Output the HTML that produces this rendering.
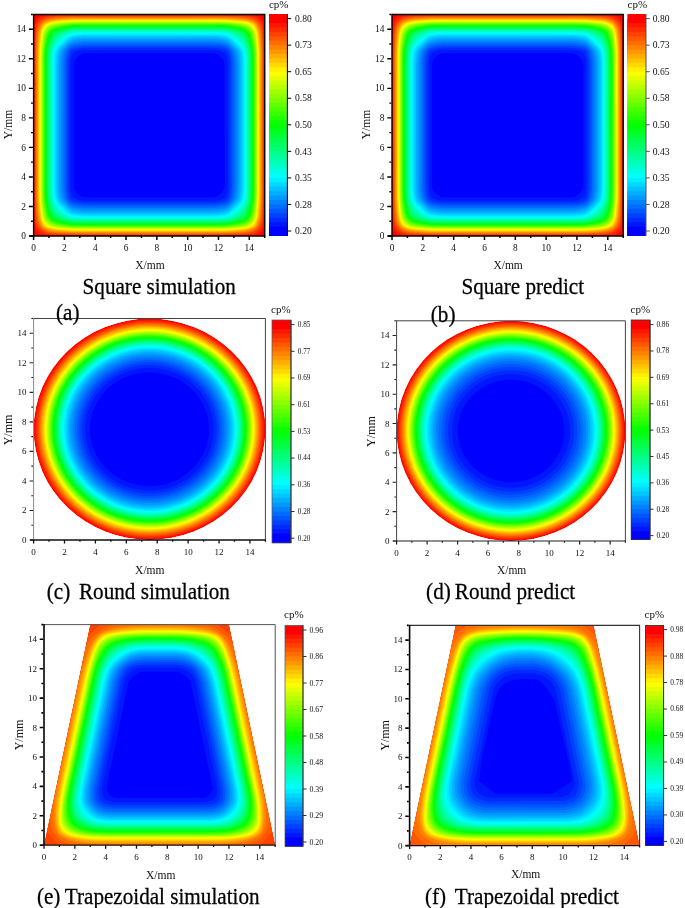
<!DOCTYPE html><html><head><meta charset="utf-8"><style>html,body{margin:0;padding:0;background:#fff;}body{width:685px;height:908px;overflow:hidden;}svg{display:block;filter:blur(0.45px);}</style></head><body><svg width="685" height="908" viewBox="0 0 685 908"><defs><clipPath id="clipa"><rect x="33.60" y="14.50" width="231.10" height="221.50"/></clipPath><clipPath id="clipb"><rect x="392.00" y="14.50" width="231.20" height="221.50"/></clipPath><clipPath id="clipc"><ellipse cx="149.50" cy="429.25" rx="115.90" ry="110.75"/></clipPath><clipPath id="clipd"><ellipse cx="511.00" cy="430.90" rx="114.40" ry="110.10"/></clipPath><clipPath id="clipe"><polygon points="44.00,845.20 275.20,845.20 228.96,624.60 90.24,624.60"/></clipPath><clipPath id="clipf"><polygon points="409.60,845.60 639.60,845.60 593.60,625.40 455.60,625.40"/></clipPath></defs><g clip-path="url(#clipa)"><rect x="33.60" y="14.50" width="231.10" height="221.50" fill="#ff0000"/><path fill="#ff1600" d="M247 236L252.6 235.6L255.6 235.2L258.9 234.2L260.9 232.9L262.4 231.2L263.5 228.5L264.2 225.8L264.6 221.5L264.6 29.5L264.2 25.2L263.7 22.5L262.6 19.8L261.4 18L259.4 16.6L256.1 15.4L252.8 14.9L247 14.5L51.3 14.5L45.4 14.9L42.4 15.4L39.1 16.5L37.1 17.9L35.6 19.9L34.5 23L34 26L33.6 31.4L33.6 219.1L34 224.5L34.5 227.5L35.6 230.5L37 232.5L39.1 234L42.4 235.1L45.4 235.6L51.3 236L247 236Z"/><path fill="#ff2b00" d="M232.1 235.5L248.1 235L253.1 234.3L255.8 233.5L257.6 232.6L259.1 231.5L260.1 230.5L261.2 229L262.6 226L263.4 222L263.9 215L264.3 197.8L264.2 48.5L263.9 34L263.3 27.8L262.8 25.2L262.3 23.5L261.4 21.7L260.1 20L258.5 18.5L256.1 17.1L253.8 16.4L250.6 15.8L242.1 15.2L221.1 14.9L82.1 14.9L58.6 15.2L50.9 15.5L45.1 16.2L41.9 17.3L38.9 19.2L37.4 21.1L36.1 23.2L35.5 25.2L34.9 28.5L34.3 36.8L34 56.5L34 189L34.3 211L34.6 219L35.3 224.8L36.4 227.8L38.2 230.5L39.4 231.6L41.1 232.8L42.9 233.6L44.6 234.2L50.1 235L57.9 235.3L83.8 235.6L232.1 235.5Z"/><path fill="#ff4100" d="M233.9 234.8L243.1 234.4L247.8 234.1L252.6 233.2L255.3 232.2L256.9 231.2L258.4 230L259.7 228.5L260.8 227L261.8 224.2L262.7 219.5L263.2 211.2L263.6 193.8L263.6 50.5L263.1 36.2L262.6 30L261.5 25L260.6 23.2L259.4 21.5L257.4 19.6L255.3 18.3L253.3 17.5L250.1 16.8L242.8 16L224.8 15.6L85.1 15.5L67.6 15.7L54.6 16.1L48.6 16.7L45.6 17.3L43.9 17.9L42.1 18.8L40.4 20.1L38.6 22L37.3 24L36.6 25.8L35.9 29L35.2 36L34.7 53L34.8 202.2L35.2 215.2L35.8 221L36.9 225.8L37.8 227.5L39 229L40.5 230.5L42.1 231.7L43.6 232.5L45.4 233.1L48.4 233.8L51.6 234.2L60.6 234.6L71.6 234.9L85.1 235L214.8 235L233.9 234.8Z"/><path fill="#ff5700" d="M227.9 234.2L245.6 233.5L250.1 232.8L253.8 231.7L255.3 230.8L256.6 229.9L258.5 228L259.6 226.6L260.9 223.8L261.9 219.2L262.5 210.8L263 193.8L262.9 51.5L262.4 37.8L261.9 31.5L261.3 28.5L260.5 25.8L259.8 24.2L258.7 22.8L256.4 20.5L254.6 19.2L252.6 18.4L249.3 17.6L246.1 17.1L242.1 16.8L225.1 16.2L70.1 16.3L56.9 16.7L50.6 17.3L47.6 17.9L45.1 18.6L43.4 19.4L41.9 20.5L39.8 22.5L38.5 24.2L37.6 26.2L36.7 29.5L36.3 32.5L36 36.2L35.4 52.5L35.4 200.5L35.9 213.2L36.4 219.2L37 222.2L37.8 224.8L38.5 226.2L39.6 227.8L41.6 229.8L43.4 231.1L45.1 231.9L47.6 232.6L53.6 233.6L66.1 234.1L85.1 234.4L227.9 234.2Z"/><path fill="#ff6d00" d="M213.6 233.8L227.1 233.6L240.1 233.1L246.1 232.6L250.6 231.7L252.8 231L254.3 230.2L256.1 228.9L257.6 227.5L258.7 226L259.4 224.8L260.8 220.2L261.3 217.2L261.7 212.8L262.3 195.8L262.3 52.2L261.7 38.8L261.2 32.2L260.6 29.5L259.9 26.9L259 25L258 23.5L256.1 21.6L253.9 20L251.3 19L248.3 18.2L245.3 17.8L241.1 17.4L224.8 16.8L71.1 16.9L57.6 17.4L51.4 18L48.4 18.6L45.9 19.4L44.1 20.2L42.6 21.2L40.7 23L39.3 25L38.3 27.2L37.5 30.2L37 33L36.7 37L36 52.8L36.1 199.8L36.6 212.5L37.2 218.5L37.7 221.2L38.5 223.8L39.3 225.5L40.3 227L42.1 228.8L44.1 230.3L45.9 231.1L48.6 232L51.6 232.5L54.6 232.9L67.3 233.5L84.3 233.7L213.6 233.8Z"/><path fill="#ff8200" d="M228.5 233L239.8 232.4L245.3 232L249.6 231.1L253.1 229.8L255.8 228L257 226.8L258.1 225.2L259.6 221.5L260.5 217.2L261 212.5L261.5 203L261.7 191.8L261.7 52L261 38.8L260.4 32.2L259.8 29.5L258.9 27L257.9 25L256.8 23.5L255.1 21.9L252.8 20.6L249.6 19.4L246.1 18.6L240.8 18.1L230.6 17.6L217.1 17.3L71.1 17.5L57.9 18.1L51.6 18.7L48.6 19.4L46.1 20.3L44.4 21.1L42.6 22.4L40.9 24.2L39.7 26.2L38.6 29.2L37.9 32.5L37.4 37.5L36.8 47.2L36.6 60.2L36.7 200L37.3 212.5L38 218.5L38.5 221L39.4 223.5L40.2 225.2L41.5 227L43.1 228.5L45.1 229.8L47.6 230.8L50.6 231.6L56.9 232.3L70.3 233L85.1 233.2L212.3 233.2L228.5 233Z"/><path fill="#ff9800" d="M225.6 232.5L238.1 231.9L244.6 231.3L248.6 230.6L252.6 229.1L255.1 227.6L256.2 226.5L257.1 225.2L258.8 221.2L259.8 217L260.3 212.2L260.9 202.8L261.1 191.5L261.1 52.2L260.4 39.2L259.7 32.8L259.1 30.2L258.3 27.8L257.2 25.5L256.2 24L254.5 22.5L252.6 21.4L249.1 20.1L245.6 19.3L240.3 18.8L229.8 18.1L216.1 17.9L85.3 17.9L71.3 18L58.4 18.7L52.1 19.4L49.4 20L46.9 20.9L44.9 21.8L43.1 23L41.6 24.8L40.5 26.8L39.3 30L38.5 33.2L38 38.2L37.4 48.2L37.2 61.2L37.3 199.5L38 212L38.7 218L39.3 220.5L40 222.8L41.1 225L42.1 226.5L43.6 227.9L45.4 229L48.4 230.2L51.4 231L57.6 231.7L71.1 232.5L85.8 232.6L225.6 232.5Z"/><path fill="#ffae00" d="M220.7 232L229.3 231.8L242.1 230.9L246.6 230.3L250.8 229L253.8 227.6L255.1 226.5L256 225.5L256.8 224L257.8 221.8L259 217.2L259.6 212.5L260.3 203L260.5 191.8L260.5 52.5L259.8 40L259 33.2L258.5 30.8L257.6 28.2L256.4 25.8L255.6 24.5L253.9 23L251.8 21.9L248.3 20.7L245.1 19.9L239.8 19.4L229.3 18.7L215.6 18.5L85.3 18.5L71.8 18.6L58.9 19.3L52.6 20L50.1 20.6L47.4 21.5L45.1 22.5L43.7 23.5L42.3 25L41.1 27.2L39.9 30.5L39.2 33.5L38.7 38.5L38 48.5L37.7 61.8L37.7 186.2L37.9 199.2L38.6 211.5L39.3 217.5L39.8 219.8L40.7 222.2L41.9 224.7L42.7 226L44.1 227.3L45.9 228.3L48.6 229.4L51.9 230.3L58.1 231.1L71.3 231.9L85.6 232L220.7 232Z"/><path fill="#ffc300" d="M215 231.5L227.1 231.3L238.3 230.6L244.8 229.9L249.1 228.9L253 227.2L254.1 226.5L255 225.5L256 224L256.9 222L258.3 217.5L258.9 212.5L259.7 203.2L260 192L259.9 52.8L259.1 40.5L258.3 33.5L257.8 31L257 28.8L256 26.5L255 25L253.4 23.5L251.1 22.3L248.1 21.3L244.6 20.5L239.3 20L229.1 19.3L215.6 19L72.3 19.1L59.6 19.9L53.1 20.6L48.1 22L45.9 23L44.4 23.9L42.9 25.5L41.7 27.8L40.6 30.8L39.9 34L39.3 39L38.6 48.8L38.3 61.8L38.3 186.2L38.4 198.8L39.2 211L40 217.2L41.3 221.8L42.3 224L43.3 225.5L44.6 226.8L46.4 227.8L49.1 228.9L52.1 229.7L58.4 230.5L71.6 231.4L85.3 231.5L215 231.5Z"/><path fill="#ffd900" d="M228 230.8L239.1 229.9L244.6 229.3L248.6 228.4L252 227L254.1 225.5L255.8 222.8L257.2 219L258 214.8L259.2 201.2L259.4 190.2L259.3 52.8L258.5 40.8L257.7 33.5L257.1 31L256.3 28.8L255.3 26.8L254.3 25.2L252.8 24L250.1 22.6L247.1 21.7L244.1 21.1L238.8 20.5L228.3 19.8L213.8 19.5L85.3 19.5L72.3 19.7L59.4 20.5L52.9 21.3L50.4 21.9L48.1 22.7L46.1 23.6L44.6 24.7L43.3 26.2L42 28.8L41.1 31.5L40.5 34.5L39.9 39.5L39.1 49.5L38.8 63.2L38.8 186.2L39 198.8L39.9 211L40.7 217.2L41.2 219.5L42 221.8L43 223.8L44 225.2L45.4 226.4L47.4 227.5L49.9 228.4L52.6 229.1L59.4 230L72.3 230.8L85.3 231L212.6 231L228 230.8Z"/><path fill="#ffef00" d="M227.2 230.2L238.6 229.4L244.1 228.8L247.8 228L251.1 226.7L253.5 225L255.2 222.5L256.7 218.8L257.4 214.5L258.7 201L258.9 190L258.8 52.8L257.9 40.5L257.1 33.5L255.8 29.2L254.8 27.3L253.8 25.8L252.3 24.5L249.8 23.2L247.1 22.3L243.8 21.7L228.1 20.3L213.8 20L85.3 20L72.6 20.2L59.6 21.1L53.1 21.9L50.9 22.4L48.6 23.2L46.6 24.1L45.1 25.2L43.6 27L42.5 29.2L41.6 31.8L41 34.8L39.6 49.8L39.4 63.5L39.4 186.2L39.5 198.5L40.5 211L41.3 217.2L42.6 221.5L43.5 223.2L44.6 224.8L45.9 225.9L47.9 227L50.1 227.9L52.9 228.6L59.4 229.4L72.6 230.3L85.3 230.5L212.6 230.5L227.2 230.2Z"/><path fill="#faff00" d="M226.8 229.8L238.1 228.9L243.6 228.3L247.3 227.5L250.3 226.3L252.8 224.6L253.8 223.5L254.8 222L256.1 218.5L256.9 214.2L258.1 200.8L258.4 189.8L258.3 53.8L257.8 45.2L257.1 37.8L256.5 33.8L256 31.5L255.2 29.5L254.3 27.8L253.3 26.4L251.8 25L249.5 23.8L246.8 22.8L243.6 22.2L227.8 20.8L213.8 20.6L85.3 20.6L72.6 20.7L59.6 21.6L53.4 22.4L51.1 22.9L48.9 23.7L47.1 24.6L45.6 25.7L44.1 27.5L42.9 29.8L42.1 32.2L41.5 35.2L40.2 50L39.9 63.5L39.9 186.2L40.1 198.5L41 210.8L41.8 217L42.4 219.1L43.1 221.1L44.1 223L45.1 224.2L46.5 225.5L48.3 226.5L50.4 227.3L52.9 228L59.4 228.8L72.8 229.8L85.3 229.9L212.3 229.9L226.8 229.8Z"/><path fill="#e4ff00" d="M227 229.2L237.8 228.4L243.3 227.8L246.8 227.1L249.8 225.9L251.2 225L252.6 223.8L254.3 221.4L255.7 218L256.4 213.8L257.6 200.8L257.9 189.8L257.8 54.8L257.4 47L256.1 34.8L255.7 32.5L255 30.5L254.1 28.7L253.1 27.2L251.3 25.6L249.6 24.5L247.1 23.5L244.1 22.8L239.1 22.2L228.6 21.3L215.3 21L85.6 21L72.8 21.2L60.1 22.1L53.6 22.9L49.6 24.1L47.8 25L46.5 26L44.9 27.7L43.7 29.5L42.8 32L42.2 34.8L41.6 39.5L40.7 49.5L40.4 62.2L40.4 186.2L40.6 198.2L41.5 210.2L42.3 216.5L42.8 218.5L43.5 220.5L44.4 222.1L45.4 223.4L46.9 224.8L48.4 225.8L50.4 226.8L52.9 227.4L59.4 228.3L72.6 229.3L85.3 229.5L212.6 229.5L227 229.2Z"/><path fill="#ceff00" d="M214.3 229L225.1 228.9L230.1 228.6L241.3 227.6L246.6 226.6L248.3 225.9L250 225L252.8 222.5L253.7 221.2L254.4 219.8L255.5 216.2L256.1 211.8L257 202.2L257.4 191.2L257.4 58L257.1 48.8L255.8 36L254.7 31.5L253.8 29.5L252.8 28.1L251 26.2L249.2 25L246.8 24L244.3 23.4L239.3 22.7L229.3 21.8L217.1 21.5L85.6 21.5L73.1 21.6L61.1 22.5L54.4 23.3L50.4 24.4L48.7 25.2L47.4 26.2L45.5 28L44.4 29.7L43.4 32L42.8 34.5L42.1 39L41.2 48.8L40.9 60L40.9 186.2L41 198L41.9 209L42.7 215.8L43.8 219.5L45.4 222.3L47 224L48.7 225.2L50.6 226.2L52.9 226.9L59.1 227.8L72.1 228.8L85.3 229L214.3 229Z"/><path fill="#b8ff00" d="M220.8 228.5L228.3 228.3L239.1 227.3L244.3 226.6L247.3 225.7L248.8 224.9L250.3 223.9L251.8 222.5L253 221L254.4 218.2L255.3 214.2L256.6 201L256.9 190.2L256.9 56.8L256.6 48.2L255.2 36L254.7 33.5L254.1 31.5L253.3 30L252.2 28.5L250.5 26.8L248.6 25.4L246.3 24.5L243.6 23.8L238.8 23.2L228.8 22.3L216.1 21.9L85.6 21.9L72.8 22.1L60.9 23L54.4 23.9L52.4 24.3L50.5 25L49.2 25.8L47.6 26.9L45.8 28.8L44.7 30.5L43.9 32.5L43.2 35.2L42.6 39.8L41.7 49.2L41.4 61.2L41.4 186.2L41.5 198L42 205.5L43.2 215.5L44.3 219.2L45.1 220.7L46.1 222L47.6 223.6L49.4 224.9L51.1 225.7L53.1 226.4L59.4 227.3L72.3 228.4L85.6 228.6L220.8 228.5Z"/><path fill="#a3ff00" d="M224.9 228L230.8 227.6L240.8 226.6L245.1 225.8L247.6 224.9L249.3 223.8L250.8 222.5L252.1 221L253.1 219.6L254.2 216.8L255.1 212L256.2 200.2L256.5 189.2L256.4 55.2L256 47.5L254.6 35.8L254.1 33.4L253.5 31.8L252.7 30.2L251.5 28.8L249.7 27L247.6 25.6L245.6 24.8L242.8 24.2L237.8 23.5L228.3 22.7L215.1 22.4L85.6 22.4L72.8 22.5L61.1 23.5L54.6 24.4L52.6 24.9L51 25.5L48 27.5L46.4 29.2L45.1 31.1L44.2 33.2L43.6 36L42.1 49.5L41.8 62L41.8 186.2L42 198.2L42.9 208.8L43.8 215.5L44.9 219L46.8 221.8L48.4 223.3L50.1 224.5L51.6 225.3L53.6 225.9L60.1 226.9L72.6 228L85.8 228.1L212.8 228.1L224.9 228Z"/><path fill="#8dff00" d="M226.8 227.5L236.3 226.6L242.1 225.9L245.6 225L248.1 223.8L249.6 222.6L251 221.2L252.2 219.8L253 218.2L254 214.8L254.8 209.5L255.8 199.8L256.1 188.5L256.1 64.2L255.9 53.8L255.5 46.5L254 35.8L253 32.2L252 30.5L250.8 29.1L249.1 27.5L246.8 26L244.8 25.2L241.8 24.6L227.8 23.1L214.6 22.8L85.6 22.8L73.1 22.9L65.1 23.5L55.4 24.8L51.9 25.8L50.1 26.8L48.5 28L46.9 29.8L45.6 31.8L44.8 33.5L44.1 36.5L42.5 49.8L42.2 62.2L42.2 186.2L42.4 198L43 205.5L44.3 215L45.4 218.3L46.3 220L47.4 221.3L48.9 222.8L50.6 224L52.4 224.9L54.4 225.5L60.7 226.5L72.8 227.6L85.6 227.7L212.6 227.7L226.8 227.5Z"/><path fill="#77ff00" d="M220.3 227.2L228.1 227L237.5 226L242.6 225.2L246.1 224.1L247.8 223.1L249.3 222L250.5 220.8L251.6 219.2L252.5 217.8L253.1 216L254 211.5L255.3 200.5L255.6 189.5L255.6 56.5L255.2 48.2L253.7 37.2L252.6 33L251.6 31.2L250.5 29.8L248.7 28L246.6 26.7L244.3 25.8L241.3 25.1L228.1 23.5L215.1 23.2L85.6 23.2L73.1 23.4L65.6 23.9L56 25.2L53.9 25.8L52.1 26.5L50.6 27.3L49.1 28.4L47.4 30.2L46.1 32.2L45.3 34.2L44.6 37L43 49.8L42.7 62.2L42.7 186.2L42.8 198L43.4 204.8L44.8 214.2L45.9 217.8L46.7 219.2L47.8 220.8L49.3 222.2L51.1 223.5L52.9 224.3L54.9 225L61.4 226.1L72.8 227.1L85.6 227.3L220.3 227.2Z"/><path fill="#62ff00" d="M224.2 226.8L230.8 226.3L240.5 225L244.8 223.8L247.8 222.3L249.3 221L250.4 219.8L251.4 218.2L252.1 216.8L253.3 212.5L254.4 205.2L255 198.8L255.2 187.2L255.2 64.2L255.1 53.5L254.6 46.8L253.1 37.1L251.8 33L251 31.5L249.8 30L248.1 28.4L245.8 27.1L243.3 26.2L240.3 25.5L233.4 24.5L227.6 23.9L214.3 23.6L85.6 23.6L73.1 23.8L65.8 24.4L56.6 25.8L52.6 27L50.9 28L49.5 29L47.9 30.8L46.6 32.8L45.7 35.2L45 38.2L43.4 50L43.1 62.8L43.1 186.2L43.3 198L43.9 204.6L45.2 213.5L46.5 217.5L47.3 219L48.4 220.3L49.9 221.8L51.6 223L53.4 223.8L55.6 224.5L58.6 225.1L62.9 225.8L68.8 226.4L73.1 226.7L85.8 226.9L212.8 226.9L224.2 226.8Z"/><path fill="#4cff00" d="M226.1 226.2L233.3 225.5L241.1 224.2L245.1 223L246.6 222.2L248.1 221.2L249.3 220L250.3 218.6L251.1 217.2L251.8 215.5L253 210.8L254.2 202.8L254.6 198L254.8 186.5L254.8 64.2L254.6 53.2L254.1 46.8L252.6 37.8L251.1 33.2L250.3 31.8L249.3 30.5L247.6 28.9L245.3 27.6L242.6 26.7L238.8 25.8L232.1 24.8L227.3 24.3L213.8 24L85.6 24L73.3 24.2L66.3 24.8L57.1 26.3L52.9 27.6L51.3 28.5L49.9 29.6L48.4 31.3L47.2 33.2L46.2 36L45.4 39.6L44.4 45.9L43.8 50.5L43.5 63.2L43.5 186.2L43.7 198L44.4 204.6L45.8 213L47.2 217.2L48 218.8L49 220L50.4 221.3L52.1 222.5L53.8 223.2L56.1 223.9L59.9 224.8L64.9 225.5L73.1 226.3L85.6 226.5L212.3 226.5L226.1 226.2Z"/><path fill="#36ff00" d="M218.9 226L226.8 225.8L233.3 225L241.6 223.4L244.5 222.5L246.3 221.6L247.6 220.7L248.8 219.5L249.9 218L250.7 216.5L252 212L253.5 204.2L254.1 198.5L254.3 187.2L254.3 64.5L254.2 55.2L253.7 48L252.1 38.8L250.7 34L249.9 32.5L248.8 31L247.1 29.4L245.1 28.3L242.3 27.3L238.6 26.4L231.8 25.3L227.3 24.8L214.1 24.4L85.6 24.4L73.3 24.6L66.8 25.2L57.6 26.9L53.4 28.2L50.6 29.9L49.1 31.5L47.9 33.5L46.8 36.2L45.9 40L44.9 46.1L44.3 50.2L44 62.8L44 186.2L44.2 197.8L44.8 204L46.4 212.5L47.7 216.8L49.4 219.3L50.6 220.6L52.2 221.8L53.9 222.5L56.1 223.3L59.6 224.1L65.3 225L73.1 225.8L85.6 226.1L218.9 226Z"/><path fill="#21ff00" d="M221 225.5L228.6 225.1L237.8 223.6L243.1 222.2L245.1 221.5L246.6 220.5L247.8 219.5L248.9 218.2L250.4 215.2L251.6 210.9L253.2 202.2L253.6 198L253.9 186.8L253.9 64.5L253.7 55.5L253.2 48.5L251.5 39.2L250.1 34.5L249.3 33L248.3 31.5L246.6 30L244.6 28.8L241.6 27.8L237.8 26.9L231.2 25.8L227.1 25.2L213.8 24.9L85.6 24.9L73.6 25.1L67.3 25.7L57.9 27.5L53.6 28.9L51 30.5L49.4 32.2L48.4 34.2L47.4 37L46.4 41L45.3 46.8L44.8 50.8L44.4 63.2L44.4 186.2L44.7 197.5L45.2 203.2L47 212.2L48.4 216.3L49.1 217.8L50 219L51.4 220.3L52.9 221.3L56.8 222.8L67.1 224.8L73.3 225.4L85.8 225.6L221 225.5Z"/><path fill="#0bff00" d="M221.5 225L228.6 224.6L238.1 222.9L243.1 221.5L244.9 220.8L246.3 219.8L247.5 218.8L248.5 217.5L250 214.2L251.2 209.8L252.8 201L253.1 197.5L253.4 186.5L253.4 64.5L253.2 56.5L252.8 49.5L251.1 40.2L249.6 35.2L248.8 33.5L247.7 32L246.1 30.5L243.8 29.3L240.8 28.3L236.8 27.4L230.7 26.2L226.8 25.7L213.6 25.4L85.6 25.4L74.3 25.6L68.3 26.1L58.6 28L54.4 29.3L52.9 30.1L51.6 31L49.9 32.9L48.6 35.5L47.6 38.8L46.4 44.6L45.3 51.8L44.9 63.5L44.9 186.2L45.1 196.2L45.7 202.2L47.5 211.5L48.9 215.8L49.7 217.2L50.6 218.5L51.9 219.8L53.4 220.7L57.4 222.2L67.3 224.2L73.6 224.9L85.8 225.1L212.6 225.1L221.5 225Z"/><path fill="#00ff0b" d="M220.4 224.5L227.8 224.1L236.7 222.5L242.3 221L244.3 220.2L245.8 219.2L246.9 218.2L247.8 217.1L249.3 213.8L250.6 209.2L252.2 201L252.6 197L252.8 186.5L252.7 57.5L252.3 50L250.6 41.3L249.1 36L248.1 33.9L247.1 32.4L245.1 30.8L242.4 29.5L238.9 28.5L232.8 27.2L225.6 26.2L213.3 25.9L85.6 25.9L75.8 26.1L69.3 26.6L59.9 28.4L55.1 29.8L53.4 30.7L52.1 31.5L50.4 33.5L49.1 36.2L48.1 39.6L46.7 45.8L45.8 52L45.5 63.8L45.5 186L45.6 195L46.1 201.5L47.9 210.2L49.4 214.9L50.3 216.8L51.1 218L52.4 219.2L53.6 220L55.6 220.9L57.9 221.6L67.8 223.7L74.3 224.4L85.8 224.6L212.6 224.6L220.4 224.5Z"/><path fill="#00ff21" d="M218.7 224L226.1 223.7L231.8 222.8L240.6 220.8L243.1 219.9L245.1 218.8L246.1 218L247.1 216.8L248.7 213.5L250 208.8L251.6 201L252 197L252.3 186.5L252.2 58L251.8 51L250.8 45L248.7 37.2L247.7 34.8L246.5 33L244.8 31.5L241.8 30.1L238.3 29.1L231.8 27.7L225.5 26.8L213.3 26.4L85.6 26.4L76.3 26.6L69.6 27.1L60.6 28.9L55.9 30.3L53.9 31.2L52.6 32.2L51.1 33.9L49.7 36.8L48.7 40.2L47.2 46.5L46.4 52.2L46 64L46 186L46.2 194.8L46.7 201.2L48.5 209.8L50 214.5L50.9 216.2L51.9 217.6L53.1 218.7L54.4 219.5L56.4 220.4L58.9 221.2L68.6 223.2L71.8 223.7L75.1 223.9L85.8 224.1L218.7 224Z"/><path fill="#00ff36" d="M216.5 223.5L225.3 223.2L230.3 222.5L239.6 220.4L242.3 219.4L244.3 218.3L245.3 217.5L246.3 216.3L247.9 213.2L249.3 208.5L251 201L251.4 197L251.7 186.5L251.6 58.2L251.3 51.2L250.3 45.8L248.1 37.7L247.1 35.5L245.8 33.5L244 32L241.1 30.6L237.6 29.6L231.1 28.1L225.3 27.3L213.1 27L85.6 27L76.8 27.1L70.1 27.6L61.9 29.3L56.6 30.9L54.7 31.8L53.3 32.8L51.6 34.8L50.4 37.3L49.3 40.8L47.7 47L47 52.2L46.6 64L46.6 186L46.8 194.2L47.2 200.8L48.9 208.1L50.5 213.5L51.5 215.5L52.5 217L53.6 218L55.2 219L59.6 220.6L69.1 222.7L72.1 223.1L75.6 223.3L85.6 223.5L216.5 223.5Z"/><path fill="#00ff4c" d="M222.7 222.8L228.6 222.2L236.3 220.5L241.1 219L242.7 218.2L244.2 217.2L245.2 216.2L246.1 215L247.6 211.8L249.7 204.5L250.6 199.5L251.1 186.2L251 58L250.7 51.2L249.6 45.8L247.3 38L246.3 35.9L245.1 34.1L243.1 32.5L240.5 31.2L237.1 30.2L230.6 28.6L225.1 27.9L212.8 27.5L85.6 27.5L76.8 27.7L70.1 28.2L62.4 29.9L57.1 31.5L55.2 32.5L53.8 33.5L52.4 35.3L51 38L49.9 41.4L48.3 47.2L47.5 52.5L47.2 64L47.2 186L47.4 194L47.7 199.8L48.9 205.4L51 212.5L51.9 214.5L53.1 216.2L54.5 217.5L56.1 218.5L60.6 220.1L69.6 222.2L72.6 222.6L76.6 222.8L85.6 223L212.3 223L222.7 222.8Z"/><path fill="#00ff62" d="M220.8 222.2L226.6 221.9L231.8 220.9L239.3 218.8L241.6 217.8L243.1 216.8L245.3 214.5L246.8 211.5L249 204.5L250 199.5L250.4 193.8L250.5 186.2L250.4 58.5L250.1 51.5L249.2 46.8L246.8 39.1L245.8 36.9L244.6 35.1L242.6 33.3L240.1 32L236.8 30.9L230.8 29.3L225.3 28.5L213.3 28.1L85.8 28.1L77.6 28.2L71.3 28.6L65.7 29.8L58.6 31.9L56.6 32.8L54.8 34L53.1 35.9L51.9 38.1L50.6 41.6L49 47.2L48.1 52.5L47.8 63.5L47.8 186L47.9 193.2L48.3 199.2L49.2 204.2L51.5 211.5L52.6 213.8L53.6 215.3L55.1 216.7L56.6 217.7L58.6 218.6L61.1 219.5L69.6 221.6L72.6 222L76.3 222.2L85.8 222.4L212.6 222.4L220.8 222.2Z"/><path fill="#00ff77" d="M218.4 221.8L225.6 221.4L230.1 220.7L237.6 218.5L240 217.5L241.7 216.5L244.1 214.2L245.1 212.9L245.9 211.2L248.2 204.8L249.4 199.5L249.8 193.5L249.9 186.2L249.8 59L249.5 51.8L248.6 47.2L246.1 39.6L245.1 37.6L243.9 36L241.8 34.1L239.5 32.8L236.1 31.5L230.8 30L225.3 29.1L213.3 28.7L85.8 28.7L77.8 28.8L71.6 29.2L66.3 30.3L59.4 32.5L57.4 33.5L55.6 34.8L53.8 36.8L52.5 39L51.1 42.6L49.6 47.6L48.8 52.5L48.4 63.8L48.4 186L48.5 193L48.9 199.2L49.9 203.9L52.1 210.8L53.1 212.8L54.4 214.5L55.9 215.9L57.6 217.1L59.4 218L62.2 219L66.4 220.2L69.8 221L72.6 221.4L76.6 221.6L85.8 221.8L218.4 221.8Z"/><path fill="#00ff8d" d="M213.9 221.2L224.6 220.9L228.1 220.4L231.3 219.7L235 218.5L237.6 217.5L239.8 216.4L241.4 215.2L242.8 214L244 212.5L245.1 210.8L247.3 205L248.7 199.8L249.1 194.2L249.3 186.2L249.2 59.2L248.8 52L248 47.8L247.1 44.8L245.6 40.9L244.6 38.9L243.2 37L241.1 35L238.7 33.5L235.7 32.2L230.6 30.6L225.3 29.7L213.6 29.2L85.8 29.2L78.3 29.4L72.1 29.8L67.1 30.8L60.6 33L58.4 34.2L56.6 35.5L54.9 37.3L53.2 39.8L51.6 43.6L50.3 47.5L49.4 52.5L49 63.5L49 186L49.1 192.5L49.5 198.8L50.4 203.2L52.9 209.9L53.9 211.8L55.1 213.5L56.6 215L58.3 216.2L60.1 217.2L62.6 218.2L66.4 219.5L69.6 220.3L72.6 220.8L76.2 221L85.6 221.3L213.9 221.2Z"/><path fill="#00ffa3" d="M219.1 220.5L225.8 220.1L230.2 219.2L236.1 217.1L238.2 216L240.1 214.8L242.6 212.2L244.8 208.8L247 203.5L248.1 198.8L248.5 192.5L248.7 186.2L248.6 59.2L248.2 52L247.3 47.8L246.3 45L244.8 41.7L243.6 39.6L242.2 37.8L240.1 35.8L237.6 34.2L233.9 32.5L230.1 31.2L225.1 30.3L213.3 29.9L85.8 29.9L78.6 30L72.1 30.4L67.3 31.5L61.5 33.8L59.3 35L57.4 36.5L55.5 38.5L53.9 41L52.1 44.7L51 48L50.1 52.5L49.6 63.8L49.6 186L49.8 192.5L50.2 198.8L51.1 203L53.4 208.6L54.6 210.8L56.1 212.8L57.9 214.5L59.9 215.8L62.4 217.1L65.6 218.4L68.3 219.3L71.1 219.9L77.3 220.4L85.8 220.6L212.3 220.6L219.1 220.5Z"/><path fill="#00ffb8" d="M221.1 219.8L226.3 219.3L230.6 218.3L235.3 216.2L239.3 213.7L240.8 212.3L242.2 210.8L244.8 206.5L246.6 202.3L247.5 198.2L248 186.2L247.9 59.5L247.5 52.2L246.6 48.2L245.7 45.8L244.6 43.6L242.9 40.8L241.3 38.7L239.3 36.8L236.7 35L233.1 33.2L229.6 31.9L225.1 31L213.3 30.5L85.8 30.5L78.8 30.7L72.3 31.1L67.8 32.1L65.1 33.2L62.5 34.5L60.1 36L58.4 37.3L56.4 39.5L54.6 42L52.9 45.2L51.6 48.5L50.8 52.8L50.3 63.8L50.3 186L50.4 192L50.9 198.5L51.9 202.7L53.9 207.2L55.4 209.8L56.9 211.8L58.7 213.5L60.8 215L64 216.8L66.6 217.9L69.1 218.8L71.6 219.3L77.8 219.8L85.8 220L212.3 220L221.1 219.8Z"/><path fill="#00ffce" d="M216.4 219.2L224.8 218.8L228.1 218.2L232 216.8L236.7 214L238.6 212.5L240.2 211L243.3 206.8L245.5 202.8L246.2 200.8L246.7 198.5L247.1 192.5L247.3 186.2L247.2 60L246.7 52.2L245.9 48.8L245.1 46.8L244 44.8L242.2 42L240.6 40L238.6 38L235.9 36L232.1 33.8L229.3 32.7L227.1 32.1L224.8 31.7L213.6 31.2L85.8 31.2L79.8 31.3L72.8 31.8L68.8 32.7L66.8 33.5L64.4 34.8L61.6 36.5L59.7 38L57.7 40L55.9 42.4L53.7 45.8L52.5 48.5L51.6 52.5L51 63.2L51 186L51.1 191.2L51.6 198.2L52.4 201.8L53.2 203.8L54.4 205.8L57.6 210.4L59.4 212.2L61.6 214L64.9 216L67.3 217.2L69.4 218L71.8 218.6L77.6 219.1L85.8 219.3L216.4 219.2Z"/><path fill="#00ffe4" d="M216.5 218.5L224.5 218L227.1 217.6L230.3 216.4L234 214.2L236.6 212.3L238.6 210.5L242.3 206.1L243.7 204L244.8 202L245.5 200L245.8 198.1L246.3 192L246.5 186.2L246.4 60.8L245.9 52.8L245.2 49.8L244.5 48L243.3 45.9L240.1 41.5L237.6 39L234.7 36.8L231.6 34.8L229 33.5L226.8 32.9L224.8 32.5L214.1 31.9L80.6 32L73.1 32.6L69.8 33.3L65.8 35.2L61 38.8L58.7 41L56.4 43.8L54.6 46.4L53.3 49L52.8 50.8L52.4 52.8L51.8 63L51.9 190.2L52.4 197.8L53.1 200.9L54.9 204.5L58.1 208.8L60.2 211L62.6 213L65.4 215L68.1 216.5L70.1 217.2L72.1 217.8L78.1 218.3L85.8 218.6L216.5 218.5Z"/><path fill="#00fffa" d="M213.5 217.8L219.6 217.5L225.6 216.9L228.6 216L231.3 214.6L233.5 213L236.5 210.5L241.1 205.7L242.5 203.8L243.6 201.9L244.4 200L244.9 198L245.5 192L245.7 186.2L245.6 62.5L245.3 56L244.6 51.2L243.3 48L240.8 44.5L237.8 41.3L234.8 38.5L231.8 36.2L229.2 34.8L227.1 34L225.1 33.5L215.8 32.8L82.3 32.8L74.8 33.3L71.3 33.9L67.7 35.5L63.8 38.2L60.7 41L57.9 44.1L55.9 46.5L54.6 48.8L53.9 50.7L53.4 52.5L52.7 61.2L52.7 188.5L53.1 195.1L53.7 199.2L55 202.5L57.4 205.8L59.9 208.6L62.4 211L65.4 213.5L67.8 215.1L69.8 216.1L72.1 216.8L77.8 217.4L85.8 217.8L213.5 217.8Z"/><path fill="#00efff" d="M215.2 216.8L220.6 216.4L225.6 215.8L228.1 215L230.6 213.6L234.3 210.5L240.6 204.2L242.7 201L243.3 199.4L243.8 197.8L244.4 191.8L244.7 186.2L244.7 63.2L244.3 57.5L243.6 51.9L242.5 49L240.4 46L237.8 43.4L233 38.8L230.7 37L228.6 35.8L226.7 35L224.8 34.6L215.8 33.8L83.3 33.7L76.8 34.2L72.1 34.9L68.8 36.2L65.6 38.5L58.6 45.2L57 47.2L55.7 49.2L55.1 50.8L54.6 52.5L53.7 61.2L53.7 187.8L54.1 193.8L54.7 198.8L55.9 201.5L57.9 204.4L60.1 206.8L64.8 211.2L66.9 213L68.8 214.2L70.6 215.1L72.6 215.8L79.1 216.5L85.8 216.8L215.2 216.8Z"/><path fill="#00d9ff" d="M217.4 215.5L222.5 215L225.8 214.4L228.3 213.4L230.8 211.7L238 205L240.4 202.2L241.4 200.8L242.1 199L242.8 195.1L243.3 190.2L243.5 186L243.5 63.5L243.1 57.8L242.4 52.2L241.4 49.8L239.6 47.2L231.8 39.6L229.8 38L228.1 36.9L226.5 36.2L224.8 35.8L215.6 34.9L84.1 34.8L78.1 35.2L72.6 36L69.6 37.2L66.9 39.2L59.6 46.2L58.1 48L56.9 49.8L56.3 51.2L55.8 52.8L55.2 57.5L54.9 61.8L54.8 187.5L55.2 192.8L55.9 198.2L56.9 200.8L58.9 203.5L66.3 210.8L68.1 212.2L69.8 213.4L71.6 214.2L73.1 214.6L80.3 215.5L86.1 215.7L212.3 215.7L217.4 215.5Z"/><path fill="#00c3ff" d="M217 214.2L221.7 213.8L225.6 213.1L228 212L230.4 210.2L237.3 203.8L239.6 201L240.9 198.2L241.7 193.2L242.2 186L242.2 63.5L241.8 58.2L240.9 52.5L240 50.2L238.4 48L230.8 40.6L229.1 39.2L227.3 38.1L225.6 37.4L223.8 37.1L219.3 36.5L215.1 36.1L84.3 36.1L78.6 36.5L73.1 37.3L70.6 38.3L67.8 40.3L60.6 47.2L59.1 49L58.1 50.5L57.5 52L57.1 54L56.2 62L56.1 187.2L56.5 192.5L57.4 198L58.3 200.2L59.9 202.5L67.3 209.8L70.6 212.2L72.1 212.9L73.6 213.3L81.3 214.3L85.8 214.4L212.3 214.4L217 214.2Z"/><path fill="#00aeff" d="M213.7 213L219.1 212.6L224.8 211.7L226.8 210.9L228.8 209.7L235 204L238.1 200.5L239.3 198L240.2 193L240.6 189.5L240.7 186L240.7 63.8L240.3 58.5L239.3 52.8L238.5 50.8L236.9 48.5L230.3 42.1L228.4 40.5L226.7 39.5L225.1 38.9L221.8 38.3L214.3 37.5L84.6 37.5L78.8 38L73.1 38.9L70.8 39.9L68.3 41.7L62 47.8L60.6 49.5L59.6 51L59 52.5L58.4 55.8L57.6 62.8L57.6 187L58 192.2L59 197.8L59.8 199.8L61.4 202L67.8 208.4L69.6 209.8L71.3 210.9L72.8 211.5L74.6 211.9L82.1 212.9L85.8 213L213.7 213Z"/><path fill="#0098ff" d="M216.5 211.2L221.8 210.5L225.8 209.6L228.3 208.2L231.8 205.2L235.2 201.8L237 199L238 195.8L238.8 190.5L239.1 185.8L239.1 63.5L238.6 58.2L237.4 52.5L236.5 50.5L234.5 48L232.1 45.5L229.6 43.3L227.6 41.8L225.8 40.9L223.8 40.4L219.6 39.6L213.1 39.1L84.3 39.1L78.6 39.6L72.9 40.8L70.3 42L67.1 44.7L62.9 49L61.8 50.5L61 52L59.8 58L59.2 64L59.2 187L59.7 192.2L60.9 198L61.8 200L63.8 202.5L68.3 206.9L70.3 208.5L72.1 209.4L73.6 210L77.1 210.6L83.3 211.4L212.3 211.4L216.5 211.2Z"/><path fill="#0082ff" d="M216.6 209.5L221.3 208.8L225.6 207.9L228.3 206.4L231.5 203.8L233.9 201L235.4 198.5L236.4 194.2L237.1 189.5L237.3 185.8L237.3 63.5L236.7 58.2L235.5 52.5L234.4 50.2L232.5 47.8L228.8 44.5L227.1 43.3L225.6 42.6L219.1 41.3L212.8 40.8L84.6 40.8L79.1 41.3L73.1 42.5L70.6 43.7L67.6 46L64.6 49.2L63.6 50.8L62.8 52.2L61.5 58.5L61 64.2L61 187L61.6 192.2L62.8 198L63.9 200.2L65.8 202.8L69.3 205.9L71.1 207.1L72.6 207.8L78.3 209.1L84.1 209.7L212.3 209.7L216.6 209.5Z"/><path fill="#006dff" d="M216.3 207.8L220.8 207.1L225.3 206.2L227.8 205L230.3 203L232.5 200.5L233.6 198.2L234.6 193.8L235.3 189.2L235.4 185.8L235.4 63.8L235 58.8L233.8 52.8L232.8 50.5L231.1 48.2L228.2 45.8L225.3 44.3L218.6 43L212.6 42.6L84.6 42.6L79.1 43.1L73.1 44.2L70.6 45.4L68.2 47.2L65.8 50L64.6 52.5L63.3 59L62.9 64.5L62.9 187L63.4 192.2L64.6 198L65.5 200L67.2 202.2L70.1 204.7L72.8 206.2L78.8 207.4L84.6 207.9L212.3 207.9L216.3 207.8Z"/><path fill="#0057ff" d="M216.9 206L221.1 205.4L225.3 204.5L227.4 203.5L229.5 201.8L231 200L231.9 198L233 193.2L233.5 189L233.7 185.8L233.6 63.8L233.2 58.5L232 52.8L231.1 50.8L229.8 49L227.3 47L224.8 45.8L218.1 44.6L212.3 44.3L84.8 44.3L79.3 44.8L73.3 45.9L71.1 46.9L69.1 48.4L67.3 50.5L66.3 52.8L65.1 59L64.6 64.5L64.7 186.8L65.1 192L66.3 197.8L67.1 199.6L68.5 201.5L70.8 203.5L73.3 204.6L79.3 205.7L84.8 206.2L212.3 206.2L216.9 206Z"/><path fill="#0041ff" d="M214.8 204.5L219.6 204L224.8 202.9L226.6 202.1L228.1 201L229.3 199.5L230.2 197.8L231.2 193.2L231.8 189L231.9 185.8L231.9 64L231.6 59.5L230.6 54.4L229.9 52L228.5 50L226.6 48.4L224.6 47.5L218.1 46.3L212.3 45.9L85.1 45.9L79.6 46.4L73.9 47.5L72.1 48.2L70.2 49.5L68.7 51.5L67.9 53.5L66.8 59.2L66.4 64.5L66.4 186.8L66.8 191.5L67.8 196.7L68.5 198.8L69.8 200.6L71.6 202.1L73.6 202.9L79.3 204.1L84.8 204.6L214.8 204.5Z"/><path fill="#002bff" d="M214.9 202.8L219 202.2L223.1 201.4L225.3 200.6L226.8 199.6L227.9 198L228.7 195.8L229.5 192L230 188.2L230.1 64L229.8 60L229 56L227.9 52.5L226.9 51L225.1 49.7L221.5 48.8L216.8 47.9L212.3 47.7L85.1 47.7L80.9 48L76.8 48.8L73.3 49.7L71.6 50.8L70.4 52.5L69.3 56L68.5 60.5L68.2 64.8L68.2 186.5L68.5 190.5L69.3 194.5L70.3 198L71.3 199.5L73.1 200.7L76.1 201.6L80.6 202.5L85.1 202.8L214.9 202.8Z"/><path fill="#0016ff" d="M214.6 200.8L218.1 200.3L221 199.5L223.4 198.5L224.8 197.5L225.8 195.9L226.8 193.4L227.6 190.5L228 187.5L228 64.2L227.7 61L227.1 57.9L226.1 55.1L224.8 53.1L222.9 51.8L219.8 50.7L216.1 49.9L212.3 49.7L85.3 49.7L81.6 50L78.1 50.8L75.4 51.8L73.6 52.9L72.8 54L71.9 55.8L70.7 60L70.3 63.8L70.3 70.8L70.3 186.5L70.6 189.8L71.3 193.1L72.3 195.7L73.6 197.6L75.4 198.8L78.1 199.8L81.6 200.5L85.3 200.8L214.6 200.8Z"/><path fill="#0000ff" d="M213.3 197.5L215.1 197.1L217.1 196.3L219.1 195.1L220.8 193.6L222.3 191.9L223.5 190L224.3 188L224.6 186.2L224.6 64.5L224.3 62.8L223.6 60.8L222.6 59L221.1 57.2L219.1 55.4L216.8 54L214.6 53.2L212.3 52.9L85.6 53L83.6 53.3L81.5 54L79.4 55.2L77.6 56.7L75.9 58.8L74.7 60.8L74 62.8L73.7 64.8L73.7 186L74 187.8L74.7 189.8L75.7 191.5L77.1 193.2L79.1 195L81.1 196.3L83.3 197.2L85.6 197.5L213.3 197.5Z"/></g><g clip-path="url(#clipb)"><rect x="392.00" y="14.50" width="231.20" height="221.50" fill="#ff0000"/><path fill="#ff1600" d="M605.5 236L611 235.7L614 235.2L617.1 234.2L619.2 233L620.8 231.4L621.9 229L622.6 226.2L623 222.5L623 28L622.6 24.5L622 22L621.1 19.8L619.8 18L617.8 16.5L614.5 15.4L611.5 14.9L605.5 14.5L409.7 14.5L403.8 14.9L400.8 15.4L397.5 16.5L395.5 17.9L394 19.9L392.9 23L392.4 26L392 31.4L392 219.1L392.4 224.5L392.9 227.5L394 230.5L395.4 232.5L397.5 234L400.8 235.1L403.8 235.6L409.7 236L605.5 236Z"/><path fill="#ff2b00" d="M590.6 235.5L601.2 235.3L606.8 235L611.5 234.3L614.5 233.4L617.6 231.5L618.8 230.4L619.8 229L621.1 226L621.9 222L622.4 215L622.8 197.8L622.7 48.5L622.4 34.2L621.8 28L621.3 25.2L620.8 23.5L619.9 21.8L618.6 20L616.9 18.5L614.5 17.1L612.2 16.3L609.2 15.8L601 15.2L580.2 14.9L440.8 14.9L417 15.2L409.2 15.5L403.5 16.2L400.2 17.3L397.3 19.2L395.8 21.1L394.5 23.2L393.9 25.2L393.3 28.5L392.7 36.8L392.4 56.5L392.4 189L392.7 211L393 219L393.7 224.8L394.8 227.8L396.6 230.5L397.8 231.6L399.5 232.8L401.2 233.6L403 234.2L408.5 235L416.2 235.3L442.2 235.6L590.6 235.5Z"/><path fill="#ff4100" d="M592.3 234.8L601.5 234.4L606.2 234.1L611 233.2L613.8 232.2L615.2 231.3L616.8 230L618.2 228.5L619.2 227L620.3 224.2L621.2 219.5L621.7 211.2L622.1 193.8L622.1 50.2L621.6 36L621.1 29.8L620.5 27L619.9 24.8L619 23L617.8 21.4L615.7 19.5L613.8 18.2L611.8 17.4L608.5 16.7L605 16.3L601 16L583 15.6L443.5 15.5L426 15.7L413 16.1L407 16.7L404 17.3L402.2 17.9L400.5 18.8L398.8 20.2L397 22L395.7 24L395 25.8L394.3 29L393.6 36L393.1 53L393.2 202.2L393.6 215.2L394.2 221L395.3 225.8L396.2 227.5L397.4 229L398.9 230.5L400.5 231.7L402 232.5L403.8 233.1L406.8 233.8L410 234.2L419 234.6L430 234.9L443.5 235L573.2 235L592.3 234.8Z"/><path fill="#ff5700" d="M586.4 234.2L604 233.5L608.5 232.8L612.2 231.7L613.8 230.9L615 229.9L617 228L618 226.8L618.8 225.4L619.4 223.8L620.4 219.2L621 210.8L621.5 193.8L621.4 51.5L620.9 37.8L620.4 31.5L619.8 28.5L619 25.8L618.3 24.2L617.2 22.8L615 20.6L613.2 19.2L611.2 18.4L608 17.6L604.8 17.1L600.8 16.8L583.8 16.2L428.8 16.3L415.2 16.7L409 17.3L406 17.9L403.5 18.6L401.8 19.4L400.2 20.5L398.2 22.5L396.9 24.2L396 26.2L395.1 29.5L394.7 32.5L394.4 36.5L393.8 52.5L393.8 200.5L394.3 213.2L394.8 219.2L395.4 222.2L396.2 224.8L396.9 226.2L398 227.8L400 229.8L401.8 231.1L403.5 231.9L406 232.6L412 233.6L424.8 234.1L443.5 234.4L586.4 234.2Z"/><path fill="#ff6d00" d="M572 233.8L585.8 233.6L598.8 233.1L604.8 232.6L609.2 231.7L611.5 230.9L612.8 230.2L614.5 229L616.1 227.5L617.2 226L617.9 224.8L619.3 220.2L619.8 217.2L620.2 212.8L620.8 195.5L620.8 52.2L620.2 38.8L619.7 32.2L619.1 29.5L618.4 27L617.5 25L616.5 23.5L614.8 21.7L612.5 20.1L610.2 19.1L607 18.3L604 17.8L599.8 17.5L583.2 16.8L429.5 16.9L416 17.4L409.8 18L406.8 18.6L404.2 19.4L402.5 20.2L401 21.2L399.1 23L397.7 25L396.6 27.5L395.8 30.5L395.4 33.2L395.1 37.2L394.4 52.8L394.5 199.8L395 212.5L395.6 218.5L396.1 221.2L396.9 223.8L397.7 225.5L398.7 227L400.5 228.8L402.5 230.3L404.5 231.2L407.2 232L410 232.5L413.2 232.9L426 233.5L443 233.7L572 233.8Z"/><path fill="#ff8200" d="M587 233L598.5 232.4L604 231.9L608.2 231.1L611.8 229.7L613.2 228.8L614.5 227.8L616.6 225.2L618.1 221.5L619 217.2L619.5 212.5L620 203L620.2 191.8L620.2 52L619.5 38.8L618.9 32.2L618.2 29.5L617.4 27L616.4 25L615.3 23.5L613.5 21.8L611.5 20.6L608.2 19.4L604.5 18.6L599.2 18.1L589 17.6L575.5 17.3L429.5 17.5L416.2 18.1L410 18.7L407 19.4L404.5 20.3L402.8 21.1L401 22.4L399.3 24.2L398.1 26.2L397 29.2L396.3 32.5L395.8 37.5L395.2 47.2L395 60.2L395.1 200L395.7 212.5L396.4 218.5L396.9 221L397.8 223.5L398.8 225.5L399.9 227L401.5 228.5L403.5 229.8L406 230.8L409 231.6L415.2 232.3L428.8 233L443.5 233.2L571 233.2L587 233Z"/><path fill="#ff9800" d="M584.1 232.5L596.8 231.9L603.2 231.3L607.3 230.5L611.2 229L613.8 227.4L615.6 225.2L617.3 221.2L618.3 217L618.8 212.2L619.4 202.8L619.6 191.5L619.6 52.2L618.9 39.2L618.2 32.8L617.6 30.2L616.9 28L615.7 25.5L614.6 24L613 22.5L611 21.3L607.5 20.1L604 19.3L598.8 18.8L588.2 18.1L574.5 17.9L443.8 17.9L429.8 18L416.8 18.7L410.5 19.4L407.8 20L405.2 20.9L403.2 21.8L401.5 23L400 24.8L398.9 26.8L397.7 30L396.9 33.2L396.4 38.2L395.8 48.2L395.6 61.2L395.7 199.5L396.4 212L397.1 218L397.7 220.5L398.5 222.8L399.5 225L400.6 226.5L402 227.9L403.8 228.9L406.8 230.1L409.8 231L416 231.7L429.5 232.5L444.2 232.6L584.1 232.5Z"/><path fill="#ffae00" d="M579.2 232L587.8 231.8L600.5 230.9L605 230.3L609.2 229.1L612.2 227.6L613.5 226.6L614.5 225.5L615.3 224L616.3 221.8L617.5 217.2L618.1 212.5L618.8 203L619 191.8L619 52.5L618.2 39.8L617.5 33.2L617 30.8L616.1 28.2L615 25.9L614.1 24.5L612.4 23L610.2 21.9L606.8 20.6L603.5 19.9L598.2 19.4L587.8 18.7L574.2 18.5L443.8 18.5L430.2 18.6L417.2 19.3L411 20L408.5 20.6L405.8 21.5L403.5 22.5L402.1 23.5L400.7 25L399.5 27.2L398.3 30.5L397.6 33.5L397.1 38.5L396.4 48.5L396.1 61.8L396.1 186.2L396.3 199.2L397 211.5L397.7 217.5L398.2 219.8L399.1 222.2L400.2 224.7L401.1 226L402.5 227.3L404.2 228.3L407 229.4L410.2 230.3L416.5 231.1L429.8 231.9L444 232L579.2 232Z"/><path fill="#ffc300" d="M573.5 231.5L585.5 231.3L596.5 230.6L603.2 229.9L607.5 228.9L611.5 227.2L613.5 225.5L614.5 224L615.4 222L616.8 217.5L617.4 212.8L618.1 203.2L618.5 192L618.4 52.8L617.6 40.2L616.8 33.5L615.5 28.8L614.5 26.5L613.5 25L612 23.6L609.8 22.4L606.8 21.3L603.2 20.6L598 20L587.8 19.3L574 19L430.8 19.1L418 19.9L411.5 20.6L406.5 22L404.2 23L402.8 23.9L401.3 25.5L400.1 27.8L399 30.8L398.3 34L397.7 39L397 48.8L396.7 61.8L396.7 186.2L396.8 198.8L397.6 211L398.4 217.2L399.7 221.8L400.7 224L401.7 225.5L403 226.8L404.8 227.8L407.5 228.9L410.5 229.7L416.8 230.5L430 231.4L443.8 231.5L573.5 231.5Z"/><path fill="#ffd900" d="M586.5 230.8L597.5 230L603.2 229.3L607.2 228.3L610.5 227L611.8 226.2L612.8 225.3L614.4 222.8L615.7 219L616.5 214.5L617.7 201.2L617.9 190L617.8 52.8L617 40.5L616.1 33.2L615.6 31L614.8 28.8L613.8 26.8L612.8 25.2L611.3 24L608.8 22.7L605.8 21.7L602.5 21.1L597.2 20.5L586.8 19.8L572.5 19.5L443.8 19.5L430.8 19.7L417.8 20.5L411.2 21.3L408.8 21.9L406.5 22.7L404.5 23.6L403 24.7L401.7 26.2L400.4 28.8L399.5 31.5L398.9 34.5L398.3 39.5L397.5 49.5L397.2 63.2L397.2 186.2L397.4 198.8L398.3 211L399.1 217.2L399.6 219.5L400.4 221.8L401.4 223.8L402.4 225.2L403.8 226.4L405.8 227.5L408.2 228.4L411 229.1L417.8 230L430.8 230.8L443.8 231L571 231L586.5 230.8Z"/><path fill="#ffef00" d="M585.7 230.2L597.2 229.4L602.5 228.8L606.2 228L609.5 226.7L612 225L613.7 222.5L615.1 219L615.9 214.5L617.1 201L617.4 190L617.4 64.2L617.3 52.8L616.4 40.2L615.6 33.5L615 31.2L614.2 29.1L613.3 27.2L612.2 25.7L610.8 24.5L608.2 23.2L605.5 22.3L602.2 21.6L586.5 20.3L572.2 20L444 20L431 20.2L418 21.1L411.5 21.9L409.2 22.4L407 23.2L405 24.1L403.5 25.2L402 27L400.9 29.2L400 31.8L399.4 34.8L398 49.8L397.8 63.5L397.8 186.2L397.9 198.5L398.9 211L399.7 217.2L401 221.5L401.9 223.2L403 224.8L404.2 225.9L406.2 227L408.5 227.9L411.2 228.6L417.8 229.4L431 230.3L443.8 230.5L571 230.5L585.7 230.2Z"/><path fill="#faff00" d="M585.2 229.8L596.5 228.9L602 228.3L605.8 227.6L608.8 226.4L610.3 225.5L611.5 224.5L613.2 222L614.6 218.5L615.4 214.2L616.6 200.8L616.9 189.8L616.8 53.8L616.3 45.8L615.6 38L615 33.8L614.5 31.5L613.7 29.5L612.8 27.8L611.8 26.3L610 24.8L607.8 23.6L605 22.7L602 22.2L586.2 20.8L572 20.6L444 20.6L431 20.7L418 21.6L411.8 22.4L409.5 22.9L407.2 23.7L405.5 24.6L404 25.7L402.5 27.5L401.4 29.8L400.5 32.2L399.9 35.2L398.6 50L398.3 63.5L398.3 186.2L398.5 198.5L399.4 210.8L400.2 217L400.8 219.1L401.5 221.1L402.5 222.9L403.5 224.2L404.9 225.5L406.7 226.5L408.8 227.3L411.2 228L417.8 228.8L431.2 229.8L444 229.9L571 229.9L585.2 229.8Z"/><path fill="#e4ff00" d="M585.5 229.2L596.5 228.4L601.8 227.8L605.2 227.1L608.2 225.9L609.7 225L610.9 224L612 222.8L612.8 221.5L614.1 218.2L614.9 213.8L616.1 200.8L616.4 189.8L616.3 54.8L615.9 46.8L614.6 34.5L614.1 32.2L613.4 30.2L612.5 28.5L611.5 27.1L609.7 25.5L607.8 24.3L605.2 23.4L602.2 22.8L597.2 22.2L586.8 21.3L573.5 21L444 21L431.2 21.2L418.5 22.1L412 22.9L408 24.1L406.2 25L404.9 26L403.2 27.7L402.2 29.5L401.2 32L400.6 34.8L400 39.5L399.1 49.5L398.8 62.2L398.8 186.2L399 198.2L399.9 210.2L400.7 216.5L401.2 218.5L401.9 220.5L402.8 222.1L403.8 223.4L405.2 224.8L406.8 225.8L408.8 226.8L411.2 227.4L417.8 228.3L431 229.3L443.8 229.5L571 229.5L585.5 229.2Z"/><path fill="#ceff00" d="M572.8 229L583.8 228.9L588.8 228.6L600 227.5L603.2 227L605.2 226.5L607 225.8L608.5 225L611.3 222.5L612.2 221.2L612.9 219.8L614 216.2L614.6 211.8L615.5 202.2L615.9 191.5L615.9 58.2L615.6 49L614.3 36.2L613.8 33.5L613.2 31.6L612.5 29.8L611.5 28.2L609.8 26.5L608 25.2L605.8 24.2L603 23.4L598 22.7L588 21.9L576 21.5L444 21.5L431.5 21.6L419.5 22.5L412.8 23.3L408.8 24.4L407.1 25.2L405.8 26.2L403.9 28L402.8 29.7L401.8 32L401.2 34.5L400.5 39.2L399.6 48.8L399.3 60L399.3 186.2L399.4 198L400.3 209L401.1 215.8L402.2 219.5L403.8 222.3L405.4 224L407.1 225.2L409 226.2L411.2 226.9L417.5 227.8L430.5 228.8L443.8 229L572.8 229Z"/><path fill="#b8ff00" d="M579.3 228.5L586.8 228.3L597.2 227.4L602.5 226.6L605.8 225.7L607.2 225L608.8 223.9L610.2 222.5L611.5 221L612.9 218.2L613.8 214.2L615.1 201.2L615.4 190.2L615.4 56.8L615.1 48.2L613.7 36L613.2 33.5L612.6 31.5L611.8 29.9L610.7 28.5L609 26.8L607 25.4L604.8 24.4L602 23.8L597.2 23.1L587.2 22.3L574.5 21.9L444 21.9L431.2 22.1L419.2 23L412.8 23.9L410.8 24.3L409 25L407.6 25.8L406 26.9L404.3 28.8L403.1 30.5L402.2 32.5L401.6 35.2L401 39.8L400.1 49.2L399.8 61.2L399.8 186.2L399.9 198L400.4 205.5L401.7 215.5L402.7 219.2L403.5 220.7L404.5 222L406 223.6L407.8 224.9L409.5 225.7L411.5 226.4L417.8 227.3L430.8 228.4L444 228.6L579.3 228.5Z"/><path fill="#a3ff00" d="M583.3 228L589.2 227.7L599.2 226.6L603.5 225.8L606 224.9L607.5 224L609 222.8L610.4 221.2L611.5 219.7L612.6 217L613.5 212.2L614.7 200.5L615 189.5L614.9 55.2L614.5 47.5L613.1 35.8L612.6 33.5L612 31.8L611.2 30.2L610 28.8L608.2 27L606 25.6L604 24.8L601.2 24.2L596.2 23.5L586.8 22.7L573.5 22.4L444 22.4L431.2 22.5L419.5 23.5L413 24.4L411 24.9L409.4 25.5L406.4 27.5L404.8 29.2L403.5 31.1L402.7 33.2L402 36L400.5 49.5L400.2 62L400.2 186.2L400.4 198.2L401.3 208.8L402.2 215.5L403.3 219L405.2 221.8L406.8 223.3L408.5 224.5L410 225.3L412 225.9L418.5 226.9L431 228L444.2 228.1L571.2 228.1L583.3 228Z"/><path fill="#8dff00" d="M585.3 227.5L594.5 226.7L600.5 225.9L604 225L606.5 223.8L609.3 221.5L610.5 220L611.4 218.5L612.4 215.2L613.3 210L614.3 200L614.6 188.8L614.5 54.8L614 47.2L612.6 36.2L612.1 33.8L611.5 32.3L610.6 30.8L609.5 29.2L607.7 27.5L605.5 26.1L603.5 25.3L600.8 24.7L596.1 24L586.8 23.1L573.5 22.8L444 22.8L431.5 22.9L423.5 23.5L413.8 24.8L410.2 25.8L408.5 26.8L406.9 28L405.3 29.8L404 31.8L403.2 33.5L402.5 36.5L400.9 49.8L400.6 62.2L400.6 186.2L400.8 198L401.4 205.5L402.7 215L403.8 218.3L404.7 220L405.8 221.3L407.2 222.8L409 224L410.8 224.9L412.8 225.5L419.1 226.5L431.2 227.6L444 227.7L571 227.7L585.3 227.5Z"/><path fill="#77ff00" d="M578.8 227.2L586.5 227L596 226L601.2 225.1L604.7 224L606.2 223.2L607.8 222L609 220.8L610.1 219.2L611.5 216.2L612.5 211.5L613.8 200.5L614.1 189.5L614.1 56.5L613.7 48.5L612.2 37.3L611.1 33L610.1 31.2L609 29.8L607.2 28L605 26.6L602.8 25.8L600 25.1L595.2 24.4L586.5 23.5L573.5 23.2L444 23.2L431.5 23.4L423.8 24L414.4 25.2L412.2 25.8L410.5 26.5L409 27.3L407.5 28.4L405.8 30.2L404.5 32.2L403.7 34.2L403 37L401.4 49.8L401.1 62.2L401.1 186.2L401.2 198L401.8 204.8L403.2 214.2L404.3 217.8L405.1 219.2L406.2 220.8L407.7 222.2L409.5 223.5L411.2 224.3L413.3 225L419.8 226.1L431.2 227.1L444 227.3L578.8 227.2Z"/><path fill="#62ff00" d="M582.7 226.8L589.2 226.3L599 225L603.5 223.8L606.3 222.2L607.8 221.1L608.9 219.8L609.9 218.2L610.6 216.8L611.8 212.6L612.9 205L613.5 198.5L613.7 187.2L613.7 64.2L613.5 53L613 46.3L611.6 37L610.3 33L609.5 31.5L608.3 30L606.5 28.4L604.5 27.1L602 26.2L598.8 25.5L586.2 23.9L572.8 23.6L444 23.6L431.5 23.8L424.2 24.4L415 25.8L411 27L409.5 27.8L407.9 29L406.3 30.8L405 32.8L404.1 35.2L403.4 38.2L401.8 50L401.5 62.8L401.5 186.2L401.7 198L402.2 204.6L403.6 213.5L404.9 217.5L405.7 219L406.8 220.3L408.2 221.8L410 223L411.8 223.8L414 224.5L417 225.1L421.3 225.8L427.2 226.4L431.5 226.7L444.2 226.9L571.2 226.9L582.7 226.8Z"/><path fill="#4cff00" d="M584.6 226.2L591.5 225.6L599.5 224.2L603.8 222.9L606.5 221.2L607.8 220.1L608.8 218.8L609.6 217.2L610.3 215.5L611.5 210.6L612.7 202.8L613.1 198L613.3 186.5L613.3 64.2L613.1 53L612.5 46.3L611 37.5L609.6 33.2L608.8 31.8L607.8 30.5L606 28.9L603.8 27.6L601 26.6L597.2 25.8L590.5 24.8L585.8 24.3L572.2 24L444 24L431.8 24.2L424.8 24.8L415.5 26.3L411.2 27.7L409.7 28.5L408.2 29.6L406.8 31.3L405.6 33.2L404.6 36L403.8 39.7L402.8 45.9L402.2 50.5L401.9 63.2L401.9 186.2L402.1 198L402.8 204.6L404.2 213L405.6 217.2L406.4 218.8L407.4 220L408.8 221.3L410.5 222.5L412.2 223.2L414.5 223.9L418.3 224.8L423.3 225.5L431.5 226.3L444 226.5L571 226.5L584.6 226.2Z"/><path fill="#36ff00" d="M577.3 226L585.8 225.7L593.2 224.8L600.7 223.2L603.2 222.4L605 221.5L606.3 220.5L607.5 219.2L608.5 217.8L609.3 216.2L610.6 211.8L612 204L612.6 198.2L612.8 187L612.8 64.5L612.7 55.2L612.2 48.2L610.6 38.8L609.2 34L608.4 32.5L607.3 31L605.5 29.4L603.5 28.2L600.7 27.2L597 26.4L590.2 25.3L585.8 24.8L572.5 24.4L444 24.4L431.8 24.6L425.2 25.2L416 26.9L411.8 28.2L409 29.9L407.5 31.5L406.3 33.5L405.2 36.3L404.4 40L403.2 46.2L402.7 50.2L402.4 62.8L402.4 186.2L402.6 197.8L403.2 204L404.8 212.5L406.1 216.8L407.8 219.3L409 220.6L410.6 221.8L412.2 222.5L414.5 223.2L418 224L423.6 225L431.5 225.8L444 226.1L577.3 226Z"/><path fill="#21ff00" d="M579.5 225.5L587.2 225.1L596.5 223.5L601.8 222.2L603.8 221.4L605.2 220.5L606.5 219.3L607.5 218.1L609 215L610.2 210.5L611.7 202L612.1 197.8L612.4 186.5L612.4 64.5L612.2 55.8L611.8 48.5L610 39.2L608.6 34.5L607.8 32.8L606.8 31.5L605.2 30L603.2 28.9L600.2 27.8L596.2 26.9L589.7 25.8L585.6 25.2L572.2 24.9L444 24.9L432 25.1L425.8 25.7L416.2 27.5L412 28.9L409.4 30.5L407.8 32.2L406.8 34.2L405.8 37L404.8 41L403.7 46.8L403.2 50.8L402.8 63.2L402.8 186.2L403.1 197.5L403.6 203.2L405.4 212.2L406.8 216.3L407.5 217.8L408.4 219L409.8 220.3L411.2 221.3L415.2 222.8L425.5 224.8L431.8 225.4L444.2 225.6L579.5 225.5Z"/><path fill="#0bff00" d="M579.9 225L587 224.6L596.5 222.9L601.5 221.5L603.4 220.8L604.8 219.9L606.8 217.8L608.4 214.5L609.6 210L611.3 201.2L611.6 197.5L611.9 186.5L611.7 56.8L611.3 49.5L609.5 40.2L608.1 35.2L607.2 33.4L606.2 32L604.5 30.4L602.5 29.4L599.5 28.3L595.2 27.4L589.2 26.2L585.2 25.7L572 25.4L444 25.4L432.8 25.6L426.8 26.1L417 28L412.8 29.3L411.2 30.1L410 31L408.2 33L407 35.5L406 38.8L404.8 44.6L403.7 51.8L403.3 63.5L403.3 186.2L403.5 196.2L404.1 202.2L405.9 211.5L407.3 215.8L408.1 217.2L409 218.5L410.2 219.7L411.8 220.7L415.8 222.2L425.8 224.2L432 224.9L444.2 225.1L571 225.1L579.9 225Z"/><path fill="#00ff0b" d="M578.9 224.5L586.5 224.1L595.1 222.5L600.8 221L602.8 220.2L604.2 219.3L606.2 217.2L607.8 214L609 209.5L610.7 201L611.1 197L611.3 186.5L611.2 57.8L610.8 50L609.2 42L607.6 36L606.7 34L605.6 32.5L603.8 30.8L601 29.5L597.5 28.5L591.5 27.3L584.2 26.2L572 25.9L444 25.9L434.2 26.1L427.5 26.6L418 28.4L413.5 29.8L411.8 30.7L410.5 31.6L408.8 33.5L407.5 36.2L406.5 39.6L405.1 45.8L404.2 52L403.9 63.8L403.9 186L404.1 195L404.6 201.5L406.4 210.2L407.8 214.8L408.7 216.8L409.6 218L410.8 219.2L412 220L414 220.9L416.2 221.6L426.2 223.7L432.8 224.4L444.2 224.6L571 224.6L578.9 224.5Z"/><path fill="#00ff21" d="M577.2 224L584.8 223.7L590.2 222.9L599 220.9L601.5 219.9L603.5 218.9L604.5 218L605.5 216.9L607.2 213.5L608.5 208.8L610.1 201L610.5 197L610.8 186.5L610.7 58L610.3 51L609.2 45L607.2 37.2L606.2 34.9L605 33L603.2 31.5L600.2 30.1L596.8 29L590.5 27.7L584 26.8L571.8 26.4L444 26.4L434.8 26.6L428 27.1L418.8 29L414 30.4L412.2 31.3L411 32.2L409.5 34L408.1 36.8L407.1 40.2L405.6 46.5L404.8 52.2L404.4 64L404.4 186L404.6 194.8L405.1 201.2L406.9 209.8L408.4 214.5L409.3 216.2L410.2 217.6L411.5 218.7L412.8 219.5L414.8 220.4L417.2 221.2L427 223.2L430.2 223.7L433.5 223.9L444.2 224.1L577.2 224Z"/><path fill="#00ff36" d="M575 223.5L584 223.2L588.8 222.5L598 220.4L600.5 219.5L602.8 218.3L603.8 217.5L604.8 216.4L606.4 213.2L607.8 208.8L609.5 201L609.9 197L610.2 186.5L610.1 58.2L609.7 51.2L608.8 45.6L606.6 37.8L605.5 35.3L604.3 33.5L602.5 32L599.5 30.6L596 29.6L589.5 28.1L583.8 27.3L571.5 27L444.2 27L435.2 27.1L428.5 27.6L420.2 29.3L415 30.9L413.1 31.8L411.7 32.8L410 34.8L408.8 37.4L407.7 40.8L406.1 47L405.4 52.2L405 64L405 186L405.2 194.5L405.7 201L407.3 208.5L409 213.8L409.9 215.5L410.9 217L412 218L413.6 219L418 220.6L427.5 222.7L430.5 223.1L434 223.3L444.2 223.5L575 223.5Z"/><path fill="#00ff4c" d="M581.2 222.8L587.2 222.2L594.8 220.5L599.6 219L601.2 218.2L602.8 217.2L604.6 215L606.1 211.8L608.2 204.5L609.1 199.5L609.6 186.2L609.5 58L609.1 51L608 45.5L605.8 38L604.8 35.8L603.5 34L601.6 32.5L599 31.2L595.5 30.2L589 28.6L583.5 27.9L571.2 27.5L444.2 27.5L435.2 27.7L428.5 28.2L420.8 29.9L415.5 31.5L413.6 32.5L412.3 33.5L410.8 35.3L409.4 38L408.2 41.4L406.7 47.2L405.9 52.5L405.6 64L405.6 186L405.8 193.8L406.1 199.8L407.2 205.4L409.4 212.5L410.3 214.5L411.5 216.2L412.9 217.5L414.5 218.5L416.5 219.3L419.2 220.2L428.2 222.2L431.2 222.6L435.2 222.8L444.2 223L570.8 223L581.2 222.8Z"/><path fill="#00ff62" d="M579.3 222.2L585.2 221.9L590.2 221L597.8 218.8L599.8 218L601.5 216.9L602.7 215.8L603.8 214.5L605.2 211.6L607.5 204.5L608.5 199.5L608.9 193.5L609 186.2L608.9 58.5L608.6 51.5L607.6 46.5L605.2 38.9L604.2 36.8L603 35L601 33.3L598.6 32L595 30.8L589.2 29.3L583.8 28.5L571.8 28.1L444.2 28.1L436 28.2L429.8 28.6L424.1 29.8L417 31.9L415 32.8L413.2 34L411.5 35.9L410.2 38.2L409 41.6L407.4 47.2L406.6 52.5L406.2 63.5L406.2 186L406.3 193.2L406.7 199.2L407.6 204.2L409.9 211.5L411 213.8L412 215.2L413.3 216.5L414.8 217.6L416.6 218.5L419.2 219.4L427.8 221.6L430.9 222L434.8 222.2L444.2 222.4L571 222.4L579.3 222.2Z"/><path fill="#00ff77" d="M576.9 221.8L584 221.4L588.5 220.7L596.1 218.5L598.5 217.5L600.2 216.4L601.7 215.2L602.8 214.1L604.5 211.1L606.8 204.6L607.9 199.5L608.2 193.6L608.4 186.2L608.3 59L608 51.8L607.1 47.2L604.6 39.8L603.7 37.8L602.4 36L600.5 34.2L598 32.8L594.6 31.5L589.2 30L583.8 29.1L572 28.7L444.2 28.7L436.2 28.8L430 29.2L424.8 30.3L417.8 32.5L415.8 33.5L414 34.8L412.2 36.8L410.9 39L409.5 42.6L408 47.6L407.2 52.5L406.8 63.8L406.8 186L406.9 193L407.3 199L408.2 203.9L410.6 210.8L411.5 212.8L412.8 214.5L414.2 215.9L416 217.1L417.8 218L420.6 219L424.8 220.2L428.2 221L431 221.4L435 221.6L444.2 221.8L576.9 221.8Z"/><path fill="#00ff8d" d="M572.3 221.2L583.2 220.9L586.8 220.4L589.8 219.7L593.5 218.5L596.5 217.3L598.5 216.3L601.3 214L602.5 212.5L603.5 210.8L605.8 205L607.2 199.8L607.6 194L607.8 186.2L607.7 59.5L607.3 52L606.5 47.7L605.5 44.5L604 40.7L603 38.8L601.7 37L599.8 35.1L597.2 33.5L594.2 32.2L589 30.6L583.8 29.7L572 29.2L444.2 29.2L436.8 29.4L430.5 29.8L425.5 30.8L419 33L416.8 34.2L415 35.5L413.2 37.3L411.7 39.8L410 43.7L408.7 47.5L407.8 52.5L407.4 63.5L407.4 186L407.5 192.5L407.9 198.8L408.8 203.2L411.2 209.9L412.2 211.8L413.5 213.5L415 215L416.7 216.2L418.5 217.2L421 218.2L424.8 219.5L428 220.3L431 220.8L434.6 221L444 221.3L572.3 221.2Z"/><path fill="#00ffa3" d="M577.6 220.5L584.2 220.1L588.7 219.2L594.2 217.2L596.7 216L598.5 214.8L600 213.5L601.2 212.1L603.5 208.5L605.5 203.5L606.6 198.8L607 192.8L607.2 186.2L607.1 59.2L606.6 52L605.8 47.7L604.8 44.8L603.5 42L602.2 39.8L600.7 37.8L598.8 35.9L596.2 34.2L592.4 32.5L588.7 31.2L586 30.6L583.5 30.3L571.8 29.9L444.2 29.9L437 30L430.5 30.4L425.7 31.5L419.9 33.8L417.7 35L415.8 36.5L413.9 38.5L412.2 41L410.5 44.7L409.4 48L408.5 52.5L408 63.8L408 186L408.2 192.5L408.6 198.8L409.5 203L411.8 208.6L413 210.8L414.5 212.8L416.2 214.4L418.2 215.8L420.8 217.1L424 218.4L426.8 219.3L429.5 219.9L435.8 220.4L444.2 220.6L571 220.6L577.6 220.5Z"/><path fill="#00ffb8" d="M579.6 219.8L585 219.3L589.2 218.3L591.8 217.2L594.3 216L598 213.5L600.8 210.6L603.5 206.2L605.1 202.2L606 198.2L606.5 186.2L606.4 59.5L605.9 52L605 48L604.2 45.8L603 43.4L601.2 40.5L599.8 38.6L597.7 36.8L595.1 35L591.5 33.1L588 31.9L583.5 31L571.8 30.5L444.2 30.5L437.2 30.7L430.8 31.1L426.2 32.1L423.5 33.2L420.9 34.5L418.5 36L416.8 37.3L414.8 39.5L413 42L411.2 45.3L410 48.5L409.2 52.8L408.7 63.8L408.7 186L408.8 192L409.3 198.5L410.2 202.7L412.2 207.2L413.8 209.8L415.3 211.8L417.2 213.5L419.2 215L422.4 216.8L425.2 218L427.8 218.8L430.2 219.3L436.5 219.8L444.2 220L570.8 220L579.6 219.8Z"/><path fill="#00ffce" d="M574.9 219.2L583.2 218.8L586.5 218.2L590.5 216.8L595.1 214L597.1 212.5L598.7 211L601.8 206.9L604 202.8L604.7 200.5L605.1 198.5L605.6 192.2L605.8 186.2L605.7 60.2L605.2 52.5L604.5 49L603.7 47L602.6 45L600.8 42.1L599.2 40.1L597.2 38.1L594.8 36.2L591 34L588 32.7L585.8 32.1L583.5 31.7L572.2 31.2L444.2 31.2L438.2 31.3L431.2 31.8L427.2 32.7L425.2 33.5L422.8 34.8L420.1 36.5L418.1 38L416.1 40L414.2 42.4L412.1 45.8L410.9 48.5L410 52.5L409.4 63.2L409.4 186L409.5 191.2L410 198.2L410.8 201.8L411.6 203.8L412.8 205.8L416 210.4L417.8 212.2L420 214L423.3 216L425.8 217.2L427.9 218L430.2 218.6L436 219.1L444.2 219.3L574.9 219.2Z"/><path fill="#00ffe4" d="M575 218.5L583 218L585.5 217.6L588.8 216.4L592.5 214.2L595 212.4L597 210.6L600.8 206.2L602.2 204L603.2 202L603.9 200.2L604.3 198.2L604.8 192.2L605 186.2L604.9 61L604.4 52.8L603.8 49.8L603 48L602 46.1L598.8 41.7L596.3 39.2L593.6 37L590.5 35L587.4 33.5L585.5 32.9L583.5 32.5L572.8 31.9L439 32L431.8 32.5L428.2 33.3L424.2 35.2L419.4 38.8L417.1 41L414.8 43.9L413 46.4L411.7 49L411.2 50.8L410.8 52.8L410.2 63L410.3 190.2L410.8 197.8L411.5 200.9L413.3 204.5L416.5 208.8L418.5 210.9L420.8 212.8L423.8 215L426.5 216.5L428.5 217.2L430.5 217.8L436.5 218.3L444.2 218.6L575 218.5Z"/><path fill="#00fffa" d="M572 217.8L578.1 217.5L584 216.9L587 216L589.9 214.5L592.3 212.8L595.2 210.3L599.7 205.5L601 203.8L602.2 201.8L603 199.8L603.4 198L603.9 192L604.2 186.2L604.1 62.5L603.8 56L603.1 51.2L601.8 48L599.5 44.7L596.5 41.5L593.3 38.5L590.3 36.2L587.8 34.8L585.7 34L583.6 33.5L574.5 32.8L440.8 32.8L433 33.3L429.8 33.9L426.1 35.5L422.2 38.2L419.2 41L416.2 44.1L414.4 46.5L413 48.8L412.2 50.7L411.8 52.5L411.1 61.2L411.1 188.5L411.5 195L412.1 199.2L413.4 202.5L415.8 205.8L418.2 208.6L420.8 211L423.8 213.5L426.2 215.1L428.2 216.1L430.5 216.8L436.2 217.4L444.2 217.8L572 217.8Z"/><path fill="#00efff" d="M573.7 216.8L579 216.4L584 215.8L586.5 215L589 213.6L592.8 210.5L599 204.3L601.2 201L601.9 199.2L602.3 197.8L602.9 191.8L603.2 186.2L603.1 63.2L602.8 57.5L602.1 52L601 49.1L599 46.2L596.8 43.8L591.7 39L589.5 37.2L587.2 35.9L585.2 35L583.5 34.6L574.2 33.8L441.8 33.7L435.2 34.2L430.5 34.9L427.2 36.2L424.1 38.5L417 45.2L415.4 47.2L414.1 49.2L413.5 50.8L413 52.5L412.1 61.2L412.1 187.8L412.5 193.8L413.2 198.8L414.3 201.5L416.2 204.4L418.5 206.8L423.2 211.2L425.3 213L427.2 214.2L429.2 215.2L431 215.8L437.5 216.5L444.2 216.8L573.7 216.8Z"/><path fill="#00d9ff" d="M575.9 215.5L580.8 215L584.2 214.5L586.8 213.5L589.3 211.8L596.5 205L598.9 202.2L600 200.5L600.6 199L601.4 195L601.8 190.5L602 186L602 63.5L601.6 58L600.8 52.2L599.9 49.8L598 47.1L590.2 39.5L588.3 38L586.5 36.9L585 36.2L583.2 35.8L574 34.9L442.5 34.8L436.5 35.2L431 36L428.1 37.2L425.3 39.2L418 46.2L416.5 48L415.3 49.8L414.7 51.2L414.3 52.8L413.6 57.5L413.3 61.8L413.2 187.5L413.6 192.8L414.4 198.2L415.3 200.8L417.2 203.5L424.7 210.8L426.5 212.2L428.2 213.4L429.8 214.1L431.5 214.6L438.8 215.5L444.5 215.7L571 215.7L575.9 215.5Z"/><path fill="#00c3ff" d="M575.5 214.2L580.2 213.7L584.2 213L586.5 212L588.9 210.2L595.8 203.8L598.1 201L599.3 198.2L600.2 193.2L600.7 186L600.7 63.5L600.3 58L599.4 52.5L598.5 50.2L596.9 48L589.2 40.5L587.5 39.1L585.8 38.1L584 37.4L582 37L573.5 36.1L442.8 36.1L437 36.5L431.5 37.3L429 38.3L426.2 40.3L419 47.2L417.5 49L416.6 50.5L415.9 52.2L415.5 54.2L414.9 58.2L414.6 62.2L414.5 187.2L414.9 192.5L415.8 198L416.7 200.2L418.3 202.5L425.7 209.8L429 212.2L430.5 212.9L432 213.3L439.8 214.3L444.2 214.4L570.8 214.4L575.5 214.2Z"/><path fill="#00aeff" d="M572.2 213L577.5 212.6L583.2 211.7L585.2 211L587.5 209.5L593.8 203.8L596.6 200.5L597.7 198L598.7 192.8L599.2 186L599.2 63.8L598.8 58.5L597.8 52.8L597 50.8L595.4 48.5L588.8 42L587 40.6L585.2 39.5L583.5 38.9L580.2 38.3L572.8 37.5L443 37.5L437.5 37.9L431.8 38.9L429.2 39.9L426.8 41.7L420.5 47.8L419 49.5L418 51L417.5 52.5L416.8 55.8L416 62.8L416 187L416.4 192.2L417.4 197.8L418.2 199.8L419.8 202L426.2 208.3L428 209.8L429.8 210.9L431.2 211.5L432.8 211.8L440.5 212.9L444.5 213L572.2 213Z"/><path fill="#0098ff" d="M575 211.2L580 210.6L584.2 209.6L586.8 208.2L590.2 205.3L593.7 201.8L595.5 199L596.4 195.8L597.3 190.5L597.6 185.8L597.5 63.5L597.1 58.2L595.9 52.5L595 50.5L593 48L590.8 45.6L588.2 43.4L586.2 41.9L584.5 41L583 40.5L578.5 39.7L571.8 39.1L442.8 39.1L437.2 39.6L431.5 40.7L428.8 42.1L425.5 44.7L421.3 49L420.2 50.5L419.5 52L418.2 58L417.6 64L417.7 187L418.1 192.2L419.3 198L420.2 200L422.2 202.5L426.8 206.9L428.8 208.4L430.5 209.4L432 210L435.5 210.6L441.8 211.4L570.8 211.4L575 211.2Z"/><path fill="#0082ff" d="M575.1 209.5L580 208.8L584.2 207.8L587 206.3L590 203.8L592.4 201L593.8 198.5L594.9 194.2L595.6 189.5L595.8 185.8L595.7 63.5L595.2 58.2L594 52.5L592.9 50.2L591 47.8L589.2 46L587.2 44.4L585.5 43.3L584 42.6L577.5 41.3L571.2 40.8L443 40.8L437.5 41.3L431.5 42.5L429 43.7L426 46L423 49.2L422 50.8L421.3 52.2L419.9 58.5L419.4 64.2L419.5 187L420 192.2L421.2 198L422.3 200.2L424.2 202.8L427.8 205.9L429.5 207.1L431 207.8L436.8 209.1L442.5 209.7L570.8 209.7L575.1 209.5Z"/><path fill="#006dff" d="M574.8 207.8L579.5 207.1L584 206.2L586.3 205L588.8 203L590.9 200.5L592.1 198.2L593.1 193.8L593.7 189.2L593.9 185.8L593.9 63.8L593.4 58.8L592.3 52.8L591.3 50.5L589.5 48.2L586.7 45.8L585.2 44.9L583.8 44.3L577 43L571 42.6L443 42.6L437.5 43.1L431.5 44.2L429 45.4L426.7 47.2L424.3 50L423 52.5L421.7 59L421.3 64.5L421.3 187L421.8 192.2L423 198L423.9 200L425.7 202.2L428.5 204.7L431.2 206.2L437.2 207.4L443 207.9L570.8 207.9L574.8 207.8Z"/><path fill="#0057ff" d="M575.3 206L579.5 205.4L583.8 204.5L586 203.4L588 201.8L589.5 199.9L590.4 198L591.4 193.2L592 189L592.1 185.8L592.1 63.8L591.6 58.5L590.5 52.8L589.6 50.8L588.2 49L586 47.1L583.5 45.9L577 44.7L571 44.3L443.2 44.3L437.8 44.8L431.8 45.9L429.5 46.9L427.5 48.4L425.7 50.5L424.7 52.8L423.5 59L423.1 64.5L423.1 186.8L423.6 192L424.7 197.8L425.5 199.6L426.9 201.5L429.2 203.5L431.8 204.6L437.8 205.7L443.2 206.2L570.8 206.2L575.3 206Z"/><path fill="#0041ff" d="M573.3 204.5L578 204L583.2 202.9L585 202.2L586.5 201L587.8 199.5L588.7 197.8L589.7 193.2L590.3 189L590.4 185.8L590.4 64L590 59.2L589 54.1L588.3 51.8L587 50L585.2 48.5L583.2 47.6L576.8 46.3L571 45.9L443.5 45.9L438 46.4L432.3 47.5L430.5 48.2L428.7 49.5L427.2 51.2L426.4 53.2L425.2 59L424.8 64.5L424.8 186.8L425.2 191.5L426.2 196.6L426.9 198.8L428.2 200.6L430 202L432 202.9L437.8 204.1L443.2 204.6L573.3 204.5Z"/><path fill="#002bff" d="M573.4 202.8L577.2 202.3L581.2 201.5L583.8 200.7L585.2 199.6L586.3 198.2L587.1 196L588 192.1L588.5 188.2L588.6 64L588.3 60.2L587.5 56.2L586.5 52.8L585.5 51.1L584.5 50.2L583.6 49.8L580.2 48.8L575.5 48L570.8 47.7L443.5 47.7L439.3 48L435.2 48.8L431.8 49.7L430 50.8L428.8 52.5L427.7 56L426.9 60.5L426.6 64.8L426.6 186.5L426.9 190.5L427.7 194.5L428.8 198L429.8 199.4L431.5 200.7L434.2 201.5L439 202.5L443.5 202.8L573.4 202.8Z"/><path fill="#0016ff" d="M573.1 200.8L576.5 200.3L579.5 199.5L581.9 198.5L583.2 197.5L584.3 196L585.3 193.5L586 190.8L586.4 187.5L586.5 64.2L586.2 61L585.5 57.6L584.5 54.9L583.2 53L581.4 51.8L578.2 50.6L574.5 49.9L570.8 49.7L443.8 49.7L440 50L436.5 50.8L433.8 51.8L432 52.9L431.2 54L430.3 55.8L429.1 60L428.7 63.8L428.7 70.8L428.7 186.5L429 189.8L429.8 193.1L430.8 195.7L432 197.6L433.8 198.8L436.5 199.8L440 200.5L443.8 200.8L573.1 200.8Z"/><path fill="#0000ff" d="M571.8 197.5L573.8 197.1L575.8 196.2L577.7 195L579.4 193.5L580.9 191.8L582 190L582.8 188.1L583.1 186.2L583.1 64.5L582.8 62.8L582.1 60.8L581 58.9L579.5 57.1L577.5 55.3L575.2 54L573 53.2L570.8 52.9L444.2 53L442.2 53.2L440 54L438 55.1L436 56.8L434.3 58.8L433.1 60.8L432.4 62.8L432.1 64.8L432.1 186L432.4 187.8L433.1 189.8L434.1 191.5L435.5 193.2L437.5 195L439.5 196.3L441.8 197.2L444 197.5L571.8 197.5Z"/></g><g clip-path="url(#clipc)"><ellipse cx="149.50" cy="429.25" rx="115.90" ry="110.75" fill="#ff0000"/><path fill="#ff1600" d="M152.9 538.8L158.6 538.5L164.1 537.9L169.6 537.1L175.1 536L180.6 534.7L186.1 533.1L191.6 531.1L196.6 529.1L201.8 526.7L206.8 524.1L211.6 521.3L216.1 518.4L220.6 515.2L224.9 511.8L229.1 508.1L233.1 504.2L236.8 500.2L240.4 496L243.7 491.8L246.8 487.2L249.7 482.5L252.3 477.8L254.7 472.8L256.7 468L258.6 463L260.2 457.8L261.5 452.5L262.6 447.2L263.4 441.8L263.9 436.5L264.1 431L264.1 425.8L263.8 420.2L263.2 415L262.3 409.8L261.2 404.5L259.8 399.2L258 394L256 388.8L253.9 384L251.5 379.2L248.8 374.5L245.9 370L242.7 365.5L239.3 361.2L235.7 357L231.8 353L227.8 349.2L223.6 345.7L219.1 342.2L214.6 339.1L209.8 336.1L204.8 333.3L199.8 330.8L194.8 328.6L189.6 326.6L184.3 324.9L178.8 323.4L173.3 322.1L167.8 321.1L162.3 320.4L156.6 319.9L150.8 319.7L145.3 319.8L139.6 320.1L134.1 320.7L128.6 321.5L123.1 322.6L117.6 324L112.3 325.6L107.1 327.5L101.8 329.6L96.8 331.9L91.8 334.6L87.1 337.4L82.6 340.3L78.1 343.5L73.8 346.9L69.6 350.7L65.7 354.5L62 358.5L58.4 362.8L55.2 367L52.1 371.5L49.3 376L46.7 380.8L44.3 385.8L42.2 390.8L40.3 396L38.7 401L37.5 406L36.4 411.2L35.6 416.5L35.1 422L34.9 427.2L34.9 432.8L35.2 438L35.8 443.2L36.7 448.8L37.8 454L39.2 459.2L41 464.5L42.8 469.2L45 474.2L47.5 479.2L50.2 484L53.2 488.8L56.3 493L59.6 497.2L63.1 501.3L66.9 505.2L70.9 509L75.1 512.6L79.3 515.9L83.8 519.1L88.6 522.1L93.6 524.9L98.6 527.4L103.6 529.6L108.8 531.7L114.1 533.4L119.3 534.9L125.1 536.3L130.6 537.3L136.3 538.1L141.8 538.6L147.3 538.8L152.9 538.8Z"/><path fill="#ff2b00" d="M156.1 537.5L161.6 537.1L167.3 536.3L172.8 535.4L178.3 534.1L183.8 532.6L189.1 530.9L194.3 528.9L199.3 526.7L204.3 524.2L209.1 521.5L213.8 518.6L218.3 515.4L222.6 512.2L226.8 508.6L230.8 504.8L234.6 501L238.3 496.8L241.7 492.5L244.9 488L247.8 483.5L250.5 478.8L252.7 474.2L255 469.2L256.9 464.2L258.5 459.2L260 454L261.1 448.8L262 443.5L262.6 438.2L262.9 433L263 427.8L262.7 422.2L262.3 417L261.5 411.8L260.5 406.5L259.1 401.2L257.5 396L255.7 391L253.6 386L251.3 381.2L248.6 376.5L245.9 372L242.8 367.5L239.5 363.2L235.9 359L232.2 355L228.3 351.2L224.1 347.5L219.8 344.2L215.3 340.9L210.6 337.9L205.8 335.1L200.8 332.6L195.8 330.3L190.6 328.2L185.3 326.4L180.1 324.8L174.3 323.4L168.8 322.4L163.6 321.7L158.1 321.1L152.6 320.9L146.8 320.8L141.3 321.1L135.8 321.6L130.3 322.4L124.8 323.4L119.6 324.6L114.3 326.1L109.1 327.9L104.1 329.9L98.8 332.2L94.1 334.6L89.1 337.5L84.6 340.3L80.1 343.5L75.8 346.8L71.6 350.4L67.6 354.2L64 358L60.5 362L57.1 366.2L54 370.8L51.1 375.2L48.4 380L46 384.8L43.9 389.5L42 394.5L40.4 399.5L39 404.8L37.9 409.8L37 415L36.4 420.2L36.1 425.8L36 431L36.3 436.2L36.7 441.5L37.5 446.8L38.5 451.8L39.8 457L41.4 462.2L43.2 467.2L45.2 472L47.6 477L50.2 481.8L53 486.2L56 490.8L59.3 495L62.6 499L66.3 503L70.3 507L74.3 510.5L78.6 513.9L83.1 517.2L87.6 520.1L92.3 522.9L97.1 525.4L102.1 527.8L107.1 529.8L112.3 531.7L117.6 533.3L122.8 534.7L128.3 535.8L133.8 536.6L139.3 537.2L144.8 537.6L150.6 537.7L156.1 537.5Z"/><path fill="#ff4100" d="M155.2 536.5L160.8 536.1L166.3 535.4L171.6 534.5L177.1 533.3L182.3 531.9L187.6 530.3L192.8 528.3L197.8 526.2L202.6 523.9L207.6 521.2L212.3 518.3L216.8 515.2L221.1 512L225.3 508.5L229.3 504.8L233.1 501L236.7 497L240.1 492.8L243.2 488.5L246.2 484L248.8 479.5L251.3 474.8L253.5 470L255.5 465L257.2 460L258.7 454.8L259.8 449.8L260.7 444.5L261.4 439.2L261.8 434L261.9 428.8L261.7 423.2L261.3 418L260.5 412.8L259.6 407.5L258.3 402.2L256.8 397.2L255 392.2L252.9 387.2L250.7 382.5L248.1 377.8L245.4 373.2L242.3 368.8L239.2 364.5L235.8 360.5L232.1 356.4L228.1 352.5L224.1 348.9L219.8 345.5L215.6 342.4L211.1 339.4L206.3 336.6L201.6 334.1L196.3 331.6L191.3 329.6L186.1 327.7L180.8 326.1L175.6 324.8L170.1 323.7L164.6 322.8L159.1 322.3L153.6 321.9L148.1 321.9L142.6 322.1L137.1 322.5L131.6 323.2L126.3 324.2L120.8 325.4L115.6 326.9L110.3 328.6L105.1 330.6L100.3 332.7L95.3 335.2L90.8 337.6L86.1 340.6L81.6 343.7L77.3 346.9L73.1 350.5L69.1 354.2L65.4 358L61.9 362L58.7 366L55.6 370.2L52.7 374.8L50 379.2L47.6 384L45.4 388.8L43.4 393.8L41.7 398.8L40.3 404L39.1 409L38.2 414.2L37.6 419.5L37.2 424.8L37.1 430L37.3 435.2L37.7 440.5L38.5 445.8L39.4 451L40.7 456L42.1 461L43.9 466L46 471L48.2 475.8L50.7 480.5L53.4 485L56.5 489.5L59.6 493.7L63 497.8L66.6 501.8L70.4 505.5L74.3 509.1L78.6 512.6L82.8 515.7L87.3 518.7L92.1 521.6L96.8 524.1L101.6 526.4L106.8 528.6L111.8 530.4L117.1 532.1L122.3 533.5L127.8 534.6L133.3 535.5L138.8 536.2L144.3 536.5L149.8 536.6L155.2 536.5Z"/><path fill="#ff5700" d="M155.3 535.5L160.6 535.1L166.1 534.5L171.3 533.6L176.8 532.4L182.3 530.9L187.3 529.3L192.6 527.4L197.6 525.2L202.3 522.9L207.3 520.2L211.8 517.4L216.3 514.3L220.6 511.1L224.8 507.6L228.7 504L232.4 500.2L236 496.2L239.4 492L242.5 487.8L245.4 483.2L248.1 478.8L250.5 474L252.7 469.2L254.6 464.2L256.3 459.2L257.7 454.2L258.9 449L259.8 444L260.4 438.8L260.8 433.5L260.8 428.2L260.7 423L260.2 417.8L259.5 412.5L258.4 407.2L257.2 402.2L255.7 397.2L253.9 392.2L251.9 387.5L249.6 382.8L247.2 378.2L244.5 373.8L241.4 369.2L238.2 365L234.7 360.8L231.1 356.9L227.3 353.2L223.2 349.5L219.1 346.2L214.8 343.1L210.3 340.1L205.6 337.3L200.8 334.8L195.8 332.5L190.6 330.4L185.6 328.6L180.3 327L175.1 325.7L169.8 324.6L164.3 323.8L158.8 323.2L153.3 322.9L147.8 322.9L142.3 323.1L136.8 323.5L131.6 324.2L126.3 325.2L120.8 326.4L115.6 327.9L110.6 329.6L105.6 331.5L100.6 333.7L95.8 336L91.1 338.7L86.6 341.5L82.1 344.6L77.8 347.8L73.8 351.2L69.8 354.9L66.1 358.8L62.6 362.7L59.4 366.8L56.3 371L53.4 375.5L50.8 380L48.4 384.8L46.2 389.5L44.3 394.5L42.7 399.2L41.2 404.5L40 409.8L39.2 414.8L38.6 420L38.2 425L38.2 430.2L38.4 435.5L38.8 440.5L39.5 445.8L40.5 451L41.7 456L43.2 461L45 466L47 470.8L49.2 475.5L51.8 480.2L54.5 484.8L57.4 489L60.6 493.2L63.9 497.2L67.5 501.2L71.3 505L75.3 508.6L79.6 512.1L83.8 515.2L88.3 518.2L92.8 520.8L97.6 523.4L102.3 525.6L107.6 527.8L112.6 529.6L117.6 531.2L123.1 532.6L128.3 533.7L133.6 534.6L138.8 535.2L144.3 535.5L149.8 535.6L155.3 535.5Z"/><path fill="#ff6d00" d="M156.2 534.5L161.6 534.1L167.1 533.3L172.6 532.4L177.8 531.2L183.1 529.7L188.1 528L193.1 526.1L198.1 523.9L202.8 521.6L207.6 518.9L212.1 516.1L216.6 513L220.8 509.7L224.8 506.3L228.6 502.8L232.3 498.9L235.8 494.9L239.1 490.8L242.2 486.5L245 482L247.6 477.5L250 472.8L252.1 468L254 463.2L255.6 458.2L257 453.2L258 448.2L258.9 443L259.5 438L259.8 432.8L259.8 427.5L259.6 422.2L259.1 417.2L258.4 412L257.3 406.8L256 401.8L254.5 396.8L252.6 391.8L250.5 386.8L248.3 382.2L245.8 377.8L243 373.2L240.1 369L236.8 364.8L233.3 360.7L229.6 356.8L225.8 353.1L221.8 349.6L217.6 346.3L213.3 343.3L208.8 340.4L204.1 337.6L199.3 335.2L194.3 332.9L189.3 330.9L184.3 329.2L179.1 327.7L173.8 326.4L168.6 325.4L163.1 324.6L157.8 324.1L152.3 323.8L146.8 323.8L141.3 324.1L135.8 324.6L130.6 325.4L125.3 326.4L120.1 327.6L114.8 329.1L109.8 330.8L104.8 332.8L100.1 335L95.3 337.4L90.6 340.1L86.1 342.9L81.8 345.9L77.6 349.3L73.6 352.7L69.8 356.3L66.3 360L62.9 364L59.7 368L56.7 372.2L53.8 376.8L51.2 381.2L49 385.8L46.9 390.5L45 395.5L43.3 400.5L42 405.5L40.9 410.5L40.1 415.8L39.5 420.8L39.2 426L39.2 431.2L39.4 436.2L39.9 441.5L40.6 446.5L41.6 451.5L42.9 456.5L44.4 461.5L46.2 466.2L48.2 471L50.5 475.8L52.9 480.2L55.7 484.8L58.6 489L61.8 493.2L65.2 497.2L68.8 501.2L72.6 504.9L76.6 508.4L80.8 511.8L85.1 514.9L89.6 517.8L94.1 520.4L98.8 522.9L103.6 525.1L108.6 527.2L113.6 529L118.8 530.5L124.1 531.9L129.3 532.9L134.6 533.7L140.1 534.3L145.3 534.6L150.8 534.7L156.2 534.5Z"/><path fill="#ff8200" d="M152.1 533.8L157.6 533.5L162.8 533L168.1 532.3L173.3 531.3L178.3 530.1L183.6 528.6L188.6 526.9L193.8 524.8L198.8 522.5L203.6 520.1L208.1 517.5L212.6 514.6L216.8 511.6L221.1 508.3L225.1 504.8L228.8 501.2L232.4 497.5L235.8 493.5L239.1 489.2L242 485L244.7 480.8L247.2 476.2L249.6 471.5L251.6 466.8L253.5 461.8L255 457L256.3 452L257.3 447L258.1 442L258.6 436.8L258.9 431.5L258.9 426.5L258.6 421.2L258 416.2L257.3 411.2L256.2 406.2L254.9 401.2L253.3 396.2L251.5 391.5L249.4 386.8L247.1 382L244.5 377.5L241.7 373L238.7 368.8L235.6 364.8L232.1 360.7L228.3 356.8L224.6 353.2L220.6 349.8L216.3 346.5L212.1 343.5L207.6 340.7L203.1 338.1L198.3 335.7L193.6 333.6L188.6 331.6L183.6 329.9L178.3 328.4L173.1 327.2L167.8 326.2L162.3 325.4L157.1 325L151.6 324.7L146.3 324.8L140.8 325L135.6 325.6L130.3 326.3L125.1 327.4L119.8 328.6L114.8 330.1L109.8 331.8L104.8 333.8L100.1 336L95.3 338.4L90.8 341L86.3 343.9L82.1 346.9L77.8 350.3L73.8 353.7L70.1 357.3L66.4 361.2L63.1 365.1L59.9 369.2L57 373.5L54.2 378L51.7 382.5L49.4 387L47.4 391.8L45.5 396.8L44 401.5L42.7 406.5L41.7 411.5L40.9 416.5L40.4 421.8L40.1 426.8L40.1 432L40.4 437.2L41 442.2L41.7 447.2L42.8 452.2L44.1 457.2L45.7 462.2L47.5 467L49.6 471.8L51.9 476.5L54.5 481L57.1 485.2L60.1 489.5L63.2 493.5L66.6 497.5L70.2 501.2L74.1 505L78.1 508.4L82.3 511.8L86.6 514.8L91.1 517.6L95.6 520.2L100.3 522.6L105.1 524.8L110.1 526.8L115.1 528.5L120.1 529.9L125.3 531.2L130.6 532.2L135.8 533L141.3 533.5L146.6 533.7L152.1 533.8Z"/><path fill="#ff9800" d="M155.2 532.8L160.6 532.3L165.8 531.7L171.1 530.8L176.3 529.7L181.3 528.3L186.6 526.6L191.3 524.9L196.3 522.7L201.1 520.4L205.8 517.8L210.3 515L214.6 512.1L218.8 508.9L222.8 505.6L226.8 502L230.3 498.3L233.8 494.4L237.2 490.2L240.3 486L243 481.8L245.6 477.2L247.9 472.8L250.1 468L252 463.2L253.6 458.5L255 453.5L256.1 448.5L256.9 443.5L257.5 438.5L257.9 433.5L258 428.5L257.8 423.2L257.4 418.2L256.7 413.2L255.7 408.2L254.5 403.2L253 398.2L251.3 393.5L249.3 388.8L247.1 384L244.7 379.5L241.9 375L239 370.8L235.8 366.5L232.5 362.5L229 358.8L225.3 355.2L221.3 351.6L217.3 348.4L213.1 345.3L208.6 342.3L204.1 339.7L199.3 337.2L194.6 335L189.6 332.9L184.6 331.2L179.6 329.7L174.3 328.4L169.1 327.3L163.8 326.5L158.6 326L153.3 325.7L147.8 325.6L142.6 325.8L137.3 326.3L132.1 326.9L126.8 327.9L121.6 329.1L116.6 330.5L111.6 332.1L106.6 334.1L101.8 336.1L97.1 338.5L92.6 341L88.1 343.8L83.8 346.7L79.8 349.8L75.8 353.2L72 356.8L68.3 360.5L65 364.2L61.8 368.2L58.7 372.5L56 376.8L53.4 381.2L51.1 385.8L48.9 390.5L47 395.2L45.4 400L44 405L42.9 410L42.1 415L41.5 420L41.1 425L41 430L41.2 435.2L41.6 440.2L42.3 445.2L43.3 450.2L44.5 455.2L46 460.2L47.7 465L49.7 469.8L51.8 474.2L54.2 478.8L56.9 483.2L59.8 487.5L62.8 491.5L66.1 495.5L69.5 499.2L73.3 503L77.1 506.4L81.1 509.7L85.3 512.8L89.6 515.7L94.1 518.4L98.8 520.9L103.6 523.2L108.3 525.1L113.3 527L118.6 528.6L123.6 529.9L128.8 531L134.1 531.8L139.3 532.4L144.6 532.8L149.8 532.9L155.2 532.8Z"/><path fill="#ffae00" d="M152.2 532L157.6 531.7L162.8 531.2L168.1 530.5L173.3 529.5L178.3 528.3L183.3 526.8L188.3 525.1L193.3 523.1L198.1 520.9L202.6 518.6L207.1 516.1L211.6 513.2L215.8 510.1L219.9 507L223.8 503.5L227.6 499.9L231.1 496.2L234.5 492.2L237.6 488.2L240.5 484L243.2 479.8L245.7 475.2L247.9 470.8L250 466L251.7 461.2L253.2 456.5L254.5 451.5L255.5 446.5L256.3 441.5L256.8 436.5L257 431.5L257 426.2L256.7 421.2L256.2 416.2L255.4 411.2L254.3 406.2L253 401.2L251.5 396.5L249.6 391.8L247.6 387L245.3 382.5L242.7 378L240 373.8L237 369.5L233.8 365.5L230.4 361.5L226.8 357.8L223.1 354.3L219.1 350.9L215.1 347.8L210.8 344.8L206.6 342.1L202.1 339.6L197.3 337.2L192.6 335.1L187.6 333.1L182.6 331.5L177.6 330L172.3 328.8L167.1 327.9L161.8 327.1L156.6 326.7L151.3 326.5L146.1 326.5L140.8 326.8L135.6 327.3L130.3 328.1L125.3 329.1L120.1 330.4L115.1 331.9L110.1 333.6L105.3 335.5L100.6 337.7L95.8 340.2L91.3 342.8L87.1 345.5L82.8 348.6L78.8 351.7L74.8 355.2L71.2 358.8L67.7 362.5L64.3 366.5L61.2 370.5L58.3 374.8L55.7 379L53.2 383.5L51 388L48.9 392.8L47.2 397.5L45.7 402.2L44.4 407.2L43.4 412.2L42.7 417.2L42.2 422.2L42 427.2L42 432.2L42.3 437.2L42.8 442.2L43.6 447.2L44.7 452.2L46 457.2L47.5 462L49.2 466.5L51.3 471.2L53.6 475.8L56.1 480.2L58.8 484.5L61.8 488.8L64.9 492.8L68.3 496.7L71.8 500.4L75.6 503.9L79.6 507.4L83.6 510.5L87.8 513.5L92.1 516.2L96.6 518.7L101.3 521.2L106.1 523.3L110.8 525.2L115.8 526.9L121.1 528.4L126.1 529.6L131.3 530.6L136.6 531.3L141.8 531.8L147.1 532L152.2 532Z"/><path fill="#ffc300" d="M156.1 531L166.3 529.9L171.6 529L176.6 527.9L181.6 526.5L186.6 524.8L191.6 522.9L196.3 520.8L201.1 518.5L205.6 516L210.1 513.2L214.3 510.2L218.3 507.1L222.3 503.7L226.1 500.2L229.7 496.5L233 492.8L236.1 488.8L239.2 484.5L241.9 480.2L244.4 475.8L246.7 471.2L248.7 466.8L250.5 462L252.1 457.2L253.4 452.2L254.5 447.5L255.3 442.5L255.8 437.5L256.1 432.5L256.2 427.5L255.9 422.2L255.4 417.2L254.7 412.2L253.7 407.2L252.4 402.5L251 397.8L249.2 393L247.2 388.2L245 383.8L242.5 379.2L239.8 375L236.9 370.8L233.8 366.8L230.4 362.8L226.8 359L223.2 355.5L219.3 352.2L215.3 349L211.1 346L206.8 343.3L202.3 340.7L197.6 338.3L192.8 336.1L188.1 334.2L183.1 332.5L178.1 331L173.1 329.8L167.8 328.8L162.6 328.1L157.3 327.6L152.1 327.3L146.8 327.3L141.6 327.6L131.3 328.8L126.1 329.8L121.1 331L116.1 332.4L111.1 334.1L106.3 336L101.6 338.2L97.1 340.4L92.6 343L88.3 345.8L84 348.8L80.1 351.8L76.1 355.3L72.3 358.8L68.9 362.5L65.6 366.2L62.5 370.2L59.5 374.5L56.8 378.8L54.3 383.2L52.1 387.8L50 392.5L48.3 397L46.8 401.8L45.5 406.5L44.5 411.2L43.7 416.2L43.1 421.2L42.9 426.2L42.8 431.2L43.1 436.2L43.5 441L44.3 446L45.3 451L46.5 455.8L48 460.5L49.7 465.2L51.7 470L53.9 474.5L56.4 479L59 483.2L61.8 487.2L64.8 491.3L68.1 495.1L71.6 498.9L75.3 502.5L79.1 505.8L87.1 511.9L91.3 514.7L95.8 517.4L100.3 519.7L105.1 521.9L109.8 523.9L114.8 525.7L119.8 527.2L124.8 528.4L130.1 529.5L135.3 530.3L145.6 531.1L150.8 531.2L156.1 531Z"/><path fill="#ffd900" d="M154.7 530.2L159.8 529.9L165.1 529.3L170.3 528.4L175.3 527.3L180.3 526L185.3 524.4L190.1 522.6L194.8 520.6L199.6 518.3L204.1 515.9L212.6 510.4L216.8 507.3L220.8 504L224.6 500.5L228.1 497L231.4 493.2L234.7 489.2L237.6 485.2L240.4 481L242.9 476.8L245.3 472.2L247.4 467.8L249.3 463L250.9 458.2L252.2 453.5L253.4 448.5L254.2 443.8L254.9 438.8L255.2 433.8L255.3 428.8L255.2 423.8L254.8 418.8L254.1 414L253.2 409L252 404.2L250.6 399.5L249 394.8L247 390L244.9 385.5L242.5 381L239.9 376.8L237.1 372.5L234.1 368.5L230.8 364.5L227.3 360.8L223.8 357.2L219.9 353.8L215.9 350.5L211.8 347.5L207.6 344.7L203.1 342.1L198.6 339.7L193.8 337.4L189.1 335.5L184.1 333.7L179.1 332.2L174.1 330.9L169.1 329.9L163.8 329.1L153.6 328.2L148.3 328.1L143.1 328.3L132.8 329.4L122.8 331.4L117.8 332.8L112.8 334.4L108.1 336.2L103.3 338.2L98.6 340.6L94.1 343.1L89.8 345.7L85.6 348.6L81.6 351.7L77.7 355L73.9 358.5L70.5 362L67.1 365.8L63.9 369.8L61 373.8L58.3 378L55.8 382.2L53.5 386.8L51.4 391.2L49.6 395.8L48 400.5L46.7 405.2L45.6 410.2L44.7 415L44.1 419.8L43.8 424.8L43.7 429.8L43.8 434.8L44.2 439.8L44.9 444.5L45.8 449.2L47 454.2L48.4 459L50 463.8L51.9 468.2L54 472.8L56.4 477.2L58.9 481.5L61.7 485.8L64.7 489.8L68 493.8L71.3 497.4L74.8 500.9L78.6 504.3L82.6 507.6L86.6 510.6L90.8 513.4L95.3 516.1L99.8 518.6L104.6 520.8L114.1 524.5L123.8 527.4L128.8 528.4L134.1 529.3L144.3 530.3L149.6 530.4L154.7 530.2Z"/><path fill="#ffef00" d="M153.4 529.5L163.6 528.7L168.8 527.9L173.8 526.8L178.8 525.6L183.8 524L188.6 522.4L193.3 520.4L202.3 515.9L206.8 513.3L211.1 510.5L215.2 507.5L219.2 504.2L223.1 500.8L226.6 497.3L230.1 493.5L233.2 489.8L236.2 485.8L239 481.8L241.5 477.5L244 473L246.1 468.5L248 464L249.7 459.2L251 454.8L252.2 450L253.2 445L253.9 440L254.3 435.2L254.5 430.2L254.4 425.2L254.1 420.2L253.5 415.5L252.6 410.5L251.6 405.8L250.2 401L248.6 396.2L246.8 391.5L244.7 387L242.4 382.5L239.9 378.2L237.1 374L234.2 370L227.8 362.5L224.3 358.9L220.6 355.4L216.6 352.1L212.6 349.1L208.3 346.2L204.1 343.6L199.6 341.1L195.1 338.9L190.3 336.8L185.6 335L175.8 332.1L170.8 331L165.6 330.1L160.3 329.5L155.3 329.1L150.1 328.9L144.8 329L139.6 329.4L134.6 329.9L129.3 330.8L124.3 331.9L114.6 334.6L109.8 336.4L105.1 338.3L96.1 342.9L87.6 348.2L83.6 351.2L79.6 354.4L75.9 357.8L72.3 361.2L68.9 365L65.8 368.8L62.8 372.8L60 376.8L57.5 381L55 385.5L52.9 390L51 394.5L49.4 399L48 403.8L46.8 408.5L45.8 413.5L45.1 418.2L44.7 423.2L44.5 428.2L44.6 433.2L44.9 438.2L45.5 443L46.4 448L47.4 452.8L48.8 457.5L50.3 462L52.1 466.8L54.2 471.2L56.5 475.8L58.9 480L61.7 484.2L64.6 488.2L70.9 495.8L74.3 499.3L78.1 502.8L82.1 506.2L86.1 509.2L90.3 512.1L94.6 514.8L99.1 517.3L103.6 519.5L108.3 521.5L113.1 523.3L122.8 526.3L132.8 528.3L137.8 528.9L143.1 529.4L148.3 529.6L153.4 529.5Z"/><path fill="#faff00" d="M151.9 528.8L162.1 528L167.1 527.3L172.3 526.4L177.3 525.2L182.3 523.7L191.8 520.2L196.3 518.1L201.1 515.7L209.6 510.5L213.6 507.7L217.7 504.5L221.4 501.2L225.1 497.8L228.6 494L231.8 490.2L234.9 486.2L237.7 482.2L240.3 478L242.7 473.8L244.8 469.5L246.8 464.8L248.6 460L250 455.2L251.3 450.5L252.2 445.8L253 440.8L253.4 436L253.6 426.5L253.3 421.5L252.8 416.5L252 411.8L251 407L249.8 402.2L248.2 397.5L246.5 393L244.5 388.5L240 380L237.3 375.8L234.5 371.8L231.4 367.8L228.1 364L224.8 360.5L221.1 357L217.3 353.7L213.3 350.6L205.1 345.1L196.3 340.4L191.8 338.3L186.8 336.3L181.8 334.6L177.1 333.3L172.1 332.1L166.8 331.1L161.6 330.4L156.6 330L151.3 329.7L146.3 329.8L141.1 330L136.1 330.5L130.8 331.3L125.8 332.3L120.8 333.6L115.8 335.1L106.6 338.6L102.1 340.6L97.3 343.1L88.8 348.3L84.6 351.4L80.8 354.4L73.7 361L70.2 364.8L67 368.5L63.9 372.5L61.2 376.5L58.7 380.5L56.2 385L52.2 393.8L50.4 398.5L49 403.2L47.7 408L46.8 412.8L46.1 417.5L45.6 422.2L45.4 427L45.4 432L45.7 437L46.2 441.8L47 446.8L48 451.5L49.2 456L50.7 460.8L52.5 465.5L54.5 470L59 478.5L61.7 482.8L64.5 486.8L67.6 490.8L70.8 494.5L74.2 498L77.8 501.5L81.6 504.7L85.6 507.8L93.8 513.4L102.6 518.1L107.1 520.2L112.1 522.1L117.1 523.8L121.8 525.2L126.8 526.4L131.8 527.3L141.8 528.5L151.9 528.8Z"/><path fill="#e4ff00" d="M152 528L162.1 527.3L172.1 525.6L181.8 523.1L186.8 521.4L191.3 519.6L196.1 517.4L200.6 515.1L209.1 510L213.1 507.1L217.1 504L220.8 500.7L224.5 497.2L231 490L233.9 486.2L236.9 482L239.6 477.8L241.9 473.5L244 469.2L246 464.8L247.7 460L249.2 455.2L250.5 450.5L251.4 445.8L252.2 440.8L252.6 436L252.8 426.5L252.6 421.5L252 416.8L251.3 412L250.3 407.2L249 402.5L247.5 397.8L245.8 393.2L243.8 388.8L239.3 380.2L236.7 376.2L233.7 372L230.6 368L227.3 364.3L224 360.8L220.3 357.3L216.3 353.9L212.3 350.8L204.1 345.4L199.6 342.8L195.1 340.6L186.1 336.9L181.1 335.2L176.3 333.9L166.6 331.8L161.6 331.2L156.3 330.7L146.3 330.5L141.1 330.8L136.1 331.3L126.1 333L116.6 335.6L111.6 337.3L107.1 339.2L102.3 341.3L97.8 343.7L89.3 348.9L81.6 354.8L77.8 358L74.3 361.5L67.8 368.8L64.7 372.8L61.9 376.8L59.3 381L56.9 385.2L52.9 394L51.3 398.5L49.8 403.2L48.5 408L47.6 412.8L46.9 417.5L46.4 422.2L46.2 427L46.2 432L46.4 437L47 441.8L47.7 446.5L48.7 451.2L50 456L51.5 460.8L53.2 465.2L55.2 469.8L59.7 478.2L62.4 482.5L65.3 486.5L71.4 494L78.3 500.9L85.8 507.1L90.1 510.1L94.3 512.8L98.8 515.4L103.3 517.6L112.3 521.4L121.8 524.4L126.8 525.6L131.8 526.6L141.8 527.8L152 528Z"/><path fill="#ceff00" d="M153.7 527.2L158.8 526.9L163.8 526.4L173.6 524.6L178.3 523.4L183.3 521.8L188.1 520.1L192.8 518.2L197.6 515.9L201.8 513.6L210.1 508.4L217.8 502.4L221.6 499.1L225.2 495.5L231.5 488.2L234.5 484.2L237.2 480.2L239.7 476L242 471.8L244.1 467.2L246 462.8L247.6 458.2L249 453.5L250 449L251 444L251.6 439.2L252 434.5L252.1 429.5L252 424.8L251.7 420L251.1 415L249.2 405.8L247.8 401L246.3 396.5L244.5 392L242.4 387.5L240.2 383.2L237.7 379L235 375L232.1 371L229 367.2L225.7 363.5L218.6 356.7L210.8 350.6L206.8 347.9L202.3 345.2L198.1 342.9L193.3 340.6L184.1 336.9L179.3 335.4L174.3 334.1L169.6 333.1L164.3 332.2L154.3 331.3L144.3 331.3L134.6 332.2L129.3 333.1L124.6 334.1L119.6 335.4L114.8 336.9L105.6 340.6L100.8 342.9L96.6 345.2L88.3 350.5L80.6 356.5L73.6 363.2L70.2 367L67.1 370.8L64.2 374.8L61.5 378.8L59 383L56.7 387.2L52.9 396L51.3 400.8L50 405.2L48 414.5L47.4 419.2L47 424L46.9 428.8L47 433.8L47.3 438.5L47.9 443.2L49.8 452.5L51 457L52.7 461.8L54.4 466.2L56.5 470.8L58.7 475L61.2 479.2L63.8 483.2L66.7 487.2L69.8 491L73.1 494.8L80.1 501.5L83.8 504.6L87.8 507.7L92.1 510.6L96.3 513.2L105.1 517.7L114.3 521.4L123.8 524.2L133.6 526.1L143.6 527.2L153.7 527.2Z"/><path fill="#b8ff00" d="M155.6 526.5L165.6 525.5L175.3 523.5L184.8 520.6L194.1 516.9L202.8 512.3L211.1 506.9L215.1 503.8L218.8 500.7L222.5 497.2L225.9 493.8L229.2 490L232.2 486.2L235 482.2L237.6 478.2L240.1 474L242.2 469.8L244.2 465.2L246 460.8L247.5 456.2L248.8 451.5L249.8 446.8L250.6 442L251.1 437.2L251.4 432.5L251.4 427.8L251.2 422.8L250.7 417.8L250 413L249.1 408.2L247.9 403.8L246.4 399L244.7 394.5L242.8 390L240.7 385.8L238.4 381.5L235.7 377.2L230 369.5L226.8 365.8L223.5 362.2L216.3 355.7L208.6 349.9L204.3 347.1L200.1 344.7L195.6 342.4L191.1 340.3L181.8 336.9L172.3 334.3L167.3 333.3L162.3 332.6L152.3 331.9L147.1 331.9L142.1 332.1L132.1 333.3L122.3 335.3L112.8 338.3L103.8 342.1L95.1 346.9L87.1 352.2L79.6 358.3L76 361.8L72.6 365.3L66.4 372.8L61.1 380.8L58.7 385L56.5 389.2L52.9 398L51.5 402.5L50.2 407.2L48.4 416.5L47.9 421.2L47.6 426L47.6 430.8L47.8 435.8L48.2 440.5L48.9 445.2L51 454.5L54.1 463.5L56 468L58 472.2L60.5 476.8L63 480.8L68.6 488.5L75 495.8L82.1 502.3L89.8 508.3L98.1 513.4L102.3 515.6L107.1 517.8L116.3 521.4L121.1 522.8L126.1 524.1L135.8 525.8L145.6 526.6L155.6 526.5Z"/><path fill="#a3ff00" d="M152.3 526L162.3 525.3L172.1 523.6L181.6 521L190.8 517.6L199.6 513.4L203.8 510.9L208.1 508.2L215.8 502.4L219.6 499.1L223.1 495.7L226.4 492.2L229.6 488.5L235.3 480.8L237.9 476.5L240.2 472.2L242.3 468L244.2 463.5L245.9 459L247.3 454.5L248.4 450L249.4 445.2L250.1 440.5L250.6 435.8L250.8 431L250.7 426.2L250.5 421.5L249.9 416.8L248.2 407.5L246.9 402.8L245.5 398.2L241.9 389.5L239.7 385.2L237.3 381L234.8 377L231.9 373L229 369.2L225.7 365.5L218.8 358.7L211.3 352.6L207.3 349.8L203.1 347.1L194.3 342.5L189.8 340.5L185.1 338.6L175.6 335.7L165.8 333.7L156.1 332.7L146.1 332.5L136.1 333.3L126.3 335L116.8 337.6L107.6 341.1L98.8 345.4L94.6 347.9L90.3 350.7L82.6 356.6L75.6 363.1L69.2 370.2L63.6 378L58.8 386.2L56.7 390.5L54.8 395L53.1 399.5L51.7 404L50.5 408.8L49.6 413.2L48.9 418L48.4 422.8L48.2 427.5L48.3 432.2L48.5 437L49.1 441.8L50.8 451L52 455.5L53.5 460.2L57.1 469L59.3 473.2L61.7 477.5L64.2 481.5L67.1 485.5L70 489.2L73.3 493L80.1 499.7L87.6 505.9L95.6 511.2L99.8 513.6L104.3 515.9L113.3 519.7L122.8 522.6L132.6 524.7L142.3 525.8L152.3 526Z"/><path fill="#8dff00" d="M155.4 525.2L165.3 524.2L174.8 522.3L184.3 519.5L189.1 517.7L193.6 515.7L202.3 511.1L210.3 505.8L217.9 499.8L224.8 493L230.9 485.8L233.8 481.8L236.4 477.8L238.9 473.5L241 469.2L242.9 465L244.7 460.5L246.2 456L247.5 451.2L248.5 446.8L249.3 442L249.8 437.2L250.1 432.5L250.1 427.8L249.9 423L249.5 418.2L248.8 413.5L247.8 408.8L246.7 404.2L245.3 399.8L243.6 395.2L241.7 390.8L239.6 386.5L237.3 382.2L234.8 378.2L229.2 370.5L226 366.8L222.7 363.2L215.6 356.8L207.8 350.9L203.6 348.2L199.3 345.7L190.6 341.5L181.3 338L171.8 335.5L162.1 333.8L152.3 333.1L142.3 333.3L132.6 334.4L123.1 336.4L113.6 339.4L104.6 343.2L96.1 347.7L88.1 353.1L80.6 359.2L77.1 362.5L73.7 366L67.6 373.4L62.3 381.2L59.9 385.5L57.7 389.8L54.1 398.5L51.5 407.5L50.5 412L49.7 416.8L48.9 426L48.9 430.8L49.1 435.5L50.2 444.8L51.1 449.5L52.3 454L53.6 458.5L55.3 463L57.2 467.5L59.2 471.8L64 480L69.6 487.7L75.8 494.8L82.8 501.3L90.6 507.2L98.8 512.4L107.6 516.7L116.6 520.1L126.1 522.8L135.8 524.5L145.6 525.3L155.4 525.2Z"/><path fill="#77ff00" d="M152.9 524.8L162.6 524L172.3 522.3L181.8 519.7L190.8 516.3L199.6 511.9L207.8 506.9L215.5 501L222.6 494.5L229 487.2L234.6 479.5L237 475.5L239.3 471.2L243.2 462.8L244.8 458.2L246.2 453.8L247.3 449.2L248.2 444.5L249.3 435.2L249.5 430.5L249.4 425.8L249.1 421L248.6 416.2L247.8 411.5L246.8 407L244 398L242.2 393.5L240.3 389.2L235.8 381L233.2 377L230.3 373L224.2 365.8L217.3 359.1L209.8 353.1L201.7 347.8L193.1 343.3L184.1 339.6L174.8 336.8L165.1 334.9L155.3 333.9L145.3 333.8L135.6 334.6L126.1 336.3L116.6 339L107.6 342.5L98.8 346.9L90.6 352L83.1 357.8L76.1 364.4L69.8 371.5L64.3 379.2L59.6 387.5L55.7 396L54.1 400.5L52.8 405L50.8 414L49.7 423.2L49.5 428L49.6 432.8L50.4 442L51.2 446.8L52.2 451.2L54.9 460.2L56.7 464.8L58.6 469L60.7 473.2L63.1 477.4L68.5 485.2L74.5 492.5L81.3 499.2L88.8 505.2L96.9 510.5L101.1 512.9L105.6 515.1L114.6 518.8L123.8 521.6L133.3 523.6L143.1 524.6L152.9 524.8Z"/><path fill="#62ff00" d="M155.9 524L165.6 522.9L175.1 521L179.8 519.7L184.6 518.1L193.6 514.3L202.1 509.8L210.1 504.5L217.6 498.4L224.3 491.7L230.3 484.4L233.1 480.5L235.7 476.5L240.1 468.2L242 464L243.7 459.5L245.1 455L246.3 450.5L247.3 446L248.1 441.2L248.8 432L248.8 427.2L248.6 422.5L247.4 413.2L245.3 404.2L243.9 399.8L242.3 395.2L238.3 386.7L236 382.5L233.5 378.5L227.8 370.9L221.4 363.8L214.3 357.3L206.6 351.5L198.3 346.6L189.6 342.4L180.4 339L170.8 336.5L161.3 335L151.6 334.3L141.8 334.6L132.3 335.7L122.8 337.8L113.6 340.7L104.6 344.6L96.1 349.2L88.2 354.5L81 360.5L74.2 367.2L68.3 374.5L63.1 382.4L58.8 390.5L56.9 394.8L55.2 399.2L52.6 408.2L51.7 412.8L50.9 417.5L50.2 426.8L50.4 436L51.6 445.2L53.6 454.2L56.6 463L60.5 471.5L62.9 475.7L65.3 479.7L70.8 487.2L77.1 494.3L84.1 500.8L91.7 506.5L99.9 511.5L108.6 515.8L117.6 519.2L127.1 521.8L136.6 523.4L146.1 524.1L155.9 524Z"/><path fill="#4cff00" d="M153.6 523.5L163.3 522.6L172.8 520.9L182.1 518.3L191.1 514.8L199.7 510.5L207.8 505.3L215.4 499.5L222.3 493L228.4 486L233.9 478.2L236.3 474.1L238.5 470L242.3 461.5L245.1 452.8L246.2 448.2L247.1 443.5L248.1 434.2L248.1 425L247.2 415.8L245.3 406.7L242.6 397.8L238.8 389.1L234.3 381L228.9 373.2L222.8 366.1L216 359.5L208.3 353.5L200.3 348.4L191.8 344L182.8 340.5L173.6 337.8L164.1 336L154.3 335L144.6 335L134.8 336L125.5 337.8L116.1 340.5L107.3 343.9L98.8 348.3L90.8 353.4L83.3 359.2L76.5 365.8L70.3 372.9L65 380.5L62.6 384.5L60.4 388.7L56.6 397.2L53.8 406L52.8 410.5L51.9 415.2L50.9 424.2L50.9 433.5L51.8 442.8L53.6 451.8L56.4 460.5L58.1 464.9L60.1 469.2L64.6 477.4L69.9 485L76 492.2L82.7 498.8L90.1 504.6L98.1 509.8L106.7 514.2L115.6 517.8L124.8 520.6L134.3 522.5L143.8 523.4L153.6 523.5Z"/><path fill="#36ff00" d="M156.1 522.8L165.6 521.7L174.9 519.8L184.1 516.9L193.1 513.2L201.6 508.6L209.6 503.3L217 497.2L223.6 490.6L229.6 483.3L234.8 475.5L239.1 467.3L242.6 458.7L245.2 449.8L246.8 440.8L247.3 436L247.5 431.5L247.3 422.2L246.8 417.8L246.1 413L243.9 404L242.5 399.5L240.8 395.2L236.9 386.8L232.1 378.8L226.5 371.2L220.1 364.2L213.2 358L209.3 355L205.4 352.2L197.3 347.5L188.6 343.3L179.6 340.1L170.3 337.7L160.8 336.2L151.3 335.6L141.6 335.8L132.1 337L122.8 339.1L113.7 342L105 345.8L96.8 350.2L88.8 355.6L81.6 361.6L75.1 368.2L69.2 375.5L64.1 383.2L59.9 391.3L58 395.5L56.3 400L53.8 408.8L52.9 413.4L52.1 418L51.5 427L51.7 436.2L52.9 445.2L55 454.2L58 463L61.9 471.3L66.6 479.2L72.1 486.8L78.3 493.7L85.2 500L92.6 505.6L100.6 510.5L109.3 514.7L118.1 518L127.3 520.5L136.8 522.2L146.3 522.9L156.1 522.8Z"/><path fill="#21ff00" d="M153.3 522.2L162.8 521.4L172.2 519.8L181.3 517.2L190.3 513.8L198.8 509.5L206.8 504.5L214.3 498.8L221.1 492.3L227.3 485.2L232.6 477.8L237.2 469.8L241 461.2L242.5 456.8L243.8 452.4L245.7 443.5L246.7 434.5L246.9 430L246.8 425.2L246.5 420.5L245.9 416L244.1 407.1L241.3 398.3L237.8 390L233.3 381.9L228.1 374.2L225.1 370.6L221.9 367L215.2 360.5L207.8 354.7L199.8 349.6L191.4 345.2L182.7 341.8L173.3 339L164.2 337.2L154.6 336.3L145.1 336.3L135.6 337.1L126.1 338.9L117 341.5L108.1 345L99.7 349.2L91.8 354.2L84.4 360L77.6 366.5L71.5 373.5L66.1 381.2L61.6 389.2L57.9 397.5L55.1 406.2L53.3 415L52.3 424L52.1 428.8L52.2 433.2L53.1 442.2L54.9 451.2L57.6 460L61.1 468.3L65.6 476.5L70.8 484.1L76.9 491.2L83.6 497.8L90.8 503.6L98.8 508.7L107.1 513L115.8 516.6L124.8 519.3L134.3 521.2L143.8 522.2L153.3 522.2Z"/><path fill="#0bff00" d="M155.1 521.5L164.6 520.5L173.6 518.7L182.8 516L191.6 512.4L200.1 508L207.8 503L215.1 497.1L221.8 490.6L227.8 483.5L232.9 476L237.3 467.9L240.9 459.5L242.3 455.1L243.6 450.5L245.3 441.8L246.1 432.8L246.2 428L246 423.5L245 414.5L244.1 410.1L243 405.5L240.1 396.9L236.3 388.6L231.8 380.8L226.3 373.2L220.1 366.1L213.2 359.8L205.6 354L197.9 349.2L189.3 345.1L180.6 341.8L171.4 339.2L161.8 337.6L152.3 336.9L142.8 337.1L133.6 338.1L124.3 340L115.3 342.8L106.5 346.5L98.1 351L90.6 356L83.5 361.8L76.8 368.3L70.8 375.5L65.8 382.9L61.6 390.8L58 399.2L56.6 403.6L55.4 408.2L53.7 417L52.9 426L53 435L53.4 439.5L54.1 444.2L56 453L58.9 461.4L62.6 469.8L67.1 477.6L72.6 485.2L78.6 492.1L85.3 498.4L92.6 504L100.7 509L109.1 513.2L117.7 516.5L126.6 519L136.1 520.8L145.6 521.6L155.1 521.5Z"/><path fill="#00ff0b" d="M155.9 520.8L165.3 519.7L174.6 517.8L183.6 515L192.1 511.4L200.4 507L208.1 501.9L215.3 496L221.8 489.5L227.8 482.2L232.8 474.8L237.1 466.8L240.5 458.2L243.1 449.5L244.7 440.5L245.4 431.5L245.2 422.5L244 413.5L242 404.8L239 396.2L237.1 391.8L235.1 387.8L230.3 379.9L224.9 372.5L218.7 365.8L211.8 359.5L204.3 354L196.4 349.2L188 345.2L179.1 342L169.8 339.6L160.6 338.2L151.3 337.6L141.8 337.8L132.5 339L123.3 341L114.6 343.8L105.8 347.6L97.8 352L90.1 357.2L83.1 363L76.6 369.6L70.8 376.7L65.9 384.2L61.7 392.2L58.4 400.6L55.9 409.2L54.3 418L53.6 427L53.8 436L54.9 444.8L57 453.5L59.9 462L63.7 470.2L68.3 478.2L73.7 485.5L79.8 492.3L86.6 498.5L94.1 504.1L102.1 509L110.3 513L119.1 516.2L128.1 518.6L137.3 520.2L146.6 520.9L155.9 520.8Z"/><path fill="#00ff21" d="M156.2 520L165.6 518.9L174.6 517L183.6 514.2L192.1 510.6L200.3 506.2L208 501L215.1 495.2L221.6 488.7L227.4 481.5L232.4 474L236.6 466L239.9 457.8L242.4 449L244 440.2L244.7 431.2L244.4 422.2L243.2 413.2L241.1 404.5L238.1 396L234.2 387.8L229.6 380L224.1 372.8L217.9 366L211.1 359.9L203.6 354.4L195.6 349.6L187.1 345.7L178.3 342.6L169.3 340.3L160.1 338.8L150.8 338.3L141.3 338.6L132.1 339.8L123.1 341.8L114.3 344.7L105.8 348.4L97.8 352.8L90.3 358L83.3 363.8L76.8 370.4L71.2 377.5L66.3 385L62.2 393L58.9 401.2L56.5 409.8L55 418.5L54.3 427.2L54.6 436.2L55.7 445L57.8 453.8L60.8 462.2L64.5 470.2L69.1 478L74.5 485.2L80.6 492L87.3 498.2L94.6 503.6L102.6 508.4L110.8 512.4L119.6 515.6L128.6 518L137.6 519.5L146.8 520.2L156.2 520Z"/><path fill="#00ff36" d="M150.9 519.5L160.1 518.9L169.3 517.5L178.3 515.2L187.1 512.1L195.3 508.2L203.2 503.5L210.6 498.1L217.3 492L223.4 485.5L228.8 478.2L233.5 470.5L237.3 462.5L240.3 454L242.4 445.5L243.6 436.8L243.9 427.8L243.3 419L241.8 410.2L239.4 401.5L236.1 393.2L232 385.2L227.1 377.8L221.4 370.8L215.1 364.3L208.1 358.5L200.6 353.3L192.6 348.9L184.1 345.3L175.3 342.4L166.3 340.4L157.1 339.3L147.8 339L138.6 339.6L129.3 341.1L120.3 343.4L111.8 346.5L103.6 350.4L95.6 355.1L88.3 360.5L81.6 366.5L75.6 373L70.2 380.2L65.5 388L61.7 396L58.7 404.5L56.6 413L55.4 421.8L55.1 430.8L55.7 439.5L57.2 448.2L59.6 456.9L62.9 465.2L67 473.2L71.9 480.8L77.6 487.8L83.8 494.1L90.8 500L98.3 505.1L106.3 509.5L114.8 513.2L123.6 516.1L132.6 518.1L141.6 519.2L150.9 519.5Z"/><path fill="#00ff4c" d="M152.5 518.8L161.8 518L170.8 516.4L179.8 514L188.3 510.8L196.6 506.7L204.3 501.9L211.6 496.3L218.1 490.3L224.1 483.5L229.3 476.2L233.7 468.5L237.3 460.5L240.1 452.1L242 443.5L243 434.8L243.1 426L242.4 417.2L240.7 408.5L238.1 400L234.6 391.8L230.4 384L225.3 376.7L219.6 369.8L213.1 363.5L206.1 357.9L198.6 353L190.5 348.8L182 345.2L173.1 342.6L164.1 340.8L155.1 339.9L145.8 339.8L136.6 340.6L127.6 342.2L118.8 344.6L110.3 347.9L102.3 351.9L94.6 356.7L87.3 362.2L80.8 368.3L74.9 375L69.7 382.2L65.3 390L61.7 398L58.9 406.5L57 415L56 423.8L55.9 432.5L56.6 441.2L58.3 450L60.9 458.3L64.3 466.5L68.5 474.2L73.6 481.8L79.2 488.5L85.6 494.7L92.6 500.4L100.1 505.3L108.1 509.6L116.6 513.1L125.3 515.8L134.3 517.6L143.3 518.6L152.5 518.8Z"/><path fill="#00ff62" d="M153.4 518L162.6 517.2L171.6 515.5L180.3 513L188.8 509.8L196.8 505.7L204.6 500.8L211.6 495.3L218 489.2L223.9 482.5L229 475.2L233.4 467.5L236.9 459.5L239.6 451.2L241.4 442.8L242.3 434L242.4 425.2L241.5 416.5L239.8 408L237.1 399.5L233.6 391.5L229.3 383.8L224.3 376.5L218.5 369.8L212 363.5L205 358L197.3 353.1L189.3 349L180.8 345.6L172.1 343.1L163.1 341.4L154.1 340.5L144.8 340.5L135.8 341.4L126.8 343.1L118.1 345.6L109.8 348.9L101.8 353L94.3 357.8L87.3 363.2L80.7 369.5L74.9 376.2L69.8 383.5L65.6 391L62.1 399L59.4 407.2L57.6 415.9L56.7 424.5L56.6 433.2L57.5 442L59.2 450.5L61.9 458.8L65.3 467L69.6 474.6L74.6 481.9L80.3 488.6L86.7 494.8L93.6 500.2L101.3 505.2L109.3 509.4L117.6 512.7L126.2 515.2L135.1 517L144.3 517.9L153.4 518Z"/><path fill="#00ff77" d="M153.9 517.2L162.8 516.4L171.8 514.7L180.6 512.2L189.1 508.8L197.1 504.7L204.6 499.9L211.6 494.4L218 488.2L223.6 481.7L228.6 474.5L232.9 466.8L236.4 458.8L239 450.2L240.8 441.8L241.6 433.2L241.6 424.5L240.7 416L238.8 407.5L236.1 399L232.6 391.1L228.3 383.5L223.1 376.2L217.3 369.6L210.9 363.5L203.7 358L196.1 353.2L188.1 349.2L179.8 346.1L171.1 343.6L162.3 342L153.1 341.2L144.1 341.3L135.1 342.2L126.2 344L117.6 346.6L109.3 349.9L101.6 354L94.1 358.8L87.1 364.4L80.8 370.5L75.1 377.2L70.1 384.5L65.9 392L62.5 400L60 408.2L58.2 416.8L57.4 425.2L57.4 434L58.3 442.5L60.2 451L62.8 459.2L66.3 467.2L70.6 474.8L75.7 482L81.3 488.6L87.8 494.8L94.8 500.2L102.3 505L110.3 509L118.6 512.3L127.3 514.8L136.1 516.4L145.1 517.3L153.9 517.2Z"/><path fill="#00ff8d" d="M154.1 516.5L163.1 515.6L172.1 513.9L180.8 511.3L189.1 508L196.8 504L204.3 499.1L211.3 493.6L217.6 487.5L223.3 480.8L228.3 473.5L232.4 466L235.8 458L238.4 449.8L240.1 441.2L240.9 432.8L240.8 424.2L239.8 415.8L238 407.2L235.3 399.2L231.8 391.2L227.5 383.8L222.4 376.5L216.7 370L210.3 364L203.1 358.5L195.6 353.8L187.6 349.8L179.3 346.7L170.6 344.2L161.8 342.7L152.8 341.9L143.8 342.1L135 343L126.3 344.8L117.6 347.4L109.4 350.8L101.3 355L94.1 359.8L87.3 365.2L81.1 371.2L75.5 378L70.6 385.1L66.4 392.8L63.1 400.7L60.6 408.9L58.9 417.2L58.1 425.8L58.2 434.2L59.2 442.8L61 451L63.6 459.2L67.1 467.1L71.3 474.6L76.3 481.7L82.1 488.2L88.4 494.2L95.2 499.5L102.6 504.2L110.5 508.2L118.8 511.6L127.3 514L136.3 515.7L145.1 516.5L154.1 516.5Z"/><path fill="#00ffa3" d="M153.9 515.8L162.8 514.9L171.5 513.2L180.1 510.8L188.3 507.5L196.1 503.5L203.6 498.7L210.6 493.2L216.8 487.2L222.4 480.8L227.3 473.6L231.6 466L234.9 458.2L237.5 450L239.2 441.8L240 433.2L240 424.8L239.1 416.2L237.3 408L234.8 400L231.3 392L227.1 384.5L222.1 377.4L216.3 370.8L210 364.8L203.1 359.4L195.6 354.7L187.8 350.8L179.4 347.5L170.8 345.1L162.1 343.5L153.3 342.7L144.3 342.8L135.6 343.7L126.8 345.4L118.3 347.9L110.1 351.2L102.4 355.2L95.1 360L88.2 365.5L82 371.5L76.4 378L71.6 385L67.4 392.5L64.1 400.3L61.6 408.2L59.8 416.8L59 425.2L59 433.8L59.9 442L61.6 450.3L64.2 458.5L67.6 466.3L71.8 473.9L76.8 481L82.4 487.5L88.7 493.5L95.4 498.8L102.9 503.5L110.7 507.5L118.9 510.8L127.5 513.2L136.1 514.9L145.1 515.7L153.9 515.8Z"/><path fill="#00ffb8" d="M152.9 515L161.6 514.3L170.2 512.8L178.6 510.4L186.9 507.2L194.8 503.3L202.2 498.8L209.1 493.4L215.4 487.5L221.1 481L226.1 474L230.3 466.6L233.8 458.8L236.4 450.8L238.2 442.5L239.1 434.2L239.2 425.8L238.4 417.2L236.8 409L234.3 401L230.9 393L226.8 385.7L221.9 378.5L216.3 372L210.2 366L203.2 360.5L195.8 355.8L188.1 351.8L180.1 348.6L171.6 346.1L163.1 344.4L154.3 343.6L145.3 343.5L136.6 344.3L127.8 346L119.6 348.3L111.5 351.5L103.6 355.5L96.5 360L89.6 365.3L83.3 371.2L77.7 377.8L72.7 384.8L68.6 392L65.1 399.9L62.6 407.8L60.8 416L59.9 424.3L59.8 432.8L60.5 441L62.2 449.2L64.6 457.2L68 465.2L72.1 472.8L76.8 479.7L82.4 486.2L88.5 492.2L95.3 497.7L102.6 502.4L110.4 506.5L118.4 509.8L126.7 512.2L135.3 514L144.1 514.9L152.9 515Z"/><path fill="#00ffce" d="M156 514L164.6 513L173.3 511.1L181.6 508.5L189.8 505L197.6 500.8L204.5 496L211.1 490.5L217.1 484.5L222.3 478L227.1 470.8L231.1 463L234.1 455.4L236.4 447.5L237.8 439L238.4 430.8L238.1 422.2L237 414L235 406L232.2 398L228.6 390.4L224.1 383L219.1 376.4L213.2 370L206.8 364.2L199.8 359.2L192.3 354.8L184.3 351.1L176.3 348.2L167.8 346.1L159.1 344.8L150.3 344.3L141.6 344.6L133 345.8L124.6 347.7L116.6 350.3L108.6 353.8L101 358L94.1 362.8L87.6 368.2L81.6 374.4L76.3 380.9L71.8 387.8L67.9 395.5L64.8 403.2L62.6 411.2L61.2 419.5L60.6 427.8L60.9 436L62 444.2L63.9 452.2L66.7 460.2L70.3 468L74.6 475.1L79.6 481.8L85.2 488L91.6 493.8L98.3 498.8L105.8 503.2L113.6 507L121.8 510L130.3 512.2L138.6 513.6L147.3 514.2L156 514Z"/><path fill="#00ffe4" d="M153.5 513.2L162.1 512.5L170.8 510.8L178.9 508.5L187.1 505.3L194.8 501.3L202 496.8L208.6 491.5L214.6 485.8L220.1 479.4L224.8 472.7L229.1 465.1L232.3 457.6L234.8 449.7L236.6 441.5L237.4 433.2L237.4 425L236.6 417L234.8 408.8L232.3 400.9L228.9 393L224.8 385.8L219.9 378.8L214.4 372.5L208.4 366.8L201.6 361.5L194.5 357L187.1 353.2L178.9 350L170.6 347.6L162.1 346L153.5 345.2L144.8 345.3L136.3 346.1L127.8 347.7L119.6 350.2L111.9 353.2L104.1 357.2L97 361.8L90.3 367L84.3 372.8L78.8 379.1L74.1 385.9L69.9 393.5L66.6 401L64.1 409L62.4 417L61.6 425.2L61.6 433.2L62.4 441.5L64.1 449.5L66.6 457.4L69.9 465L73.8 472.2L78.6 479.1L84.1 485.5L90.3 491.5L97 496.8L104 501.2L111.3 505L119.4 508.2L127.8 510.8L136.1 512.4L144.8 513.2L153.5 513.2Z"/><path fill="#00fffa" d="M153.7 512.2L162.3 511.4L171.1 509.8L179.3 507.3L186.9 504.2L194.3 500.5L201.3 496L208 490.8L214 485L219.3 478.8L224.1 472L228.1 464.8L231.3 457.3L233.8 449.5L235.6 441.2L236.4 433.2L236.3 425L235.5 417L233.8 409L231.3 401.2L228.1 393.7L224.1 386.5L219.3 379.7L213.8 373.4L207.7 367.5L200.9 362.2L193.8 357.8L186.3 354L178.1 350.8L170 348.5L161.8 347L153.3 346.2L144.6 346.3L136.1 347.1L127.9 348.8L119.6 351.2L112.1 354.2L104.3 358.2L97.4 362.8L90.7 368L84.8 373.8L79.6 379.8L74.8 386.6L70.8 393.8L67.6 401.3L65.1 409.2L63.4 417.2L62.6 425.5L62.7 433.5L63.5 441.8L65.2 449.8L67.8 457.8L71.1 465.2L75.1 472.3L79.8 479L85.3 485.2L91.3 491L97.7 496L104.7 500.5L112.1 504.3L120.2 507.5L128.3 509.9L136.8 511.5L145.3 512.2L153.7 512.2Z"/><path fill="#00efff" d="M155.6 511L164.2 510L172.3 508.2L180.3 505.8L188 502.5L195.4 498.5L202.1 494L208.5 488.8L214.3 482.9L219.6 476.5L224.1 469.8L227.8 462.6L230.8 455.2L233.1 447.6L234.6 439.4L235.2 431.2L235 423L234 415L232.1 407.2L229.3 399.3L225.8 391.9L221.6 384.9L216.8 378.5L211.3 372.5L205.1 366.8L198.5 362L191.4 357.8L184.1 354.2L175.8 351.2L167.3 349.1L159.1 347.8L150.6 347.3L142.3 347.6L134.1 348.6L125.8 350.5L118.1 353L110.3 356.3L103.2 360.2L96.3 365L89.8 370.4L84.1 376.2L79.1 382.4L74.6 389.3L70.8 396.6L67.8 404.2L65.7 411.8L64.3 419.5L63.8 427.5L64 435.5L65 443.5L66.8 451.1L69.4 458.5L72.8 466L77.1 473.2L81.8 479.6L87.3 485.7L93.4 491.2L100.1 496.2L107.1 500.5L114.3 504L122.4 507L130.6 509.2L138.6 510.5L147.1 511.2L155.6 511Z"/><path fill="#00d9ff" d="M154.4 509.8L162.6 508.9L170.8 507.3L178.8 504.8L186.4 501.8L193.6 498L200.5 493.5L206.8 488.4L212.6 482.8L217.8 476.5L222.3 469.9L226.3 462.8L229.3 455.3L231.6 447.8L233.1 440L233.8 432L233.7 424L232.7 416L231 408.2L228.3 400.5L225.1 393.4L221.1 386.6L216.3 380L211 374L205 368.5L198.3 363.5L191.4 359.2L184.1 355.7L176.2 352.8L168.3 350.7L160.1 349.3L151.8 348.6L143.6 348.8L135.4 349.8L127.3 351.4L119.6 353.8L112 357L104.6 361L97.8 365.5L91.6 370.6L85.9 376.2L80.8 382.4L76.3 389.1L72.6 396.1L69.6 403.3L67.3 410.8L65.8 418.8L65.2 426.5L65.3 434.5L66.2 442.2L68 450L70.5 457.5L73.7 464.8L77.6 471.5L82.3 478.1L87.6 484.1L93.6 489.7L100.1 494.6L107.1 499L114.3 502.6L122.1 505.5L130.1 507.7L138.1 509.1L146.1 509.8L154.4 509.8Z"/><path fill="#00c3ff" d="M155.2 508.2L163.3 507.3L171.3 505.6L179 503.2L186.6 500.1L193.7 496.2L200.3 491.8L206.5 486.8L212.1 481.1L217.1 475L221.6 468.3L225.2 461.5L228.1 454.2L230.3 446.6L231.7 439L232.3 431L232.1 423.2L231.1 415.5L229.3 408L226.7 400.5L223.3 393.3L219.3 386.6L214.6 380.2L209.1 374.2L203.3 369L196.8 364.2L189.7 360L182.3 356.6L174.8 353.9L166.8 351.8L158.8 350.6L150.8 350.1L142.6 350.3L134.6 351.4L126.8 353.1L119.3 355.5L111.8 358.8L104.6 362.7L98 367.2L91.8 372.4L86.3 378L81.3 384.2L77.1 390.7L73.6 397.5L70.7 404.8L68.6 412.1L67.2 419.8L66.7 427.5L66.9 435.2L67.8 442.8L69.7 450.5L72.3 458L75.6 465L79.6 471.8L84.2 478L89.4 483.8L95.3 489.2L101.8 494L108.4 498L115.6 501.5L123.3 504.4L131.3 506.5L139.1 507.8L147.1 508.4L155.2 508.2Z"/><path fill="#00aeff" d="M153.2 506.8L161.3 506L169.1 504.5L176.6 502.4L184 499.5L190.9 496L197.6 491.8L203.8 486.9L209.5 481.5L214.6 475.6L219.1 469.2L222.8 462.5L225.8 455.6L228.2 448.2L229.8 440.8L230.6 433L230.6 425.5L229.8 418L228.3 410.5L225.9 403L222.8 396L219.1 389.2L214.6 382.9L209.5 377L203.8 371.6L197.6 366.8L190.9 362.5L183.8 359L176.3 356L168.8 353.9L161.1 352.5L153.1 351.7L145.1 351.8L137.3 352.5L129.6 354L122 356.2L114.5 359.2L107.6 362.8L101 367L94.8 371.9L89.2 377.2L84.3 383L79.8 389.4L76.1 396.1L73.1 403L70.8 410.2L69.2 417.8L68.4 425.2L68.4 433L69.2 440.5L70.7 448L73.1 455.5L76.1 462.4L79.8 469.1L84.3 475.5L89.3 481.4L94.8 486.6L101 491.5L107.7 495.8L114.6 499.3L122 502.2L129.6 504.5L137.3 506L145.3 506.7L153.2 506.8Z"/><path fill="#0098ff" d="M152.3 505L160.1 504.4L167.8 503L175.1 501L182.3 498.2L189.3 494.8L195.9 490.8L202.1 486L207.7 480.8L212.7 475L217.1 468.9L220.8 462.4L223.9 455.5L226.3 448.2L227.8 441.1L228.7 433.8L228.8 426.2L228.1 419L226.6 411.5L224.4 404.2L221.5 397.5L217.8 390.8L213.6 384.6L208.7 378.8L203.2 373.5L197.3 368.8L190.7 364.5L183.8 360.9L176.6 358L169.1 355.8L161.6 354.3L153.8 353.6L146.1 353.5L138.3 354.2L130.8 355.6L123.3 357.7L116.1 360.5L109.1 364L102.8 368L96.6 372.8L91.1 378L86.1 383.7L81.8 389.7L78.1 396.2L75.1 403L72.7 410.2L71.1 417.5L70.3 424.8L70.2 432.2L70.9 439.5L72.3 446.9L74.5 454L77.4 460.8L80.9 467.2L85.1 473.5L90.1 479.5L95.6 484.9L101.4 489.5L107.8 493.8L114.6 497.3L121.8 500.3L129.1 502.5L136.8 504.1L144.6 504.9L152.3 505Z"/><path fill="#0082ff" d="M152.7 503L160.1 502.4L167.6 501L174.8 499L182.1 496.2L188.9 492.8L195.2 488.8L201.1 484.2L206.6 479L211.3 473.5L215.6 467.4L219.2 461L222.2 454.2L224.3 447.5L225.9 440.2L226.6 433L226.7 425.8L225.9 418.5L224.5 411.5L222.3 404.5L219.3 397.7L215.8 391.5L211.5 385.2L206.8 379.8L201.3 374.5L195.6 370L189.3 366L182.5 362.5L175.5 359.8L168.3 357.7L160.8 356.2L153.1 355.5L145.6 355.5L138.1 356.2L130.6 357.7L123.5 359.8L116.5 362.5L109.7 366L103.4 370L97.6 374.6L92.2 379.8L87.5 385.2L83.3 391.2L79.8 397.5L76.8 404.2L74.6 411.2L73.1 418.2L72.4 425.5L72.3 432.8L73.1 440L74.5 447L76.7 454L79.6 460.7L83.1 467L87.3 473L92.1 478.6L97.3 483.7L103.1 488.3L109.3 492.3L116 495.8L122.8 498.5L130.1 500.7L137.6 502.2L145.1 502.9L152.7 503Z"/><path fill="#006dff" d="M153.8 500.8L161.1 500L168.3 498.6L175.3 496.5L182.1 493.7L188.6 490.3L194.6 486.5L200.3 481.9L205.6 476.8L210.2 471.2L214.3 465.2L217.7 459L220.4 452.5L222.4 445.8L223.8 438.8L224.4 431.8L224.3 424.8L223.5 417.8L222 411L219.7 404.2L216.8 397.8L213.2 391.5L209 385.8L204.2 380.2L198.8 375.3L193.1 371L186.8 367.2L180.3 364L173.3 361.4L166.3 359.5L159.1 358.2L151.8 357.7L144.3 357.8L137.1 358.6L130.1 360.1L123.1 362.2L116.3 365L109.8 368.5L103.8 372.4L98.2 377L93.2 382L88.6 387.5L84.7 393.2L81.3 399.5L78.6 406L76.6 412.8L75.2 419.8L74.6 426.8L74.7 433.8L75.5 440.8L77.1 447.8L79.3 454.5L82.2 460.8L85.6 466.8L89.8 472.6L94.6 478L99.8 482.9L105.6 487.3L111.8 491.2L118.3 494.4L125.1 497L132.1 498.9L139.3 500.2L146.6 500.8L153.8 500.8Z"/><path fill="#0057ff" d="M152.8 498.5L159.8 497.9L166.8 496.6L173.8 494.6L180.3 492L186.6 488.8L192.6 485L198.1 480.7L203.3 475.8L207.8 470.4L211.8 464.8L215.2 458.8L217.8 452.5L219.9 446L221.3 439.2L222 432.5L222 425.8L221.2 419L219.8 412.2L217.8 405.8L215 399.5L211.7 393.5L207.6 387.8L203.1 382.5L198.1 377.8L192.6 373.5L186.6 369.7L180.3 366.5L173.6 363.9L166.6 361.9L159.6 360.6L152.6 360L145.3 360L138.3 360.7L131.3 362.1L124.6 364.1L118.1 366.8L111.8 370L106 373.8L100.6 378L95.5 383L91 388.2L87.1 393.9L83.8 399.8L81.1 406.1L79.1 412.5L77.7 419.2L77 426L77 432.8L77.8 439.5L79.1 446L81.2 452.5L83.8 458.8L87.2 464.8L91.1 470.4L95.6 475.7L100.6 480.5L106.1 484.8L112.1 488.7L118.3 491.9L124.8 494.4L131.6 496.4L138.6 497.8L145.6 498.5L152.8 498.5Z"/><path fill="#0041ff" d="M155.1 496L161.8 495.2L168.6 493.7L175.3 491.5L181.6 488.8L187.5 485.5L193.1 481.7L198.3 477.3L203 472.5L207.2 467.2L210.8 461.6L213.9 455.8L216.3 449.5L218 443.2L219.1 436.8L219.6 430.2L219.3 423.5L218.4 417L216.8 410.5L214.5 404.2L211.6 398.2L208.1 392.5L204.1 387.2L199.4 382.2L194.3 377.8L188.7 373.8L182.8 370.4L176.6 367.5L170.1 365.2L163.3 363.6L156.6 362.6L149.8 362.3L142.8 362.6L136.1 363.5L129.6 365L123.1 367.2L116.8 370L110.8 373.4L105.3 377.2L100.3 381.5L95.6 386.5L91.4 391.8L87.9 397.2L85 403L82.6 409.2L80.9 415.5L79.8 422L79.4 428.5L79.7 435L80.6 441.5L82.2 447.8L84.4 454L87.2 460L90.6 465.5L94.6 470.9L99.1 475.8L104.1 480.3L109.5 484.2L115.4 487.8L121.6 490.7L128.1 493L134.6 494.7L141.3 495.8L148.1 496.2L155.1 496Z"/><path fill="#002bff" d="M154.4 493.5L161.1 492.7L167.6 491.3L173.8 489.3L179.8 486.8L185.6 483.7L191 480L196.1 475.8L200.6 471.2L204.7 466.2L208.3 460.8L211.3 455L213.6 449.2L215.4 443L216.5 436.8L216.9 430.5L216.7 424L215.8 417.8L214.3 411.5L212.2 405.5L209.4 399.8L206.1 394.2L202.1 389L197.7 384.2L193 380L187.6 376.1L181.9 372.8L176 370L169.8 367.8L163.6 366.2L156.8 365.2L150.3 364.8L143.6 365.1L137.1 365.9L130.8 367.3L124.6 369.4L118.6 372L112.7 375.2L107.3 379L102.3 383.2L97.9 387.8L94 392.8L90.6 398L87.6 403.7L85.3 409.5L83.6 415.7L82.5 421.8L82.1 428L82.3 434.5L83.2 440.8L84.6 446.8L86.7 452.8L89.4 458.5L92.7 464L96.6 469.2L100.8 473.8L105.6 478.1L110.8 482L116.3 485.3L122.3 488.2L128.3 490.4L134.6 492.1L141.1 493.2L147.6 493.6L154.4 493.5Z"/><path fill="#0016ff" d="M154.6 490.5L160.8 489.7L167.1 488.3L172.9 486.5L178.7 484L184.2 481L189.3 477.5L194.1 473.5L198.6 468.9L202.4 464.2L205.8 458.8L208.6 453.5L210.8 447.8L212.4 442L213.4 436L213.8 430L213.6 424L212.7 418L211.3 412.2L209.2 406.5L206.6 401L203.3 395.7L199.6 390.7L195.3 386.2L190.6 382L185.4 378.2L180.2 375.2L174.3 372.6L168.3 370.5L162.1 369L155.8 368.1L149.6 367.8L143.3 368.1L136.9 369L130.8 370.4L124.8 372.5L119.3 375L114 378L109 381.5L104.4 385.5L100.1 389.9L96.3 394.7L93.1 399.8L90.3 405.2L88.1 411L86.6 416.5L85.6 422.5L85.2 428.5L85.4 434.5L86.3 440.5L87.7 446.2L89.8 452L92.4 457.5L95.6 462.8L99.3 467.7L103.6 472.2L108.1 476.2L112.9 479.8L118.3 483L124.1 485.7L129.8 487.8L135.8 489.3L142.1 490.3L148.3 490.7L154.6 490.5Z"/><path fill="#0000ff" d="M154.4 486L160.3 485.2L166.1 483.9L171.6 482.1L177 479.8L182 477L186.7 473.8L191.1 470L195.1 465.9L198.8 461.2L201.8 456.5L204.3 451.5L206.3 446.3L207.8 440.8L208.8 435.2L209.1 429.8L208.8 424L208 418.5L206.6 413L204.6 407.6L202.1 402.5L199.1 397.7L195.6 393.2L191.7 389L187.3 385.3L182.8 382L177.6 379L172.3 376.7L166.8 374.8L161.1 373.4L155.3 372.6L149.3 372.3L143.6 372.6L137.8 373.4L132.2 374.8L126.8 376.6L121.5 379L116.6 381.8L111.8 385.1L107.6 388.8L103.5 393L100.1 397.4L97.1 402.1L94.6 407.1L92.6 412.3L91.1 417.8L90.2 423.2L89.9 428.8L90.2 434.5L91 440L92.4 445.5L94.3 450.8L96.8 455.8L99.7 460.5L103.1 465L107.1 469.2L111.3 473L115.9 476.2L120.8 479.2L126.1 481.6L131.4 483.5L137.1 484.9L142.8 485.8L148.6 486.2L154.4 486Z"/></g><g clip-path="url(#clipd)"><ellipse cx="511.00" cy="430.90" rx="114.40" ry="110.10" fill="#ff0000"/><path fill="#ff1600" d="M516.8 539.8L522.4 539.4L527.9 538.7L533.1 537.8L538.6 536.7L544.1 535.2L549.4 533.5L554.4 531.6L559.6 529.4L564.6 527L569.6 524.2L574.4 521.3L578.9 518.2L583.1 515L587.4 511.5L591.4 507.8L595.3 503.8L598.8 499.8L602.2 495.6L605.5 491.1L608.4 486.6L611.2 481.8L613.7 477.1L615.9 472.1L617.9 467.1L619.7 461.8L621.1 456.8L622.3 451.6L623.2 446.3L623.8 441.1L624.2 435.6L624.3 430.1L624.1 424.8L623.7 419.6L622.9 414.1L621.9 408.8L620.7 403.6L619.2 398.6L617.4 393.6L615.4 388.6L613.1 383.6L610.5 378.8L607.7 374.1L604.7 369.6L601.5 365.3L598 361.1L594.4 357L590.4 353.1L586.4 349.5L582.1 346L577.6 342.7L573.1 339.7L568.4 336.9L563.4 334.2L558.6 331.9L553.4 329.8L548.1 327.9L542.6 326.2L537.4 324.8L531.9 323.7L526.4 322.9L520.9 322.3L515.4 321.9L509.6 321.9L504.1 322.1L498.6 322.5L493.1 323.2L487.6 324.2L482.1 325.5L476.9 326.9L471.6 328.7L466.4 330.7L461.4 332.9L456.6 335.2L451.9 337.9L447.1 340.9L442.6 344L438.4 347.2L434.1 350.8L430.1 354.6L426.4 358.4L422.7 362.6L419.3 366.8L416.1 371.3L413.2 375.8L410.6 380.3L408.2 385.1L406 390.1L404 395.1L402.3 400.3L400.9 405.3L399.7 410.6L398.8 415.8L398.2 421.1L397.8 426.3L397.7 431.8L397.9 437.1L398.3 442.3L399 447.6L400 452.8L401.3 458.1L402.7 463.1L404.6 468.3L406.7 473.6L409 478.3L411.5 483.1L414.2 487.6L417.2 492.1L420.5 496.6L424 500.8L427.6 504.7L431.4 508.4L435.3 512L439.4 515.4L443.9 518.7L448.4 521.8L453.1 524.6L457.9 527.2L462.9 529.6L467.9 531.7L473.1 533.7L478.4 535.3L483.6 536.7L489.1 537.9L494.6 538.8L500.1 539.4L505.6 539.8L511.1 539.9L516.8 539.8Z"/><path fill="#ff2b00" d="M516.6 538.8L522.1 538.4L527.6 537.7L532.9 536.9L538.4 535.7L543.6 534.3L548.9 532.6L554.1 530.7L559.1 528.5L564.1 526.1L568.9 523.5L573.6 520.6L578.1 517.5L582.4 514.3L586.6 510.8L590.6 507.1L594.4 503.3L597.9 499.3L601.3 495.1L604.4 490.8L607.4 486.3L610 481.8L612.5 477.1L614.8 472.1L616.8 467.1L618.5 462.1L620 456.8L621.2 451.6L622.1 446.3L622.8 441.1L623.1 435.8L623.3 430.3L623.1 425.1L622.7 419.8L622 414.6L621 409.3L619.7 404.1L618.2 398.8L616.4 393.8L614.5 389.1L612.1 384.1L609.6 379.3L606.9 374.8L603.9 370.3L600.8 366.1L597.3 361.8L593.7 357.8L589.9 354L585.7 350.3L581.6 346.9L577.1 343.6L572.6 340.6L567.9 337.7L563.1 335.2L558.1 332.8L553.1 330.8L547.9 328.9L542.6 327.2L537.4 325.9L531.9 324.7L526.4 323.9L520.9 323.3L515.4 322.9L509.9 322.9L504.4 323.1L498.9 323.5L493.4 324.2L487.9 325.2L482.6 326.4L477.4 327.8L472.4 329.5L467.1 331.5L462.1 333.7L457.4 336L452.6 338.6L447.9 341.6L443.4 344.7L439.1 347.9L434.9 351.5L430.9 355.3L427.2 359.1L423.6 363.1L420.3 367.3L417.2 371.6L414.3 376.1L411.7 380.6L409.2 385.3L407 390.3L405 395.3L403.3 400.3L401.9 405.3L400.8 410.6L399.8 415.8L399.2 421.1L398.8 426.3L398.7 431.6L398.9 436.8L399.3 442.1L400 447.3L401 452.6L402.2 457.6L403.8 462.8L405.5 467.8L407.5 472.8L409.8 477.6L412.3 482.3L414.9 486.8L417.9 491.3L421.1 495.6L424.5 499.8L428.1 503.7L431.9 507.6L435.9 511.2L440.1 514.7L444.4 517.8L448.9 520.9L453.6 523.7L458.6 526.4L463.4 528.7L468.4 530.8L473.4 532.7L478.6 534.3L483.9 535.7L489.4 536.9L494.6 537.8L500.1 538.4L505.6 538.8L511.1 538.9L516.6 538.8Z"/><path fill="#ff4100" d="M517.3 537.8L522.6 537.4L528.1 536.7L533.6 535.7L538.9 534.6L544.1 533.1L549.4 531.4L554.4 529.5L559.4 527.3L564.4 524.9L569.1 522.2L573.6 519.4L578.1 516.3L582.4 513.1L586.5 509.6L590.4 505.9L594.1 502.1L597.7 498.1L601 493.8L604.1 489.6L607 485.1L609.6 480.6L612 475.8L614.2 470.8L616.2 465.8L617.8 460.8L619.2 455.8L620.4 450.6L621.2 445.3L621.8 440.1L622.2 434.8L622.2 429.6L622 424.3L621.6 419.1L620.8 413.8L619.8 408.6L618.6 403.6L617.1 398.6L615.3 393.6L613.2 388.6L610.9 383.8L608.5 379.3L605.8 374.8L602.7 370.3L599.5 366.1L596 361.8L592.4 357.9L588.6 354.2L584.5 350.6L580.4 347.2L575.9 343.9L571.4 341L566.6 338.2L561.9 335.7L557.1 333.5L552.1 331.4L546.9 329.5L541.6 328L536.4 326.6L530.9 325.5L525.4 324.7L520.1 324.2L514.6 323.9L509.1 323.8L503.6 324.1L498.4 324.5L492.9 325.3L487.6 326.2L482.1 327.5L476.9 329L471.6 330.8L466.6 332.7L461.6 335L456.9 337.4L452.1 340.1L447.6 342.9L443.1 346.1L438.9 349.4L434.9 352.8L431.1 356.4L427.4 360.3L423.9 364.3L420.6 368.6L417.6 372.8L414.7 377.3L412.1 381.8L409.7 386.6L407.6 391.3L405.7 396.3L404.1 401.3L402.7 406.3L401.6 411.3L400.8 416.6L400.2 421.8L399.8 427.1L399.8 432.3L400 437.6L400.4 442.8L401.2 448.1L402.2 453.3L403.5 458.3L405 463.3L406.8 468.3L408.7 473.1L411 477.8L413.5 482.6L416.3 487.1L419.1 491.3L422.3 495.6L425.6 499.6L429.3 503.6L433.1 507.3L437.1 510.9L441.4 514.4L445.6 517.5L450.1 520.5L454.6 523.2L459.4 525.7L464.4 528.1L469.4 530.2L474.4 532L479.6 533.6L484.9 535L490.4 536.1L495.6 536.9L500.9 537.5L506.4 537.9L511.9 538L517.3 537.8Z"/><path fill="#ff5700" d="M518.4 536.8L523.9 536.3L529.1 535.6L534.4 534.6L539.9 533.3L544.9 531.9L550.1 530.1L555.1 528.2L560.1 525.9L564.9 523.5L569.6 520.8L574.1 518L578.6 514.8L582.9 511.4L586.9 508L590.7 504.3L594.4 500.4L597.9 496.3L601.1 492.1L604.1 487.8L606.9 483.3L609.4 478.8L611.8 474.1L613.8 469.3L615.7 464.3L617.3 459.3L618.6 454.1L619.7 448.8L620.5 443.8L621 438.8L621.3 433.6L621.3 428.3L621 423.1L620.4 417.8L619.7 412.8L618.6 407.8L617.3 402.6L615.7 397.6L613.8 392.6L611.8 387.8L609.4 383.1L606.8 378.3L604 373.8L601 369.6L597.7 365.3L594.3 361.3L590.6 357.4L586.8 353.8L582.8 350.3L578.6 347L574.4 344L569.9 341.1L565.1 338.4L560.4 336L555.4 333.7L550.4 331.7L545.1 330L539.9 328.5L534.6 327.2L529.1 326.2L523.9 325.5L518.4 325L513.1 324.8L507.6 324.8L502.1 325.1L496.9 325.6L491.6 326.4L486.4 327.4L481.1 328.7L475.9 330.3L470.6 332.1L465.6 334.2L460.9 336.4L456.1 338.8L451.6 341.5L447.1 344.4L442.9 347.4L438.6 350.8L434.7 354.3L430.9 358L427.3 361.8L423.9 365.8L420.6 370.1L417.7 374.3L414.9 378.8L412.4 383.3L410.1 388.1L408.1 392.8L406.2 397.8L404.6 402.8L403.4 407.8L402.3 413.1L401.5 418.1L401 423.1L400.7 428.3L400.7 433.6L401 438.8L401.5 443.8L402.3 449.1L403.4 454.3L404.7 459.3L406.2 464.1L408.1 469.1L410.1 473.8L412.5 478.6L414.9 483.1L417.7 487.6L420.7 491.8L423.9 496.1L427.3 500.1L430.9 503.8L434.7 507.6L438.7 511.1L442.9 514.4L447.1 517.4L451.6 520.3L456.1 523L460.9 525.4L465.9 527.7L470.9 529.8L475.9 531.5L481.1 533.1L486.4 534.4L491.6 535.4L496.9 536.2L502.1 536.7L507.6 537L513.1 537L518.4 536.8Z"/><path fill="#ff6d00" d="M515.6 536L521.1 535.7L526.4 535.1L531.6 534.3L536.9 533.2L541.9 531.9L547.1 530.2L552.1 528.4L557.1 526.3L561.9 524.1L566.6 521.5L571.1 518.8L575.6 515.8L579.9 512.7L584 509.3L587.9 505.8L591.6 502L595.2 498.1L598.5 494.1L601.6 489.8L604.5 485.6L607.1 481.1L609.7 476.3L611.9 471.6L613.8 466.8L615.5 461.8L617 456.8L618.2 451.8L619.1 446.8L619.8 441.8L620.2 436.6L620.4 431.3L620.2 426.1L619.9 421.1L619.2 415.8L618.3 410.6L617.1 405.6L615.7 400.6L614 395.6L612.1 390.8L609.9 386.1L607.6 381.6L605 377.1L602 372.6L598.9 368.3L595.6 364.2L592.1 360.3L588.4 356.6L584.6 353.1L580.6 349.7L576.4 346.5L571.9 343.5L567.4 340.7L562.9 338.2L558.1 335.9L553.1 333.8L548.1 331.9L542.9 330.2L537.9 328.9L532.6 327.7L527.1 326.8L521.9 326.2L516.4 325.8L510.9 325.7L505.6 325.8L500.1 326.2L494.9 326.8L489.6 327.7L484.4 328.8L479.1 330.2L474.1 331.8L469.1 333.7L464.4 335.7L459.6 338L455.1 340.4L450.6 343.2L446.1 346.2L441.9 349.4L437.7 352.8L433.9 356.3L430.1 360.1L426.5 364.1L423.3 368.1L420.2 372.3L417.2 376.8L414.6 381.3L412.2 385.8L410 390.6L408.1 395.3L406.4 400.1L405 405.1L403.8 410.3L402.9 415.3L402.2 420.3L401.8 425.6L401.6 430.6L401.8 435.8L402.2 441.1L402.8 446.1L403.7 451.1L404.8 456.1L406.2 461.1L407.9 466.1L409.8 470.8L412 475.6L414.3 480.1L416.9 484.6L419.9 489.1L422.9 493.3L426.2 497.3L429.7 501.3L433.4 505L437.2 508.6L441.1 511.8L445.4 515.1L449.9 518.2L454.4 520.9L459.1 523.5L463.9 525.9L468.6 527.9L473.6 529.8L478.6 531.4L483.9 532.8L489.1 534L494.4 534.9L499.6 535.6L504.9 536L510.4 536.1L515.6 536Z"/><path fill="#ff8200" d="M518.1 535L523.4 534.6L528.6 533.9L533.9 532.9L539.1 531.7L544.4 530.2L549.4 528.5L554.4 526.6L559.1 524.4L563.9 522L568.4 519.5L572.9 516.6L577.1 513.6L581.4 510.3L585.4 506.9L589.1 503.3L592.7 499.6L596.1 495.6L599.3 491.6L602.3 487.3L605.1 482.8L607.6 478.3L610 473.6L612 468.8L613.8 464.1L615.4 459.1L616.7 454.1L617.8 449.1L618.6 444.1L619.1 438.8L619.4 433.8L619.4 428.8L619.2 423.6L618.7 418.6L617.9 413.3L616.9 408.3L615.6 403.3L614 398.3L612.3 393.6L610.2 388.8L607.9 384.1L605.4 379.6L602.8 375.3L599.8 371.1L596.6 366.8L593.2 362.8L589.6 359L585.9 355.4L581.9 351.9L577.6 348.6L573.4 345.5L568.9 342.6L564.4 340L559.6 337.6L554.9 335.4L549.9 333.5L544.9 331.7L539.6 330.2L534.4 329L529.1 328L523.9 327.3L518.6 326.8L513.4 326.6L507.9 326.6L502.6 326.8L497.4 327.4L492.1 328.1L486.9 329.1L481.9 330.4L476.9 331.8L471.9 333.6L466.9 335.6L462.1 337.7L457.4 340.2L452.9 342.8L448.4 345.7L444.1 348.8L440.1 351.9L436.1 355.4L432.4 359L428.8 362.8L425.4 366.8L422.3 370.8L419.4 375.1L416.7 379.3L414.2 383.8L411.9 388.6L409.8 393.3L408.1 398.1L406.6 402.8L405.2 407.8L404.2 412.8L403.4 417.8L402.9 422.8L402.6 428.1L402.6 433.1L402.8 438.3L403.3 443.3L404.1 448.6L405.1 453.6L406.4 458.6L408 463.6L409.8 468.3L411.8 473.1L414 477.6L416.5 482.1L419.3 486.6L422.2 490.8L425.3 494.8L428.6 498.8L432.1 502.5L435.9 506.2L439.7 509.6L443.9 512.9L448.1 515.9L452.4 518.7L456.9 521.3L461.6 523.8L466.4 526L471.1 528L476.1 529.7L481.1 531.2L486.4 532.5L491.6 533.6L496.9 534.4L502.1 534.9L507.4 535.2L512.6 535.3L518.1 535Z"/><path fill="#ff9800" d="M516.2 534.3L521.4 533.9L526.6 533.3L531.9 532.5L537.1 531.3L542.4 529.9L547.4 528.3L552.4 526.5L557.1 524.4L561.9 522.1L566.4 519.7L570.9 516.9L575.1 514L579.4 510.8L583.4 507.5L587.1 504.1L590.8 500.3L594.2 496.6L597.4 492.6L600.5 488.3L603.3 484.1L605.9 479.6L608.3 475.1L610.5 470.3L612.4 465.6L614 460.8L615.4 455.8L616.6 450.8L617.4 445.8L618.1 440.8L618.4 435.8L618.6 430.6L618.4 425.6L618 420.3L617.3 415.3L616.4 410.3L615.2 405.3L613.8 400.6L612.2 395.8L610.3 391.1L608.1 386.3L605.7 381.8L603 377.3L600.2 373.1L597.1 368.8L593.8 364.8L590.4 361L586.6 357.3L582.9 353.9L578.9 350.6L574.6 347.4L570.4 344.6L565.9 341.8L561.4 339.4L556.6 337.1L551.6 335L546.6 333.2L541.6 331.7L536.6 330.4L531.4 329.2L526.1 328.4L520.9 327.8L515.6 327.5L510.1 327.4L504.9 327.5L499.6 328L494.4 328.6L489.4 329.5L484.1 330.7L479.1 332L474.1 333.7L469.4 335.5L464.4 337.6L459.6 340L455.1 342.5L450.6 345.2L446.4 348.2L442.4 351.2L438.4 354.6L434.6 358.1L430.9 361.8L427.6 365.6L424.4 369.6L421.3 373.8L418.5 378.1L415.9 382.6L413.6 387.1L411.4 391.8L409.5 396.6L407.9 401.3L406.5 406.3L405.4 411.1L404.5 416.1L403.9 421.1L403.6 426.1L403.4 431.3L403.6 436.3L404 441.3L404.6 446.3L405.5 451.3L406.7 456.3L408.2 461.3L409.8 466.1L411.7 470.8L413.8 475.3L416.2 479.8L418.8 484.3L421.7 488.6L424.8 492.8L428 496.8L431.4 500.6L435.1 504.3L438.9 507.7L442.9 511L447.1 514.2L451.4 517L455.9 519.8L460.4 522.2L465.1 524.5L470.1 526.6L474.9 528.4L479.9 530L485.1 531.4L490.1 532.4L495.4 533.3L500.6 533.9L505.9 534.3L511.1 534.4L516.2 534.3Z"/><path fill="#ffae00" d="M514.1 533.5L519.4 533.3L524.6 532.8L529.9 532L534.9 531L539.9 529.8L544.9 528.3L549.6 526.6L554.6 524.6L559.4 522.4L564.1 520L568.6 517.3L572.9 514.6L577.1 511.5L581.1 508.3L585.1 504.8L588.7 501.3L592.2 497.6L595.5 493.6L598.6 489.6L601.5 485.3L604.1 481.1L606.6 476.6L608.8 472.1L610.8 467.3L612.5 462.6L614 457.8L615.2 452.8L616.2 447.8L617 442.8L617.5 437.8L617.7 432.6L617.6 427.6L617.4 422.6L616.8 417.6L616 412.6L614.9 407.6L613.6 402.6L612 397.8L610.2 393.1L608.2 388.6L606 384.1L603.4 379.6L600.7 375.3L597.7 371.1L594.6 367.1L591.1 363.1L587.6 359.4L583.9 355.9L579.9 352.4L575.9 349.3L571.6 346.4L567.1 343.5L562.6 341L557.9 338.6L553.1 336.5L548.4 334.7L543.4 333L538.4 331.6L533.4 330.5L528.1 329.5L523.1 328.9L517.9 328.4L512.6 328.2L507.4 328.3L502.1 328.6L496.9 329.1L491.6 329.9L486.6 330.9L481.6 332.2L476.6 333.7L471.6 335.5L466.9 337.4L462.1 339.6L457.6 342L453.1 344.6L448.9 347.4L444.6 350.5L440.6 353.7L436.9 357.1L433.1 360.7L429.6 364.5L426.4 368.3L423.4 372.3L420.5 376.6L417.9 380.8L415.4 385.3L413.2 389.8L411.2 394.6L409.5 399.3L408 404.1L406.7 409.1L405.7 414.1L405 419.1L404.5 424.1L404.3 429.1L404.3 434.1L404.6 439.1L405.2 444.1L406 449.1L407 454.1L408.4 459.1L409.9 463.8L411.7 468.6L413.7 473.1L415.9 477.6L418.5 482.1L421.2 486.3L424.1 490.6L427.3 494.6L430.6 498.4L434.1 502.1L437.9 505.7L441.8 509.1L445.9 512.2L450.1 515.2L454.4 517.9L458.9 520.5L463.6 522.9L468.4 525L473.1 526.9L478.1 528.6L483.1 530L488.1 531.2L493.4 532.2L498.4 532.9L503.6 533.3L508.9 533.6L514.1 533.5Z"/><path fill="#ffc300" d="M518.1 532.5L523.4 532.1L528.4 531.4L533.6 530.4L538.6 529.3L543.6 527.8L548.6 526.1L553.4 524.3L558.1 522.1L562.9 519.7L567.4 517.1L571.6 514.4L575.9 511.4L579.9 508.3L583.9 504.8L587.5 501.3L591.1 497.6L594.5 493.6L597.6 489.6L600.5 485.3L603.1 481.1L605.6 476.6L607.8 472.1L609.8 467.6L611.5 462.8L613 458.1L614.3 453.3L615.3 448.3L616.1 443.3L616.6 438.3L616.8 433.3L616.8 428.3L616.6 423.3L616 418.3L615.3 413.3L614.2 408.3L613 403.6L611.5 398.8L609.7 394.1L607.6 389.3L605.4 384.8L602.9 380.3L600.2 376.1L597.4 372.1L594.3 368.1L590.9 364.1L587.4 360.3L583.7 356.8L579.9 353.5L575.9 350.4L571.6 347.4L567.1 344.5L562.6 341.9L558.1 339.7L553.4 337.5L548.6 335.7L543.6 334L538.6 332.5L533.6 331.4L528.6 330.4L523.4 329.7L513.1 329L507.9 329.1L502.6 329.3L497.4 329.9L492.4 330.6L487.1 331.6L482.1 332.9L477.1 334.4L472.4 336.1L467.6 338L462.9 340.2L458.4 342.5L453.9 345.1L445.6 350.8L441.6 354L437.8 357.3L434.2 360.8L430.7 364.6L427.5 368.3L424.4 372.4L421.5 376.6L418.8 380.8L416.3 385.3L414.1 389.8L412.2 394.3L410.4 399.1L409 403.8L407.7 408.8L406.7 413.6L405.9 418.6L405.4 423.3L405.2 428.3L405.2 433.3L405.4 438.3L405.9 443.3L406.7 448.3L407.7 453.3L409 458.1L410.5 462.8L412.2 467.6L414.2 472.1L416.4 476.6L418.9 481.1L421.5 485.3L424.3 489.3L427.4 493.3L430.6 497.2L434.1 500.9L437.9 504.5L441.6 507.8L445.6 511L449.9 514.1L454.1 516.8L458.6 519.4L463.1 521.8L467.9 523.9L477.4 527.5L482.4 529L487.4 530.2L497.4 531.9L502.4 532.4L507.6 532.7L512.9 532.8L518.1 532.5Z"/><path fill="#ffd900" d="M517.3 531.8L522.4 531.4L527.6 530.7L532.9 529.8L537.9 528.6L542.9 527.2L547.6 525.6L552.4 523.8L557.1 521.7L561.6 519.5L566.1 517L570.4 514.3L574.6 511.3L578.6 508.3L582.6 504.9L586.4 501.3L589.7 497.8L593 494.1L596.2 490.1L599.2 485.8L601.9 481.6L604.3 477.3L606.6 472.8L608.6 468.3L610.4 463.6L612 458.8L613.2 454.1L614.3 449.1L615.1 444.1L615.7 439.3L616 434.3L616 429.3L615.8 424.3L615.3 419.3L614.6 414.6L613.7 409.6L612.5 404.8L611 400.1L609.3 395.3L607.3 390.6L605.1 386.1L602.7 381.6L600.1 377.4L597.3 373.3L594.3 369.3L591.1 365.5L587.6 361.7L583.9 358.1L580.1 354.8L576.1 351.6L572.1 348.7L567.9 345.9L563.4 343.3L558.9 340.9L554.1 338.7L549.4 336.8L544.4 335L534.6 332.4L529.6 331.4L524.4 330.6L519.4 330.1L514.1 329.9L508.9 329.8L503.6 330.1L498.6 330.5L493.4 331.3L488.4 332.2L483.4 333.4L478.4 334.8L473.6 336.4L468.9 338.3L464.1 340.5L455.4 345.2L451.1 347.9L446.9 350.9L442.9 354L439 357.3L435.3 360.8L431.9 364.5L428.5 368.3L425.4 372.3L422.6 376.3L419.9 380.6L417.5 384.8L415.3 389.3L413.3 393.8L411.5 398.6L410 403.3L408.7 408.1L407.7 412.8L406.9 417.8L406.3 422.8L406 427.6L406 432.6L406.2 437.6L406.7 442.6L407.4 447.3L408.3 452.1L409.5 457.1L411 461.8L412.7 466.6L414.6 471.1L416.8 475.6L419.1 479.8L421.7 484.1L424.5 488.3L427.6 492.3L430.7 496.1L434.1 499.8L437.9 503.4L441.6 506.8L445.6 510L449.6 512.9L458.1 518.2L462.6 520.6L467.4 522.8L472.1 524.8L476.9 526.5L486.6 529.2L491.6 530.2L496.9 531.1L502.1 531.6L507.1 531.9L512.4 532L517.3 531.8Z"/><path fill="#ffef00" d="M516.7 531L526.9 530L531.9 529.2L536.9 528.1L541.9 526.7L546.6 525.2L551.4 523.4L556.1 521.3L560.6 519.1L565.1 516.6L569.4 514L573.6 511.1L577.6 508L581.5 504.8L585.1 501.4L588.6 497.8L592 494.1L595.2 490.1L598.1 486.1L600.8 481.8L603.3 477.6L605.6 473.1L607.6 468.6L609.4 464.1L611 459.3L612.3 454.6L613.4 449.6L614.2 444.8L614.8 440.1L615.1 435.1L615.2 430.1L615 425.1L614.6 420.3L614 415.3L613 410.3L611.8 405.6L610.4 400.8L608.7 396.1L606.9 391.6L604.7 387.1L602.3 382.6L599.7 378.3L597 374.3L594 370.3L590.9 366.4L587.5 362.8L583.9 359.2L580.1 355.8L576.1 352.6L572.1 349.6L567.9 346.8L563.4 344.2L554.4 339.7L549.6 337.7L544.9 336L539.9 334.5L534.9 333.3L524.9 331.5L519.9 331L514.6 330.7L509.4 330.6L504.4 330.8L494.4 331.9L489.4 332.8L484.4 333.9L479.4 335.3L474.6 336.9L469.9 338.7L465.1 340.9L460.6 343.1L456.1 345.6L447.9 351.1L443.9 354.2L440.1 357.4L436.4 360.9L432.9 364.5L429.6 368.3L426.4 372.3L423.6 376.3L420.9 380.6L418.4 384.8L416.2 389.3L414.2 393.8L412.4 398.3L409.6 407.6L408.5 412.6L407.7 417.3L407.2 422.1L406.9 427.1L406.8 431.8L407 436.8L407.4 441.8L408.1 446.6L409 451.6L410.2 456.3L411.5 460.8L413.2 465.6L415 470.1L417.2 474.6L419.4 478.8L422 483.1L424.8 487.3L427.8 491.3L430.9 495.1L434.4 498.9L437.9 502.3L441.6 505.7L445.6 509L449.6 511.9L453.9 514.8L458.1 517.3L462.6 519.7L467.1 521.9L471.9 523.9L476.6 525.6L486.4 528.4L496.4 530.2L501.4 530.8L506.6 531.1L516.7 531Z"/><path fill="#faff00" d="M516.3 530.3L526.4 529.3L531.4 528.5L536.4 527.4L541.1 526.1L546.1 524.5L550.9 522.7L555.6 520.7L560.1 518.5L564.6 516L568.9 513.4L573.1 510.5L577.1 507.4L580.9 504.3L584.6 500.8L588 497.3L591.4 493.6L594.6 489.6L600 481.6L604.7 473.1L606.7 468.6L608.5 464.1L610 459.6L611.5 454.6L612.5 449.8L613.4 444.8L614 439.8L614.3 435.1L614.4 430.3L614.3 425.3L613.8 420.3L613.2 415.6L612.2 410.6L611.1 405.8L609.7 401.3L608.1 396.6L606.2 392.1L604.1 387.6L601.8 383.3L599.3 379.1L596.4 374.8L593.4 370.8L590.3 367.1L586.9 363.3L583.4 359.8L579.6 356.4L575.6 353.2L571.6 350.2L567.4 347.4L563.1 344.9L558.9 342.7L554.1 340.4L544.9 336.9L540.1 335.4L535.1 334.1L530.1 333.1L524.9 332.3L514.9 331.4L509.6 331.4L504.6 331.6L494.6 332.6L489.6 333.5L484.6 334.7L479.6 336.1L474.9 337.6L465.9 341.4L461.4 343.6L456.9 346.1L448.6 351.5L444.6 354.6L440.8 357.8L437.1 361.3L433.7 364.8L427.4 372.3L424.5 376.3L421.8 380.6L417.2 389.1L415.1 393.6L413.3 398.3L411.7 403.1L410.4 407.8L409.4 412.3L408.6 417.3L407.7 426.8L407.6 431.6L407.7 436.6L408.8 446.1L409.7 450.8L410.8 455.6L412.2 460.3L413.8 464.8L415.7 469.6L417.7 473.8L419.9 478.1L422.4 482.3L425.3 486.6L428.2 490.6L431.4 494.4L434.7 498.1L438.2 501.6L441.9 504.9L449.6 511L453.6 513.7L458.1 516.4L462.4 518.7L467.1 521L476.4 524.7L481.1 526.2L486.1 527.5L491.1 528.6L496.1 529.4L506.1 530.3L511.1 530.4L516.3 530.3Z"/><path fill="#e4ff00" d="M516.6 529.5L526.4 528.6L531.4 527.7L536.4 526.6L541.1 525.4L546.1 523.7L550.9 521.9L555.6 519.9L560.1 517.7L564.6 515.2L572.9 509.7L576.9 506.7L580.6 503.5L587.6 496.7L591 492.8L594 489.1L599.4 481.1L601.9 476.8L604.2 472.3L606.2 467.8L608 463.3L609.5 458.8L610.8 454.1L611.9 449.1L612.7 444.3L613.6 434.8L613.7 430.1L613.5 425.1L612.4 415.6L611.5 410.6L610.3 405.8L608.9 401.3L607.2 396.6L605.4 392.1L603.2 387.6L601 383.3L598.4 379.1L595.7 375.1L592.7 371.1L589.6 367.3L586.1 363.6L582.6 360.1L578.9 356.8L575.1 353.7L570.9 350.6L562.6 345.5L558.1 343.1L553.4 340.9L544.1 337.4L539.4 335.9L534.4 334.7L529.4 333.7L524.4 332.9L514.4 332.2L504.4 332.3L494.4 333.4L484.6 335.4L479.6 336.8L474.9 338.4L465.9 342.2L461.4 344.4L456.9 347L448.6 352.5L444.6 355.6L440.9 358.8L434 365.6L427.8 373.1L424.9 377.1L422.2 381.3L417.7 389.8L415.7 394.3L413.9 398.8L412.4 403.3L411.1 408.1L410.1 412.8L409.3 417.6L408.4 427.1L408.4 432.1L408.5 436.8L409 441.8L409.6 446.6L411.7 455.8L413 460.3L414.7 465.1L418.5 473.8L420.8 478.1L423.3 482.3L426 486.3L429 490.3L432.1 494.1L435.5 497.8L442.6 504.6L450.4 510.6L454.6 513.4L458.9 516L467.6 520.4L472.4 522.4L477.1 524.2L481.9 525.6L486.9 526.9L496.6 528.7L506.6 529.6L516.6 529.5Z"/><path fill="#ceff00" d="M517.6 528.8L522.6 528.4L527.6 527.7L537.4 525.7L546.9 522.7L551.6 520.9L556.1 518.9L564.9 514.2L569.1 511.5L573.1 508.7L577.1 505.6L580.9 502.4L587.7 495.6L590.9 491.8L594 487.8L599.4 479.8L601.8 475.6L604 471.1L606 466.6L607.7 462.1L609.2 457.3L610.4 452.6L612.1 443.3L612.6 438.6L612.9 433.8L612.9 429.1L612.7 424.1L612.2 419.3L611.5 414.6L610.6 409.8L609.3 405.1L607.9 400.6L606.2 395.8L604.3 391.3L602.2 387.1L599.7 382.6L597.2 378.6L591.6 370.8L588.4 367L584.9 363.3L581.4 359.9L577.6 356.6L573.6 353.5L569.6 350.6L565.4 347.9L561.1 345.5L556.6 343.2L552.1 341.1L542.9 337.7L537.9 336.3L533.1 335.1L528.1 334.2L523.1 333.5L513.1 332.8L503.1 333.1L498.1 333.6L493.1 334.3L483.4 336.5L474.1 339.4L469.4 341.4L464.9 343.4L460.4 345.8L456.1 348.2L448.1 353.7L440.6 359.9L433.8 366.8L427.7 374.3L425 378.3L422.3 382.6L419.9 386.8L417.7 391.3L414.2 400.1L412.7 404.8L411.6 409.3L409.9 418.6L409.4 423.3L409.1 428.1L409.1 432.8L409.3 437.8L409.8 442.6L410.5 447.3L411.5 452.1L412.7 456.8L415.7 465.8L419.7 474.6L424.5 482.8L427.2 486.8L430.3 490.8L436.7 498.1L440.3 501.6L444 504.8L451.6 510.6L455.9 513.4L460.1 515.9L468.9 520.2L473.6 522.2L478.4 523.8L487.9 526.4L497.6 528.2L507.6 529L517.6 528.8Z"/><path fill="#b8ff00" d="M514.1 528.3L524.1 527.5L533.9 525.8L543.4 523.2L552.6 519.7L561.4 515.4L565.6 513L569.9 510.2L577.6 504.3L581.4 501L584.9 497.6L591.3 490.3L594.3 486.3L597 482.3L601.8 474.1L603.9 469.6L605.7 465.3L608.8 456.3L610 451.6L610.9 446.8L611.6 442.1L612 437.3L612.2 432.6L612.2 427.6L611.9 422.8L611.4 418.1L610.6 413.3L609.6 408.6L608.3 403.8L606.8 399.3L603.2 390.6L601 386.3L598.6 382.1L593.2 374.1L590.3 370.3L587 366.6L583.7 363.1L580.1 359.7L572.6 353.6L568.6 350.8L564.4 348.1L560.1 345.7L555.6 343.4L546.6 339.7L537.1 336.7L527.4 334.7L522.4 334.1L517.4 333.6L507.4 333.5L497.6 334.3L487.9 336L478.4 338.7L469.1 342.2L460.4 346.5L452.1 351.6L444.3 357.6L440.6 360.9L437.1 364.3L430.7 371.6L427.7 375.6L424.9 379.6L420.2 387.8L418.1 392.1L416.2 396.6L413.2 405.6L412 410.3L411.1 415.1L410.4 419.8L410 424.6L409.8 429.3L409.8 434.1L410.1 438.8L410.6 443.6L411.4 448.3L412.4 453.1L413.7 457.8L415.1 462.3L418.7 471.1L420.9 475.3L423.3 479.6L428.6 487.6L431.5 491.3L434.8 495.1L441.6 501.9L449.1 508L453.1 510.8L457.4 513.5L461.6 516L466.1 518.2L475.1 522L484.6 525L494.4 527L504.1 528.1L514.1 528.3Z"/><path fill="#a3ff00" d="M516.7 527.5L526.4 526.6L536.1 524.6L545.4 521.9L550.1 520.1L554.6 518.1L563.4 513.6L567.6 510.9L571.6 508.2L579.2 502.1L586.1 495.3L589.4 491.6L592.4 487.8L595.2 483.8L597.8 479.8L600.3 475.6L602.4 471.3L606.1 462.6L608.8 453.6L609.9 448.8L610.7 444.1L611.2 439.3L611.5 434.6L611.6 429.8L611.4 425.1L611 420.3L610.3 415.6L608.3 406.3L605.3 397.3L603.5 392.8L601.5 388.6L596.8 380.3L594.1 376.3L591.1 372.3L584.7 365.1L581.2 361.6L577.5 358.3L573.6 355.1L569.7 352.3L565.6 349.6L561.4 347.1L552.6 342.8L543.4 339.2L533.9 336.6L524.1 334.9L514.4 334.1L504.4 334.3L494.6 335.4L484.9 337.4L475.4 340.4L466.4 344.2L457.9 348.7L453.6 351.4L449.6 354.2L442.2 360.3L435.4 367.1L429.4 374.4L424 382.3L421.6 386.6L419.4 390.8L415.8 399.6L414.3 404.3L413.1 408.8L411.3 418.1L410.5 427.3L410.4 432.1L410.6 436.8L411 441.6L411.7 446.3L413.7 455.6L416.7 464.6L418.6 469.1L420.6 473.3L425.3 481.6L430.9 489.4L437.1 496.6L440.6 500L444.2 503.3L451.9 509.2L460.1 514.4L468.9 518.8L478.1 522.4L487.4 525L497.1 526.8L506.9 527.6L516.7 527.5Z"/><path fill="#8dff00" d="M513.5 527L523.4 526.3L533.1 524.7L542.6 522.1L551.6 518.8L560.4 514.5L568.6 509.5L576.4 503.7L580.1 500.4L583.5 497.1L586.9 493.5L590 489.8L595.6 482.1L598.1 478.1L600.4 473.8L604.3 465.3L606 460.8L607.4 456.3L608.5 451.8L609.5 447.1L610.7 437.8L610.9 433.1L610.9 428.3L610.6 423.6L610.1 418.8L608.4 409.6L605.8 400.6L602.3 391.8L600.2 387.6L597.8 383.3L595.3 379.3L592.5 375.3L589.6 371.5L586.4 367.8L579.7 361.1L575.9 357.8L572.1 354.8L564.1 349.4L555.6 344.8L546.6 341L537.4 338.1L532.6 337L527.6 336.1L517.9 334.9L508.1 334.8L498.4 335.5L488.6 337.2L479.1 339.8L470.1 343.1L461.4 347.4L453.1 352.5L445.4 358.4L438.4 364.9L432 372.1L426.3 379.8L421.5 388.1L417.7 396.6L416 401.1L414.6 405.6L413.4 410.1L412.5 414.8L411.3 424.1L411.1 428.8L411.1 433.6L411.4 438.3L411.9 443.1L413.6 452.3L416.2 461.3L419.7 470.1L421.8 474.3L424.2 478.6L426.7 482.6L429.5 486.6L432.4 490.3L435.6 494L442.4 500.8L449.9 507L457.9 512.4L466.4 516.9L475.4 520.8L484.6 523.7L494.1 525.7L503.9 526.8L513.5 527Z"/><path fill="#77ff00" d="M516.8 526.3L526.6 525.3L536.1 523.4L545.4 520.6L554.4 516.9L562.9 512.4L571 507.1L578.4 501.1L585.3 494.3L591.4 487L594.2 483.1L596.8 479.1L601.2 470.8L603.1 466.6L604.9 462.1L607.6 453.1L608.6 448.6L609.4 443.8L610.2 434.6L610.3 429.8L610.1 425.1L609 415.8L608.1 411.1L607 406.6L605.7 402.1L604.1 397.6L602.2 393.1L600.1 388.8L595.4 380.6L589.9 372.8L583.6 365.7L576.6 359.2L572.9 356.1L568.9 353.2L560.6 348.1L551.9 343.8L542.9 340.4L533.4 337.8L523.9 336.1L514.1 335.4L504.4 335.6L494.9 336.6L485.4 338.6L476.1 341.4L467.1 345.2L458.6 349.7L450.6 355.1L443.2 361.1L436.4 367.8L430.4 375.2L425.1 383.1L420.6 391.3L417 400.1L414.3 409.1L413.4 413.6L412.6 418.3L411.8 427.6L411.9 436.8L413 446.1L413.9 450.8L415 455.3L416.4 459.8L418 464.3L421.8 472.8L426.4 480.8L431.9 488.6L438.1 495.8L445.1 502.4L452.8 508.3L460.9 513.4L469.4 517.6L478.4 521.1L487.9 523.8L497.4 525.6L507.1 526.4L516.8 526.3Z"/><path fill="#62ff00" d="M513.9 525.8L523.6 525.1L533.1 523.4L542.4 520.9L551.4 517.5L560 513.3L568.1 508.3L575.9 502.4L582.9 496L589.2 488.8L592.1 485L594.8 481.1L597.2 477.1L599.5 472.8L603.3 464.3L605 459.8L606.3 455.3L608.3 446.3L609.4 437.1L609.6 427.8L608.8 418.6L608 413.8L607.1 409.3L604.4 400.3L600.9 391.7L598.8 387.6L596.4 383.3L591.1 375.6L585.1 368.2L578.4 361.6L571 355.6L563.1 350.3L554.6 345.7L545.6 342L536.4 339.1L526.9 337.2L517.4 336.2L507.6 336L497.9 336.8L488.4 338.5L479.1 341.1L470.1 344.5L461.5 348.8L453.4 353.8L445.9 359.6L439 366.1L432.8 373.1L429.9 376.8L427.2 380.8L424.8 384.8L422.5 389.1L418.6 397.6L417 402.1L415.7 406.6L413.6 415.6L412.6 424.8L412.4 434.1L413.2 443.3L414 448.1L415 452.6L417.6 461.5L421.1 470.1L425.5 478.3L430.7 486.1L436.7 493.3L443.4 500.1L450.9 506.2L458.9 511.5L467.4 516L476.1 519.7L485.3 522.5L494.6 524.5L504.1 525.6L513.9 525.8Z"/><path fill="#4cff00" d="M516.8 525L526.4 524.1L535.9 522.1L545.1 519.3L553.9 515.7L562.4 511.2L570.4 506L577.6 500.1L581.1 496.8L584.5 493.3L587.6 489.7L590.6 485.9L595.9 478.1L600.3 469.8L603.8 461.3L606.4 452.6L607.4 448.1L608.1 443.3L608.9 434.1L608.8 424.8L607.7 415.6L605.7 406.6L604.3 402.1L602.7 397.6L598.9 389.1L596.6 385L594.1 380.9L588.6 373.3L582.4 366.3L575.6 360L568.1 354.2L559.9 349.1L551.4 345L542.4 341.5L533.1 339L523.6 337.4L514.1 336.6L504.4 336.8L494.9 337.9L485.6 339.8L476.4 342.7L467.6 346.3L459.3 350.8L451.4 356.1L444 362.1L437.4 368.7L431.5 375.8L426.2 383.6L421.9 391.7L418.3 400.3L416.8 404.8L415.6 409.3L413.9 418.3L413.1 427.6L413.2 436.8L414.3 446.1L416.3 455.1L419.2 463.8L422.9 472.3L427.6 480.4L433 488.1L439.2 495.1L446.1 501.6L453.5 507.3L461.6 512.4L470.1 516.6L479 520L488.1 522.6L497.6 524.3L507.1 525.1L516.8 525Z"/><path fill="#36ff00" d="M513.4 524.5L522.9 523.9L532.3 522.3L541.6 519.8L550.4 516.5L559.1 512.3L567.1 507.5L574.6 501.8L581.6 495.4L587.9 488.4L593.4 480.8L598.1 472.8L601.9 464.5L604.9 455.7L606.9 446.8L607.6 442.3L608.1 437.6L608.3 428.3L607.6 419.1L605.9 410.1L603.3 401.3L599.9 392.6L595.6 384.6L593.1 380.6L590.4 376.6L584.4 369.3L577.8 362.8L570.6 356.8L562.7 351.6L554.4 347.1L545.6 343.3L536.6 340.5L527.3 338.6L517.9 337.5L508.1 337.3L498.6 338L489.4 339.6L480.1 342.1L471.1 345.5L462.7 349.6L454.6 354.6L447.1 360.2L440.3 366.6L434.1 373.5L428.6 381L423.9 389.1L420.1 397.4L417.1 406.2L415.1 415.1L414.4 419.8L413.9 424.3L413.7 433.6L414.5 442.8L416.1 451.7L418.7 460.6L422.1 469L426.4 477.3L431.6 485.1L437.4 492.1L443.9 498.8L451.2 504.8L458.9 510.1L467.2 514.5L476 518.3L485.1 521.2L494.4 523.2L503.9 524.3L513.4 524.5Z"/><path fill="#21ff00" d="M515.9 523.8L525.6 522.9L534.8 521L544.1 518.3L552.6 514.9L560.9 510.6L568.9 505.4L576.2 499.6L582.9 493.1L588.9 486L594.1 478.4L598.6 470.3L602.1 462L604.9 453.1L606.6 444.3L607.2 439.8L607.6 435.1L607.5 425.8L606.5 416.8L605.6 412.1L604.6 407.7L601.8 399.1L598.1 390.6L593.6 382.6L590.9 378.6L588.1 374.8L582 367.8L575.1 361.3L567.7 355.6L559.7 350.6L551.2 346.3L542.6 343L533.4 340.4L524.1 338.7L514.6 337.9L505.1 338.1L495.7 339.1L486.4 341L477.1 343.8L468.6 347.3L460.4 351.7L452.6 356.8L445.4 362.6L438.8 369.1L432.9 376.1L427.8 383.6L423.4 391.7L419.8 400.1L417.1 408.9L415.3 417.8L414.4 426.8L414.5 436.1L415.5 445.1L417.4 453.9L420.1 462.6L421.9 466.8L423.9 471.1L428.4 479.1L433.6 486.6L439.6 493.6L446.4 500.1L453.7 505.8L461.5 510.8L469.8 515L478.6 518.5L487.9 521.2L497.1 523L506.4 523.8L515.9 523.8Z"/><path fill="#0bff00" d="M517.1 523L526.4 522L535.9 520.1L544.8 517.3L553.2 513.8L561.6 509.3L569.2 504.3L576.6 498.3L583.1 491.8L589.1 484.6L594.1 477L598.4 469.1L601.9 460.6L604.4 451.8L606.1 442.8L606.9 433.8L606.9 429.1L606.7 424.6L605.6 415.6L603.6 406.7L602.2 402.3L600.6 397.9L596.9 389.7L594.6 385.6L592.1 381.6L586.9 374.4L580.8 367.6L574 361.3L566.8 355.8L558.7 350.8L550.1 346.6L541.3 343.3L532.1 340.8L523.1 339.3L513.6 338.6L504.1 338.8L494.9 339.9L485.8 341.8L477 344.6L468.1 348.3L459.9 352.8L452.4 357.8L445.1 363.8L438.6 370.3L432.9 377.3L427.9 384.8L423.6 392.8L420.1 401.4L417.5 410.1L415.9 419.1L415.1 428.1L415.3 437.1L416.4 446L418.3 454.8L421.1 463.1L424.9 471.6L429.4 479.4L432 483.3L434.8 487.1L441 494.1L447.7 500.3L454.9 505.8L462.9 510.8L471.5 515L480.1 518.3L489.1 520.8L498.4 522.4L507.6 523.2L517.1 523Z"/><path fill="#00ff0b" d="M517.3 522.3L526.6 521.3L535.9 519.3L544.8 516.5L553.1 513L561.5 508.6L569.1 503.5L576.3 497.6L582.8 491.1L588.5 484.1L593.6 476.4L597.9 468.4L601.3 459.8L603.8 451.1L605.4 442.3L606.1 433.3L605.9 424.3L604.8 415.3L602.8 406.6L599.9 398L596.1 389.8L591.4 381.8L586 374.6L579.9 367.7L573.1 361.5L565.6 355.9L557.6 351.1L549.4 347.1L540.6 343.8L531.6 341.5L522.4 340L513.1 339.3L503.6 339.6L494.4 340.7L485.4 342.7L476.4 345.6L468.1 349.1L460 353.6L452.3 358.8L445.4 364.6L438.9 371.2L433.1 378.3L428.2 385.8L423.9 394.1L420.6 402.2L418.1 410.8L416.6 419.6L415.9 428.6L416.1 437.6L417.2 446.3L419.2 455.1L422.1 463.6L425.9 471.8L430.4 479.6L435.8 487.1L441.9 493.8L448.6 500.1L455.9 505.6L463.9 510.5L472.1 514.5L480.9 517.8L489.9 520.2L498.9 521.8L508.1 522.5L517.3 522.3Z"/><path fill="#00ff21" d="M517.2 521.5L526.6 520.5L535.6 518.6L544.4 515.9L552.9 512.3L560.9 508L568.6 502.9L575.7 497.1L582.2 490.6L587.9 483.6L592.9 476.1L597.1 468.1L600.6 459.6L603.1 450.8L604.7 442.1L605.4 433.3L605.1 424.3L604 415.6L602 406.8L599.1 398.3L595.3 390.1L590.8 382.3L585.4 374.9L579.4 368.2L572.6 362.1L565.2 356.6L557.4 351.8L549.1 347.8L540.4 344.6L531.4 342.2L522.1 340.7L512.9 340.1L503.6 340.3L494.6 341.4L485.6 343.4L476.9 346.2L468.4 349.9L460.4 354.2L452.9 359.3L445.9 365.2L439.4 371.8L433.7 378.8L428.8 386.3L424.6 394.3L421.3 402.6L418.9 411.1L417.3 419.8L416.6 428.6L416.9 437.6L418 446.3L420 455.1L422.9 463.6L426.6 471.6L431.1 479.3L436.4 486.6L442.4 493.3L449.1 499.5L456.4 505L464.1 509.7L472.4 513.8L480.9 517L489.9 519.4L498.9 521L508.1 521.7L517.2 521.5Z"/><path fill="#00ff36" d="M517.1 520.8L526.4 519.8L535.4 517.9L544.1 515.2L552.6 511.6L560.6 507.3L568.1 502.3L575.1 496.6L581.6 490.1L587.3 483.1L592.3 475.6L596.4 467.8L599.8 459.6L602.2 451.1L603.9 442.3L604.6 433.6L604.4 424.6L603.3 415.8L601.3 407.1L598.4 398.6L594.7 390.6L590.2 382.8L584.9 375.5L578.8 368.8L572.1 362.6L564.9 357.2L557.1 352.5L548.9 348.5L540.2 345.3L531.4 343L522.4 341.5L513.1 340.8L503.9 341.1L494.9 342.2L485.9 344.1L477.1 346.9L468.9 350.5L460.9 354.8L453.4 359.9L446.4 365.7L440.1 372.1L434.4 379.1L429.6 386.4L425.5 394.3L422.1 402.6L419.7 411.1L418.1 419.8L417.4 428.6L417.6 437.3L418.7 446.1L420.7 454.6L423.6 463.1L427.2 471.1L431.7 478.8L437 486.1L442.9 492.7L449.5 498.8L456.6 504.2L464.4 509L472.6 513.1L481.1 516.3L489.9 518.7L498.9 520.2L508.1 521L517.1 520.8Z"/><path fill="#00ff4c" d="M517 520L526.1 519L535.1 517.2L543.9 514.5L552.1 511L560.1 506.7L567.6 501.7L574.6 496L581 489.6L586.6 482.7L591.6 475.3L595.7 467.6L599 459.3L601.5 450.8L603.1 442.1L603.8 433.3L603.6 424.6L602.5 415.8L600.5 407.3L597.6 398.8L594 390.8L589.4 383.1L584.1 375.8L578.2 369.3L571.6 363.2L564.4 357.8L556.6 353.1L548.4 349.1L539.9 346L531.1 343.7L522.1 342.2L513.1 341.6L503.9 341.8L494.9 342.9L486.1 344.8L477.4 347.6L469.1 351.2L461.1 355.6L453.9 360.5L446.9 366.3L440.7 372.6L435.1 379.5L430.3 386.8L426.2 394.6L422.9 402.8L420.4 411.3L418.9 419.8L418.2 428.6L418.4 437.3L419.5 446.1L421.5 454.6L424.3 462.8L427.9 470.8L432.4 478.4L437.6 485.6L443.6 492.3L450.1 498.3L457.1 503.6L464.9 508.4L472.9 512.3L481.4 515.6L490.1 517.9L498.9 519.5L507.9 520.2L517 520Z"/><path fill="#00ff62" d="M516.8 519.3L525.9 518.3L534.6 516.5L543.4 513.8L551.6 510.4L559.4 506.3L566.9 501.3L573.9 495.6L580.2 489.3L585.9 482.4L590.8 475.1L594.9 467.3L598.2 459.3L600.7 450.8L602.3 442.3L603 433.6L602.8 424.8L601.7 416.1L599.8 407.6L597 399.3L593.4 391.3L588.9 383.7L583.7 376.6L577.9 370L571.4 364L564.1 358.6L556.6 354L548.6 350.1L539.9 346.8L531.4 344.5L522.4 343L513.4 342.4L504.1 342.6L495.1 343.7L486.4 345.6L477.9 348.3L469.6 351.8L461.8 356.1L454.4 361.1L447.6 366.7L441.4 373L435.8 379.8L430.9 387.3L426.8 395.1L423.6 403.1L421.2 411.3L419.7 419.8L419 428.3L419.2 437.1L420.2 445.6L422.2 454.1L424.9 462.3L428.6 470.3L432.9 477.8L438.1 485L443.9 491.6L450.4 497.6L457.4 502.9L464.9 507.6L472.9 511.6L481.4 514.8L490.1 517.2L498.9 518.7L507.9 519.4L516.8 519.3Z"/><path fill="#00ff77" d="M516.4 518.5L525.4 517.6L534.3 515.8L542.9 513.2L551 509.8L558.9 505.7L566.2 500.8L573.1 495.2L579.4 489.1L585 482.3L589.9 475.1L594 467.3L597.3 459.3L599.8 451.1L601.4 442.6L602.2 434.1L602 425.3L601.1 416.8L599.2 408.3L596.4 400.1L592.8 392.1L588.5 384.6L583.4 377.4L577.5 370.8L571.1 364.8L564.1 359.5L556.5 354.8L548.4 350.8L540.1 347.7L531.4 345.3L522.6 343.8L513.6 343.1L504.6 343.3L495.9 344.3L487.1 346.2L478.6 348.8L470.4 352.3L462.6 356.5L455.4 361.3L448.6 366.8L442.4 373.1L436.8 379.8L432 387.1L427.9 394.8L424.6 402.7L422.1 411.1L420.6 419.3L419.8 427.8L420 436.6L421 445.1L422.9 453.5L425.6 461.8L429.1 469.6L433.4 477L438.4 484.1L444.1 490.6L450.6 496.7L457.6 502.1L465.1 506.8L473.1 510.8L481.4 513.9L489.9 516.3L498.6 517.9L507.6 518.6L516.4 518.5Z"/><path fill="#00ff8d" d="M515.7 517.8L524.4 517L533.1 515.3L541.6 512.8L549.9 509.5L557.9 505.3L565.1 500.6L572.1 495.1L578.3 489.1L583.9 482.4L588.8 475.3L592.9 467.8L596.3 459.8L598.8 451.6L600.5 443.1L601.3 434.6L601.3 426.1L600.3 417.6L598.6 409.3L595.9 401.1L592.4 393.1L588.1 385.4L583.1 378.4L577.4 371.8L571.1 365.9L564.2 360.6L556.7 355.8L548.7 351.8L540.6 348.7L532.1 346.3L523.4 344.7L514.6 344L505.6 344L496.9 345L488.1 346.7L479.6 349.3L471.6 352.6L463.6 356.8L456.4 361.6L449.6 367L443.5 373.1L437.9 379.8L433.1 386.8L428.9 394.6L425.6 402.3L423.1 410.5L421.5 418.8L420.7 427.3L420.7 435.8L421.7 444.3L423.4 452.6L426.1 460.8L429.5 468.6L433.7 476.1L438.6 483.1L444.4 489.7L450.6 495.7L457.5 501.1L464.9 505.7L472.9 509.8L480.9 512.9L489.4 515.4L498.1 517L506.9 517.8L515.7 517.8Z"/><path fill="#00ffa3" d="M514.1 517L522.9 516.3L531.6 514.8L540.1 512.4L548.2 509.3L556.1 505.4L563.4 500.8L570.4 495.5L576.6 489.6L582.3 483.1L587.3 476.1L591.6 468.6L595 460.8L597.6 452.8L599.4 444.6L600.4 436.1L600.5 427.6L599.7 419.1L598.1 410.8L595.6 402.6L592.3 394.8L588.3 387.3L583.4 380.1L577.9 373.6L571.7 367.6L564.9 362.1L557.6 357.3L550 353.3L542.1 350.1L533.9 347.5L525.1 345.8L516.4 344.9L507.4 344.8L498.6 345.5L490.1 347.1L481.6 349.5L473.6 352.6L465.9 356.5L458.5 361.1L451.6 366.4L445.3 372.3L439.8 378.6L434.8 385.6L430.6 392.9L427.1 400.8L424.4 408.8L422.6 417.1L421.6 425.6L421.5 434.1L422.3 442.6L423.9 450.8L426.3 459.1L429.6 466.8L433.6 474.3L438.4 481.3L443.9 487.9L450 494.1L456.8 499.6L464 504.3L471.6 508.3L479.6 511.6L488.1 514.2L496.6 516L505.4 516.9L514.1 517Z"/><path fill="#00ffb8" d="M517.1 516L525.8 515L534.1 513.3L542.4 510.7L550.5 507.3L558.4 503.1L565.4 498.3L572.1 492.8L578 486.8L583.4 480.3L588.1 473.1L592.1 465.6L595.2 457.8L597.5 449.6L599 441.3L599.7 433.1L599.4 424.6L598.4 416.1L596.4 407.8L593.6 399.8L590.1 392.3L585.9 385.1L580.8 378.3L575.1 371.9L568.7 366.1L561.6 360.8L554.4 356.4L546.6 352.7L538.4 349.7L530.1 347.5L521.4 346.1L512.6 345.6L503.9 345.8L495.4 346.9L486.9 348.8L478.9 351.4L470.8 354.8L463.1 359.1L456.2 363.8L449.6 369.3L443.6 375.4L438.3 382.1L433.6 389.2L429.8 396.6L426.7 404.3L424.4 412.3L423 420.6L422.3 428.8L422.6 437.3L423.6 445.6L425.6 453.8L428.3 461.8L431.9 469.4L436.1 476.6L441.1 483.4L446.8 489.8L453.1 495.6L459.9 500.6L467.1 505.1L474.8 508.8L482.9 511.8L491.1 514.1L499.6 515.5L508.4 516.2L517.1 516Z"/><path fill="#00ffce" d="M514.3 515.3L522.9 514.6L531.4 513L539.6 510.7L547.9 507.6L555.3 503.8L562.5 499.3L569.3 494.1L575.4 488.3L580.9 482L585.9 475L590.1 467.6L593.4 460.1L595.9 452.3L597.7 444.1L598.6 435.8L598.7 427.6L597.9 419.3L596.4 411.3L593.9 403.1L590.6 395.3L586.6 388L581.9 381.1L576.4 374.6L570.4 368.7L563.6 363.3L556.7 358.8L549.1 354.8L541.1 351.6L532.6 349.1L524.4 347.4L515.6 346.6L507.1 346.5L498.6 347.3L490.4 348.8L482.1 351.2L474 354.3L466.2 358.3L459.1 362.8L452.4 368.1L446.4 373.8L440.9 380.2L436.1 386.9L431.9 394.3L428.6 401.8L426.1 409.6L424.3 417.8L423.4 426.1L423.3 434.3L424.1 442.6L425.7 450.6L428.1 458.6L431.3 466.3L435.4 473.7L440 480.6L445.4 486.9L451.4 492.8L457.9 498.1L465 502.8L472.5 506.8L480.4 510.1L488.6 512.5L497.1 514.3L505.6 515.2L514.3 515.3Z"/><path fill="#00ffe4" d="M515.1 514.3L523.6 513.5L532.4 511.8L540.4 509.5L548.3 506.3L555.6 502.5L562.9 497.8L569.4 492.7L575.4 486.9L580.9 480.4L585.6 473.6L589.6 466.2L592.8 458.8L595.2 451.1L596.9 442.9L597.7 434.8L597.6 426.6L596.8 418.6L595.1 410.4L592.6 402.5L589.4 395L585.4 387.9L580.6 381.1L575.1 374.6L569 368.8L562.3 363.6L555.2 359.1L547.8 355.3L539.6 352.1L531.6 349.8L523.1 348.2L514.6 347.5L506.1 347.5L497.6 348.4L489.4 350L481.1 352.5L473.6 355.6L465.9 359.6L459 364.1L452.4 369.3L446.4 375.2L441 381.6L436.4 388.4L432.4 395.7L429.1 403.3L426.7 411.3L425.1 419.2L424.3 427.3L424.4 435.3L425.2 443.3L426.9 451.3L429.4 459.1L432.6 466.6L436.6 473.8L441.4 480.7L446.8 487.1L452.8 492.8L459.4 498.1L466.5 502.6L473.9 506.4L481.9 509.5L489.9 511.9L498.4 513.5L506.9 514.3L515.1 514.3Z"/><path fill="#00fffa" d="M513.1 513.3L521.6 512.7L529.9 511.3L538.1 509.1L545.6 506.3L553.3 502.6L560.3 498.3L567 493.3L573.1 487.7L578.6 481.5L583.6 474.6L587.8 467.3L591.1 460.1L593.6 452.6L595.5 444.6L596.4 436.6L596.6 428.6L596 420.6L594.5 412.6L592.2 404.6L589.1 397.1L585.1 389.6L580.6 382.9L575.4 376.6L569.6 370.8L563.2 365.6L556.5 361.1L549 357.1L541.3 353.8L533.2 351.3L524.9 349.6L516.6 348.7L508.4 348.5L500.1 349.1L491.9 350.6L483.6 352.8L475.7 355.8L468.1 359.6L461.3 363.8L454.7 368.8L448.6 374.4L443.1 380.7L438.4 387.3L434.4 394.1L430.9 401.8L428.4 409.3L426.6 417.1L425.6 425.1L425.4 433.3L426.1 441.6L427.6 449.6L429.9 457.3L432.9 464.6L436.6 471.7L441.1 478.5L446.4 485L452.1 490.7L458.5 496.1L465.2 500.6L472.5 504.6L480.2 507.8L488 510.3L496.1 512.1L504.6 513.1L513.1 513.3Z"/><path fill="#00efff" d="M513.3 512L521.6 511.4L529.7 510.1L537.6 507.9L545.4 505L553 501.3L559.9 497.1L566.5 492.1L572.4 486.6L577.9 480.4L582.6 473.8L586.6 466.9L589.9 459.7L592.4 452.3L594.2 444.3L595.2 436.3L595.3 428.3L594.6 420.1L593.1 412.3L590.9 404.7L587.9 397.4L584.1 390.4L579.6 383.7L574.4 377.3L568.6 371.6L562.1 366.3L555.3 361.8L548.2 358.1L540.4 354.8L532.6 352.4L524.7 350.8L516.4 349.9L508.1 349.8L499.9 350.4L491.9 351.8L483.8 354.1L476 357.1L468.5 360.8L461.7 365.1L455.4 369.9L449.5 375.3L444.1 381.5L439.4 388.1L435.4 395L432.1 402.2L429.6 409.6L427.8 417.3L426.9 425.3L426.7 433.3L427.4 441.3L428.8 449.3L431.1 456.9L434.1 464.3L437.9 471.3L442.4 478.1L447.5 484.3L453.1 489.9L459.6 495.3L466.4 499.8L473.4 503.6L481.1 506.8L489.1 509.3L497.1 511L505.1 511.9L513.3 512Z"/><path fill="#00d9ff" d="M514.9 510.6L523 509.8L530.9 508.3L538.7 506.1L546.3 503.1L553.6 499.3L560.2 495.1L566.6 490.1L572.4 484.5L577.6 478.3L582.1 471.8L585.9 465.1L589.1 457.6L591.4 450.1L593 442.3L593.8 434.6L593.7 426.8L592.9 419.1L591.3 411.3L588.9 403.8L585.8 396.6L581.9 389.6L577.4 383.1L572.1 377.1L566.3 371.6L559.9 366.6L553.2 362.3L545.9 358.6L538.4 355.6L530.6 353.4L522.6 351.9L514.6 351.2L506.4 351.3L498.4 352.1L490.4 353.7L482.4 356.1L475.1 359L467.9 362.8L461.4 367.1L455.1 372.1L449.4 377.6L444.3 383.6L439.8 390.1L436 397.1L432.9 404.4L430.6 411.8L429 419.6L428.2 427.3L428.3 435.1L429.1 442.8L430.6 450.3L433 457.8L436.1 465.1L440 472.1L444.6 478.6L449.7 484.6L455.4 490.1L461.8 495.1L468.4 499.3L475.6 503L483.1 506L491.1 508.3L498.9 509.8L506.9 510.5L514.9 510.6Z"/><path fill="#00c3ff" d="M512.6 509.1L520.4 508.5L528.4 507.3L535.9 505.3L543.5 502.6L550.8 499.1L557.4 495.1L563.8 490.3L569.6 485.1L574.8 479.3L579.4 473.1L583.4 466.4L586.6 459.5L589.1 452.3L591 444.6L592 437.1L592.2 429.3L591.6 421.6L590.3 414.1L588.2 406.6L585.4 399.4L581.8 392.6L577.5 386.1L572.6 380L567.1 374.4L561.1 369.4L554.6 365L547.6 361.1L540.4 358L532.6 355.6L525.1 353.9L517.1 353L509.1 352.8L501.4 353.3L493.6 354.6L485.9 356.6L478.4 359.3L471.1 362.8L464.5 366.8L458.1 371.6L452.4 376.8L447.1 382.7L442.6 388.8L438.6 395.5L435.4 402.5L432.9 409.6L431 417.3L430 424.8L429.8 432.6L430.4 440.1L431.7 447.8L433.8 455.3L436.6 462.3L440.1 469.1L444.4 475.6L449.4 481.8L454.8 487.3L460.7 492.3L467.3 496.8L474.1 500.6L481.6 503.8L489.1 506.2L496.9 507.9L504.6 508.8L512.6 509.1Z"/><path fill="#00aeff" d="M512.9 507.3L520.6 506.8L528.4 505.5L535.9 503.5L543.1 500.8L550.3 497.3L556.8 493.3L562.9 488.8L568.6 483.5L573.6 477.9L578.1 471.8L581.9 465.3L585.1 458.3L587.6 451.1L589.3 443.8L590.2 436.3L590.4 428.8L589.8 421.3L588.4 413.8L586.3 406.6L583.4 399.6L579.9 392.8L575.7 386.6L570.9 380.7L565.5 375.3L559.4 370.3L553.1 366.1L546.5 362.6L539.4 359.5L531.9 357.2L524.3 355.6L516.4 354.7L508.6 354.5L500.9 355.1L493.1 356.4L485.6 358.5L478.4 361.2L471.6 364.6L464.9 368.7L458.8 373.3L453.1 378.6L448.1 384.3L443.7 390.3L439.9 396.8L436.9 403.6L434.4 410.8L432.7 418.1L431.8 425.6L431.6 433.1L432.2 440.6L433.6 448L435.7 455.1L438.5 462.1L442 468.8L446.2 475.1L451.1 481.1L456.4 486.3L462.3 491.3L468.7 495.6L475.6 499.3L482.6 502.3L489.9 504.6L497.6 506.2L505.1 507.1L512.9 507.3Z"/><path fill="#0098ff" d="M514.5 505.3L522.1 504.6L529.6 503.2L537 501.1L543.9 498.3L550.7 494.8L557 490.8L562.9 486.2L568.2 481.1L573.1 475.3L577.3 469.3L580.9 463L583.8 456.1L586.1 448.9L587.5 441.8L588.3 434.6L588.3 427.3L587.6 420.1L586.1 412.8L583.9 405.8L580.9 398.8L577.3 392.6L573.1 386.5L568.3 380.8L562.9 375.6L557.1 371.1L550.6 366.9L544 363.6L536.9 360.7L529.4 358.6L522.1 357.2L514.6 356.5L506.9 356.5L499.2 357.3L491.9 358.7L484.6 360.9L477.6 363.7L470.9 367.2L464.6 371.3L458.9 375.9L453.5 381.1L448.8 386.6L444.6 392.7L441.1 399.1L438.1 405.9L435.9 413.1L434.4 420.1L433.7 427.3L433.7 434.6L434.5 441.8L436 449.1L438.2 456.1L441.1 462.8L444.6 469.1L448.9 475.3L453.6 480.8L459 486.1L465 490.8L471.3 494.8L478.1 498.3L484.9 501L492.1 503.1L499.5 504.6L507.1 505.3L514.5 505.3Z"/><path fill="#0082ff" d="M515.2 503.1L522.6 502.3L529.9 500.9L536.9 498.7L543.6 496L550.2 492.6L556.3 488.6L561.9 484.1L567.1 478.9L571.8 473.3L575.9 467.3L579.2 461.1L582 454.6L584 447.8L585.4 440.8L586 433.8L586 426.6L585.1 419.3L583.6 412.5L581.4 405.6L578.4 399.1L574.8 392.8L570.6 386.9L565.9 381.6L560.6 376.6L554.9 372.2L548.6 368.3L542.1 365.1L535.4 362.5L528.2 360.6L521.1 359.3L513.6 358.7L506.1 358.8L498.9 359.6L491.6 361.1L484.6 363.2L477.9 366.1L471.4 369.5L465.3 373.6L459.8 378.1L454.6 383.2L450.1 388.6L446.1 394.6L442.6 401.1L439.9 407.6L437.9 414.3L436.6 421.3L436 428.3L436.1 435.3L436.9 442.3L438.4 449.3L440.6 456.1L443.5 462.6L447.1 468.8L451.2 474.6L455.9 479.9L461.1 484.9L466.9 489.4L473.1 493.3L479.6 496.5L486.4 499.2L493.4 501.1L500.6 502.5L507.9 503.1L515.2 503.1Z"/><path fill="#006dff" d="M514.5 500.6L521.6 499.9L528.6 498.6L535.4 496.6L541.9 494L548.1 490.8L554.1 487L559.6 482.6L564.6 477.8L569.1 472.6L573.1 466.8L576.6 460.6L579.3 454.3L581.3 447.8L582.7 441.1L583.4 434.3L583.4 427.3L582.7 420.6L581.2 413.8L579.1 407.1L576.4 400.8L573 394.8L569 389.1L564.4 383.8L559.4 379L553.9 374.7L547.9 370.9L541.4 367.6L534.9 365.1L528.1 363.1L521.1 361.9L514.1 361.2L506.9 361.3L499.9 362L492.9 363.4L486.1 365.4L479.6 368.1L473.4 371.3L467.6 375.1L462.1 379.4L457.1 384.3L452.6 389.6L448.7 395.3L445.4 401.4L442.6 407.8L440.6 414.3L439.3 421.1L438.6 427.8L438.6 434.6L439.4 441.3L440.8 448.1L442.8 454.6L445.5 460.8L448.9 466.8L452.9 472.5L457.4 477.8L462.4 482.6L467.9 486.9L473.9 490.8L480.1 494L486.6 496.6L493.4 498.5L500.4 499.9L507.4 500.5L514.5 500.6Z"/><path fill="#0057ff" d="M513.6 497.8L520.4 497.2L527.1 496L533.6 494.2L540.1 491.7L546.1 488.7L551.9 485.1L557.4 480.8L562.1 476.3L566.5 471.3L570.4 465.8L573.6 460.1L576.4 453.8L578.4 447.6L579.8 441.1L580.5 434.6L580.5 428.1L579.9 421.6L578.6 415.1L576.7 408.8L574.1 402.7L570.9 396.8L567.1 391.3L562.9 386.3L558 381.6L552.7 377.3L547.1 373.7L541.1 370.5L534.9 368L528.4 366.1L521.6 364.7L514.9 364.1L507.9 364L501.1 364.6L494.4 365.9L487.9 367.8L481.6 370.2L475.6 373.3L470 376.8L464.6 381L459.8 385.6L455.5 390.6L451.6 396.1L448.4 401.8L445.7 407.8L443.7 414.1L442.3 420.6L441.6 427.1L441.5 433.6L442.1 440.1L443.4 446.6L445.3 452.8L447.9 459L451 464.8L454.8 470.3L459.1 475.5L463.8 480.1L469 484.3L474.6 487.9L480.6 491.1L486.9 493.7L493.4 495.7L500.1 497L506.9 497.7L513.6 497.8Z"/><path fill="#0041ff" d="M514.5 494.8L521.1 494.1L527.6 492.9L533.9 491L539.9 488.6L545.6 485.6L551 482.1L556 478.1L560.6 473.6L564.8 468.6L568.3 463.3L571.3 457.8L573.8 452.1L575.6 446.1L576.8 439.8L577.4 433.6L577.4 427.3L576.7 421.1L575.3 414.8L573.4 408.8L570.9 403.1L567.7 397.6L564 392.3L559.9 387.5L555.1 383.1L550.1 379.1L544.6 375.7L538.9 372.8L532.6 370.4L526.4 368.6L519.9 367.5L513.4 367L506.9 367L500.4 367.7L494 369.1L487.9 370.9L481.9 373.4L476.3 376.3L470.9 379.9L465.9 383.9L461.4 388.3L457.2 393.3L453.6 398.6L450.6 404.1L448.2 409.8L446.4 415.8L445.2 422.1L444.6 428.3L444.6 434.6L445.3 440.8L446.6 446.8L448.5 452.8L451.1 458.7L454.1 464.1L457.9 469.3L462.1 474.3L466.6 478.6L471.8 482.6L477.1 485.9L482.9 488.9L488.9 491.2L495.1 493L501.6 494.2L508.1 494.8L514.5 494.8Z"/><path fill="#002bff" d="M514.2 491.6L520.4 491L526.4 489.8L532.4 488L538.1 485.7L543.6 482.9L548.8 479.6L553.5 475.8L557.9 471.6L561.9 466.9L565.3 461.8L568.2 456.6L570.5 451.1L572.3 445.3L573.5 439.6L574 433.6L574 427.6L573.4 421.6L572.1 415.8L570.3 410.1L567.9 404.6L564.9 399.2L561.4 394.3L557.4 389.7L553 385.6L548.1 381.8L543 378.6L537.5 375.8L531.6 373.5L525.6 371.8L519.6 370.7L513.4 370.2L507.1 370.3L500.9 371L494.9 372.2L488.9 374L483.4 376.3L478.1 379.1L472.9 382.5L468.2 386.3L463.8 390.6L460.1 395.1L456.6 400.1L453.7 405.6L451.4 411.1L449.6 416.8L448.5 422.6L448 428.3L448 434.3L448.7 440.3L449.9 446.1L451.8 451.8L454.1 457.2L457.1 462.5L460.5 467.3L464.4 471.8L468.8 476.1L473.6 479.8L478.7 483.1L484.1 485.8L489.9 488.1L495.6 489.8L501.9 491L508.1 491.6L514.2 491.6Z"/><path fill="#0016ff" d="M516.3 487.6L522.1 486.8L527.9 485.4L533.4 483.6L538.6 481.2L543.6 478.3L548.3 475.1L552.6 471.3L556.6 467.1L560.1 462.6L563.1 457.8L565.6 452.7L567.6 447.3L569 441.8L569.8 436.3L570.1 430.8L569.8 425.3L569 419.8L567.6 414.5L565.6 409.1L563.1 404L560.1 399.2L556.6 394.7L552.7 390.6L548.3 386.8L543.6 383.5L538.6 380.6L533.4 378.2L527.9 376.4L522.2 375.1L516.6 374.3L510.6 374L504.9 374.3L499.1 375.2L493.6 376.5L488.1 378.5L483 380.8L477.9 383.8L473.4 387.1L469.1 390.8L465.3 394.8L461.9 399.3L458.9 404.1L456.4 409.1L454.5 414.3L453 419.8L452.2 425.3L451.9 430.8L452.2 436.3L453 441.8L454.4 447.1L456.2 452.3L458.6 457.3L461.6 462.1L464.9 466.6L468.9 470.8L473.1 474.6L477.6 477.8L482.6 480.8L488 483.3L493.4 485.2L498.9 486.6L504.9 487.5L510.6 487.8L516.3 487.6Z"/><path fill="#0000ff" d="M515.3 482.1L520.4 481.4L525.6 480.3L530.6 478.6L535.4 476.6L539.9 474.1L544.2 471.1L548.1 467.8L551.7 464.1L554.9 460.1L557.6 455.8L559.9 451.3L561.8 446.6L563.2 441.6L564 436.6L564.3 431.6L564.1 426.6L563.4 421.6L562.3 416.8L560.6 412.1L558.3 407.3L555.6 402.8L552.6 398.8L549.1 395L545.2 391.6L541.1 388.6L536.6 385.9L531.9 383.7L526.9 381.9L521.9 380.7L516.6 379.9L511.4 379.6L506.1 379.8L501.1 380.5L496.1 381.6L491.1 383.3L486.4 385.4L481.9 387.9L477.6 390.9L473.6 394.3L470.1 398L466.9 402.1L464.2 406.3L461.9 410.8L460.1 415.6L458.8 420.3L458 425.3L457.7 430.3L457.9 435.3L458.6 440.3L459.7 445.1L461.4 449.8L463.6 454.4L466.2 458.8L469.2 462.8L472.6 466.6L476.5 470.1L480.6 473.1L485.1 475.8L489.9 478L494.6 479.7L499.6 481L504.9 481.9L510.1 482.2L515.3 482.1Z"/></g><g clip-path="url(#clipe)"><polygon points="44.00,845.20 275.20,845.20 228.96,624.60 90.24,624.60" fill="#ff0000"/><path fill="#ff1600" d="M275 845.1L275 844.4L274.8 844.1L274.8 843.1L274.5 842.9L274.5 842.1L274.3 841.9L274.3 840.9L274 840.6L274 839.6L273.8 839.4L273.8 838.4L273.5 838.1L273.5 837.1L273.3 836.9L273.3 836.1L273 835.9L273 834.9L272.8 834.6L272.8 833.6L272.5 833.4L272.5 832.4L272.3 832.1L272.3 831.4L272 831.1L272 830.1L271.8 829.9L271.5 827.6L271.3 827.4L271.3 826.6L271 826.4L271 825.4L270.8 825.1L270.8 824.1L270.5 823.9L270.3 821.6L270 821.4L270 820.6L269.8 820.4L269.8 819.4L269.5 819.1L269.3 816.9L269 816.6L269 815.9L268.8 815.6L268.8 814.6L268.5 814.4L268.3 812.1L268 811.9L268 811.1L267.8 810.9L267.8 809.9L267.5 809.6L267.5 808.6L267.3 808.4L267 806.1L266.8 805.9L266.8 805.1L266.5 804.9L266.5 803.9L266.3 803.6L266 801.4L265.8 801.1L265.8 800.4L265.5 800.1L265.5 799.1L265.3 798.9L265.3 797.9L265 797.6L264.8 795.4L264.5 795.1L264.5 794.4L264.3 794.1L264.3 793.1L264 792.9L263.8 790.6L263.5 790.4L263.5 789.6L263.3 789.4L263.3 788.4L263 788.1L262.8 785.9L262.5 785.6L262.5 784.9L262.3 784.6L262 782.4L261.8 782.1L261.8 781.1L261.5 780.9L261.5 779.9L261.3 779.6L261.3 778.9L261 778.6L260.8 776.4L260.5 776.1L260.5 775.1L260.3 774.9L260.3 774.1L260 773.9L260 772.9L259.8 772.6L259.8 771.6L259.5 771.4L259.5 770.4L259.3 770.1L259.3 769.4L259 769.1L258.8 766.9L258.5 766.6L258.5 765.6L258.3 765.4L258.3 764.4L258 764.1L258 763.4L257.8 763.1L257.5 760.9L257.3 760.6L257.3 759.6L257 759.4L257 758.6L256.8 758.4L256.8 757.4L256.5 757.1L256.5 756.1L256.3 755.9L256.3 754.9L256 754.6L256 753.9L255.8 753.6L255.5 751.4L255.3 751.1L255.3 750.1L255 749.9L255 748.9L254.8 748.6L254.8 747.9L254.5 747.6L254.5 746.6L254.3 746.4L254.3 745.4L254 745.1L254 744.1L253.8 743.9L253.8 743.1L253.5 742.9L253.3 740.6L253 740.4L253 739.4L252.8 739.1L252.8 738.1L252.5 737.9L252.5 737.1L252.3 736.9L252 734.6L251.8 734.4L251.8 733.4L251.5 733.1L251.5 732.4L251.3 732.1L251.3 731.1L251 730.9L251 729.9L250.8 729.6L250.8 728.6L250.5 728.4L250.5 727.6L250.3 727.4L250 725.1L249.8 724.9L249.8 723.9L249.5 723.6L249.5 722.6L249.3 722.4L249.3 721.6L249 721.4L248.8 719.1L248.5 718.9L248.5 717.9L248.3 717.6L248.3 716.9L248 716.6L248 715.6L247.8 715.4L247.8 714.4L247.5 714.1L247.5 713.1L247.3 712.9L247.3 712.1L247 711.9L246.8 709.6L246.5 709.4L246.5 708.4L246.3 708.1L246.3 707.1L246 706.9L246 706.1L245.8 705.9L245.5 703.6L245.3 703.4L245.3 702.4L245 702.1L245 701.4L244.8 701.1L244.8 700.1L244.5 699.9L244.5 698.9L244.3 698.6L244.3 697.6L244 697.4L244 696.6L243.8 696.4L243.5 694.1L243.3 693.9L243.3 692.9L243 692.6L243 691.6L242.8 691.4L242.8 690.6L242.5 690.4L242.5 689.4L242.3 689.1L242.3 688.1L242 687.9L242 686.9L241.8 686.6L241.8 685.9L241.5 685.6L241.5 684.6L241.3 684.4L241 682.1L240.8 681.9L240.8 680.9L240.5 680.6L240.5 679.9L240.3 679.6L240 677.4L239.8 677.1L239.8 676.1L239.5 675.9L239.5 675.1L239.3 674.9L239 672.6L238.8 672.4L238.8 671.4L238.5 671.1L238.5 670.4L238.3 670.1L238.3 669.1L238 668.9L238 667.9L237.8 667.6L237.5 665.4L237.3 665.1L237.3 664.4L237 664.1L237 663.1L236.8 662.9L236.8 661.9L236.5 661.6L236.5 660.6L236.3 660.4L236.3 659.6L236 659.4L236 658.4L235.8 658.1L235.5 655.9L235.3 655.6L235.3 654.9L235 654.6L235 653.6L234.8 653.4L234.8 652.4L234.5 652.1L234.3 649.9L234 649.6L234 648.9L233.8 648.6L233.8 647.6L233.5 647.4L233.5 646.4L233.3 646.1L233.3 645.1L233 644.9L233 644.1L232.8 643.9L232.8 642.9L232.5 642.6L232.5 641.6L232.3 641.4L232.3 640.4L232 640.1L232 639.4L231.8 639.1L231.8 638.1L231.5 637.9L231.3 635.6L231 635.4L231 634.4L230.8 634.1L230.8 633.4L230.5 633.1L230.5 632.1L230.3 631.9L230.3 630.9L230 630.6L230 629.6L229.8 629.4L229.8 628.6L229.5 628.4L229.3 626.1L229 625.9L229 624.9L228.8 624.6L90.2 624.6L90 626.9L89.7 627.1L89.7 628.1L89.5 628.4L89.5 629.1L89.2 629.4L89.2 630.4L89 630.6L89 631.6L88.7 631.9L88.7 632.9L88.5 633.1L88.5 633.9L88.2 634.1L88.2 635.1L88 635.4L87.7 637.6L87.5 637.9L87.5 638.9L87.2 639.1L87.2 639.9L87 640.1L87 641.1L86.7 641.4L86.7 642.4L86.5 642.6L86.5 643.6L86.2 643.9L86.2 644.6L86 644.9L86 645.9L85.7 646.1L85.7 647.1L85.5 647.4L85.5 648.4L85.2 648.6L85.2 649.4L85 649.6L84.7 651.9L84.5 652.1L84.5 653.1L84.2 653.4L84.2 654.4L84 654.6L84 655.4L83.7 655.6L83.5 657.9L83.2 658.1L83.2 659.1L83 659.4L83 660.1L82.7 660.4L82.7 661.4L82.5 661.6L82.5 662.6L82.2 662.9L82.2 663.9L82 664.1L82 665.1L81.7 665.4L81.7 666.1L81.5 666.4L81.2 668.6L81 668.9L81 669.9L80.7 670.1L80.7 670.9L80.5 671.1L80.5 672.1L80.2 672.4L80 674.6L79.7 674.9L79.7 675.6L79.5 675.9L79.5 676.9L79.2 677.1L79.2 678.1L79 678.4L78.7 680.6L78.5 680.9L78.5 681.6L78.2 681.9L78 684.1L77.7 684.4L77.7 685.4L77.5 685.6L77.5 686.4L77.2 686.6L77 688.9L76.7 689.1L76.7 690.1L76.5 690.4L76.5 691.1L76.2 691.4L76.2 692.4L76 692.6L76 693.6L75.7 693.9L75.5 696.1L75.2 696.4L75.2 697.1L75 697.4L75 698.4L74.7 698.6L74.7 699.6L74.5 699.9L74.5 700.9L74.2 701.1L74.2 701.9L74 702.1L74 703.1L73.7 703.4L73.5 705.6L73.2 705.9L73.2 706.6L73 706.9L73 707.9L72.7 708.1L72.7 709.1L72.5 709.4L72.2 711.6L72 711.9L72 712.6L71.7 712.9L71.7 713.9L71.5 714.1L71.5 715.1L71.2 715.4L71.2 716.4L71 716.6L71 717.4L70.7 717.6L70.7 718.6L70.5 718.9L70.5 719.9L70.2 720.1L70 722.4L69.7 722.6L69.7 723.4L69.5 723.6L69.5 724.6L69.2 724.9L69.2 725.9L69 726.1L69 727.1L68.7 727.4L68.7 728.1L68.5 728.4L68.5 729.4L68.2 729.6L68 731.9L67.7 732.1L67.7 732.9L67.5 733.1L67.5 734.1L67.2 734.4L67.2 735.4L67 735.6L66.7 737.9L66.5 738.1L66.5 738.9L66.2 739.1L66.2 740.1L66 740.4L66 741.4L65.7 741.6L65.7 742.6L65.5 742.9L65.5 743.6L65.2 743.9L65.2 744.9L65 745.1L64.7 747.4L64.5 747.6L64.5 748.4L64.2 748.6L64.2 749.6L64 749.9L64 750.9L63.7 751.1L63.7 752.1L63.5 752.4L63.5 753.4L63.2 753.6L63.2 754.4L63 754.6L63 755.6L62.7 755.9L62.5 758.1L62.2 758.4L62.2 759.1L62 759.4L62 760.4L61.7 760.6L61.5 762.9L61.2 763.1L61.2 763.9L61 764.1L61 765.1L60.7 765.4L60.7 766.4L60.5 766.6L60.2 768.9L60 769.1L60 769.9L59.7 770.1L59.7 771.1L59.5 771.4L59.5 772.4L59.2 772.6L59.2 773.6L59 773.9L59 774.6L58.7 774.9L58.7 775.9L58.5 776.1L58.5 777.1L58.2 777.4L58 779.6L57.7 779.9L57.7 780.6L57.5 780.9L57.5 781.9L57.2 782.1L57.2 783.1L57 783.4L57 784.4L56.7 784.6L56.7 785.4L56.5 785.6L56.5 786.6L56.2 786.9L56.2 787.9L56 788.1L56 789.1L55.7 789.4L55.7 790.1L55.5 790.4L55.2 792.6L55 792.9L55 793.9L54.7 794.1L54.7 795.1L54.5 795.4L54.5 796.1L54.2 796.4L54 798.6L53.7 798.9L53.7 799.9L53.5 800.1L53.5 800.9L53.2 801.1L53.2 802.1L53 802.4L53 803.4L52.7 803.6L52.7 804.6L52.5 804.9L52.5 805.6L52.2 805.9L52 808.1L51.7 808.4L51.7 809.4L51.5 809.6L51.5 810.6L51.2 810.9L51.2 811.6L51 811.9L50.7 814.1L50.5 814.4L50.5 815.4L50.2 815.6L50.2 816.4L50 816.6L49.7 818.9L49.5 819.1L49.5 820.1L49.2 820.4L49.2 821.1L49 821.4L48.7 823.6L48.5 823.9L48.5 824.9L48.2 825.1L48.2 826.1L48 826.4L48 827.1L47.7 827.4L47.7 828.4L47.5 828.6L47.5 829.6L47.2 829.9L47.2 830.9L47 831.1L47 831.9L46.7 832.1L46.5 834.4L46.2 834.6L46.2 835.6L46 835.9L46 836.9L45.7 837.1L45.7 837.9L45.5 838.1L45.5 839.1L45.2 839.4L45 841.6L44.7 841.9L44.7 842.6L44.5 842.9L44.2 845.1L275 845.1Z"/><path fill="#ff2b00" d="M275 845.1L275 844.4L274.8 844.1L274.8 843.1L274.5 842.9L274.5 842.1L274.3 841.9L274.3 840.9L274 840.6L274 839.6L273.8 839.4L273.8 838.4L273.5 838.1L273.5 837.1L273.3 836.9L273.3 836.1L273 835.9L273 834.9L272.8 834.6L272.8 833.6L272.5 833.4L272.5 832.4L272.3 832.1L272.3 831.4L272 831.1L272 830.1L271.8 829.9L271.5 827.6L271.3 827.4L271.3 826.6L271 826.4L271 825.4L270.8 825.1L270.8 824.1L270.5 823.9L270.3 821.6L270 821.4L270 820.6L269.8 820.4L269.8 819.4L269.5 819.1L269.3 816.9L269 816.6L269 815.9L268.8 815.6L268.8 814.6L268.5 814.4L268.3 812.1L268 811.9L268 811.1L267.8 810.9L267.8 809.9L267.5 809.6L267.5 808.6L267.3 808.4L267 806.1L266.8 805.9L266.8 805.1L266.5 804.9L266.5 803.9L266.3 803.6L266 801.4L265.8 801.1L265.8 800.4L265.5 800.1L265.5 799.1L265.3 798.9L265.3 797.9L265 797.6L264.8 795.4L264.5 795.1L264.5 794.4L264.3 794.1L264.3 793.1L264 792.9L263.8 790.6L263.5 790.4L263.5 789.6L263.3 789.4L263.3 788.4L263 788.1L262.8 785.9L262.5 785.6L262.5 784.9L262.3 784.6L262 782.4L261.8 782.1L261.8 781.1L261.5 780.9L261.5 779.9L261.3 779.6L261.3 778.9L261 778.6L260.8 776.4L260.5 776.1L260.5 775.1L260.3 774.9L260.3 774.1L260 773.9L260 772.9L259.8 772.6L259.8 771.6L259.5 771.4L259.5 770.4L259.3 770.1L259.3 769.4L259 769.1L258.8 766.9L258.5 766.6L258.5 765.6L258.3 765.4L258.3 764.4L258 764.1L258 763.4L257.8 763.1L257.5 760.9L257.3 760.6L257.3 759.6L257 759.4L257 758.6L256.8 758.4L256.8 757.4L256.5 757.1L256.5 756.1L256.3 755.9L256.3 754.9L256 754.6L256 753.9L255.8 753.6L255.5 751.4L255.3 751.1L255.3 750.1L255 749.9L255 748.9L254.8 748.6L254.8 747.9L254.5 747.6L254.5 746.6L254.3 746.4L254.3 745.4L254 745.1L254 744.1L253.8 743.9L253.8 743.1L253.5 742.9L253.3 740.6L253 740.4L253 739.4L252.8 739.1L252.8 738.1L252.5 737.9L252.5 737.1L252.3 736.9L252 734.6L251.8 734.4L251.8 733.4L251.5 733.1L251.5 732.4L251.3 732.1L251.3 731.1L251 730.9L251 729.9L250.8 729.6L250.8 728.6L250.5 728.4L250.5 727.6L250.3 727.4L250 725.1L249.8 724.9L249.8 723.9L249.5 723.6L249.5 722.6L249.3 722.4L249.3 721.6L249 721.4L248.8 719.1L248.5 718.9L248.5 717.9L248.3 717.6L248.3 716.9L248 716.6L248 715.6L247.8 715.4L247.8 714.4L247.5 714.1L247.5 713.1L247.3 712.9L247.3 712.1L247 711.9L246.8 709.6L246.5 709.4L246.5 708.4L246.3 708.1L246.3 707.1L246 706.9L246 706.1L245.8 705.9L245.5 703.6L245.3 703.4L245.3 702.4L245 702.1L245 701.4L244.8 701.1L244.8 700.1L244.5 699.9L244.5 698.9L244.3 698.6L244.3 697.6L244 697.4L244 696.6L243.8 696.4L243.5 694.1L243.3 693.9L243.3 692.9L243 692.6L243 691.6L242.8 691.4L242.8 690.6L242.5 690.4L242.5 689.4L242.3 689.1L242.3 688.1L242 687.9L242 686.9L241.8 686.6L241.8 685.9L241.5 685.6L241.5 684.6L241.3 684.4L241 682.1L240.8 681.9L240.8 680.9L240.5 680.6L240.5 679.9L240.3 679.6L240 677.4L239.8 677.1L239.8 676.1L239.5 675.9L239.5 675.1L239.3 674.9L239 672.6L238.8 672.4L238.8 671.4L238.5 671.1L238.5 670.4L238.3 670.1L238.3 669.1L238 668.9L238 667.9L237.8 667.6L237.5 665.4L237.3 665.1L237.3 664.4L237 664.1L237 663.1L236.8 662.9L236.8 661.9L236.5 661.6L236.5 660.6L236.3 660.4L236.3 659.6L236 659.4L236 658.4L235.8 658.1L235.5 655.9L235.3 655.6L235.3 654.9L235 654.6L235 653.6L234.8 653.4L234.8 652.4L234.5 652.1L234.3 649.9L234 649.6L234 648.9L233.8 648.6L233.8 647.6L233.5 647.4L233.5 646.4L233.3 646.1L233.3 645.1L233 644.9L233 644.1L232.8 643.9L232.8 642.9L232.5 642.6L232.5 641.6L232.3 641.4L232.3 640.4L232 640.1L232 639.4L231.8 639.1L231.8 638.1L231.5 637.9L231.3 635.6L231 635.4L231 634.4L230.8 634.1L230.8 633.4L230.5 633.1L230.5 632.1L230.3 631.9L230.3 630.9L230 630.6L230 629.6L229.8 629.4L229.8 628.6L229.5 628.4L229.3 626.1L229 625.9L229 624.9L228.8 624.6L90.2 624.6L90 626.9L89.7 627.1L89.7 628.1L89.5 628.4L89.5 629.1L89.2 629.4L89.2 630.4L89 630.6L89 631.6L88.7 631.9L88.7 632.9L88.5 633.1L88.5 633.9L88.2 634.1L88.2 635.1L88 635.4L87.7 637.6L87.5 637.9L87.5 638.9L87.2 639.1L87.2 639.9L87 640.1L87 641.1L86.7 641.4L86.7 642.4L86.5 642.6L86.5 643.6L86.2 643.9L86.2 644.6L86 644.9L86 645.9L85.7 646.1L85.7 647.1L85.5 647.4L85.5 648.4L85.2 648.6L85.2 649.4L85 649.6L84.7 651.9L84.5 652.1L84.5 653.1L84.2 653.4L84.2 654.4L84 654.6L84 655.4L83.7 655.6L83.5 657.9L83.2 658.1L83.2 659.1L83 659.4L83 660.1L82.7 660.4L82.7 661.4L82.5 661.6L82.5 662.6L82.2 662.9L82.2 663.9L82 664.1L82 665.1L81.7 665.4L81.7 666.1L81.5 666.4L81.2 668.6L81 668.9L81 669.9L80.7 670.1L80.7 670.9L80.5 671.1L80.5 672.1L80.2 672.4L80 674.6L79.7 674.9L79.7 675.6L79.5 675.9L79.5 676.9L79.2 677.1L79.2 678.1L79 678.4L78.7 680.6L78.5 680.9L78.5 681.6L78.2 681.9L78 684.1L77.7 684.4L77.7 685.4L77.5 685.6L77.5 686.4L77.2 686.6L77 688.9L76.7 689.1L76.7 690.1L76.5 690.4L76.5 691.1L76.2 691.4L76.2 692.4L76 692.6L76 693.6L75.7 693.9L75.5 696.1L75.2 696.4L75.2 697.1L75 697.4L75 698.4L74.7 698.6L74.7 699.6L74.5 699.9L74.5 700.9L74.2 701.1L74.2 701.9L74 702.1L74 703.1L73.7 703.4L73.5 705.6L73.2 705.9L73.2 706.6L73 706.9L73 707.9L72.7 708.1L72.7 709.1L72.5 709.4L72.2 711.6L72 711.9L72 712.6L71.7 712.9L71.7 713.9L71.5 714.1L71.5 715.1L71.2 715.4L71.2 716.4L71 716.6L71 717.4L70.7 717.6L70.7 718.6L70.5 718.9L70.5 719.9L70.2 720.1L70 722.4L69.7 722.6L69.7 723.4L69.5 723.6L69.5 724.6L69.2 724.9L69.2 725.9L69 726.1L69 727.1L68.7 727.4L68.7 728.1L68.5 728.4L68.5 729.4L68.2 729.6L68 731.9L67.7 732.1L67.7 732.9L67.5 733.1L67.5 734.1L67.2 734.4L67.2 735.4L67 735.6L66.7 737.9L66.5 738.1L66.5 738.9L66.2 739.1L66.2 740.1L66 740.4L66 741.4L65.7 741.6L65.7 742.6L65.5 742.9L65.5 743.6L65.2 743.9L65.2 744.9L65 745.1L64.7 747.4L64.5 747.6L64.5 748.4L64.2 748.6L64.2 749.6L64 749.9L64 750.9L63.7 751.1L63.7 752.1L63.5 752.4L63.5 753.4L63.2 753.6L63.2 754.4L63 754.6L63 755.6L62.7 755.9L62.5 758.1L62.2 758.4L62.2 759.1L62 759.4L62 760.4L61.7 760.6L61.5 762.9L61.2 763.1L61.2 763.9L61 764.1L61 765.1L60.7 765.4L60.7 766.4L60.5 766.6L60.2 768.9L60 769.1L60 769.9L59.7 770.1L59.7 771.1L59.5 771.4L59.5 772.4L59.2 772.6L59.2 773.6L59 773.9L59 774.6L58.7 774.9L58.7 775.9L58.5 776.1L58.5 777.1L58.2 777.4L58 779.6L57.7 779.9L57.7 780.6L57.5 780.9L57.5 781.9L57.2 782.1L57 784.4L56.7 784.6L56.7 785.4L56.5 785.6L56.2 787.9L56 788.1L56 789.1L55.7 789.4L55.7 790.1L55.5 790.4L55.2 792.6L55 792.9L55 793.9L54.7 794.1L54.7 795.1L54.5 795.4L54.5 796.1L54.2 796.4L54 798.6L53.7 798.9L53.7 799.9L53.5 800.1L53.5 800.9L53.2 801.1L53.2 802.1L53 802.4L53 803.4L52.7 803.6L52.7 804.6L52.5 804.9L52.5 805.6L52.2 805.9L52 808.1L51.7 808.4L51.7 809.4L51.5 809.6L51.5 810.6L51.2 810.9L51.2 811.6L51 811.9L50.7 814.1L50.5 814.4L50.5 815.4L50.2 815.6L50.2 816.4L50 816.6L49.7 818.9L49.5 819.1L49.5 820.1L49.2 820.4L49.2 821.1L49 821.4L48.7 823.6L48.5 823.9L48.5 824.9L48.2 825.1L48.2 826.1L48 826.4L48 827.1L47.7 827.4L47.7 828.4L47.5 828.6L47.5 829.6L47.2 829.9L47.2 830.9L47 831.1L47 831.9L46.7 832.1L46.5 834.4L46.2 834.6L46.2 835.6L46 835.9L46 836.9L45.7 837.1L45.7 837.9L45.5 838.1L45.5 839.1L45.2 839.4L45 841.6L44.7 841.9L44.7 842.6L44.5 842.9L44.2 845.1L275 845.1Z"/><path fill="#ff4100" d="M275 845.1L275 844.4L274.8 844.1L274.8 843.1L274.5 842.9L274.5 842.1L274.3 841.9L274.3 840.9L274 840.6L274 839.6L273.8 839.4L273.8 838.4L273.5 838.1L273.5 837.1L273.3 836.9L273.3 836.1L273 835.9L273 834.9L272.8 834.6L272.8 833.6L272.5 833.4L272.5 832.4L272.3 832.1L272.3 831.4L272 831.1L272 830.1L271.8 829.9L271.5 827.6L271.3 827.4L271.3 826.6L271 826.4L271 825.4L270.8 825.1L270.8 824.1L270.5 823.9L270.3 821.6L270 821.4L270 820.6L269.8 820.4L269.8 819.4L269.5 819.1L269.3 816.9L269 816.6L269 815.9L268.8 815.6L268.8 814.6L268.5 814.4L268.3 812.1L268 811.9L268 811.1L267.8 810.9L267.8 809.9L267.5 809.6L267.5 808.6L267.3 808.4L267 806.1L266.8 805.9L266.8 805.1L266.5 804.9L266.5 803.9L266.3 803.6L266 801.4L265.8 801.1L265.8 800.4L265.5 800.1L265.5 799.1L265.3 798.9L265.3 797.9L265 797.6L264.8 795.4L264.5 795.1L264.5 794.4L264.3 794.1L264.3 793.1L264 792.9L263.8 790.6L263.5 790.4L263.5 789.6L263.3 789.4L263.3 788.4L263 788.1L262.8 785.9L262.5 785.6L262.5 784.9L262.3 784.6L262 782.4L261.8 782.1L261.8 781.1L261.5 780.9L261.5 779.9L261.3 779.6L261.3 778.9L261 778.6L260.8 776.4L260.5 776.1L260.5 775.1L260.3 774.9L260.3 774.1L260 773.9L260 772.9L259.8 772.6L259.8 771.6L259.5 771.4L259.5 770.4L259.3 770.1L259.3 769.4L259 769.1L258.8 766.9L258.5 766.6L258.5 765.6L258.3 765.4L258.3 764.4L258 764.1L258 763.4L257.8 763.1L257.5 760.9L257.3 760.6L257.3 759.6L257 759.4L257 758.6L256.8 758.4L256.8 757.4L256.5 757.1L256.5 756.1L256.3 755.9L256.3 754.9L256 754.6L256 753.9L255.8 753.6L255.5 751.4L255.3 751.1L255.3 750.1L255 749.9L255 748.9L254.8 748.6L254.8 747.9L254.5 747.6L254.5 746.6L254.3 746.4L254.3 745.4L254 745.1L254 744.1L253.8 743.9L253.8 743.1L253.5 742.9L253.3 740.6L253 740.4L253 739.4L252.8 739.1L252.8 738.1L252.5 737.9L252.5 737.1L252.3 736.9L252 734.6L251.8 734.4L251.8 733.4L251.5 733.1L251.5 732.4L251.3 732.1L251.3 731.1L251 730.9L251 729.9L250.8 729.6L250.8 728.6L250.5 728.4L250.5 727.6L250.3 727.4L250 725.1L249.8 724.9L249.8 723.9L249.5 723.6L249.5 722.6L249.3 722.4L249.3 721.6L249 721.4L248.8 719.1L248.5 718.9L248.5 717.9L248.3 717.6L248.3 716.9L248 716.6L248 715.6L247.8 715.4L247.8 714.4L247.5 714.1L247.5 713.1L247.3 712.9L247.3 712.1L247 711.9L246.8 709.6L246.5 709.4L246.5 708.4L246.3 708.1L246.3 707.1L246 706.9L246 706.1L245.8 705.9L245.5 703.6L245.3 703.4L245.3 702.4L245 702.1L245 701.4L244.8 701.1L244.8 700.1L244.5 699.9L244.5 698.9L244.3 698.6L244.3 697.6L244 697.4L244 696.6L243.8 696.4L243.5 694.1L243.3 693.9L243.3 692.9L243 692.6L243 691.6L242.8 691.4L242.8 690.6L242.5 690.4L242.5 689.4L242.3 689.1L242.3 688.1L242 687.9L242 686.9L241.8 686.6L241.8 685.9L241.5 685.6L241.5 684.6L241.3 684.4L241 682.1L240.8 681.9L240.8 680.9L240.5 680.6L240.5 679.9L240.3 679.6L240 677.4L239.8 677.1L239.8 676.1L239.5 675.9L239.5 675.1L239.3 674.9L239 672.6L238.8 672.4L238.8 671.4L238.5 671.1L238.5 670.4L238.3 670.1L238.3 669.1L238 668.9L238 667.9L237.8 667.6L237.5 665.4L237.3 665.1L237.3 664.4L237 664.1L237 663.1L236.8 662.9L236.8 661.9L236.5 661.6L236.5 660.6L236.3 660.4L236.3 659.6L236 659.4L236 658.4L235.8 658.1L235.5 655.9L235.3 655.6L235.3 654.9L235 654.6L235 653.6L234.8 653.4L234.8 652.4L234.5 652.1L234.3 649.9L234 649.6L234 648.9L233.8 648.6L233.8 647.6L233.5 647.4L233.5 646.4L233.3 646.1L233.3 645.1L233 644.9L233 644.1L232.8 643.9L232.8 642.9L232.5 642.6L232.5 641.6L232.3 641.4L232.3 640.4L232 640.1L232 639.4L231.8 639.1L231.8 638.1L231.5 637.9L231.3 635.6L231 635.4L231 634.4L230.8 634.1L230.8 633.4L230.5 633.1L230.5 632.1L230.3 631.9L230.3 630.9L230 630.6L230 629.6L229.8 629.4L229.8 628.6L229.5 628.4L229.3 626.1L229 625.9L229 624.9L228.8 624.6L90.2 624.6L90 626.9L89.7 627.1L89.7 628.1L89.5 628.4L89.5 629.1L89.2 629.4L89.2 630.4L89 630.6L89 631.6L88.7 631.9L88.7 632.9L88.5 633.1L88.5 633.9L88.2 634.1L88.2 635.1L88 635.4L87.7 637.6L87.5 637.9L87.5 638.9L87.2 639.1L87.2 639.9L87 640.1L87 641.1L86.7 641.4L86.7 642.4L86.5 642.6L86.5 643.6L86.2 643.9L86.2 644.6L86 644.9L86 645.9L85.7 646.1L85.7 647.1L85.5 647.4L85.5 648.4L85.2 648.6L85.2 649.4L85 649.6L84.7 651.9L84.5 652.1L84.5 653.1L84.2 653.4L84.2 654.4L84 654.6L84 655.4L83.7 655.6L83.5 657.9L83.2 658.1L83.2 659.1L83 659.4L83 660.1L82.7 660.4L82.7 661.4L82.5 661.6L82.5 662.6L82.2 662.9L82.2 663.9L82 664.1L82 665.1L81.7 665.4L81.7 666.1L81.5 666.4L81.2 668.6L81 668.9L81 669.9L80.7 670.1L80.7 670.9L80.5 671.1L80.5 672.1L80.2 672.4L80 674.6L79.7 674.9L79.7 675.6L79.5 675.9L79.5 676.9L79.2 677.1L79.2 678.1L79 678.4L78.7 680.6L78.5 680.9L78.5 681.6L78.2 681.9L78 684.1L77.7 684.4L77.7 685.4L77.5 685.6L77.5 686.4L77.2 686.6L77 688.9L76.7 689.1L76.7 690.1L76.5 690.4L76.5 691.1L76.2 691.4L76.2 692.4L76 692.6L76 693.6L75.7 693.9L75.5 696.1L75.2 696.4L75.2 697.1L75 697.4L75 698.4L74.7 698.6L74.7 699.6L74.5 699.9L74.5 700.9L74.2 701.1L74.2 701.9L74 702.1L74 703.1L73.7 703.4L73.5 705.6L73.2 705.9L73.2 706.6L73 706.9L73 707.9L72.7 708.1L72.7 709.1L72.5 709.4L72.2 711.6L72 711.9L72 712.6L71.7 712.9L71.7 713.9L71.5 714.1L71.5 715.1L71.2 715.4L71.2 716.4L71 716.6L71 717.4L70.7 717.6L70.7 718.6L70.5 718.9L70.5 719.9L70.2 720.1L70 722.4L69.7 722.6L69.7 723.4L69.5 723.6L69.5 724.6L69.2 724.9L69.2 725.9L69 726.1L69 727.1L68.7 727.4L68.7 728.1L68.5 728.4L68.5 729.4L68.2 729.6L68 731.9L67.7 732.1L67.7 732.9L67.5 733.1L67.5 734.1L67.2 734.4L67.2 735.4L67 735.6L66.7 737.9L66.5 738.1L66.5 738.9L66.2 739.1L66.2 740.1L66 740.4L66 741.4L65.7 741.6L65.7 742.6L65.5 742.9L65.5 743.6L65.2 743.9L65.2 744.9L65 745.1L64.7 747.4L64.5 747.6L64.5 748.4L64.2 748.6L64.2 749.6L64 749.9L64 750.9L63.7 751.1L63.7 752.1L63.5 752.4L63.5 753.4L63.2 753.6L63.2 754.4L63 754.6L63 755.6L62.7 755.9L62.5 758.1L62.2 758.4L62.2 759.1L62 759.4L62 760.4L61.7 760.6L61.5 762.9L61.2 763.1L61.2 763.9L61 764.1L61 765.1L60.7 765.4L60.7 766.4L60.5 766.6L60.2 768.9L60 769.1L60 769.9L59.7 770.1L59.7 771.1L59.5 771.4L59.5 772.4L59.2 772.6L59.2 773.6L59 773.9L59 774.6L58.7 774.9L58.7 775.9L58.5 776.1L58.5 777.1L58.2 777.4L58 779.6L57.7 779.9L57.7 780.6L57.5 780.9L57.5 781.9L57.2 782.1L57 784.4L56.7 784.6L56.7 785.4L56.5 785.6L56.2 787.9L56 788.1L56 789.1L55.7 789.4L55.7 790.1L55.5 790.4L55.2 792.6L55 792.9L55 793.9L54.7 794.1L54.7 795.1L54.5 795.4L54.5 796.1L54.2 796.4L54 798.6L53.7 798.9L53.7 799.9L53.5 800.1L53.5 800.9L53.2 801.1L53.2 802.1L53 802.4L53 803.4L52.7 803.6L52.7 804.6L52.5 804.9L52.5 805.6L52.2 805.9L52 808.1L51.7 808.4L51.7 809.4L51.5 809.6L51.5 810.6L51.2 810.9L51.2 811.6L51 811.9L50.7 814.1L50.5 814.4L50.5 815.4L50.2 815.6L50.2 816.4L50 816.6L49.7 818.9L49.5 819.1L49.5 820.1L49.2 820.4L49.2 821.1L49 821.4L48.7 823.6L48.5 823.9L48.5 824.9L48.2 825.1L48.2 826.1L48 826.4L48 827.1L47.7 827.4L47.7 828.4L47.5 828.6L47.5 829.6L47.2 829.9L47.2 830.9L47 831.1L47 831.9L46.7 832.1L46.5 834.4L46.2 834.6L46.2 835.6L46 835.9L46 836.9L45.7 837.1L45.7 837.9L45.5 838.1L45.5 839.1L45.2 839.4L45 841.6L44.7 841.9L44.7 842.6L44.5 842.9L44.2 845.1L275 845.1Z"/><path fill="#ff5700" d="M259.9 845.1L263.1 842.4L266.3 838.4L269.6 834.9L271.7 831.6L272 831.1L272 830.1L271.8 829.9L271.5 827.6L271.3 827.4L271.3 826.6L271 826.4L271 825.4L270.8 825.1L270.8 824.1L270.5 823.9L270.3 821.6L270 821.4L270 820.6L269.8 820.4L269.8 819.4L269.5 819.1L269.3 816.9L269 816.6L269 815.9L268.8 815.6L268.8 814.6L268.5 814.4L268.3 812.1L268 811.9L268 811.1L267.8 810.9L267.8 809.9L267.5 809.6L267.5 808.6L267.3 808.4L267 806.1L266.8 805.9L266.8 805.1L266.5 804.9L266.5 803.9L266.3 803.6L266.3 802.6L266 802.4L266 801.4L265.8 801.1L265.8 800.4L265.5 800.1L265.5 799.1L265.3 798.9L265.3 797.9L265 797.6L264.8 795.4L264.5 795.1L264.5 794.4L264.3 794.1L264.3 793.1L264 792.9L263.8 790.6L263.5 790.4L263.5 789.6L263.3 789.4L263.3 788.4L263 788.1L262.8 785.9L262.5 785.6L262.5 784.9L262.3 784.6L262 782.4L261.8 782.1L261.8 781.1L261.5 780.9L261.5 779.9L261.3 779.6L261.3 778.9L261 778.6L260.8 776.4L260.5 776.1L260.5 775.1L260.3 774.9L260.3 774.1L260 773.9L259.8 771.6L259.5 771.4L259.5 770.4L259.3 770.1L259.3 769.4L259 769.1L259 768.1L258.8 767.9L258.8 766.9L258.5 766.6L258.5 765.6L258.3 765.4L258.3 764.4L258 764.1L258 763.4L257.8 763.1L257.5 760.9L257.3 760.6L257.3 759.6L257 759.4L257 758.6L256.8 758.4L256.5 756.1L256.3 755.9L256.3 754.9L256 754.6L256 753.9L255.8 753.6L255.8 752.6L255.5 752.4L255.5 751.4L255.3 751.1L255.3 750.1L255 749.9L255 748.9L254.8 748.6L254.8 747.9L254.5 747.6L254.3 745.4L254 745.1L254 744.1L253.8 743.9L253.8 743.1L253.5 742.9L253.5 741.9L253.3 741.6L253.3 740.6L253 740.4L253 739.4L252.8 739.1L252.8 738.1L252.5 737.9L252.5 737.1L252.3 736.9L252 734.6L251.8 734.4L251.8 733.4L251.5 733.1L251.5 732.4L251.3 732.1L251 729.9L250.8 729.6L250.8 728.6L250.5 728.4L250.5 727.6L250.3 727.4L250.3 726.4L250 726.1L250 725.1L249.8 724.9L249.8 723.9L249.5 723.6L249.5 722.6L249.3 722.4L249.3 721.6L249 721.4L248.8 719.1L248.5 718.9L248.5 717.9L248.3 717.6L248.3 716.9L248 716.6L247.8 714.4L247.5 714.1L247.5 713.1L247.3 712.9L247.3 712.1L247 711.9L247 710.9L246.8 710.6L246.8 709.6L246.5 709.4L246.5 708.4L246.3 708.1L246.3 707.1L246 706.9L246 706.1L245.8 705.9L245.5 703.6L245.3 703.4L245.3 702.4L245 702.1L245 701.4L244.8 701.1L244.5 698.9L244.3 698.6L244.3 697.6L244 697.4L244 696.6L243.8 696.4L243.5 694.1L243.3 693.9L243.3 692.9L243 692.6L243 691.6L242.8 691.4L242.8 690.6L242.5 690.4L242.3 688.1L242 687.9L242 686.9L241.8 686.6L241.8 685.9L241.5 685.6L241.5 684.6L241.3 684.4L241 682.1L240.8 681.9L240.8 680.9L240.5 680.6L240.5 679.9L240.3 679.6L240 677.4L239.8 677.1L239.8 676.1L239.5 675.9L239.5 675.1L239.3 674.9L239 672.6L238.8 672.4L238.8 671.4L238.5 671.1L238.5 670.4L238.3 670.1L238.3 669.1L238 668.9L238 667.9L237.8 667.6L237.5 665.4L237.3 665.1L237.3 664.4L237 664.1L237 663.1L236.8 662.9L236.8 661.9L236.5 661.6L236.5 660.6L236.3 660.4L236.3 659.6L236 659.4L236 658.4L235.8 658.1L235.5 655.9L235.3 655.6L235.3 654.9L235 654.6L235 653.6L234.8 653.4L234.8 652.4L234.5 652.1L234.3 649.9L234 649.6L234 648.9L233.8 648.6L233.8 647.6L233.5 647.4L233.3 645.1L233 644.9L233 644.1L232.8 643.9L232.8 642.9L232.5 642.6L232.5 641.6L232.3 641.4L232.3 640.4L232 640.1L232 639.4L231.8 639.1L231.8 638.1L231.5 637.9L231.5 636.9L231.3 636.6L231.3 635.6L231 635.4L231 635.1L217.6 624.6L101.6 624.6L94.5 630L88 635.4L87.7 637.6L87.5 637.9L87.5 638.9L87.2 639.1L87.2 639.9L87 640.1L87 641.1L86.7 641.4L86.7 642.4L86.5 642.6L86.5 643.6L86.2 643.9L86.2 644.6L86 644.9L86 645.9L85.7 646.1L85.7 647.1L85.5 647.4L85.5 648.4L85.2 648.6L85.2 649.4L85 649.6L84.7 651.9L84.5 652.1L84.5 653.1L84.2 653.4L84.2 654.4L84 654.6L84 655.4L83.7 655.6L83.5 657.9L83.2 658.1L83.2 659.1L83 659.4L83 660.1L82.7 660.4L82.7 661.4L82.5 661.6L82.5 662.6L82.2 662.9L82.2 663.9L82 664.1L82 665.1L81.7 665.4L81.7 666.1L81.5 666.4L81.5 667.4L81.2 667.6L81 669.9L80.7 670.1L80.7 670.9L80.5 671.1L80.5 672.1L80.2 672.4L80 674.6L79.7 674.9L79.7 675.6L79.5 675.9L79.5 676.9L79.2 677.1L79.2 678.1L79 678.4L78.7 680.6L78.5 680.9L78.5 681.6L78.2 681.9L78 684.1L77.7 684.4L77.7 685.4L77.5 685.6L77.5 686.4L77.2 686.6L77.2 687.6L77 687.9L76.7 690.1L76.5 690.4L76.5 691.1L76.2 691.4L76.2 692.4L76 692.6L76 693.6L75.7 693.9L75.7 694.9L75.5 695.1L75.5 696.1L75.2 696.4L75.2 697.1L75 697.4L75 698.4L74.7 698.6L74.7 699.6L74.5 699.9L74.5 700.9L74.2 701.1L74.2 701.9L74 702.1L74 703.1L73.7 703.4L73.5 705.6L73.2 705.9L73.2 706.6L73 706.9L73 707.9L72.7 708.1L72.7 709.1L72.5 709.4L72.5 710.4L72.2 710.6L72.2 711.6L72 711.9L72 712.6L71.7 712.9L71.7 713.9L71.5 714.1L71.2 716.4L71 716.6L71 717.4L70.7 717.6L70.7 718.6L70.5 718.9L70.5 719.9L70.2 720.1L70 722.4L69.7 722.6L69.7 723.4L69.5 723.6L69.5 724.6L69.2 724.9L69.2 725.9L69 726.1L69 727.1L68.7 727.4L68.7 728.1L68.5 728.4L68.5 729.4L68.2 729.6L68 731.9L67.7 732.1L67.7 732.9L67.5 733.1L67.5 734.1L67.2 734.4L67.2 735.4L67 735.6L66.7 737.9L66.5 738.1L66.5 738.9L66.2 739.1L66.2 740.1L66 740.4L65.7 742.6L65.5 742.9L65.5 743.6L65.2 743.9L65.2 744.9L65 745.1L65 746.1L64.7 746.4L64.7 747.4L64.5 747.6L64.5 748.4L64.2 748.6L64.2 749.6L64 749.9L64 750.9L63.7 751.1L63.5 753.4L63.2 753.6L63.2 754.4L63 754.6L63 755.6L62.7 755.9L62.5 758.1L62.2 758.4L62.2 759.1L62 759.4L62 760.4L61.7 760.6L61.7 761.6L61.5 761.9L61.5 762.9L61.2 763.1L61.2 763.9L61 764.1L61 765.1L60.7 765.4L60.7 766.4L60.5 766.6L60.2 768.9L60 769.1L60 769.9L59.7 770.1L59.7 771.1L59.5 771.4L59.5 772.4L59.2 772.6L59.2 773.6L59 773.9L59 774.6L58.7 774.9L58.7 775.9L58.5 776.1L58.5 777.1L58.2 777.4L58 779.6L57.7 779.9L57.7 780.6L57.5 780.9L57.5 781.9L57.2 782.1L57 784.4L56.7 784.6L56.7 785.4L56.5 785.6L56.5 786.6L56.2 786.9L56.2 787.9L56 788.1L56 789.1L55.7 789.4L55.7 790.1L55.5 790.4L55.2 792.6L55 792.9L55 793.9L54.7 794.1L54.7 795.1L54.5 795.4L54.5 796.1L54.2 796.4L54 798.6L53.7 798.9L53.7 799.9L53.5 800.1L53.5 800.9L53.2 801.1L53 803.4L52.7 803.6L52.7 804.6L52.5 804.9L52.5 805.6L52.2 805.9L52 808.1L51.7 808.4L51.7 809.4L51.5 809.6L51.5 810.6L51.2 810.9L51.2 811.6L51 811.9L50.7 814.1L50.5 814.4L50.5 815.4L50.2 815.6L50.2 816.4L50 816.6L49.7 818.9L49.5 819.1L49.5 820.1L49.2 820.4L49.2 821.1L49 821.4L48.7 823.6L48.5 823.9L48.5 824.9L48.2 825.1L48.2 826.1L48 826.4L48 827.1L47.7 827.4L47.5 829.6L47.2 829.9L47.2 831.1L48.9 833.9L52.9 838.4L56 842.2L57.5 843.7L59.3 845.1L259.9 845.1Z"/><path fill="#ff6d00" d="M245 845.1L251.2 843.3L256.2 841.1L259.8 839L263.2 835.6L265.8 831.9L267.4 827.9L268.6 822.9L269.2 816.9L269 816.6L269 815.9L268.8 815.6L268.8 814.6L268.5 814.4L268.5 813.4L268.3 813.1L268.3 812.1L268 811.9L268 811.1L267.8 810.9L267.8 809.9L267.5 809.6L267.5 808.6L267.3 808.4L267 806.1L266.8 805.9L266.8 805.1L266.5 804.9L266.5 803.9L266.3 803.6L266 801.4L265.8 801.1L265.8 800.4L265.5 800.1L265.5 799.1L265.3 798.9L265.3 797.9L265 797.6L264.8 795.4L264.5 795.1L264.5 794.4L264.3 794.1L264.3 793.1L264 792.9L263.8 790.6L263.5 790.4L263.5 789.6L263.3 789.4L263.3 788.4L263 788.1L262.8 785.9L262.5 785.6L262.5 784.9L262.3 784.6L262 782.4L261.8 782.1L261.8 781.1L261.5 780.9L261.5 779.9L261.3 779.6L261.3 778.9L261 778.6L260.8 776.4L260.5 776.1L260.5 775.1L260.3 774.9L260.3 774.1L260 773.9L259.8 771.6L259.5 771.4L259.5 770.4L259.3 770.1L259.3 769.4L259 769.1L258.8 766.9L258.5 766.6L258.5 765.6L258.3 765.4L258.3 764.4L258 764.1L258 763.4L257.8 763.1L257.8 762.1L257.5 761.9L257.5 760.9L257.3 760.6L257.3 759.6L257 759.4L257 758.6L256.8 758.4L256.5 756.1L256.3 755.9L256.3 754.9L256 754.6L256 753.9L255.8 753.6L255.5 751.4L255.3 751.1L255.3 750.1L255 749.9L255 748.9L254.8 748.6L254.8 747.9L254.5 747.6L254.5 746.6L254.3 746.4L254.3 745.4L254 745.1L254 744.1L253.8 743.9L253.8 743.1L253.5 742.9L253.3 740.6L253 740.4L253 739.4L252.8 739.1L252.8 738.1L252.5 737.9L252.5 737.1L252.3 736.9L252.3 735.9L252 735.6L252 734.6L251.8 734.4L251.8 733.4L251.5 733.1L251.5 732.4L251.3 732.1L251 729.9L250.8 729.6L250.8 728.6L250.5 728.4L250.5 727.6L250.3 727.4L250 725.1L249.8 724.9L249.8 723.9L249.5 723.6L249.5 722.6L249.3 722.4L249.3 721.6L249 721.4L249 720.4L248.8 720.1L248.8 719.1L248.5 718.9L248.5 717.9L248.3 717.6L248.3 716.9L248 716.6L247.8 714.4L247.5 714.1L247.5 713.1L247.3 712.9L247.3 712.1L247 711.9L246.8 709.6L246.5 709.4L246.5 708.4L246.3 708.1L246.3 707.1L246 706.9L246 706.1L245.8 705.9L245.8 704.9L245.5 704.6L245.5 703.6L245.3 703.4L245.3 702.4L245 702.1L245 701.4L244.8 701.1L244.5 698.9L244.3 698.6L244.3 697.6L244 697.4L244 696.6L243.8 696.4L243.5 694.1L243.3 693.9L243.3 692.9L243 692.6L243 691.6L242.8 691.4L242.8 690.6L242.5 690.4L242.5 689.4L242.3 689.1L242.3 688.1L242 687.9L242 686.9L241.8 686.6L241.8 685.9L241.5 685.6L241.5 684.6L241.3 684.4L241 682.1L240.8 681.9L240.8 680.9L240.5 680.6L240.5 679.9L240.3 679.6L240 677.4L239.8 677.1L239.8 676.1L239.5 675.9L239.5 675.1L239.3 674.9L239 672.6L238.8 672.4L238.8 671.4L238.5 671.1L238.5 670.4L238.3 670.1L238.3 669.1L238 668.9L238 667.9L237.8 667.6L237.5 665.4L237.3 665.1L237.3 664.4L237 664.1L237 663.1L236.8 662.9L236.8 661.9L236.5 661.6L236.5 660.6L236.3 660.4L236.3 659.6L236 659.4L236 658.4L235.8 658.1L235.5 655.9L235.3 655.6L235.3 654.9L235 654.6L235 653.6L234.8 653.4L234.8 652.4L234.5 652.1L234.3 649.9L234 649.6L234 648.9L233.8 648.6L233.8 647.6L231.9 644.1L229.8 640.6L227.8 637.9L226.2 636.1L217.2 629.2L215.2 628.1L211.8 626.7L204.3 624.6L114.9 624.6L110.8 625.7L106.8 627L103.8 628.2L101.5 629.5L93.9 635.4L91.4 637.9L89.1 641.1L86.8 644.9L85.5 647.5L85.5 648.4L85.2 648.6L85.2 649.4L85 649.6L84.7 651.9L84.5 652.1L84.5 653.1L84.2 653.4L84.2 654.4L84 654.6L84 655.4L83.7 655.6L83.5 657.9L83.2 658.1L83.2 659.1L83 659.4L83 660.1L82.7 660.4L82.7 661.4L82.5 661.6L82.5 662.6L82.2 662.9L82.2 663.9L82 664.1L82 665.1L81.7 665.4L81.7 666.1L81.5 666.4L81.5 667.4L81.2 667.6L81 669.9L80.7 670.1L80.7 670.9L80.5 671.1L80.5 672.1L80.2 672.4L80 674.6L79.7 674.9L79.7 675.6L79.5 675.9L79.5 676.9L79.2 677.1L79.2 678.1L79 678.4L78.7 680.6L78.5 680.9L78.5 681.6L78.2 681.9L78 684.1L77.7 684.4L77.7 685.4L77.5 685.6L77.5 686.4L77.2 686.6L77 688.9L76.7 689.1L76.7 690.1L76.5 690.4L76.5 691.1L76.2 691.4L76.2 692.4L76 692.6L76 693.6L75.7 693.9L75.5 696.1L75.2 696.4L75.2 697.1L75 697.4L75 698.4L74.7 698.6L74.7 699.6L74.5 699.9L74.5 700.9L74.2 701.1L74.2 701.9L74 702.1L74 703.1L73.7 703.4L73.5 705.6L73.2 705.9L73.2 706.6L73 706.9L73 707.9L72.7 708.1L72.7 709.1L72.5 709.4L72.2 711.6L72 711.9L72 712.6L71.7 712.9L71.7 713.9L71.5 714.1L71.5 715.1L71.2 715.4L71.2 716.4L71 716.6L71 717.4L70.7 717.6L70.7 718.6L70.5 718.9L70.5 719.9L70.2 720.1L70 722.4L69.7 722.6L69.7 723.4L69.5 723.6L69.5 724.6L69.2 724.9L69.2 725.9L69 726.1L69 727.1L68.7 727.4L68.7 728.1L68.5 728.4L68.5 729.4L68.2 729.6L68 731.9L67.7 732.1L67.7 732.9L67.5 733.1L67.5 734.1L67.2 734.4L67.2 735.4L67 735.6L66.7 737.9L66.5 738.1L66.5 738.9L66.2 739.1L66.2 740.1L66 740.4L66 741.4L65.7 741.6L65.7 742.6L65.5 742.9L65.5 743.6L65.2 743.9L65.2 744.9L65 745.1L64.7 747.4L64.5 747.6L64.5 748.4L64.2 748.6L64.2 749.6L64 749.9L64 750.9L63.7 751.1L63.5 753.4L63.2 753.6L63.2 754.4L63 754.6L63 755.6L62.7 755.9L62.7 756.9L62.5 757.1L62.5 758.1L62.2 758.4L62.2 759.1L62 759.4L62 760.4L61.7 760.6L61.5 762.9L61.2 763.1L61.2 763.9L61 764.1L61 765.1L60.7 765.4L60.7 766.4L60.5 766.6L60.2 768.9L60 769.1L60 769.9L59.7 770.1L59.7 771.1L59.5 771.4L59.5 772.4L59.2 772.6L59.2 773.6L59 773.9L59 774.6L58.7 774.9L58.7 775.9L58.5 776.1L58.5 777.1L58.2 777.4L58 779.6L57.7 779.9L57.7 780.6L57.5 780.9L57.5 781.9L57.2 782.1L57.2 783.1L57 783.4L57 784.4L56.7 784.6L56.7 785.4L56.5 785.6L56.5 786.6L56.2 786.9L56.2 787.9L56 788.1L56 789.1L55.7 789.4L55.7 790.1L55.5 790.4L55.2 792.6L55 792.9L55 793.9L54.7 794.1L54.7 795.1L54.5 795.4L54.5 796.1L54.2 796.4L54 798.6L53.7 798.9L53.7 799.9L53.5 800.1L53.5 800.9L53.2 801.1L53.2 802.1L53 802.4L53 803.4L52.7 803.6L52.7 804.6L52.5 804.9L52.5 805.6L52.2 805.9L52 808.1L51.7 808.4L51.7 809.4L51.5 809.6L51.5 810.6L51.2 810.9L51.2 811.6L51 811.9L50.7 814.1L50.5 814.4L50.5 815.4L50.2 815.6L50.2 816.4L50 816.6L50.5 821.9L51.2 825.9L52.6 830.1L54.1 833.1L55.6 835.1L57.2 837L59.3 838.9L61.2 840.2L64 841.7L67 843L74.2 845.1L245 845.1Z"/><path fill="#ff8200" d="M221.6 844.6L227.8 844.3L233.2 843.8L240 842.9L245 842L249 840.9L251.8 840L254.2 838.8L258.8 836.4L260.1 835.4L261.3 834.1L262.4 832.6L263.1 831.1L264.5 826.9L265.2 824.4L265.7 821.6L265.9 817.9L265.9 812.4L265.4 804.4L264.7 798.9L263.3 791.1L240.6 682.4L237.6 669.4L234.6 659.1L231.4 649.9L230.1 646.9L228.6 643.9L226 639.9L223.2 636.6L220 633.8L216.2 631.5L211.8 629.5L207 628.1L201.8 627.1L194.2 626.3L182.2 625.3L171 625L149.5 625L135.2 625.4L122.5 626.5L114 627.7L110.8 628.5L107.5 629.5L104.5 630.7L102 632L98.2 634.6L94.8 637.9L91.8 641.9L89.3 646.4L86.7 652.9L83.7 662.1L81.6 669.4L79.3 678.9L56.9 785.9L54.4 799.6L53.8 804.9L53.4 810.9L53.2 815.6L53.4 819.9L53.7 822.9L54.3 825.6L55.9 830.4L56.8 832.6L58.3 834.6L60.2 836.2L65.5 839.1L69 840.5L73.2 841.7L78 842.7L85 843.7L91.2 844.3L100 844.7L109 844.8L208.2 844.8L221.6 844.6Z"/><path fill="#ff9800" d="M216.6 843.4L229.2 842.8L235 842.2L241.2 841.3L245.2 840.5L249 839.5L251.8 838.5L256 836.5L258.2 835.2L259.5 834.3L260.6 833.1L261.5 831.6L262.6 828.6L263.8 824.1L264.5 818.6L264.5 813.1L264 805.4L263.4 799.6L261.9 791.4L239.3 683.1L236.3 670.1L233.9 661.4L230.7 651.6L229.1 647.9L227.7 644.9L225.7 641.6L222.3 637.1L219.8 634.9L217 633.1L211.5 630.8L207 629.4L201.5 628.4L194.2 627.6L182.8 626.7L171.2 626.4L148.8 626.4L134.5 626.8L122.2 627.8L114 629L108.2 630.6L101.8 633.3L98.8 635.4L96.3 637.9L92.6 643.1L90.2 647.6L87.7 654.1L84.6 663.9L82.8 670.4L80.4 680.6L58.4 785.9L55.8 799.6L55.2 804.9L54.8 810.1L54.6 814.9L54.7 819.1L55.1 822.6L55.8 825.9L56.8 829.4L57.9 832.1L59.2 833.9L61.2 835.4L65.2 837.5L70 839.4L74 840.5L78.8 841.5L85.5 842.4L91.2 842.9L107 843.4L216.6 843.4Z"/><path fill="#ffae00" d="M220.7 842.1L231.5 841.5L242.5 839.9L246.5 838.9L250.5 837.7L254 836.3L256.8 834.9L258.5 833.7L259.6 832.6L260.3 831.4L261.2 829.4L261.9 826.9L262.6 823.6L263.3 816.6L263.2 810.9L262.7 803.9L262 798.9L260.6 790.9L237.9 682.1L235.1 669.9L232.3 660.4L229.2 651.1L227.7 647.6L226.3 644.9L223.7 640.6L221.5 637.6L219.2 635.5L216.5 633.9L210.8 631.7L205.2 630.2L198.8 629.2L189.8 628.3L181 627.8L168.2 627.5L146.8 627.6L132.8 628.1L121.8 629L114 630.2L111 630.9L107 632.2L103.5 633.5L101.5 634.5L98.8 636.5L96.7 638.9L93 644.6L90.8 649.1L88.4 655.6L85.4 665.4L83.8 671.1L81.4 681.9L59.6 785.9L57.1 799.6L56.1 809.6L55.9 814.4L56 818.4L56.4 822.6L57.1 826.4L58 829.4L59.1 831.9L60.6 833.6L63.2 835.3L66.8 836.9L71.2 838.5L75.2 839.6L79.8 840.4L86.2 841.3L92.2 841.8L109.2 842.3L207.8 842.3L220.7 842.1Z"/><path fill="#ffc300" d="M219.7 841.1L230.2 840.5L241 839L249.8 836.9L253 835.7L255.6 834.4L257.2 833.2L258.5 832.1L259.5 830.5L260.4 828.4L261.2 825.9L261.7 823.1L262.1 815.9L262 810.1L261.5 803.6L260.9 798.6L259.4 790.4L236.4 680.4L233.6 668.4L230.2 657.1L227.4 649.6L224.3 643.4L221.9 639.6L219.8 637.1L217.2 635.2L213.8 633.7L208.2 632L202.2 630.7L195.8 629.9L185.5 629L171.8 628.6L151.5 628.6L138.8 628.8L131.5 629.2L121 630.2L114 631.3L107 633.1L104 634.3L101.8 635.3L99.2 637.4L96.8 640.4L93.9 645.1L91.5 650.4L89.3 656.4L86.3 665.9L84.9 671.4L82.4 682.4L60.6 786.4L58.2 799.6L57.6 804.6L57.2 810.1L57 814.6L57.2 819.1L57.5 822.9L58.1 826.1L58.9 828.9L60 831.1L61.2 832.7L63.6 834.4L66.8 835.9L70.2 837.1L75.5 838.5L80 839.4L86.5 840.3L92.5 840.8L108.8 841.2L206.8 841.2L219.7 841.1Z"/><path fill="#ffd900" d="M221.4 840.1L231.2 839.5L242.2 837.8L249.5 836L252.2 835L254.5 833.9L256.3 832.6L257.6 831.4L258.7 829.9L259.5 828L260.2 825.9L260.7 823.1L261.1 816.6L261 809.6L260.5 803.6L259.9 798.6L258.5 790.6L235.6 681.1L232.6 668.6L229.4 657.9L225.9 648.6L223.2 643.1L220.8 639.5L218.5 637.1L216.1 635.6L212.2 634L207.2 632.6L201 631.5L194 630.7L184 629.9L170.8 629.5L150.8 629.5L138.8 629.7L132 630.1L121.5 631.1L113 632.4L107 634L104.2 635.1L102 636.2L99.8 638L97.2 641.2L94.8 645.4L92.7 650.1L90.3 656.6L87.4 665.9L85.9 671.4L83.4 682.4L61.6 786.4L59.3 799.1L58.3 808.6L58.1 814.6L58.2 819.4L58.4 822.6L58.9 825.4L59.6 827.9L60.7 830.1L62.2 832.1L64.2 833.6L67 835L70.2 836.2L75 837.4L80.8 838.5L87.2 839.4L93.2 839.9L111.2 840.3L209.2 840.3L221.4 840.1Z"/><path fill="#ffef00" d="M216.2 839.4L227.2 838.9L238.5 837.6L246.8 836L249.5 835.2L252 834.2L253.9 833.1L255.6 831.9L257.2 830L258.2 828.4L259.1 826.4L259.7 824.1L260.2 818.6L260.2 812.9L259.6 804.1L259 799.1L257.7 791.4L234.9 682.4L232.1 670.4L229.9 662.6L226.1 651.4L224.5 647.4L222.8 644.1L220.5 640.5L218.1 637.9L215.5 636.2L212 634.7L207.5 633.5L202 632.5L195.5 631.7L184.5 630.8L171.2 630.4L151.2 630.4L139 630.6L133.2 630.9L121.2 632L113.2 633.1L107.5 634.6L103 636.6L100.8 638.2L98.3 641.1L96.1 644.6L94.1 648.9L91.7 655.4L88.3 665.9L86.9 671.1L84.5 681.6L62.6 785.9L60.3 798.6L59.3 807.9L59 813.9L59 818.4L59.2 821.9L59.6 824.4L60.3 826.9L61.2 828.9L62.9 831.1L64.8 832.8L67.2 834.2L70.2 835.4L74.2 836.4L79 837.3L87.2 838.4L93 839L108 839.4L216.2 839.4Z"/><path fill="#faff00" d="M221.5 838.4L230.8 837.8L241 836.4L247.8 834.9L250.2 834L252.2 833L254 831.9L255.5 830.4L257 828.5L257.9 826.9L258.6 824.9L259.1 822.6L259.5 816.6L259.3 810.9L258.7 803.4L258.1 798.9L256.6 790.6L233.9 681.9L230.9 669.1L227.6 658.1L224.6 649.6L222 644.1L219.8 640.8L217.5 638.5L214.8 636.7L211 635.2L206.8 634L201.5 633.2L195.2 632.5L184.5 631.6L171.2 631.2L151 631.2L138.8 631.4L132.8 631.7L121 632.8L113.5 633.8L108 635.2L105.5 636.2L103.5 637.3L101 639.1L98.8 641.7L96.5 645.4L94.7 649.4L92.4 655.6L89.1 666.1L87.8 671.1L85.4 681.6L63.6 785.6L61.2 798.6L60.1 808.1L59.7 817.6L59.9 821.1L60.3 823.6L60.9 825.9L61.8 827.9L63.5 830.1L65.5 832.1L67.8 833.5L70.8 834.7L74.8 835.7L79.8 836.7L86.5 837.5L93 838.1L101.8 838.5L110.8 838.6L209.5 838.6L221.5 838.4Z"/><path fill="#e4ff00" d="M222.1 837.6L231 837L240.8 835.8L247.2 834.3L249.5 833.4L251.2 832.6L253 831.4L254.7 829.6L256.2 827.7L257.3 825.9L257.9 824.1L258.4 821.9L258.7 815.9L258.5 809.9L257.9 803.1L255.7 789.9L232.9 681.1L230.1 669.1L226.8 657.9L224.1 650.1L221.5 644.7L219.3 641.6L217.1 639.4L214.2 637.4L210.8 635.8L206.8 634.7L201.8 633.9L195.8 633.2L185.8 632.4L172 632L151.2 632L138.8 632.2L132.8 632.4L121.2 633.4L114 634.4L108.8 635.7L104.6 637.6L101.8 639.7L99.8 641.7L97.6 644.9L95.7 648.6L93.4 654.9L90.4 664.4L88.8 670.1L86.6 679.6L64.4 785.6L62 798.6L60.9 807.9L60.5 817.1L60.6 820.4L61 822.9L61.6 825.1L62.4 826.9L64.2 829.4L66.5 831.6L68.5 832.9L71 833.9L74.8 835L79.5 835.9L86 836.8L92.5 837.4L110 837.8L210.2 837.8L222.1 837.6Z"/><path fill="#ceff00" d="M216.7 837.1L227.2 836.7L237 835.7L244.2 834.3L247.2 833.5L249.3 832.6L251.2 831.4L253.2 829.7L254.8 827.9L256.2 825.7L257 824L257.5 822.1L258 816.9L257.9 811.6L257.3 804.1L256.6 798.9L255.1 790.6L232.4 681.9L229.7 670.1L227.4 661.9L224.2 652.4L222.8 648.7L221.5 646.1L219.5 643.1L217.2 640.7L213.8 638.1L210.8 636.6L207 635.5L202.5 634.6L197 633.9L188.2 633.2L181.2 632.8L169 632.6L147.5 632.6L134 633L122.5 633.9L115.2 634.9L110 636.1L105.8 637.9L102.9 639.9L100.5 642.1L98.5 644.8L96.7 648.1L94.4 653.9L91.8 661.9L89.8 668.9L87.9 677.1L65.1 785.4L62.7 798.4L61.6 807.1L61.2 816.1L61.6 821.9L62.2 824.1L63 825.8L64.8 828.3L66.8 830.4L68.9 832.1L71.2 833.2L74.8 834.3L79.2 835.2L85.5 836.1L91.8 836.7L108.2 837.2L216.7 837.1Z"/><path fill="#b8ff00" d="M222.4 836.4L230.8 835.8L239.6 834.6L245.2 833.3L247.5 832.5L249.3 831.6L251.3 830.1L253.1 828.4L254.7 826.4L255.9 824.1L256.6 822.4L257 820.2L257.3 814.4L257.1 808.6L256.5 802.9L254.4 790.1L231.6 681.1L228.9 669.6L226.4 660.9L223.4 652.1L222 648.7L220.8 646.3L218.8 643.4L216.2 641L212.8 638.5L209.8 637L206.2 636L201.5 635.1L187.5 633.7L181 633.4L168.8 633.2L147.5 633.2L134 633.6L122.8 634.5L115.8 635.4L110.7 636.6L108.5 637.4L106.6 638.4L103.5 640.5L100.8 643.1L99 645.4L97.2 648.6L94.9 654.4L92.3 662.4L90.3 669.4L88.4 677.6L65.7 785.9L63.3 798.6L62.2 807.6L61.9 816.4L62.1 819.4L62.5 821.9L63.1 823.6L64.1 825.6L65.8 828L67.8 830L70 831.6L72.5 832.8L76 833.9L80.2 834.7L86.5 835.6L92.5 836.1L110 836.6L210.5 836.6L222.4 836.4Z"/><path fill="#a3ff00" d="M220.2 835.9L229 835.4L238.2 834.2L244.1 832.9L246.5 832L248.2 831.1L250.2 829.7L252 828.1L253.6 826.1L254.8 824.1L255.7 821.9L256.2 819.9L256.6 817.1L256.7 814.1L256.4 808.4L255.9 802.6L253.8 790.1L231.1 681.6L228.4 670.1L226.3 662.6L223.2 653.4L220.5 647.3L218.5 644.4L215.8 641.7L212.6 639.4L209.2 637.6L206 636.6L201.5 635.7L196.2 635.1L188.2 634.4L181.5 634L169.2 633.8L147.5 633.8L134.2 634.1L123.2 635L116.5 635.9L111.5 637.1L109.4 637.9L107.5 638.9L104.2 641L101.5 643.5L99.5 646L97.8 649.1L95.5 654.6L93 662.4L91 669.4L89.1 677.1L66.4 785.4L63.9 798.6L62.9 807.1L62.6 815.6L62.8 818.4L63.2 820.9L63.8 822.9L64.8 824.9L66.5 827.3L68.5 829.3L71 831.1L73.5 832.3L76.8 833.3L80.8 834.2L86.8 835L92.5 835.6L108.8 836L208.8 836L220.2 835.9Z"/><path fill="#8dff00" d="M218.6 835.4L228.2 834.9L237.5 833.7L243.1 832.4L245.2 831.6L247.5 830.4L249.5 829.1L251.2 827.5L252.8 825.6L254 823.6L254.8 821.6L255.5 819.1L255.8 816.6L256 813.6L255.8 808.1L255.3 802.6L253.2 789.9L230.6 681.9L227.9 670.4L225.9 663.1L222.8 653.9L220.1 648.1L218 645.1L215 642.2L211.8 639.8L208.3 638.1L205 637.1L200.8 636.3L188 634.9L181.5 634.5L169.2 634.3L147.5 634.3L134.2 634.7L123.5 635.6L116.8 636.6L111.8 637.8L108 639.5L104.9 641.6L102.1 644.1L100 646.7L98.2 649.7L96 655.1L93.4 662.9L91.5 669.4L89.6 677.4L66.9 785.6L64.5 798.6L63.5 806.9L63.3 815.1L63.9 819.9L64.7 822.4L65.6 824.4L67.4 826.9L69.4 828.9L71.8 830.5L74.6 831.9L77.8 832.8L81.5 833.6L87.2 834.5L92.8 835L108.8 835.5L218.6 835.4Z"/><path fill="#77ff00" d="M217.1 834.9L227 834.4L235.8 833.3L242 831.9L246.8 829.8L248.5 828.6L250.3 827.1L251.8 825.4L253 823.3L253.9 821.1L254.7 818.4L255.1 815.9L255.2 813.1L255.1 807.9L254.7 802.4L252.6 789.9L230.1 682.1L227.5 670.9L225.6 664.1L222.5 655.1L220 649.6L217.9 646.4L215.1 643.4L212 641L208.5 639.1L205 637.9L201 637L196.2 636.3L188.5 635.5L181.8 635.1L169.8 634.8L147.8 634.9L134.5 635.2L124.4 636.1L117.5 637.1L112.6 638.4L108.5 640.2L105.3 642.4L102.6 644.9L100.4 647.6L98.5 650.9L96.3 656.1L93.8 663.7L92 669.9L90.1 677.9L67.3 786.1L65 798.6L64.1 806.9L64 814.6L64.3 817.1L64.8 819.6L65.5 821.9L66.5 823.9L68.2 826.4L70.2 828.3L72.6 829.9L75.8 831.4L78.8 832.3L82.3 833.1L87.8 833.9L93.2 834.5L108.8 834.9L217.1 834.9Z"/><path fill="#62ff00" d="M215.7 834.4L226 833.9L234.5 832.9L238.2 832.1L240.8 831.4L243.8 830.2L246.2 829L248 827.8L249.8 826.2L251.1 824.6L252.3 822.6L253.2 820.4L253.9 817.6L254.4 814.9L254.5 812.1L254.4 807.1L254.1 802.1L252 789.6L229.5 682.1L226.9 671.1L225.2 665.1L222.2 656.3L219.8 650.8L217.6 647.4L215.2 644.6L212.1 642.1L208.8 640.1L205 638.7L200.8 637.6L196 636.9L188.8 636.1L181.8 635.6L170 635.4L147.8 635.4L134.8 635.7L126 636.5L118.6 637.6L113.2 639L109.1 640.9L105.8 643.1L103.1 645.6L100.9 648.4L98.8 652.1L96.8 656.8L94 664.9L92.4 670.4L90.5 678.4L68 785.7L65.7 798.4L64.8 806.1L64.7 813.6L65.6 818.9L66.4 821.4L67.2 823.2L68.9 825.6L70.9 827.6L73.2 829.1L76.2 830.6L79.8 831.8L83.2 832.6L88.2 833.4L93.5 834L108.8 834.4L215.7 834.4Z"/><path fill="#4cff00" d="M213.8 833.9L224.8 833.5L232.8 832.5L236.8 831.7L239.8 830.8L242.8 829.7L245.5 828.3L247.3 827.1L249 825.6L250.4 823.9L251.5 822L252.4 819.6L253.1 816.9L253.6 813.9L253.8 810.9L253.8 806.4L253.4 801.6L251.4 789.4L228.9 682.1L226.4 671.1L224.8 665.4L221.8 657L219.4 651.9L217.1 648.1L214.8 645.4L212 643L208.8 641.1L205 639.6L200.2 638.3L195.5 637.5L188.4 636.6L181.8 636.2L170 635.9L147.8 635.9L135 636.3L127.2 637L119.8 638.1L114.1 639.6L109.8 641.4L106.5 643.6L103.8 646.1L101.5 649L99.2 653L97.2 657.5L94.7 664.6L93.1 670.1L91.2 678.1L68.5 786L66.2 798.3L65.5 805.6L65.5 812.5L65.8 815.4L66.4 818.1L67.1 820.6L68 822.6L69.5 824.9L71.5 826.8L73.8 828.4L76.8 829.8L80.4 831.1L84.5 832.1L89 832.9L94 833.4L109 833.9L213.8 833.9Z"/><path fill="#36ff00" d="M206.5 833.4L219.8 833.1L228.2 832.5L232.3 831.9L236.8 830.8L240 829.8L242.8 828.7L245.2 827.4L247 826.1L248.6 824.6L250 822.7L251 820.6L251.9 817.9L252.5 815.1L252.9 811.9L253.1 807.1L252.8 802.1L252.3 797.9L250.9 789.9L228.5 682.9L226 672.1L224.5 666.7L222 659.6L219.5 653.9L217.2 649.9L215 646.9L212.3 644.4L209.2 642.3L205.8 640.7L201 639.3L195.5 638.2L189 637.3L182.2 636.7L170.8 636.5L148 636.5L135.5 636.8L128 637.5L120.8 638.7L115.2 640.1L110.8 641.9L107.5 643.9L104.7 646.4L102.5 649.1L100.1 653.1L97.8 658.3L95.2 665L93.7 670.1L91.8 678.1L69.2 785.2L67 797.4L66.2 804.9L66.3 811.9L67.1 817.4L67.8 819.6L68.7 821.9L70.2 824.1L72 826L74.4 827.6L77.2 829L81 830.4L85.7 831.6L89.9 832.4L94.2 832.8L108.8 833.3L206.5 833.4Z"/><path fill="#21ff00" d="M218.1 832.6L226.8 832L230.2 831.5L234.5 830.5L238.2 829.5L241.2 828.4L243.8 827.1L246.1 825.6L247.5 824.3L248.9 822.6L249.9 820.6L250.8 818.4L251.4 815.9L251.9 813.1L252.3 805.6L251.8 798.9L249.8 787.6L227.2 679.9L225 670.6L223.5 665.7L220.3 657.6L217.8 652.4L215.5 648.9L213.3 646.4L210.6 644.1L207.5 642.4L203.5 640.8L198.8 639.6L191.5 638.3L185.5 637.5L178.5 637.2L169 637L147.5 637L134.8 637.5L128 638.2L119.8 639.7L114.5 641.2L110.2 643.1L107.2 645.1L104.7 647.6L102.4 650.9L100.2 654.9L97.2 661.6L95.2 667.1L94 671.4L91.8 680.8L69.8 785.7L67.8 796.7L67.2 800.4L67 804.1L67.2 811.9L67.6 814.9L68.1 817.4L68.9 819.9L69.9 821.9L71.3 823.9L73.1 825.6L75.5 827.2L78.5 828.6L82.2 829.9L87.2 831.1L91.2 831.9L95.8 832.3L110 832.8L207.5 832.8L218.1 832.6Z"/><path fill="#0bff00" d="M214.3 832.1L224.1 831.6L231.2 830.5L235.7 829.4L239 828.3L242 827L244.5 825.5L246.2 824.1L247.6 822.6L248.7 820.9L249.7 818.6L250.4 816.1L250.9 813.4L251.4 806.4L251.4 802.6L251.1 799.1L249.2 787.9L227 681.6L224.5 671.4L223.2 667.1L220.3 659.6L217.4 653.6L215.2 650.1L212.8 647.1L210.2 645L207.2 643.2L203.2 641.6L198.6 640.4L191 638.9L184.8 638.1L177.5 637.8L169 637.6L147.5 637.6L135.2 638.1L128.2 638.9L120 640.5L115 642L110.8 643.8L108 645.7L105.5 648.1L103.1 651.4L100.8 655.4L98 661.8L95.8 667.6L94.7 671.4L92.5 680.3L70.5 785.2L68.5 796.1L68 799.9L67.8 803.4L68 810.9L68.3 813.9L68.9 816.6L69.7 819.1L70.8 821.3L72 823.1L73.8 824.9L76.2 826.5L79.2 827.9L82.8 829.1L87.8 830.4L92 831.2L96.2 831.7L109.5 832.2L214.3 832.1Z"/><path fill="#00ff0b" d="M216.2 831.4L225 830.8L232.2 829.4L236.5 828.2L239.5 827.1L242.1 825.9L244.4 824.4L245.8 823.1L247 821.6L248.2 819.4L249.1 817.1L250.2 812.1L250.6 804.9L250.3 798.6L248.5 787.6L226.2 681.4L223.8 671.6L222.4 667.1L219.8 660.4L216.7 654.1L214.5 650.6L212 647.6L209.5 645.5L206.5 643.9L202.7 642.4L198 641L190.5 639.6L184.2 638.8L169 638.3L147.8 638.3L135.5 638.8L128.5 639.6L120.2 641.3L115.2 642.8L111 644.7L108.3 646.6L106 648.9L103.5 652.4L101.3 656.4L98.5 662.6L96.4 668.1L95.1 672.6L93 681.3L71.5 783.8L69.5 794.4L68.6 801.9L68.6 805.4L68.7 809.1L69.1 812.9L69.7 815.6L70.5 818.3L71.6 820.6L72.9 822.6L74.8 824.3L77.1 825.9L80 827.2L83.5 828.4L88.5 829.8L92.8 830.6L96.8 831L109.8 831.5L205.2 831.5L216.2 831.4Z"/><path fill="#00ff21" d="M216.7 830.6L225 830L232 828.6L236 827.4L238.9 826.4L241.4 825.1L243.6 823.6L245.2 822.1L246.2 820.8L247.3 818.9L248.2 816.5L248.9 814.1L249.3 811.4L249.8 804.1L249.4 798.4L247.7 787.4L225.5 681.4L223 671.6L221.7 667.4L219.1 660.9L216 654.6L213.8 651.1L211.2 648.2L208.8 646.1L205.8 644.5L202 643L197.5 641.8L190.2 640.3L184 639.5L169.2 639L147.5 639L135.5 639.5L128.5 640.4L120.5 642.1L115.5 643.6L111.5 645.5L108.8 647.4L106.5 649.8L104.2 652.9L102 656.9L99.2 662.9L97.2 668.1L95.9 672.9L93.7 681.4L72.2 783.9L70.4 793.9L69.5 801.4L69.4 804.9L69.6 808.4L70 812.1L70.5 814.9L71.3 817.6L72.4 819.9L73.7 821.9L75.5 823.5L77.8 825.1L80.5 826.4L84 827.7L88.8 829L93 829.8L97 830.3L110.2 830.8L206.5 830.8L216.7 830.6Z"/><path fill="#00ff36" d="M217 829.9L224.8 829.2L231.5 827.9L235.6 826.6L238.2 825.6L240.6 824.4L242.8 822.9L244.2 821.5L245.5 819.9L246.6 817.9L247.5 815.6L248.1 813.1L248.6 809.9L249 803.4L248.6 798.1L246.8 787.1L224.7 681.4L222.2 671.7L221 667.6L218.5 661.6L215.5 655.5L213.2 652L210.8 649.1L208.4 647.1L205.4 645.4L201.7 643.9L197.4 642.6L190.2 641.1L184.2 640.3L169.5 639.7L147.5 639.7L135.8 640.2L129 641.1L121.2 642.7L116.5 644.2L112.4 646.1L109.8 647.9L107.2 650.4L104.8 653.6L102.7 657.4L100 663.1L98 668.4L96.5 673.4L94.5 681.4L73 784L71.3 793.4L70.3 800.9L70.4 807.4L70.8 811.1L71.3 814.1L72.2 816.9L73.2 819.1L74.6 821.1L76.4 822.9L78.6 824.4L81.2 825.7L85 827.1L89.2 828.3L93.2 829.1L97.2 829.5L104.5 830L110.8 830.1L207.2 830.1L217 829.9Z"/><path fill="#00ff4c" d="M203.3 829.4L214.5 829.2L224.5 828.5L228 827.9L231.8 826.9L235.8 825.5L238.5 824.4L240.6 823.1L242.5 821.6L244 819.9L245.4 817.9L246.3 815.9L247 813.4L248 806.9L248.1 803.1L248 799.4L246.2 788L224.3 683.4L222.8 676.9L220.9 669.9L219.3 665.4L217.2 660.8L214.8 656.1L212.5 652.6L210 649.7L207.2 647.5L203.8 645.6L199.8 644.1L193.5 642.6L187.5 641.4L182.2 640.9L171 640.5L148 640.5L136.8 640.9L131 641.5L124.8 642.8L119 644.3L114.8 646L111.5 647.8L109 649.9L106.5 652.9L104.3 656.4L101.4 662.1L99.2 667.4L97.9 671.4L95.8 679.4L74.8 779.3L72.2 792L71.2 799.9L71.1 805.6L71.5 809.1L72 812.6L72.7 815.1L73.6 817.4L75 819.6L76.7 821.6L78.8 823.2L81.2 824.6L84.8 826L89.1 827.4L93 828.2L97 828.7L109.8 829.3L203.3 829.4Z"/><path fill="#00ff62" d="M205.5 828.6L215.8 828.4L224.8 827.6L228.2 826.9L231.8 825.9L235.5 824.6L238.1 823.4L240 822.1L241.8 820.6L243.4 818.6L244.7 816.6L245.5 814.6L246.2 812.1L246.8 808.6L247.2 805.4L247.3 802.1L247.1 798.9L245.4 787.6L223.5 683.1L222 676.8L220.1 669.9L218.5 665.6L216.5 661.3L214 656.6L211.6 653.1L209.1 650.4L206 648L202.8 646.3L198.8 644.8L192.5 643.2L186.8 642.1L181.2 641.6L170.8 641.2L147.8 641.2L136.8 641.7L131.2 642.3L125.2 643.5L119.5 645.1L115.2 646.8L112.3 648.6L109.5 650.9L107.2 653.6L104.9 657.1L102 662.7L99.9 667.6L98.7 671.4L96.5 679.6L75.5 779.5L73.1 791.6L72.1 799.4L72 804.9L72.3 808.4L73 812.1L73.7 814.6L74.5 816.6L75.9 818.9L77.7 820.9L79.5 822.4L82 823.8L85.7 825.4L89.7 826.6L93.5 827.5L97.2 828L110 828.6L205.5 828.6Z"/><path fill="#00ff77" d="M216 827.6L223.2 827L229 825.8L232.5 824.7L235.7 823.4L237.9 822.1L239.6 820.9L241.2 819.4L242.6 817.6L243.8 815.7L244.6 813.9L245.3 811.4L246 807.9L246.4 801.9L245.8 795.6L244.4 787.1L222.4 681.9L220.6 674.6L218.9 668.9L216.9 664.1L214.2 659L212 655.3L209.8 652.5L207 650.1L203.8 647.9L200.2 646.3L195.6 644.9L190 643.5L184.8 642.6L177.2 642.2L170 642L147.5 642L136 642.5L130.5 643.2L124.5 644.6L119.2 646.2L115.2 648L112 650.2L109.2 652.8L107 655.6L104.8 659.3L102.2 664.2L100.4 668.6L99 673.2L97.1 680.6L76 781.1L74 791.6L72.9 799.4L72.9 804.9L73.3 808.4L74 811.7L74.7 814.1L75.7 816.1L77 818.1L78.8 820.1L80.8 821.8L83 823.1L86.5 824.6L90.3 825.9L94.2 826.7L98 827.2L104.8 827.7L110.5 827.8L207 827.8L216 827.6Z"/><path fill="#00ff8d" d="M214.9 826.9L222.8 826.2L228.1 825.1L231.2 824.1L234.5 822.7L236.5 821.6L238.5 820.1L240.1 818.6L241.5 816.9L242.6 815.1L243.5 813.1L244.4 810.4L245 807.4L245.3 804.6L245.5 801.6L244.9 795.1L243.6 786.9L221.7 682.4L220.2 676.4L218.3 669.9L216.7 665.9L214.5 661.4L212 657.2L209.8 654.2L207 651.6L203.8 649.2L200.2 647.4L196 645.9L190.5 644.5L185.5 643.6L178.2 643L170.5 642.7L147.5 642.8L136.2 643.3L131.2 643.9L126 645.1L120.4 646.9L116.5 648.6L113.2 650.7L110.2 653.4L108 656.1L105.5 660L103 664.6L101.2 668.9L99.8 673.6L98 680.3L77.2 779.1L74.9 791.1L73.8 799.1L73.8 804.1L74.2 807.4L74.8 810.4L75.6 812.9L76.6 815.1L78.1 817.4L79.8 819.3L81.8 820.9L84.1 822.4L87.4 823.9L91.1 825.1L94.8 826L98.5 826.4L104.8 826.9L110.5 827L205.8 827L214.9 826.9Z"/><path fill="#00ffa3" d="M213.3 826.1L221.8 825.5L226.8 824.5L229.5 823.6L232.5 822.4L235 821L237 819.6L238.7 818.1L240.2 816.4L241.3 814.6L242.3 812.6L243.2 810L243.9 807.4L244.3 804.6L244.5 801.6L244 795.4L242.7 787.1L220.9 682.6L219.5 677.1L217.6 670.4L216.2 666.9L214.4 663.1L211.8 658.8L209.5 655.8L206.8 652.9L203.7 650.6L200 648.5L195.8 646.9L190.5 645.4L185.8 644.4L178.8 643.8L170.8 643.6L147.2 643.6L136.7 644.1L132 644.7L126.8 645.9L121.5 647.6L117.6 649.4L114.2 651.5L111.2 654.1L108.6 657.1L106 661.1L103.8 665.2L102 669.3L98.9 680.4L78 779.7L75.8 791.1L74.8 799.1L74.8 803.9L75.1 806.6L75.8 809.4L76.7 812.1L77.7 814.4L79.2 816.6L81 818.6L83.2 820.4L85.7 821.9L89 823.3L92.2 824.4L95.8 825.2L99.5 825.7L110.8 826.2L203.2 826.2L213.3 826.1Z"/><path fill="#00ffb8" d="M210.3 825.4L220.2 824.7L225 823.9L227.7 823.1L230.2 822.1L232.6 820.9L235.2 819.2L237 817.8L238.6 816.1L239.8 814.4L240.9 812.4L242 809.6L242.8 807.1L243.3 804.4L243.5 801.6L243.5 798.9L243.1 795.1L241.8 786.9L220 682.9L218.7 677.6L216.8 671.1L215.7 668.1L214.2 665L212 661.1L209 657.1L206.2 654.2L203.3 651.9L199.9 649.9L195.3 647.9L190.6 646.4L185.8 645.4L178.8 644.7L171.2 644.4L147.8 644.4L138.8 644.8L133.5 645.3L128.6 646.4L123.8 647.9L118.8 650.1L115.2 652.3L112.2 654.8L109.8 657.6L106.8 661.9L104.6 665.6L103 669.4L101.5 674L99.8 680.4L79.2 778L76.8 790.6L75.8 798.6L75.8 803.1L76.1 805.6L76.7 808.1L78.7 813.1L80.2 815.6L82 817.6L84.2 819.4L87 821.1L90 822.5L93 823.6L96.2 824.3L99.8 824.8L110.8 825.4L210.3 825.4Z"/><path fill="#00ffce" d="M212.7 824.4L221 823.6L225.5 822.7L227.8 821.9L230.2 820.7L235 817.6L236.6 816.1L238 814.4L239.1 812.6L240.2 810.3L241.2 807.7L241.9 805.4L242.3 802.9L242.5 800.4L241.9 793.9L240.8 786.9L219 682.9L217.8 677.6L215.9 671.4L214.9 668.6L213.5 665.8L211.2 662.1L208 657.9L205.3 655.1L202.5 652.9L199.1 650.9L194 648.6L189.8 647.2L185.5 646.3L178.5 645.6L171.5 645.3L147.8 645.3L139.5 645.7L134 646.2L129.5 647.1L124.8 648.7L119.5 651.1L116 653.3L113.1 655.9L110.2 659L107.2 663.1L105.3 666.6L103.8 669.9L100.7 680.4L80.2 777.8L77.8 790.4L76.8 798.6L76.8 802.6L77.2 805.1L77.8 807.4L79.9 812.4L81.5 814.8L83.4 816.9L85.8 818.7L89 820.7L91.8 822L94.8 823L97.8 823.6L101.8 824L111.2 824.5L203.5 824.5L212.7 824.4Z"/><path fill="#00ffe4" d="M213.1 823.4L220.8 822.6L225 821.6L229.5 819.5L234 816.4L235.6 814.9L237 813.1L239.3 808.9L240.2 806.4L240.9 804.1L241.2 801.9L241.3 799.6L240.8 792.9L239.8 786.6L218.1 683.1L216.8 677.8L214.9 671.6L213.9 669.1L212.8 666.7L210.5 663.1L207.8 659.6L205 656.6L201.9 654.1L198.2 651.9L193.5 649.6L189.2 648.1L185.2 647.2L178.5 646.6L171.8 646.3L147.8 646.3L140.3 646.6L134.5 647.2L130.2 648L125.5 649.7L120.5 652.1L117.2 654.1L114.2 656.6L111 660.1L108 664.1L106.2 667.1L104.8 670.4L101.8 680.4L78.9 789.6L77.9 798.1L78 801.9L78.3 804.1L79 806.5L81 811.1L82.6 813.6L84.5 815.8L87.2 818L90.2 819.9L93 821.2L95.9 822.1L98.5 822.6L102.9 823.1L108 823.5L113 823.5L205.2 823.5L213.1 823.4Z"/><path fill="#00fffa" d="M212.1 822.4L220 821.5L223.5 820.7L225.8 819.9L227.9 818.9L232 816L233.8 814.4L235.2 812.7L237.9 808.4L238.8 806.1L239.5 803.9L240 801.4L240.1 799.1L239.6 792.9L238.7 786.9L217 683.2L216 679.1L214.5 674.1L213.3 670.6L212.1 668.1L210 664.6L207.5 661.3L204.2 657.9L201.2 655.4L197.2 652.9L193.2 650.9L189.2 649.4L185.2 648.4L178.8 647.6L172.5 647.3L148 647.3L143.2 647.4L135.5 648.1L132.2 648.7L127.8 650.1L123.2 652.2L119.1 654.6L116.1 656.9L112.8 660.1L109.8 663.8L107.7 666.9L106.1 670.1L104.5 674.7L103 679.8L80.1 788.9L79.3 795.6L79.2 800.6L80 804.9L81.7 809.1L83.5 812.1L85.2 814.2L88 816.6L90.8 818.5L93.5 819.9L96.5 821L99 821.5L103.5 822.1L112.2 822.5L203.8 822.5L212.1 822.4Z"/><path fill="#00efff" d="M208.1 821.4L214.5 820.9L221.2 820L225.2 818.6L228.9 816.4L231.1 814.6L233.1 812.6L234.6 810.6L236.1 808.4L237.2 806.1L238 803.8L238.5 801.4L238.7 799.1L238.3 792.6L237.5 786.9L215.8 683.4L214 676.6L212.3 671.6L211.3 669.4L209.5 666.1L207 662.9L204 659.7L200.8 656.9L197 654.3L193 652.2L189.2 650.7L185.5 649.7L179 648.8L173 648.5L145 648.5L139.2 648.9L133.5 649.7L129.8 650.7L125.8 652.4L121.8 654.6L118 657.2L114.5 660.4L111.4 663.9L109.2 666.9L107.5 670.1L105.9 674.4L104.4 679.4L103.2 684L81.5 788.1L80.8 793.9L80.5 799.6L81.1 803.4L82.5 807.1L84.1 809.9L86.1 812.6L88.7 815.1L91.3 817.1L94 818.6L96.8 819.6L99.2 820.2L103.8 820.9L111.8 821.4L208.1 821.4Z"/><path fill="#00d9ff" d="M202.7 820.1L210.5 820L218 819.1L222 818.3L225.8 816.6L227.9 815.1L229.9 813.4L232.5 810.4L234 808.4L235.4 806.1L236.3 803.9L236.9 801.6L237.2 799.4L237.1 795.1L236.7 790.6L235 781.4L214.3 682.9L212.8 677.1L210.4 670.6L208.8 667.5L206.5 664.4L203.8 661.5L200.5 658.7L196.7 655.9L193 653.7L189.3 652.1L185.8 651.1L179.2 650.2L173.2 649.7L146 649.7L140.5 650.1L134.2 650.9L131 651.7L127.8 653L124 654.9L120.1 657.6L116 661L112.8 664.4L110.7 667.1L109 670.1L107.3 674.6L105.8 679.3L104.7 683.4L82.9 787.6L82.2 793.1L82 799.1L82.4 802.4L83.5 805.4L85 808.1L86.9 810.6L89.6 813.6L92.4 815.9L94.9 817.4L97.5 818.4L99.5 818.9L104.2 819.6L112 820.1L202.7 820.1Z"/><path fill="#00c3ff" d="M210.2 818.6L215.5 818L220.5 817.1L223.8 815.8L226.8 813.8L228.5 812.1L230.8 809.6L232.5 807.4L233.6 805.6L234.6 803.6L235.2 801.6L235.6 799.6L235.6 797.6L235.3 791.6L234.6 786.6L213 683.4L211.2 677.1L208.6 670.1L206.7 667.1L204.2 664.1L201.5 661.5L197.2 658.2L194.2 656.1L191 654.4L188 653.1L185 652.4L178.5 651.5L173.2 651.1L145.5 651.1L140.2 651.5L134 652.4L130.8 653.3L127.5 654.7L123.8 656.9L119.5 660.1L116.2 662.9L113.4 665.9L111.6 668.4L110.3 670.9L108.5 675.6L107 680.1L84.4 787.6L83.8 792.9L83.6 798.9L84 801.9L85.2 805L87 807.8L89.8 811.1L92 813.4L94.3 815.1L96.6 816.4L99 817.2L106.5 818.4L114 818.7L202.2 818.7L210.2 818.6Z"/><path fill="#00aeff" d="M209.9 817.1L215 816.5L220 815.5L223 814.2L225.8 812.1L229.8 807.9L231.5 805.5L232.6 803.6L233.3 801.9L233.8 799.9L233.9 795.4L233.7 790.9L233 786.6L211.4 683.1L209.7 677.4L207 670.6L205.3 667.9L203.2 665.4L200.6 662.9L197 660L193.7 657.6L190.8 655.9L187.8 654.7L185 653.9L178.8 653L173.5 652.6L145.5 652.6L140.2 653L134 654L131.2 654.7L128.2 656L125 657.9L120.7 661.1L117 664.3L114.5 667L113 669.1L111.8 671.4L109.8 676.4L108.5 680.6L86 787.5L85.4 792.6L85.3 798.6L85.8 801.3L86.8 803.9L88.3 806.4L90.9 809.6L93.5 812.2L95.7 813.9L97.8 814.9L99.8 815.6L107.5 816.9L111.2 817.2L115.8 817.2L203.2 817.2L209.9 817.1Z"/><path fill="#0098ff" d="M207.1 815.6L212.6 815.1L218.8 813.9L221.5 812.8L224.3 810.9L226.2 809L228 807L229.6 804.9L230.8 802.6L231.5 800.9L231.9 799.4L232 794.4L231.8 790.4L231.3 786.6L209.6 683.1L208 677.6L205.3 671.1L203.8 668.6L201.6 666.1L198.5 663.2L195 660.5L191.8 658.4L188.8 656.9L186.2 656L183 655.3L178 654.5L173.5 654.2L145.2 654.2L140.2 654.6L134.2 655.7L131.8 656.3L129.2 657.4L125.8 659.4L122 662.1L118.6 665.1L116 667.9L114.7 669.6L113.6 671.6L111.6 676.6L110.2 680.9L87.8 787.4L87.2 792.4L87.2 798.1L87.6 800.6L88.5 802.9L90.1 805.6L92.2 808.3L94.6 810.6L97 812.4L98.8 813.3L100.5 813.9L104.8 814.8L108.5 815.3L113.2 815.6L207.1 815.6Z"/><path fill="#0082ff" d="M209.6 813.6L214.5 812.8L219.2 811.5L222.3 809.9L225.2 807.2L227.8 803.9L228.7 802.1L229.4 800.4L229.9 797.4L230 791.9L229.3 786.4L207.7 683.1L206 677.6L203.3 671.4L201.7 668.9L199.2 666.1L196.1 663.4L192.8 660.9L190 659.4L187.2 658.2L179.9 656.6L173.2 656L144.2 656L139.3 656.6L133.5 657.8L131.2 658.5L128.8 659.6L125.5 661.6L122.5 663.8L119.7 666.4L117.5 668.9L116.1 671.1L114.5 674.4L112.9 678.4L111.8 681.9L89.7 787.4L89.2 792.4L89.3 797.9L89.8 800.4L90.8 802.9L92.4 805.4L94.2 807.5L96.3 809.4L98.5 810.9L100.5 811.7L103 812.4L106.8 813.2L110.2 813.7L114.8 813.8L198.5 813.8L206.2 813.8L209.6 813.6Z"/><path fill="#006dff" d="M208.8 811.6L213.8 810.8L218.8 809.4L221.5 807.8L224 805.6L226.1 802.6L227.3 799.6L227.7 795.4L227.7 790.6L227.2 786.4L205.5 683.1L203.9 677.9L200.9 671.4L199.3 668.9L197 666.4L194.2 664L191.2 662L189 660.9L186.8 660.1L182 659L178 658.3L173.2 658L143.8 658.1L139 658.7L133 659.9L130.8 660.7L128.5 661.7L125.9 663.4L123.3 665.4L121.2 667.4L119.4 669.6L118.1 671.6L116 676.1L114.8 679.4L113.8 682.4L91.8 787.4L91.4 792.1L91.6 797.9L92 800.1L93.1 802.6L94.4 804.6L96 806.4L97.8 807.9L99.8 809.1L101.5 809.8L105.5 810.8L111.5 811.7L201.8 811.8L208.8 811.6Z"/><path fill="#0057ff" d="M206.9 809.6L211.8 808.9L217.5 807.5L219.8 806.4L222 804.5L223.8 802.1L224.9 799.4L225.4 794.9L225.4 790.4L224.9 786.4L203.3 683.1L201.6 677.9L198.7 671.6L197.2 669.4L195.2 667.2L192.8 665.2L190.2 663.6L188.2 662.7L186.5 662.1L181.5 661L177.5 660.4L173.8 660.1L143.5 660.2L139.5 660.7L134.8 661.6L131.5 662.5L129 663.6L126.8 664.9L124.6 666.6L122.8 668.5L121.3 670.4L118 676.9L116.9 679.9L116.1 682.6L94.2 787.1L93.7 791.4L93.9 796.1L94.3 799.4L95.2 801.9L96.2 803.4L97.5 804.9L99.1 806.1L100.8 807.1L102.2 807.6L106.5 808.7L112.2 809.6L206.9 809.6Z"/><path fill="#0041ff" d="M207.2 807.4L211.8 806.6L216.8 805.2L218.8 804.1L220.5 802.6L221.8 800.6L222.5 798.6L223.1 793.9L223 789.6L222.6 786.4L200.9 683.1L199.2 677.9L196.3 671.9L194.9 669.9L193.2 668.1L191.3 666.6L189.2 665.4L187.2 664.6L183.5 663.6L180 662.9L176.8 662.4L174 662.3L143.2 662.4L139.5 662.8L135.5 663.6L131.8 664.7L129.2 665.7L126 668.1L124.5 669.6L123.4 671.1L120.2 677.4L119.1 680.1L118.3 682.9L96.5 787.1L96.1 790.6L96.2 794.6L96.7 798.6L97.5 800.9L98.3 802.1L99.5 803.4L100.8 804.3L102 805L107.8 806.7L113.2 807.4L203.2 807.5L207.2 807.4Z"/><path fill="#002bff" d="M205.2 805.1L208.8 804.7L212.5 803.7L216.2 802.3L218 801L219.2 799.4L219.9 797.1L220.4 793.1L220.4 789.1L220 786.2L198.4 683.1L197.2 679.4L195.2 675.1L192.5 670.8L191 669.3L189.3 668.1L187.7 667.4L183.8 666.1L180.5 665.3L177.5 664.8L174.5 664.7L143 664.7L139.8 665.1L136.3 665.9L132.2 667.1L130 668L128.5 669L127.3 670.1L125.2 672.9L122.5 678.1L121.5 680.6L120.8 683.1L99 787.1L98.7 790.4L98.8 793.6L99.4 797.6L100.1 799.6L100.8 800.6L101.8 801.5L104.2 802.9L109.2 804.4L114 805.1L205.2 805.1Z"/><path fill="#0016ff" d="M204.3 802.4L207.2 802L210.3 801.1L212.9 799.9L214.8 798.4L216 796.6L216.9 794.1L217.4 791.4L217.4 788.4L217 785.9L195.5 683.4L194.7 680.6L193.3 677.6L192 675.5L190.5 673.6L189 672L187.8 671.1L185.5 669.9L183 668.9L180.2 668.1L177.5 667.6L175 667.4L143 667.5L140.5 667.7L137.8 668.4L135 669.3L132.7 670.4L130 672.2L127.3 675.4L125 679.4L123.8 683.1L102 786.9L101.8 789.4L101.9 792.1L102.4 794.6L103.3 796.9L104 797.9L104.9 798.9L107.5 800.5L111 801.8L114.8 802.3L204.3 802.4Z"/><path fill="#0000ff" d="M204.3 797.9L206 797.2L207.5 796.4L209.1 795.1L210.5 793.5L211.5 791.9L212.3 790.1L212.6 788.4L212.6 786.9L190.9 683.4L190 681.1L187.8 678.1L184.4 675.1L180.8 672.9L179 672.2L177.2 671.8L143 671.7L140.5 672.1L137.5 673.4L134.2 675.5L131.5 678L129.5 680.6L128.3 683.1L106.7 786.6L106.7 789.1L107.7 791.9L109.2 794.2L111.5 796.2L113.8 797.5L116.2 798.1L202.5 798.1L204.3 797.9Z"/></g><g clip-path="url(#clipf)"><polygon points="409.60,845.60 639.60,845.60 593.60,625.40 455.60,625.40" fill="#ff0000"/><path fill="#ff1600" d="M639.4 845.4L639.4 844.6L639.1 844.4L639.1 843.4L638.9 843.1L638.9 842.1L638.6 841.9L638.6 840.9L638.4 840.6L638.4 839.6L638.1 839.4L638.1 838.6L637.9 838.4L637.6 836.1L637.4 835.9L637.4 834.9L637.1 834.6L637.1 833.6L636.9 833.4L636.9 832.6L636.6 832.4L636.6 831.4L636.4 831.1L636.4 830.1L636.1 829.9L636.1 828.9L635.9 828.6L635.9 827.6L635.6 827.4L635.6 826.6L635.4 826.4L635.4 825.4L635.1 825.1L634.9 822.9L634.6 822.6L634.6 821.9L634.4 821.6L634.4 820.6L634.1 820.4L634.1 819.4L633.9 819.1L633.6 816.9L633.4 816.6L633.4 815.9L633.1 815.6L633.1 814.6L632.9 814.4L632.9 813.4L632.6 813.1L632.4 810.9L632.1 810.6L632.1 809.9L631.9 809.6L631.9 808.6L631.6 808.4L631.4 806.1L631.1 805.9L631.1 805.1L630.9 804.9L630.9 803.9L630.6 803.6L630.6 802.6L630.4 802.4L630.1 800.1L629.9 799.9L629.9 799.1L629.6 798.9L629.6 797.9L629.4 797.6L629.4 796.6L629.1 796.4L628.9 794.1L628.6 793.9L628.6 793.1L628.4 792.9L628.4 791.9L628.1 791.6L627.9 789.4L627.6 789.1L627.6 788.4L627.4 788.1L627.4 787.1L627.1 786.9L627.1 785.9L626.9 785.6L626.6 783.4L626.4 783.1L626.4 782.4L626.1 782.1L626.1 781.1L625.9 780.9L625.9 779.9L625.6 779.6L625.6 778.6L625.4 778.4L625.4 777.4L625.1 777.1L625.1 776.4L624.9 776.1L624.9 775.1L624.6 774.9L624.6 773.9L624.4 773.6L624.4 772.6L624.1 772.4L624.1 771.6L623.9 771.4L623.6 769.1L623.4 768.9L623.4 767.9L623.1 767.6L623.1 766.6L622.9 766.4L622.9 765.6L622.6 765.4L622.4 763.1L622.1 762.9L622.1 761.9L621.9 761.6L621.9 760.6L621.6 760.4L621.6 759.6L621.4 759.4L621.1 757.1L620.9 756.9L620.9 755.9L620.6 755.6L620.6 754.6L620.4 754.4L620.4 753.6L620.1 753.4L619.9 751.1L619.6 750.9L619.6 749.9L619.4 749.6L619.4 748.9L619.1 748.6L619.1 747.6L618.9 747.4L618.9 746.4L618.6 746.1L618.6 745.1L618.4 744.9L618.4 743.9L618.1 743.6L618.1 742.9L617.9 742.6L617.6 740.4L617.4 740.1L617.4 739.1L617.1 738.9L617.1 737.9L616.9 737.6L616.9 736.9L616.6 736.6L616.4 734.4L616.1 734.1L616.1 733.1L615.9 732.9L615.9 732.1L615.6 731.9L615.6 730.9L615.4 730.6L615.4 729.6L615.1 729.4L615.1 728.4L614.9 728.1L614.9 727.1L614.6 726.9L614.6 726.1L614.4 725.9L614.1 723.6L613.9 723.4L613.9 722.4L613.6 722.1L613.6 721.1L613.4 720.9L613.4 720.1L613.1 719.9L612.9 717.6L612.6 717.4L612.6 716.4L612.4 716.1L612.4 715.4L612.1 715.1L612.1 714.1L611.9 713.9L611.9 712.9L611.6 712.6L611.6 711.6L611.4 711.4L611.4 710.4L611.1 710.1L611.1 709.4L610.9 709.1L610.6 706.9L610.4 706.6L610.4 705.6L610.1 705.4L610.1 704.4L609.9 704.1L609.9 703.4L609.6 703.1L609.4 700.9L609.1 700.6L609.1 699.6L608.9 699.4L608.9 698.6L608.6 698.4L608.6 697.4L608.4 697.1L608.4 696.1L608.1 695.9L608.1 694.9L607.9 694.6L607.9 693.6L607.6 693.4L607.6 692.6L607.4 692.4L607.4 691.4L607.1 691.1L607.1 690.1L606.9 689.9L606.6 687.6L606.4 687.4L606.4 686.6L606.1 686.4L606.1 685.4L605.9 685.1L605.9 684.1L605.6 683.9L605.6 682.9L605.4 682.6L605.4 681.6L605.1 681.4L605.1 680.6L604.9 680.4L604.9 679.4L604.6 679.1L604.4 676.9L604.1 676.6L604.1 675.9L603.9 675.6L603.9 674.6L603.6 674.4L603.6 673.4L603.4 673.1L603.4 672.1L603.1 671.9L603.1 670.9L602.9 670.6L602.9 669.9L602.6 669.6L602.6 668.6L602.4 668.4L602.4 667.4L602.1 667.1L602.1 666.1L601.9 665.9L601.9 664.9L601.6 664.6L601.6 663.9L601.4 663.6L601.1 661.4L600.9 661.1L600.9 660.1L600.6 659.9L600.6 659.1L600.4 658.9L600.4 657.9L600.1 657.6L600.1 656.6L599.9 656.4L599.9 655.4L599.6 655.1L599.6 654.1L599.4 653.9L599.4 653.1L599.1 652.9L599.1 651.9L598.9 651.6L598.9 650.6L598.6 650.4L598.4 648.1L598.1 647.9L598.1 647.1L597.9 646.9L597.9 645.9L597.6 645.6L597.4 643.4L597.1 643.1L597.1 642.4L596.9 642.1L596.9 641.1L596.6 640.9L596.6 639.9L596.4 639.6L596.4 638.6L596.1 638.4L596.1 637.4L595.9 637.1L595.9 636.4L595.6 636.1L595.4 633.9L595.1 633.6L595.1 632.6L594.9 632.4L594.9 631.4L594.6 631.1L594.6 630.4L594.4 630.1L594.1 627.9L593.9 627.6L593.9 626.6L593.6 626.4L593.6 625.4L455.6 625.4L455.3 627.6L455.1 627.9L455.1 628.9L454.8 629.1L454.8 630.1L454.6 630.4L454.6 631.1L454.3 631.4L454.3 632.4L454.1 632.6L454.1 633.6L453.8 633.9L453.6 636.1L453.3 636.4L453.3 637.1L453.1 637.4L453.1 638.4L452.8 638.6L452.8 639.6L452.6 639.9L452.6 640.9L452.3 641.1L452.3 642.1L452.1 642.4L452.1 643.1L451.8 643.4L451.6 645.6L451.3 645.9L451.3 646.9L451.1 647.1L451.1 647.9L450.8 648.1L450.6 650.4L450.3 650.6L450.3 651.6L450.1 651.9L450.1 652.9L449.8 653.1L449.8 653.9L449.6 654.1L449.6 655.1L449.3 655.4L449.3 656.4L449.1 656.6L449.1 657.6L448.8 657.9L448.8 658.9L448.6 659.1L448.6 659.9L448.3 660.1L448.3 661.1L448.1 661.4L447.8 663.6L447.6 663.9L447.6 664.6L447.3 664.9L447.3 665.9L447.1 666.1L447.1 667.1L446.8 667.4L446.8 668.4L446.6 668.6L446.6 669.6L446.3 669.9L446.3 670.6L446.1 670.9L446.1 671.9L445.8 672.1L445.8 673.1L445.6 673.4L445.6 674.4L445.3 674.6L445.3 675.6L445.1 675.9L445.1 676.6L444.8 676.9L444.6 679.1L444.3 679.4L444.3 680.4L444.1 680.6L444.1 681.4L443.8 681.6L443.8 682.6L443.6 682.9L443.6 683.9L443.3 684.1L443.3 685.1L443.1 685.4L443.1 686.4L442.8 686.6L442.8 687.4L442.6 687.6L442.3 689.9L442.1 690.1L442.1 691.1L441.8 691.4L441.8 692.4L441.6 692.6L441.6 693.4L441.3 693.6L441.3 694.6L441.1 694.9L441.1 695.9L440.8 696.1L440.8 697.1L440.6 697.4L440.6 698.4L440.3 698.6L440.3 699.4L440.1 699.6L440.1 700.6L439.8 700.9L439.6 703.1L439.3 703.4L439.3 704.1L439.1 704.4L439.1 705.4L438.8 705.6L438.8 706.6L438.6 706.9L438.3 709.1L438.1 709.4L438.1 710.1L437.8 710.4L437.8 711.4L437.6 711.6L437.6 712.6L437.3 712.9L437.3 713.9L437.1 714.1L437.1 715.1L436.8 715.4L436.8 716.1L436.6 716.4L436.6 717.4L436.3 717.6L436.1 719.9L435.8 720.1L435.8 720.9L435.6 721.1L435.6 722.1L435.3 722.4L435.3 723.4L435.1 723.6L434.8 725.9L434.6 726.1L434.6 726.9L434.3 727.1L434.3 728.1L434.1 728.4L434.1 729.4L433.8 729.6L433.8 730.6L433.6 730.9L433.6 731.9L433.3 732.1L433.3 732.9L433.1 733.1L433.1 734.1L432.8 734.4L432.6 736.6L432.3 736.9L432.3 737.6L432.1 737.9L432.1 738.9L431.8 739.1L431.8 740.1L431.6 740.4L431.3 742.6L431.1 742.9L431.1 743.6L430.8 743.9L430.8 744.9L430.6 745.1L430.6 746.1L430.3 746.4L430.3 747.4L430.1 747.6L430.1 748.6L429.8 748.9L429.8 749.6L429.6 749.9L429.6 750.9L429.3 751.1L429.1 753.4L428.8 753.6L428.8 754.4L428.6 754.6L428.6 755.6L428.3 755.9L428.3 756.9L428.1 757.1L427.8 759.4L427.6 759.6L427.6 760.4L427.3 760.6L427.3 761.6L427.1 761.9L427.1 762.9L426.8 763.1L426.6 765.4L426.3 765.6L426.3 766.4L426.1 766.6L426.1 767.6L425.8 767.9L425.8 768.9L425.6 769.1L425.3 771.4L425.1 771.6L425.1 772.4L424.8 772.6L424.8 773.6L424.6 773.9L424.6 774.9L424.3 775.1L424.3 776.1L424.1 776.4L424.1 777.1L423.8 777.4L423.8 778.4L423.6 778.6L423.6 779.6L423.3 779.9L423.3 780.9L423.1 781.1L423.1 782.1L422.8 782.4L422.8 783.1L422.6 783.4L422.3 785.6L422.1 785.9L422.1 786.9L421.8 787.1L421.8 788.1L421.6 788.4L421.6 789.1L421.3 789.4L421.1 791.6L420.8 791.9L420.8 792.9L420.6 793.1L420.6 793.9L420.3 794.1L420.1 796.4L419.8 796.6L419.8 797.6L419.6 797.9L419.6 798.9L419.3 799.1L419.3 799.9L419.1 800.1L418.8 802.4L418.6 802.6L418.6 803.6L418.3 803.9L418.3 804.9L418.1 805.1L418.1 805.9L417.8 806.1L417.6 808.4L417.3 808.6L417.3 809.6L417.1 809.9L417.1 810.6L416.8 810.9L416.6 813.1L416.3 813.4L416.3 814.4L416.1 814.6L416.1 815.6L415.8 815.9L415.8 816.6L415.6 816.9L415.3 819.1L415.1 819.4L415.1 820.4L414.8 820.6L414.8 821.6L414.6 821.9L414.6 822.6L414.3 822.9L414.1 825.1L413.8 825.4L413.8 826.4L413.6 826.6L413.6 827.4L413.3 827.6L413.3 828.6L413.1 828.9L413.1 829.9L412.8 830.1L412.8 831.1L412.6 831.4L412.6 832.4L412.3 832.6L412.3 833.4L412.1 833.6L412.1 834.6L411.8 834.9L411.8 835.9L411.6 836.1L411.3 838.4L411.1 838.6L411.1 839.4L410.8 839.6L410.8 840.6L410.6 840.9L410.6 841.9L410.3 842.1L410.3 843.1L410.1 843.4L410.1 844.4L409.8 844.6L409.8 845.4L639.4 845.4Z"/><path fill="#ff2b00" d="M639.4 845.4L639.4 844.6L639.1 844.4L639.1 843.4L638.9 843.1L638.9 842.1L638.6 841.9L638.6 840.9L638.4 840.6L638.4 839.6L638.1 839.4L638.1 838.6L637.9 838.4L637.6 836.1L637.4 835.9L637.4 834.9L637.1 834.6L637.1 833.6L636.9 833.4L636.9 832.6L636.6 832.4L636.6 831.4L636.4 831.1L636.4 830.1L636.1 829.9L636.1 828.9L635.9 828.6L635.9 827.6L635.6 827.4L635.6 826.6L635.4 826.4L635.4 825.4L635.1 825.1L634.9 822.9L634.6 822.6L634.6 821.9L634.4 821.6L634.4 820.6L634.1 820.4L634.1 819.4L633.9 819.1L633.6 816.9L633.4 816.6L633.4 815.9L633.1 815.6L633.1 814.6L632.9 814.4L632.9 813.4L632.6 813.1L632.4 810.9L632.1 810.6L632.1 809.9L631.9 809.6L631.9 808.6L631.6 808.4L631.4 806.1L631.1 805.9L631.1 805.1L630.9 804.9L630.9 803.9L630.6 803.6L630.6 802.6L630.4 802.4L630.1 800.1L629.9 799.9L629.9 799.1L629.6 798.9L629.6 797.9L629.4 797.6L629.4 796.6L629.1 796.4L628.9 794.1L628.6 793.9L628.6 793.1L628.4 792.9L628.4 791.9L628.1 791.6L627.9 789.4L627.6 789.1L627.6 788.4L627.4 788.1L627.4 787.1L627.1 786.9L627.1 785.9L626.9 785.6L626.6 783.4L626.4 783.1L626.4 782.4L626.1 782.1L626.1 781.1L625.9 780.9L625.9 779.9L625.6 779.6L625.6 778.6L625.4 778.4L625.4 777.4L625.1 777.1L625.1 776.4L624.9 776.1L624.9 775.1L624.6 774.9L624.6 773.9L624.4 773.6L624.4 772.6L624.1 772.4L624.1 771.6L623.9 771.4L623.6 769.1L623.4 768.9L623.4 767.9L623.1 767.6L623.1 766.6L622.9 766.4L622.9 765.6L622.6 765.4L622.4 763.1L622.1 762.9L622.1 761.9L621.9 761.6L621.9 760.6L621.6 760.4L621.6 759.6L621.4 759.4L621.1 757.1L620.9 756.9L620.9 755.9L620.6 755.6L620.6 754.6L620.4 754.4L620.4 753.6L620.1 753.4L619.9 751.1L619.6 750.9L619.6 749.9L619.4 749.6L619.4 748.9L619.1 748.6L619.1 747.6L618.9 747.4L618.9 746.4L618.6 746.1L618.6 745.1L618.4 744.9L618.4 743.9L618.1 743.6L618.1 742.9L617.9 742.6L617.6 740.4L617.4 740.1L617.4 739.1L617.1 738.9L617.1 737.9L616.9 737.6L616.9 736.9L616.6 736.6L616.4 734.4L616.1 734.1L616.1 733.1L615.9 732.9L615.9 732.1L615.6 731.9L615.6 730.9L615.4 730.6L615.4 729.6L615.1 729.4L615.1 728.4L614.9 728.1L614.9 727.1L614.6 726.9L614.6 726.1L614.4 725.9L614.1 723.6L613.9 723.4L613.9 722.4L613.6 722.1L613.6 721.1L613.4 720.9L613.4 720.1L613.1 719.9L612.9 717.6L612.6 717.4L612.6 716.4L612.4 716.1L612.4 715.4L612.1 715.1L612.1 714.1L611.9 713.9L611.9 712.9L611.6 712.6L611.6 711.6L611.4 711.4L611.4 710.4L611.1 710.1L611.1 709.4L610.9 709.1L610.6 706.9L610.4 706.6L610.4 705.6L610.1 705.4L610.1 704.4L609.9 704.1L609.9 703.4L609.6 703.1L609.4 700.9L609.1 700.6L609.1 699.6L608.9 699.4L608.9 698.6L608.6 698.4L608.6 697.4L608.4 697.1L608.4 696.1L608.1 695.9L608.1 694.9L607.9 694.6L607.9 693.6L607.6 693.4L607.6 692.6L607.4 692.4L607.4 691.4L607.1 691.1L607.1 690.1L606.9 689.9L606.6 687.6L606.4 687.4L606.4 686.6L606.1 686.4L606.1 685.4L605.9 685.1L605.9 684.1L605.6 683.9L605.6 682.9L605.4 682.6L605.4 681.6L605.1 681.4L605.1 680.6L604.9 680.4L604.9 679.4L604.6 679.1L604.4 676.9L604.1 676.6L604.1 675.9L603.9 675.6L603.9 674.6L603.6 674.4L603.6 673.4L603.4 673.1L603.4 672.1L603.1 671.9L603.1 670.9L602.9 670.6L602.9 669.9L602.6 669.6L602.6 668.6L602.4 668.4L602.4 667.4L602.1 667.1L602.1 666.1L601.9 665.9L601.9 664.9L601.6 664.6L601.6 663.9L601.4 663.6L601.1 661.4L600.9 661.1L600.9 660.1L600.6 659.9L600.6 659.1L600.4 658.9L600.4 657.9L600.1 657.6L600.1 656.6L599.9 656.4L599.9 655.4L599.6 655.1L599.6 654.1L599.4 653.9L599.4 653.1L599.1 652.9L599.1 651.9L598.9 651.6L598.9 650.6L598.6 650.4L598.4 648.1L598.1 647.9L598.1 647.1L597.9 646.9L597.9 645.9L597.6 645.6L597.4 643.4L597.1 643.1L597.1 642.4L596.9 642.1L596.9 641.1L596.6 640.9L596.6 639.9L596.4 639.6L596.4 638.6L596.1 638.4L596.1 637.4L595.9 637.1L595.9 636.4L595.6 636.1L595.4 633.9L595.1 633.6L595.1 632.6L594.9 632.4L594.9 631.4L594.6 631.1L594.6 630.4L594.4 630.1L594.1 627.9L593.9 627.6L593.9 626.6L593.6 626.4L593.6 625.4L455.6 625.4L455.3 627.6L455.1 627.9L455.1 628.9L454.8 629.1L454.8 630.1L454.6 630.4L454.6 631.1L454.3 631.4L454.3 632.4L454.1 632.6L454.1 633.6L453.8 633.9L453.6 636.1L453.3 636.4L453.3 637.1L453.1 637.4L453.1 638.4L452.8 638.6L452.8 639.6L452.6 639.9L452.6 640.9L452.3 641.1L452.3 642.1L452.1 642.4L452.1 643.1L451.8 643.4L451.6 645.6L451.3 645.9L451.3 646.9L451.1 647.1L451.1 647.9L450.8 648.1L450.6 650.4L450.3 650.6L450.3 651.6L450.1 651.9L450.1 652.9L449.8 653.1L449.8 653.9L449.6 654.1L449.6 655.1L449.3 655.4L449.3 656.4L449.1 656.6L449.1 657.6L448.8 657.9L448.8 658.9L448.6 659.1L448.6 659.9L448.3 660.1L448.3 661.1L448.1 661.4L447.8 663.6L447.6 663.9L447.6 664.6L447.3 664.9L447.3 665.9L447.1 666.1L447.1 667.1L446.8 667.4L446.8 668.4L446.6 668.6L446.6 669.6L446.3 669.9L446.3 670.6L446.1 670.9L446.1 671.9L445.8 672.1L445.8 673.1L445.6 673.4L445.6 674.4L445.3 674.6L445.3 675.6L445.1 675.9L445.1 676.6L444.8 676.9L444.6 679.1L444.3 679.4L444.3 680.4L444.1 680.6L444.1 681.4L443.8 681.6L443.8 682.6L443.6 682.9L443.6 683.9L443.3 684.1L443.3 685.1L443.1 685.4L443.1 686.4L442.8 686.6L442.8 687.4L442.6 687.6L442.3 689.9L442.1 690.1L442.1 691.1L441.8 691.4L441.8 692.4L441.6 692.6L441.6 693.4L441.3 693.6L441.3 694.6L441.1 694.9L441.1 695.9L440.8 696.1L440.8 697.1L440.6 697.4L440.6 698.4L440.3 698.6L440.3 699.4L440.1 699.6L440.1 700.6L439.8 700.9L439.6 703.1L439.3 703.4L439.3 704.1L439.1 704.4L439.1 705.4L438.8 705.6L438.8 706.6L438.6 706.9L438.3 709.1L438.1 709.4L438.1 710.1L437.8 710.4L437.8 711.4L437.6 711.6L437.6 712.6L437.3 712.9L437.3 713.9L437.1 714.1L437.1 715.1L436.8 715.4L436.8 716.1L436.6 716.4L436.6 717.4L436.3 717.6L436.1 719.9L435.8 720.1L435.8 720.9L435.6 721.1L435.6 722.1L435.3 722.4L435.3 723.4L435.1 723.6L434.8 725.9L434.6 726.1L434.6 726.9L434.3 727.1L434.3 728.1L434.1 728.4L434.1 729.4L433.8 729.6L433.8 730.6L433.6 730.9L433.6 731.9L433.3 732.1L433.3 732.9L433.1 733.1L433.1 734.1L432.8 734.4L432.6 736.6L432.3 736.9L432.3 737.6L432.1 737.9L432.1 738.9L431.8 739.1L431.8 740.1L431.6 740.4L431.3 742.6L431.1 742.9L431.1 743.6L430.8 743.9L430.8 744.9L430.6 745.1L430.6 746.1L430.3 746.4L430.3 747.4L430.1 747.6L430.1 748.6L429.8 748.9L429.8 749.6L429.6 749.9L429.6 750.9L429.3 751.1L429.1 753.4L428.8 753.6L428.8 754.4L428.6 754.6L428.6 755.6L428.3 755.9L428.3 756.9L428.1 757.1L427.8 759.4L427.6 759.6L427.6 760.4L427.3 760.6L427.3 761.6L427.1 761.9L427.1 762.9L426.8 763.1L426.6 765.4L426.3 765.6L426.3 766.4L426.1 766.6L426.1 767.6L425.8 767.9L425.8 768.9L425.6 769.1L425.3 771.4L425.1 771.6L425.1 772.4L424.8 772.6L424.8 773.6L424.6 773.9L424.6 774.9L424.3 775.1L424.3 776.1L424.1 776.4L424.1 777.1L423.8 777.4L423.8 778.4L423.6 778.6L423.6 779.6L423.3 779.9L423.3 780.9L423.1 781.1L423.1 782.1L422.8 782.4L422.8 783.1L422.6 783.4L422.3 785.6L422.1 785.9L422.1 786.9L421.8 787.1L421.8 788.1L421.6 788.4L421.6 789.1L421.3 789.4L421.1 791.6L420.8 791.9L420.8 792.9L420.6 793.1L420.6 793.9L420.3 794.1L420.1 796.4L419.8 796.6L419.8 797.6L419.6 797.9L419.6 798.9L419.3 799.1L419.3 799.9L419.1 800.1L418.8 802.4L418.6 802.6L418.6 803.6L418.3 803.9L418.3 804.9L418.1 805.1L418.1 805.9L417.8 806.1L417.6 808.4L417.3 808.6L417.3 809.6L417.1 809.9L417.1 810.6L416.8 810.9L416.6 813.1L416.3 813.4L416.3 814.4L416.1 814.6L416.1 815.6L415.8 815.9L415.8 816.6L415.6 816.9L415.3 819.1L415.1 819.4L415.1 820.4L414.8 820.6L414.8 821.6L414.6 821.9L414.6 822.6L414.3 822.9L414.1 825.1L413.8 825.4L413.8 826.4L413.6 826.6L413.6 827.4L413.3 827.6L413.3 828.6L413.1 828.9L413.1 829.9L412.8 830.1L412.8 831.1L412.6 831.4L412.6 832.4L412.3 832.6L412.3 833.4L412.1 833.6L412.1 834.6L411.8 834.9L411.8 835.9L411.6 836.1L411.3 838.4L411.1 838.6L411.1 839.4L410.8 839.6L410.8 840.6L410.6 840.9L410.6 841.9L410.3 842.1L410.3 843.1L410.1 843.4L410.1 844.4L409.8 844.6L409.8 845.4L639.4 845.4Z"/><path fill="#ff4100" d="M639.4 845.4L639.4 844.6L639.1 844.4L639.1 843.4L638.9 843.1L638.9 842.1L638.6 841.9L638.6 840.9L638.4 840.6L638.4 839.6L638.1 839.4L638.1 838.6L637.9 838.4L637.6 836.1L637.4 835.9L637.4 834.9L637.1 834.6L637.1 833.6L636.9 833.4L636.9 832.6L636.6 832.4L636.6 831.4L636.4 831.1L636.4 830.1L636.1 829.9L636.1 828.9L635.9 828.6L635.9 827.6L635.6 827.4L635.6 826.6L635.4 826.4L635.4 825.4L635.1 825.1L634.9 822.9L634.6 822.6L634.6 821.9L634.4 821.6L634.4 820.6L634.1 820.4L634.1 819.4L633.9 819.1L633.6 816.9L633.4 816.6L633.4 815.9L633.1 815.6L633.1 814.6L632.9 814.4L632.9 813.4L632.6 813.1L632.4 810.9L632.1 810.6L632.1 809.9L631.9 809.6L631.9 808.6L631.6 808.4L631.4 806.1L631.1 805.9L631.1 805.1L630.9 804.9L630.9 803.9L630.6 803.6L630.6 802.6L630.4 802.4L630.1 800.1L629.9 799.9L629.9 799.1L629.6 798.9L629.6 797.9L629.4 797.6L629.4 796.6L629.1 796.4L628.9 794.1L628.6 793.9L628.6 793.1L628.4 792.9L628.4 791.9L628.1 791.6L627.9 789.4L627.6 789.1L627.6 788.4L627.4 788.1L627.4 787.1L627.1 786.9L627.1 785.9L626.9 785.6L626.6 783.4L626.4 783.1L626.4 782.4L626.1 782.1L626.1 781.1L625.9 780.9L625.9 779.9L625.6 779.6L625.6 778.6L625.4 778.4L625.4 777.4L625.1 777.1L625.1 776.4L624.9 776.1L624.9 775.1L624.6 774.9L624.6 773.9L624.4 773.6L624.4 772.6L624.1 772.4L624.1 771.6L623.9 771.4L623.6 769.1L623.4 768.9L623.4 767.9L623.1 767.6L623.1 766.6L622.9 766.4L622.9 765.6L622.6 765.4L622.4 763.1L622.1 762.9L622.1 761.9L621.9 761.6L621.9 760.6L621.6 760.4L621.6 759.6L621.4 759.4L621.1 757.1L620.9 756.9L620.9 755.9L620.6 755.6L620.6 754.6L620.4 754.4L620.4 753.6L620.1 753.4L619.9 751.1L619.6 750.9L619.6 749.9L619.4 749.6L619.4 748.9L619.1 748.6L619.1 747.6L618.9 747.4L618.9 746.4L618.6 746.1L618.6 745.1L618.4 744.9L618.4 743.9L618.1 743.6L618.1 742.9L617.9 742.6L617.6 740.4L617.4 740.1L617.4 739.1L617.1 738.9L617.1 737.9L616.9 737.6L616.9 736.9L616.6 736.6L616.4 734.4L616.1 734.1L616.1 733.1L615.9 732.9L615.9 732.1L615.6 731.9L615.6 730.9L615.4 730.6L615.4 729.6L615.1 729.4L615.1 728.4L614.9 728.1L614.9 727.1L614.6 726.9L614.6 726.1L614.4 725.9L614.1 723.6L613.9 723.4L613.9 722.4L613.6 722.1L613.6 721.1L613.4 720.9L613.4 720.1L613.1 719.9L612.9 717.6L612.6 717.4L612.6 716.4L612.4 716.1L612.4 715.4L612.1 715.1L612.1 714.1L611.9 713.9L611.9 712.9L611.6 712.6L611.6 711.6L611.4 711.4L611.4 710.4L611.1 710.1L611.1 709.4L610.9 709.1L610.6 706.9L610.4 706.6L610.4 705.6L610.1 705.4L610.1 704.4L609.9 704.1L609.9 703.4L609.6 703.1L609.4 700.9L609.1 700.6L609.1 699.6L608.9 699.4L608.9 698.6L608.6 698.4L608.6 697.4L608.4 697.1L608.4 696.1L608.1 695.9L608.1 694.9L607.9 694.6L607.9 693.6L607.6 693.4L607.6 692.6L607.4 692.4L607.4 691.4L607.1 691.1L607.1 690.1L606.9 689.9L606.6 687.6L606.4 687.4L606.4 686.6L606.1 686.4L606.1 685.4L605.9 685.1L605.9 684.1L605.6 683.9L605.6 682.9L605.4 682.6L605.4 681.6L605.1 681.4L605.1 680.6L604.9 680.4L604.9 679.4L604.6 679.1L604.4 676.9L604.1 676.6L604.1 675.9L603.9 675.6L603.9 674.6L603.6 674.4L603.6 673.4L603.4 673.1L603.4 672.1L603.1 671.9L603.1 670.9L602.9 670.6L602.9 669.9L602.6 669.6L602.6 668.6L602.4 668.4L602.4 667.4L602.1 667.1L602.1 666.1L601.9 665.9L601.9 664.9L601.6 664.6L601.6 663.9L601.4 663.6L601.1 661.4L600.9 661.1L600.9 660.1L600.6 659.9L600.6 659.1L600.4 658.9L600.4 657.9L600.1 657.6L600.1 656.6L599.9 656.4L599.9 655.4L599.6 655.1L599.6 654.1L599.4 653.9L599.4 653.1L599.1 652.9L599.1 651.9L598.9 651.6L598.9 650.6L598.6 650.4L598.4 648.1L598.1 647.9L598.1 647.1L597.9 646.9L597.9 645.9L597.6 645.6L597.4 643.4L597.1 643.1L597.1 642.4L596.9 642.1L596.9 641.1L596.6 640.9L596.6 639.9L596.4 639.6L596.4 638.6L596.1 638.4L596.1 637.4L595.9 637.1L595.9 636.4L595.6 636.1L595.4 633.9L595.1 633.6L595.1 632.6L594.9 632.4L594.9 631.4L594.6 631.1L594.6 630.4L594.4 630.1L594.1 627.9L593.9 627.6L593.9 626.6L593.6 626.4L593.6 625.4L455.6 625.4L455.3 627.6L455.1 627.9L455.1 628.9L454.8 629.1L454.8 630.1L454.6 630.4L454.6 631.1L454.3 631.4L454.3 632.4L454.1 632.6L454.1 633.6L453.8 633.9L453.6 636.1L453.3 636.4L453.3 637.1L453.1 637.4L453.1 638.4L452.8 638.6L452.8 639.6L452.6 639.9L452.6 640.9L452.3 641.1L452.3 642.1L452.1 642.4L452.1 643.1L451.8 643.4L451.6 645.6L451.3 645.9L451.3 646.9L451.1 647.1L451.1 647.9L450.8 648.1L450.6 650.4L450.3 650.6L450.3 651.6L450.1 651.9L450.1 652.9L449.8 653.1L449.8 653.9L449.6 654.1L449.6 655.1L449.3 655.4L449.3 656.4L449.1 656.6L449.1 657.6L448.8 657.9L448.8 658.9L448.6 659.1L448.6 659.9L448.3 660.1L448.3 661.1L448.1 661.4L447.8 663.6L447.6 663.9L447.6 664.6L447.3 664.9L447.3 665.9L447.1 666.1L447.1 667.1L446.8 667.4L446.8 668.4L446.6 668.6L446.6 669.6L446.3 669.9L446.3 670.6L446.1 670.9L446.1 671.9L445.8 672.1L445.8 673.1L445.6 673.4L445.6 674.4L445.3 674.6L445.3 675.6L445.1 675.9L445.1 676.6L444.8 676.9L444.6 679.1L444.3 679.4L444.3 680.4L444.1 680.6L444.1 681.4L443.8 681.6L443.8 682.6L443.6 682.9L443.6 683.9L443.3 684.1L443.3 685.1L443.1 685.4L443.1 686.4L442.8 686.6L442.8 687.4L442.6 687.6L442.3 689.9L442.1 690.1L442.1 691.1L441.8 691.4L441.8 692.4L441.6 692.6L441.6 693.4L441.3 693.6L441.3 694.6L441.1 694.9L441.1 695.9L440.8 696.1L440.8 697.1L440.6 697.4L440.6 698.4L440.3 698.6L440.3 699.4L440.1 699.6L440.1 700.6L439.8 700.9L439.6 703.1L439.3 703.4L439.3 704.1L439.1 704.4L439.1 705.4L438.8 705.6L438.8 706.6L438.6 706.9L438.3 709.1L438.1 709.4L438.1 710.1L437.8 710.4L437.8 711.4L437.6 711.6L437.6 712.6L437.3 712.9L437.3 713.9L437.1 714.1L437.1 715.1L436.8 715.4L436.8 716.1L436.6 716.4L436.6 717.4L436.3 717.6L436.1 719.9L435.8 720.1L435.8 720.9L435.6 721.1L435.6 722.1L435.3 722.4L435.3 723.4L435.1 723.6L434.8 725.9L434.6 726.1L434.6 726.9L434.3 727.1L434.3 728.1L434.1 728.4L434.1 729.4L433.8 729.6L433.8 730.6L433.6 730.9L433.6 731.9L433.3 732.1L433.3 732.9L433.1 733.1L433.1 734.1L432.8 734.4L432.6 736.6L432.3 736.9L432.3 737.6L432.1 737.9L432.1 738.9L431.8 739.1L431.8 740.1L431.6 740.4L431.3 742.6L431.1 742.9L431.1 743.6L430.8 743.9L430.8 744.9L430.6 745.1L430.6 746.1L430.3 746.4L430.3 747.4L430.1 747.6L430.1 748.6L429.8 748.9L429.8 749.6L429.6 749.9L429.6 750.9L429.3 751.1L429.1 753.4L428.8 753.6L428.8 754.4L428.6 754.6L428.6 755.6L428.3 755.9L428.3 756.9L428.1 757.1L427.8 759.4L427.6 759.6L427.6 760.4L427.3 760.6L427.3 761.6L427.1 761.9L427.1 762.9L426.8 763.1L426.6 765.4L426.3 765.6L426.3 766.4L426.1 766.6L426.1 767.6L425.8 767.9L425.8 768.9L425.6 769.1L425.3 771.4L425.1 771.6L425.1 772.4L424.8 772.6L424.8 773.6L424.6 773.9L424.6 774.9L424.3 775.1L424.3 776.1L424.1 776.4L424.1 777.1L423.8 777.4L423.8 778.4L423.6 778.6L423.6 779.6L423.3 779.9L423.3 780.9L423.1 781.1L423.1 782.1L422.8 782.4L422.8 783.1L422.6 783.4L422.3 785.6L422.1 785.9L422.1 786.9L421.8 787.1L421.8 788.1L421.6 788.4L421.6 789.1L421.3 789.4L421.1 791.6L420.8 791.9L420.8 792.9L420.6 793.1L420.6 793.9L420.3 794.1L420.1 796.4L419.8 796.6L419.8 797.6L419.6 797.9L419.6 798.9L419.3 799.1L419.3 799.9L419.1 800.1L418.8 802.4L418.6 802.6L418.6 803.6L418.3 803.9L418.3 804.9L418.1 805.1L418.1 805.9L417.8 806.1L417.6 808.4L417.3 808.6L417.3 809.6L417.1 809.9L417.1 810.6L416.8 810.9L416.6 813.1L416.3 813.4L416.3 814.4L416.1 814.6L416.1 815.6L415.8 815.9L415.8 816.6L415.6 816.9L415.3 819.1L415.1 819.4L415.1 820.4L414.8 820.6L414.8 821.6L414.6 821.9L414.6 822.6L414.3 822.9L414.1 825.1L413.8 825.4L413.8 826.4L413.6 826.6L413.6 827.4L413.3 827.6L413.3 828.6L413.1 828.9L413.1 829.9L412.8 830.1L412.8 831.1L412.6 831.4L412.6 832.4L412.3 832.6L412.3 833.4L412.1 833.6L412.1 834.6L411.8 834.9L411.8 835.9L411.6 836.1L411.3 838.4L411.1 838.6L411.1 839.4L410.8 839.6L410.8 840.6L410.6 840.9L410.6 841.9L410.3 842.1L410.3 843.1L410.1 843.4L410.1 844.4L409.8 844.6L409.8 845.4L639.4 845.4Z"/><path fill="#ff5700" d="M639.4 845.4L639.4 844.6L639.1 844.4L639.1 843.4L638.9 843.1L638.9 842.1L638.6 841.9L638.6 840.9L638.4 840.6L638.4 839.6L638.1 839.4L638.1 838.6L637.9 838.4L637.6 836.1L637.4 835.9L637.4 834.9L637.1 834.6L637.1 833.6L636.9 833.4L636.9 832.6L636.6 832.4L636.6 831.4L636.4 831.1L636.4 830.1L636.1 829.9L636.1 828.9L635.9 828.6L635.9 827.6L635.6 827.4L635.6 826.6L635.4 826.4L635.4 825.4L635.1 825.1L634.9 822.9L634.6 822.6L634.6 821.9L634.4 821.6L634.4 820.6L634.1 820.4L634.1 819.4L633.9 819.1L633.6 816.9L633.4 816.6L633.4 815.9L633.1 815.6L633.1 814.6L632.9 814.4L632.9 813.4L632.6 813.1L632.4 810.9L632.1 810.6L632.1 809.9L631.9 809.6L631.9 808.6L631.6 808.4L631.4 806.1L631.1 805.9L631.1 805.1L630.9 804.9L630.9 803.9L630.6 803.6L630.6 802.6L630.4 802.4L630.1 800.1L629.9 799.9L629.9 799.1L629.6 798.9L629.6 797.9L629.4 797.6L629.4 796.6L629.1 796.4L628.9 794.1L628.6 793.9L628.6 793.1L628.4 792.9L628.4 791.9L628.1 791.6L627.9 789.4L627.6 789.1L627.6 788.4L627.4 788.1L627.4 787.1L627.1 786.9L627.1 785.9L626.9 785.6L626.6 783.4L626.4 783.1L626.4 782.4L626.1 782.1L626.1 781.1L625.9 780.9L625.9 779.9L625.6 779.6L625.6 778.6L625.4 778.4L625.4 777.4L625.1 777.1L625.1 776.4L624.9 776.1L624.9 775.1L624.6 774.9L624.6 773.9L624.4 773.6L624.4 772.6L624.1 772.4L624.1 771.6L623.9 771.4L623.6 769.1L623.4 768.9L623.4 767.9L623.1 767.6L623.1 766.6L622.9 766.4L622.9 765.6L622.6 765.4L622.4 763.1L622.1 762.9L622.1 761.9L621.9 761.6L621.9 760.6L621.6 760.4L621.6 759.6L621.4 759.4L621.1 757.1L620.9 756.9L620.9 755.9L620.6 755.6L620.6 754.6L620.4 754.4L620.4 753.6L620.1 753.4L619.9 751.1L619.6 750.9L619.6 749.9L619.4 749.6L619.4 748.9L619.1 748.6L619.1 747.6L618.9 747.4L618.9 746.4L618.6 746.1L618.6 745.1L618.4 744.9L618.4 743.9L618.1 743.6L618.1 742.9L617.9 742.6L617.6 740.4L617.4 740.1L617.4 739.1L617.1 738.9L617.1 737.9L616.9 737.6L616.9 736.9L616.6 736.6L616.4 734.4L616.1 734.1L616.1 733.1L615.9 732.9L615.9 732.1L615.6 731.9L615.6 730.9L615.4 730.6L615.4 729.6L615.1 729.4L615.1 728.4L614.9 728.1L614.9 727.1L614.6 726.9L614.6 726.1L614.4 725.9L614.1 723.6L613.9 723.4L613.9 722.4L613.6 722.1L613.6 721.1L613.4 720.9L613.4 720.1L613.1 719.9L612.9 717.6L612.6 717.4L612.6 716.4L612.4 716.1L612.4 715.4L612.1 715.1L612.1 714.1L611.9 713.9L611.9 712.9L611.6 712.6L611.6 711.6L611.4 711.4L611.4 710.4L611.1 710.1L611.1 709.4L610.9 709.1L610.6 706.9L610.4 706.6L610.4 705.6L610.1 705.4L610.1 704.4L609.9 704.1L609.9 703.4L609.6 703.1L609.4 700.9L609.1 700.6L609.1 699.6L608.9 699.4L608.9 698.6L608.6 698.4L608.6 697.4L608.4 697.1L608.4 696.1L608.1 695.9L608.1 694.9L607.9 694.6L607.9 693.6L607.6 693.4L607.6 692.6L607.4 692.4L607.4 691.4L607.1 691.1L607.1 690.1L606.9 689.9L606.6 687.6L606.4 687.4L606.4 686.6L606.1 686.4L606.1 685.4L605.9 685.1L605.9 684.1L605.6 683.9L605.6 682.9L605.4 682.6L605.4 681.6L605.1 681.4L605.1 680.6L604.9 680.4L604.9 679.4L604.6 679.1L604.4 676.9L604.1 676.6L604.1 675.9L603.9 675.6L603.9 674.6L603.6 674.4L603.6 673.4L603.4 673.1L603.4 672.1L603.1 671.9L603.1 670.9L602.9 670.6L602.9 669.9L602.6 669.6L602.6 668.6L602.4 668.4L602.4 667.4L602.1 667.1L602.1 666.1L601.9 665.9L601.9 664.9L601.6 664.6L601.6 663.9L601.4 663.6L601.1 661.4L600.9 661.1L600.9 660.1L600.6 659.9L600.6 659.1L600.4 658.9L600.4 657.9L600.1 657.6L600.1 656.6L599.9 656.4L599.9 655.4L599.6 655.1L599.6 654.1L599.4 653.9L599.4 653.1L599.1 652.9L599.1 651.9L598.9 651.6L598.9 650.6L598.6 650.4L598.4 648.1L598.1 647.9L598.1 647.1L597.9 646.9L597.9 645.9L597.6 645.6L597.4 643.4L597.1 643.1L597.1 642.4L596.9 642.1L596.9 641.1L596.6 640.9L596.6 639.9L596.4 639.6L596.4 638.6L596.1 638.4L596.1 637.4L595.9 637.1L595.9 636.4L595.6 636.1L595.4 633.9L595.1 633.6L595.1 632.6L594.9 632.4L594.9 631.4L594.6 631.1L594.6 630.4L594.4 630.1L594.1 627.9L593.9 627.6L593.9 626.6L593.6 626.4L593.6 625.4L455.6 625.4L455.3 627.6L455.1 627.9L455.1 628.9L454.8 629.1L454.8 630.1L454.6 630.4L454.6 631.1L454.3 631.4L454.3 632.4L454.1 632.6L454.1 633.6L453.8 633.9L453.6 636.1L453.3 636.4L453.3 637.1L453.1 637.4L453.1 638.4L452.8 638.6L452.8 639.6L452.6 639.9L452.6 640.9L452.3 641.1L452.3 642.1L452.1 642.4L452.1 643.1L451.8 643.4L451.6 645.6L451.3 645.9L451.3 646.9L451.1 647.1L451.1 647.9L450.8 648.1L450.6 650.4L450.3 650.6L450.3 651.6L450.1 651.9L450.1 652.9L449.8 653.1L449.8 653.9L449.6 654.1L449.6 655.1L449.3 655.4L449.3 656.4L449.1 656.6L449.1 657.6L448.8 657.9L448.8 658.9L448.6 659.1L448.6 659.9L448.3 660.1L448.3 661.1L448.1 661.4L447.8 663.6L447.6 663.9L447.6 664.6L447.3 664.9L447.3 665.9L447.1 666.1L447.1 667.1L446.8 667.4L446.8 668.4L446.6 668.6L446.6 669.6L446.3 669.9L446.3 670.6L446.1 670.9L446.1 671.9L445.8 672.1L445.8 673.1L445.6 673.4L445.6 674.4L445.3 674.6L445.3 675.6L445.1 675.9L445.1 676.6L444.8 676.9L444.6 679.1L444.3 679.4L444.3 680.4L444.1 680.6L444.1 681.4L443.8 681.6L443.8 682.6L443.6 682.9L443.6 683.9L443.3 684.1L443.3 685.1L443.1 685.4L443.1 686.4L442.8 686.6L442.8 687.4L442.6 687.6L442.3 689.9L442.1 690.1L442.1 691.1L441.8 691.4L441.8 692.4L441.6 692.6L441.6 693.4L441.3 693.6L441.3 694.6L441.1 694.9L441.1 695.9L440.8 696.1L440.8 697.1L440.6 697.4L440.6 698.4L440.3 698.6L440.3 699.4L440.1 699.6L440.1 700.6L439.8 700.9L439.6 703.1L439.3 703.4L439.3 704.1L439.1 704.4L439.1 705.4L438.8 705.6L438.8 706.6L438.6 706.9L438.3 709.1L438.1 709.4L438.1 710.1L437.8 710.4L437.8 711.4L437.6 711.6L437.6 712.6L437.3 712.9L437.3 713.9L437.1 714.1L437.1 715.1L436.8 715.4L436.8 716.1L436.6 716.4L436.6 717.4L436.3 717.6L436.1 719.9L435.8 720.1L435.8 720.9L435.6 721.1L435.6 722.1L435.3 722.4L435.3 723.4L435.1 723.6L434.8 725.9L434.6 726.1L434.6 726.9L434.3 727.1L434.3 728.1L434.1 728.4L434.1 729.4L433.8 729.6L433.8 730.6L433.6 730.9L433.6 731.9L433.3 732.1L433.3 732.9L433.1 733.1L433.1 734.1L432.8 734.4L432.6 736.6L432.3 736.9L432.3 737.6L432.1 737.9L432.1 738.9L431.8 739.1L431.8 740.1L431.6 740.4L431.3 742.6L431.1 742.9L431.1 743.6L430.8 743.9L430.8 744.9L430.6 745.1L430.6 746.1L430.3 746.4L430.3 747.4L430.1 747.6L430.1 748.6L429.8 748.9L429.8 749.6L429.6 749.9L429.6 750.9L429.3 751.1L429.1 753.4L428.8 753.6L428.8 754.4L428.6 754.6L428.6 755.6L428.3 755.9L428.3 756.9L428.1 757.1L427.8 759.4L427.6 759.6L427.6 760.4L427.3 760.6L427.3 761.6L427.1 761.9L427.1 762.9L426.8 763.1L426.6 765.4L426.3 765.6L426.3 766.4L426.1 766.6L426.1 767.6L425.8 767.9L425.8 768.9L425.6 769.1L425.3 771.4L425.1 771.6L425.1 772.4L424.8 772.6L424.8 773.6L424.6 773.9L424.6 774.9L424.3 775.1L424.3 776.1L424.1 776.4L424.1 777.1L423.8 777.4L423.8 778.4L423.6 778.6L423.6 779.6L423.3 779.9L423.3 780.9L423.1 781.1L423.1 782.1L422.8 782.4L422.8 783.1L422.6 783.4L422.3 785.6L422.1 785.9L422.1 786.9L421.8 787.1L421.8 788.1L421.6 788.4L421.6 789.1L421.3 789.4L421.1 791.6L420.8 791.9L420.8 792.9L420.6 793.1L420.6 793.9L420.3 794.1L420.1 796.4L419.8 796.6L419.8 797.6L419.6 797.9L419.6 798.9L419.3 799.1L419.3 799.9L419.1 800.1L418.8 802.4L418.6 802.6L418.6 803.6L418.3 803.9L418.3 804.9L418.1 805.1L418.1 805.9L417.8 806.1L417.6 808.4L417.3 808.6L417.3 809.6L417.1 809.9L417.1 810.6L416.8 810.9L416.6 813.1L416.3 813.4L416.3 814.4L416.1 814.6L416.1 815.6L415.8 815.9L415.8 816.6L415.6 816.9L415.3 819.1L415.1 819.4L415.1 820.4L414.8 820.6L414.8 821.6L414.6 821.9L414.6 822.6L414.3 822.9L414.1 825.1L413.8 825.4L413.8 826.4L413.6 826.6L413.6 827.4L413.3 827.6L413.3 828.6L413.1 828.9L413.1 829.9L412.8 830.1L412.8 831.1L412.6 831.4L412.6 832.4L412.3 832.6L412.3 833.4L412.1 833.6L412.1 834.6L411.8 834.9L411.8 835.9L411.6 836.1L411.3 838.4L411.1 838.6L411.1 839.4L410.8 839.6L410.8 840.6L410.6 840.9L410.6 841.9L410.3 842.1L410.3 843.1L410.1 843.4L410.1 844.4L409.8 844.6L409.8 845.4L639.4 845.4Z"/><path fill="#ff6d00" d="M621.7 845.4L625.4 843.3L627.1 842L632.6 835.7L633.9 833.9L634.8 831.9L635.9 828.9L635.9 827.6L635.6 827.4L635.6 826.6L635.4 826.4L635.4 825.4L635.1 825.1L634.9 822.9L634.6 822.6L634.6 821.9L634.4 821.6L634.4 820.6L634.1 820.4L634.1 819.4L633.9 819.1L633.6 816.9L633.4 816.6L633.4 815.9L633.1 815.6L633.1 814.6L632.9 814.4L632.9 813.4L632.6 813.1L632.4 810.9L632.1 810.6L632.1 809.9L631.9 809.6L631.9 808.6L631.6 808.4L631.4 806.1L631.1 805.9L631.1 805.1L630.9 804.9L630.9 803.9L630.6 803.6L630.6 802.6L630.4 802.4L630.1 800.1L629.9 799.9L629.9 799.1L629.6 798.9L629.6 797.9L629.4 797.6L629.4 796.6L629.1 796.4L628.9 794.1L628.6 793.9L628.6 793.1L628.4 792.9L628.4 791.9L628.1 791.6L627.9 789.4L627.6 789.1L627.6 788.4L627.4 788.1L627.4 787.1L627.1 786.9L627.1 785.9L626.9 785.6L626.6 783.4L626.4 783.1L626.4 782.4L626.1 782.1L626.1 781.1L625.9 780.9L625.9 779.9L625.6 779.6L625.6 778.6L625.4 778.4L625.4 777.4L625.1 777.1L625.1 776.4L624.9 776.1L624.9 775.1L624.6 774.9L624.6 773.9L624.4 773.6L624.4 772.6L624.1 772.4L624.1 771.6L623.9 771.4L623.6 769.1L623.4 768.9L623.4 767.9L623.1 767.6L623.1 766.6L622.9 766.4L622.9 765.6L622.6 765.4L622.4 763.1L622.1 762.9L622.1 761.9L621.9 761.6L621.9 760.6L621.6 760.4L621.6 759.6L621.4 759.4L621.4 758.4L621.1 758.1L621.1 757.1L620.9 756.9L620.9 755.9L620.6 755.6L620.6 754.6L620.4 754.4L620.4 753.6L620.1 753.4L620.1 752.4L619.9 752.1L619.9 751.1L619.6 750.9L619.6 749.9L619.4 749.6L619.4 748.9L619.1 748.6L618.9 746.4L618.6 746.1L618.6 745.1L618.4 744.9L618.4 743.9L618.1 743.6L618.1 742.9L617.9 742.6L617.6 740.4L617.4 740.1L617.4 739.1L617.1 738.9L617.1 737.9L616.9 737.6L616.9 736.9L616.6 736.6L616.4 734.4L616.1 734.1L616.1 733.1L615.9 732.9L615.9 732.1L615.6 731.9L615.4 729.6L615.1 729.4L615.1 728.4L614.9 728.1L614.9 727.1L614.6 726.9L614.6 726.1L614.4 725.9L614.1 723.6L613.9 723.4L613.9 722.4L613.6 722.1L613.6 721.1L613.4 720.9L613.4 720.1L613.1 719.9L612.9 717.6L612.6 717.4L612.6 716.4L612.4 716.1L612.4 715.4L612.1 715.1L611.9 712.9L611.6 712.6L611.6 711.6L611.4 711.4L611.4 710.4L611.1 710.1L611.1 709.4L610.9 709.1L610.6 706.9L610.4 706.6L610.4 705.6L610.1 705.4L610.1 704.4L609.9 704.1L609.9 703.4L609.6 703.1L609.4 700.9L609.1 700.6L609.1 699.6L608.9 699.4L608.9 698.6L608.6 698.4L608.4 696.1L608.1 695.9L608.1 694.9L607.9 694.6L607.9 693.6L607.6 693.4L607.6 692.6L607.4 692.4L607.4 691.4L607.1 691.1L607.1 690.1L606.9 689.9L606.6 687.6L606.4 687.4L606.4 686.6L606.1 686.4L606.1 685.4L605.9 685.1L605.9 684.1L605.6 683.9L605.6 682.9L605.4 682.6L605.4 681.6L605.1 681.4L605.1 680.6L604.9 680.4L604.9 679.4L604.6 679.1L604.4 676.9L604.1 676.6L604.1 675.9L603.9 675.6L603.9 674.6L603.6 674.4L603.6 673.4L603.4 673.1L603.4 672.1L603.1 671.9L603.1 670.9L602.9 670.6L602.9 669.9L602.6 669.6L602.6 668.6L602.4 668.4L602.4 667.4L602.1 667.1L602.1 666.1L601.9 665.9L601.9 664.9L601.6 664.6L601.6 663.9L601.4 663.6L601.1 661.4L600.9 661.1L600.9 660.1L600.6 659.9L600.6 659.1L600.4 658.9L600.4 657.9L600.1 657.6L600.1 656.6L599.9 656.4L599.9 655.4L599.6 655.1L599.6 654.1L599.4 653.9L599.4 653.1L599.1 652.9L599.1 651.9L598.9 651.6L598.9 650.6L598.6 650.4L598.4 648.1L598.1 647.9L598.1 647.1L597.9 646.9L597.9 645.9L597.6 645.6L597.4 643.4L597.1 643.1L597.1 642.4L596.9 642.1L596.9 641.1L596.6 640.9L596.6 639.9L596.4 639.6L596.4 638.6L596.1 638.4L596.1 637.4L595.9 637.1L595.9 636.4L595.6 636.1L595.6 635.8L593.4 633.6L589.4 630.3L585.1 627.2L582.3 625.4L466.9 625.4L464.4 627L460.6 629.7L456.4 633.2L453.7 635.6L453.3 636.4L453.3 637.1L453.1 637.4L453.1 638.4L452.8 638.6L452.8 639.6L452.6 639.9L452.6 640.9L452.3 641.1L452.3 642.1L452.1 642.4L452.1 643.1L451.8 643.4L451.6 645.6L451.3 645.9L451.3 646.9L451.1 647.1L451.1 647.9L450.8 648.1L450.6 650.4L450.3 650.6L450.3 651.6L450.1 651.9L450.1 652.9L449.8 653.1L449.8 653.9L449.6 654.1L449.6 655.1L449.3 655.4L449.3 656.4L449.1 656.6L449.1 657.6L448.8 657.9L448.8 658.9L448.6 659.1L448.6 659.9L448.3 660.1L448.3 661.1L448.1 661.4L447.8 663.6L447.6 663.9L447.6 664.6L447.3 664.9L447.3 665.9L447.1 666.1L447.1 667.1L446.8 667.4L446.8 668.4L446.6 668.6L446.6 669.6L446.3 669.9L446.3 670.6L446.1 670.9L446.1 671.9L445.8 672.1L445.8 673.1L445.6 673.4L445.6 674.4L445.3 674.6L445.3 675.6L445.1 675.9L445.1 676.6L444.8 676.9L444.6 679.1L444.3 679.4L444.3 680.4L444.1 680.6L444.1 681.4L443.8 681.6L443.8 682.6L443.6 682.9L443.6 683.9L443.3 684.1L443.3 685.1L443.1 685.4L443.1 686.4L442.8 686.6L442.8 687.4L442.6 687.6L442.3 689.9L442.1 690.1L442.1 691.1L441.8 691.4L441.8 692.4L441.6 692.6L441.6 693.4L441.3 693.6L441.3 694.6L441.1 694.9L441.1 695.9L440.8 696.1L440.6 698.4L440.3 698.6L440.3 699.4L440.1 699.6L440.1 700.6L439.8 700.9L439.8 701.9L439.6 702.1L439.6 703.1L439.3 703.4L439.3 704.1L439.1 704.4L439.1 705.4L438.8 705.6L438.8 706.6L438.6 706.9L438.3 709.1L438.1 709.4L438.1 710.1L437.8 710.4L437.8 711.4L437.6 711.6L437.6 712.6L437.3 712.9L437.1 715.1L436.8 715.4L436.8 716.1L436.6 716.4L436.6 717.4L436.3 717.6L436.3 718.6L436.1 718.9L436.1 719.9L435.8 720.1L435.8 720.9L435.6 721.1L435.6 722.1L435.3 722.4L435.3 723.4L435.1 723.6L434.8 725.9L434.6 726.1L434.6 726.9L434.3 727.1L434.3 728.1L434.1 728.4L434.1 729.4L433.8 729.6L433.6 731.9L433.3 732.1L433.3 732.9L433.1 733.1L433.1 734.1L432.8 734.4L432.8 735.4L432.6 735.6L432.6 736.6L432.3 736.9L432.3 737.6L432.1 737.9L432.1 738.9L431.8 739.1L431.8 740.1L431.6 740.4L431.3 742.6L431.1 742.9L431.1 743.6L430.8 743.9L430.8 744.9L430.6 745.1L430.6 746.1L430.3 746.4L430.1 748.6L429.8 748.9L429.8 749.6L429.6 749.9L429.6 750.9L429.3 751.1L429.3 752.1L429.1 752.4L429.1 753.4L428.8 753.6L428.8 754.4L428.6 754.6L428.6 755.6L428.3 755.9L428.3 756.9L428.1 757.1L427.8 759.4L427.6 759.6L427.6 760.4L427.3 760.6L427.3 761.6L427.1 761.9L427.1 762.9L426.8 763.1L426.6 765.4L426.3 765.6L426.3 766.4L426.1 766.6L426.1 767.6L425.8 767.9L425.8 768.9L425.6 769.1L425.3 771.4L425.1 771.6L425.1 772.4L424.8 772.6L424.8 773.6L424.6 773.9L424.3 776.1L424.1 776.4L424.1 777.1L423.8 777.4L423.8 778.4L423.6 778.6L423.6 779.6L423.3 779.9L423.3 780.9L423.1 781.1L423.1 782.1L422.8 782.4L422.8 783.1L422.6 783.4L422.3 785.6L422.1 785.9L422.1 786.9L421.8 787.1L421.8 788.1L421.6 788.4L421.6 789.1L421.3 789.4L421.1 791.6L420.8 791.9L420.8 792.9L420.6 793.1L420.6 793.9L420.3 794.1L420.1 796.4L419.8 796.6L419.8 797.6L419.6 797.9L419.6 798.9L419.3 799.1L419.3 799.9L419.1 800.1L418.8 802.4L418.6 802.6L418.6 803.6L418.3 803.9L418.3 804.9L418.1 805.1L418.1 805.9L417.8 806.1L417.6 808.4L417.3 808.6L417.3 809.6L417.1 809.9L417.1 810.6L416.8 810.9L416.6 813.1L416.3 813.4L416.3 814.4L416.1 814.6L416.1 815.6L415.8 815.9L415.8 816.6L415.6 816.9L415.3 819.1L415.1 819.4L415.1 820.4L414.8 820.6L414.8 821.6L414.6 821.9L414.6 822.6L414.3 822.9L414.1 825.1L413.8 825.4L413.8 826.4L413.6 826.6L413.6 827.4L413.3 827.6L413.3 828.9L414.2 831.4L415.2 833.6L416.3 835.4L422.1 842L423.9 843.3L427.5 845.4L621.7 845.4Z"/><path fill="#ff8200" d="M600.1 845.4L608.9 844.1L615.6 842.4L620.4 840.3L624.4 837.8L626.1 836.4L627.4 834.9L628.5 833.1L630.2 828.9L631 826.4L631.6 823.9L631.9 821.4L632 814.4L631.4 806.1L631.1 805.9L631.1 805.1L630.9 804.9L630.9 803.9L630.6 803.6L630.6 802.6L630.4 802.4L630.1 800.1L629.9 799.9L629.9 799.1L629.6 798.9L629.6 797.9L629.4 797.6L629.4 796.6L629.1 796.4L628.9 794.1L628.6 793.9L628.6 793.1L628.4 792.9L628.4 791.9L628.1 791.6L627.9 789.4L627.6 789.1L627.6 788.4L627.4 788.1L627.4 787.1L627.1 786.9L627.1 785.9L626.9 785.6L626.6 783.4L626.4 783.1L626.4 782.4L626.1 782.1L626.1 781.1L625.9 780.9L625.9 779.9L625.6 779.6L625.6 778.6L625.4 778.4L625.4 777.4L625.1 777.1L625.1 776.4L624.9 776.1L624.6 773.9L624.4 773.6L624.4 772.6L624.1 772.4L624.1 771.6L623.9 771.4L623.6 769.1L623.4 768.9L623.4 767.9L623.1 767.6L623.1 766.6L622.9 766.4L622.9 765.6L622.6 765.4L622.4 763.1L622.1 762.9L622.1 761.9L621.9 761.6L621.9 760.6L621.6 760.4L621.6 759.6L621.4 759.4L621.1 757.1L620.9 756.9L620.9 755.9L620.6 755.6L620.6 754.6L620.4 754.4L620.4 753.6L620.1 753.4L620.1 752.4L619.9 752.1L619.9 751.1L619.6 750.9L619.6 749.9L619.4 749.6L619.4 748.9L619.1 748.6L618.9 746.4L618.6 746.1L618.6 745.1L618.4 744.9L618.4 743.9L618.1 743.6L618.1 742.9L617.9 742.6L617.6 740.4L617.4 740.1L617.4 739.1L617.1 738.9L617.1 737.9L616.9 737.6L616.9 736.9L616.6 736.6L616.6 735.6L616.4 735.4L616.4 734.4L616.1 734.1L616.1 733.1L615.9 732.9L615.9 732.1L615.6 731.9L615.4 729.6L615.1 729.4L615.1 728.4L614.9 728.1L614.9 727.1L614.6 726.9L614.6 726.1L614.4 725.9L614.1 723.6L613.9 723.4L613.9 722.4L613.6 722.1L613.6 721.1L613.4 720.9L613.4 720.1L613.1 719.9L613.1 718.9L612.9 718.6L612.9 717.6L612.6 717.4L612.6 716.4L612.4 716.1L612.4 715.4L612.1 715.1L611.9 712.9L611.6 712.6L611.6 711.6L611.4 711.4L611.4 710.4L611.1 710.1L611.1 709.4L610.9 709.1L610.6 706.9L610.4 706.6L610.4 705.6L610.1 705.4L610.1 704.4L609.9 704.1L609.9 703.4L609.6 703.1L609.6 702.1L609.4 701.9L609.4 700.9L609.1 700.6L609.1 699.6L608.9 699.4L608.9 698.6L608.6 698.4L608.4 696.1L608.1 695.9L608.1 694.9L607.9 694.6L607.9 693.6L607.6 693.4L607.6 692.6L607.4 692.4L607.4 691.4L607.1 691.1L607.1 690.1L606.9 689.9L606.6 687.6L606.4 687.4L606.4 686.6L606.1 686.4L606.1 685.4L605.9 685.1L605.9 684.1L605.6 683.9L605.6 682.9L605.4 682.6L605.4 681.6L605.1 681.4L605.1 680.6L604.9 680.4L604.9 679.4L604.6 679.1L604.4 676.9L604.1 676.6L604.1 675.9L603.9 675.6L603.9 674.6L603.6 674.4L603.6 673.4L603.4 673.1L603.4 672.1L603.1 671.9L603.1 670.9L602.9 670.6L602.9 669.9L602.6 669.6L602.6 668.6L602.4 668.4L602.4 667.4L602.1 667.1L602.1 666.1L601.9 665.9L601.9 664.9L601.6 664.6L601.6 663.9L601.4 663.6L601.1 661.4L600.9 661.1L600.9 660.1L600.6 659.9L600.6 659.1L600.4 658.9L600.4 657.9L600.1 657.6L600.1 656.9L599.7 655.6L597.3 648.1L595.7 644.6L593.6 640.9L591.6 637.9L589.7 635.9L585.4 632.4L581.4 629.8L577.1 628.2L572.6 627L568.4 626.3L561.6 625.6L558.9 625.4L490.3 625.4L481.6 626.2L476.4 627L470.4 628.8L467.9 629.8L466.1 630.8L462.4 633.5L459 636.4L457.4 638.1L455.3 641.4L453.2 645.1L451.8 648.6L449.5 655.6L449.1 656.9L449.1 657.6L448.8 657.9L448.8 658.9L448.6 659.1L448.6 659.9L448.3 660.1L448.3 661.1L448.1 661.4L447.8 663.6L447.6 663.9L447.6 664.6L447.3 664.9L447.3 665.9L447.1 666.1L447.1 667.1L446.8 667.4L446.8 668.4L446.6 668.6L446.6 669.6L446.3 669.9L446.3 670.6L446.1 670.9L446.1 671.9L445.8 672.1L445.8 673.1L445.6 673.4L445.6 674.4L445.3 674.6L445.3 675.6L445.1 675.9L445.1 676.6L444.8 676.9L444.6 679.1L444.3 679.4L444.3 680.4L444.1 680.6L444.1 681.4L443.8 681.6L443.8 682.6L443.6 682.9L443.6 683.9L443.3 684.1L443.3 685.1L443.1 685.4L443.1 686.4L442.8 686.6L442.8 687.4L442.6 687.6L442.3 689.9L442.1 690.1L442.1 691.1L441.8 691.4L441.8 692.4L441.6 692.6L441.6 693.4L441.3 693.6L441.3 694.6L441.1 694.9L441.1 695.9L440.8 696.1L440.6 698.4L440.3 698.6L440.3 699.4L440.1 699.6L440.1 700.6L439.8 700.9L439.8 701.9L439.6 702.1L439.6 703.1L439.3 703.4L439.3 704.1L439.1 704.4L439.1 705.4L438.8 705.6L438.8 706.6L438.6 706.9L438.3 709.1L438.1 709.4L438.1 710.1L437.8 710.4L437.8 711.4L437.6 711.6L437.6 712.6L437.3 712.9L437.1 715.1L436.8 715.4L436.8 716.1L436.6 716.4L436.6 717.4L436.3 717.6L436.3 718.6L436.1 718.9L436.1 719.9L435.8 720.1L435.8 720.9L435.6 721.1L435.6 722.1L435.3 722.4L435.3 723.4L435.1 723.6L434.8 725.9L434.6 726.1L434.6 726.9L434.3 727.1L434.3 728.1L434.1 728.4L434.1 729.4L433.8 729.6L433.6 731.9L433.3 732.1L433.3 732.9L433.1 733.1L433.1 734.1L432.8 734.4L432.8 735.4L432.6 735.6L432.6 736.6L432.3 736.9L432.3 737.6L432.1 737.9L432.1 738.9L431.8 739.1L431.8 740.1L431.6 740.4L431.3 742.6L431.1 742.9L431.1 743.6L430.8 743.9L430.8 744.9L430.6 745.1L430.6 746.1L430.3 746.4L430.1 748.6L429.8 748.9L429.8 749.6L429.6 749.9L429.6 750.9L429.3 751.1L429.3 752.1L429.1 752.4L429.1 753.4L428.8 753.6L428.8 754.4L428.6 754.6L428.6 755.6L428.3 755.9L428.3 756.9L428.1 757.1L427.8 759.4L427.6 759.6L427.6 760.4L427.3 760.6L427.3 761.6L427.1 761.9L427.1 762.9L426.8 763.1L426.6 765.4L426.3 765.6L426.3 766.4L426.1 766.6L426.1 767.6L425.8 767.9L425.8 768.9L425.6 769.1L425.3 771.4L425.1 771.6L425.1 772.4L424.8 772.6L424.8 773.6L424.6 773.9L424.3 776.1L424.1 776.4L424.1 777.1L423.8 777.4L423.8 778.4L423.6 778.6L423.6 779.6L423.3 779.9L423.3 780.9L423.1 781.1L423.1 782.1L422.8 782.4L422.8 783.1L422.6 783.4L422.3 785.6L422.1 785.9L422.1 786.9L421.8 787.1L421.8 788.1L421.6 788.4L421.6 789.1L421.3 789.4L421.1 791.6L420.8 791.9L420.8 792.9L420.6 793.1L420.6 793.9L420.3 794.1L420.1 796.4L419.8 796.6L419.8 797.6L419.6 797.9L419.6 798.9L419.3 799.1L419.3 799.9L419.1 800.1L418.8 802.4L418.6 802.6L418.6 803.6L418.3 803.9L418.3 804.9L418.1 805.1L418.1 805.9L417.8 806.1L417.4 809.9L417.2 815.1L417.2 819.1L417.5 822.9L418 825.6L418.7 828.1L420.5 832.6L421.3 834.1L422.9 836.1L424.6 837.6L428.9 840.3L432.1 841.8L434.9 842.8L439.1 843.9L443.9 844.7L449.1 845.4L600.1 845.4Z"/><path fill="#ff9800" d="M583.4 843.9L596.1 843.1L606.6 841.7L610.6 840.9L614.1 839.9L617.6 838.5L620.6 837L622.8 835.6L624.4 834.4L625.4 833.1L626.4 831.2L627.4 828.4L628.3 825.1L628.8 822.1L629.1 818.4L629.1 812.4L628.5 805.1L627.5 797.1L626 788.6L605.5 689.9L601.9 674.1L597.7 658.4L594.7 649.1L592.3 643.9L590.3 640.6L587.7 637.1L585.4 635L582.6 633.2L577.4 631L573.1 629.8L568.9 629L562.4 628.3L545.4 627.3L528.9 626.9L511.6 627L498.4 627.5L486.4 628.3L478.4 629.3L472.6 630.8L466.4 633.4L463.4 635.4L460.9 637.9L457.3 643.1L455 647.9L452.5 655.1L449.4 665.9L446.7 676.4L443.7 689.6L424.7 780.9L422.5 792.1L421.4 799.1L420.2 810.6L420 815.4L420.1 819.4L420.5 822.9L421.3 826.6L422.3 829.9L423.6 832.6L425.1 834.6L427.6 836.4L431.1 838.3L435.6 840L439.9 841.2L444.6 842.1L450.6 842.9L457.4 843.5L466.1 843.9L478.6 844.1L570.4 844.1L583.4 843.9Z"/><path fill="#ffae00" d="M582.5 842.9L594.6 842.2L605.4 840.8L609.4 840L613.9 838.8L616.9 837.7L619.5 836.4L621.9 834.9L623.6 833.4L624.6 832.1L625.6 830.2L626.5 827.6L627.2 824.9L628 817.9L627.9 812.1L627.4 805.1L626.4 797.4L624.9 788.6L604.4 689.9L600.8 673.9L596.8 659.1L593.8 649.9L592.7 647.1L591.3 644.4L589 640.6L586.8 637.6L584.6 635.6L582.1 634L577.6 632.2L572.4 630.7L567.9 629.9L561.1 629.2L544.6 628.3L528.6 627.9L511.6 628L498.6 628.6L486.6 629.4L478.4 630.4L472.1 632.1L468.6 633.3L466.4 634.4L463.6 636.4L461.6 638.6L458 644.1L455.9 648.6L453.4 655.9L450.2 667.1L447.7 676.9L444.8 689.9L425.7 781.1L422.7 798.1L421.4 809.4L421.2 814.1L421.2 818.1L421.6 822.6L422.1 825.6L423 828.6L424.2 831.4L425.6 833.4L427.9 835.3L430.9 837L434.6 838.5L439.9 840L444.6 841L450.6 841.8L457.6 842.4L466.1 842.9L478.9 843.1L570.1 843.1L582.5 842.9Z"/><path fill="#ffc300" d="M574.3 842.1L587.6 841.7L598.9 840.8L608.1 839.2L612.9 838.1L615.9 837.1L618.4 835.9L620.4 834.6L622.2 833.1L623.6 831.5L624.8 829.4L625.7 826.9L626.4 824.1L626.7 821.4L626.9 813.1L626.3 804.1L625 794.4L622.5 780.9L603.5 689.9L600.9 678.6L598.2 667.9L594.9 656.4L592.5 649.4L590.5 644.9L588.5 641.4L586.1 638.1L584.3 636.4L582.1 635L577.9 633.2L572.6 631.8L567.4 630.9L560.6 630.2L545.1 629.2L530.1 628.8L515.9 628.9L501.1 629.4L487.6 630.3L479.1 631.3L472.9 632.8L467.1 635L464.3 636.9L461.9 639.6L459 644.4L456.8 649.1L454.3 656.4L451.2 667.1L448.8 676.6L446 688.6L426.7 780.9L423.9 796.6L422.6 807.9L422.3 812.6L422.3 817.1L422.5 821.4L422.9 824.4L423.6 827.4L424.7 829.9L426.1 832.1L428.1 834.1L430.8 835.9L434.1 837.4L438.4 838.6L444.4 839.9L450.1 840.7L456.6 841.4L465.9 841.9L478.6 842.2L574.3 842.1Z"/><path fill="#ffd900" d="M580 841.1L591.9 840.5L602.4 839.3L610.9 837.7L614.1 836.8L616.6 835.8L618.9 834.5L620.6 833.2L622.4 831.1L623.6 829.4L624.5 827.4L625.3 824.9L625.7 822.6L625.9 819.4L625.9 813.1L625.4 805.4L624.5 797.6L623.2 789.4L621.5 780.6L602.5 689.9L598.9 674.4L595 659.9L591.7 649.9L590.5 646.9L589.1 644.1L586.9 640.5L584.5 637.6L582.4 636.1L579.1 634.6L575.1 633.2L570.6 632.2L563.4 631.3L555.1 630.7L541.4 630L525.9 629.7L510.1 629.9L497.9 630.4L486.6 631.3L478.1 632.3L472.4 633.8L469.6 634.8L467.1 635.9L464.6 637.8L462.1 640.9L459.7 644.9L457.7 649.4L455.1 657.1L452 667.9L449.5 677.4L446.7 689.6L427.7 780.9L424.9 796.1L423.6 807.4L423.3 813.1L423.2 817.9L423.4 821.6L423.8 824.4L424.6 827.1L425.6 829.4L427.4 831.9L429.5 833.9L432.1 835.5L435.1 836.8L439.6 838L444.9 839L451.6 840L458.4 840.6L466.9 841.1L479.4 841.3L569.9 841.3L580 841.1Z"/><path fill="#ffef00" d="M576.8 840.4L588.9 839.9L600.4 838.8L609.1 837.3L612.6 836.4L615.1 835.5L617.3 834.4L619 833.1L621 831.1L622.7 828.9L623.6 827.1L624.4 824.9L624.8 822.6L625.1 819.9L625 811.9L624 800.9L622.7 791.6L620 777.6L601.7 690.1L599.2 678.9L596.5 668.6L593 656.4L590.5 649.1L588.6 644.9L586.4 641.2L584 638.4L582.1 636.9L579.1 635.4L575.4 634.1L571.1 633.1L565.1 632.3L557.9 631.7L543.4 630.9L529.4 630.5L516.4 630.6L502.4 631L487.6 632L478.6 633L473.1 634.3L470.4 635.3L468 636.4L465.6 638L463.3 640.6L460.9 644.4L458.9 648.4L456.4 655.6L452.9 667.6L450.5 676.9L447.9 688.1L428.5 780.9L426 795.1L424.5 806.9L424 816.6L424.2 820.4L424.5 823.4L425.1 825.9L426.1 828.1L427.8 830.6L430.2 833.1L432.4 834.6L435.4 836L439.4 837.1L444.4 838.1L450.9 839L458.1 839.7L466.9 840.2L479.4 840.5L576.8 840.4Z"/><path fill="#faff00" d="M574.9 839.6L587.4 839.2L598.9 838.2L607.6 836.9L611.4 835.9L614.1 835L616.3 833.9L618 832.6L620.1 830.6L621.9 828.1L622.9 826.4L623.6 824.4L624.3 819.6L624.3 812.4L623.5 802.9L622.2 793.6L619.8 780.6L600.8 689.9L599 681.6L596.2 670.6L592.5 657.4L590.2 650.4L588.2 645.6L586.1 642.2L583.9 639.5L581.6 637.6L578.9 636.1L575.4 634.8L571.6 633.9L566.6 633.2L559.9 632.6L544.9 631.7L530.9 631.3L518.9 631.3L504.1 631.7L489.1 632.6L479.9 633.6L474.1 634.8L469.3 636.6L466.6 638.4L464.1 640.9L461.7 644.4L459.7 648.4L457.5 654.9L454.5 665.1L451.7 675.4L449.2 686.1L429.4 780.6L426.9 794.1L425.5 805.4L424.8 815.4L424.9 819.4L425.2 822.6L425.7 824.9L426.6 827L428.5 829.9L430.9 832.4L432.9 833.9L435.4 835.1L439.1 836.3L443.9 837.3L449.4 838.1L456.4 838.8L466.4 839.4L479.1 839.7L574.9 839.6Z"/><path fill="#e4ff00" d="M576.9 838.9L588.6 838.4L599.6 837.4L607.6 836.1L610.9 835.3L613.6 834.3L615.8 833.1L617.6 831.7L619.5 829.6L621.2 827.4L622.2 825.6L622.9 823.8L623.3 821.6L623.6 818.6L623.6 814.9L623.5 810.6L622.3 799.4L620.2 786.9L617.2 772.1L600.1 689.9L597.5 678.6L595 668.6L591.7 657.1L589.5 650.4L587.5 645.9L585.6 642.8L583.6 640.4L580.8 638.1L578.1 636.6L574.9 635.4L571.4 634.6L566.1 633.8L559.9 633.3L545.4 632.4L531.6 632L519.4 632L504.6 632.4L489.4 633.3L480.4 634.2L474.9 635.3L472.4 636.1L470.1 637.1L467.1 639.1L464.6 641.5L462.4 644.7L460.5 648.4L458.3 654.6L455.7 663.4L452.7 674.4L450.2 684.9L430.2 780.6L427.7 794.1L426.2 805.1L425.6 814.9L425.6 818.6L426 821.9L426.5 824.1L427.3 826.1L429 828.9L431.1 831.2L433.4 833.1L435.9 834.4L439.4 835.6L443.9 836.6L449.1 837.4L456.1 838.1L466.1 838.7L479.4 839L576.9 838.9Z"/><path fill="#ceff00" d="M581.2 838.1L592.1 837.6L601.9 836.5L608.6 835.1L611.4 834.3L613.6 833.4L615.6 832.1L617.8 830.1L619.5 828.1L620.9 825.9L621.8 824.1L622.3 822.4L622.7 819.6L622.9 816.6L622.8 811.1L622.2 803.9L621.2 796.4L619.7 787.6L599.4 690.1L596 675.1L592.5 662.1L589.5 652.4L588 648.6L586.8 646.1L585.1 643.4L583.1 641.2L579.6 638.4L576.9 636.9L573.9 635.9L570.6 635.1L565.4 634.4L558.9 633.8L544.9 633L531.4 632.7L518.6 632.7L504.1 633L489.9 633.9L480.9 634.8L475.4 635.9L473 636.6L470.9 637.7L467.9 639.7L465.1 642.2L462.9 645.1L461.2 648.6L458.9 654.9L456.2 663.9L453.5 674.1L450.7 685.6L430.8 781.1L428.2 794.9L426.8 805.9L426.3 815.1L426.4 818.9L426.8 821.9L427.4 823.9L428.3 825.9L429.9 828.4L432.1 830.8L434.6 832.8L436.8 833.9L440.4 835.1L444.9 836.1L450.4 836.9L457.4 837.6L466.6 838.1L479.9 838.4L569.4 838.4L581.2 838.1Z"/><path fill="#b8ff00" d="M577.8 837.6L589.6 837.1L599.9 836.1L607.1 834.8L610.1 833.9L612.4 833L614.4 831.8L616.4 830.1L618.1 828.3L619.7 826.1L620.7 824.1L621.4 822.1L621.9 819.6L622.2 816.6L622.1 811.1L621.5 803.6L620.5 795.9L619 787.1L598.8 689.9L595.5 675.6L592.2 663.4L589.1 653.4L587.6 649.4L586.4 646.9L584.6 644.1L582.6 641.9L579.5 639.4L576.4 637.5L573.6 636.5L570.6 635.8L565.6 635.1L559.6 634.5L546.1 633.7L533.1 633.3L520.4 633.2L505.9 633.5L492.1 634.3L482.6 635.2L476.6 636.2L474.4 636.9L472.1 637.9L468.7 640.1L465.6 642.9L463.7 645.4L462 648.4L459.9 653.9L457.5 661.6L454.5 672.6L452 682.9L431.4 780.9L428.9 794.4L427.5 805.1L427 814.4L427.1 817.9L427.5 820.9L428 822.9L429 825.1L430.6 827.7L432.8 830.1L435.4 832.1L437.8 833.4L441.1 834.5L445.4 835.5L450.6 836.3L457.1 836.9L466.6 837.5L479.9 837.8L569.1 837.8L577.8 837.6Z"/><path fill="#a3ff00" d="M575 837.1L587.1 836.7L597.6 835.8L605.6 834.4L608.4 833.6L610.9 832.7L613.1 831.5L615.1 830L617 828.1L618.5 826.1L619.8 823.9L620.6 821.6L621.1 819.1L621.4 816.1L621.4 810.9L620.9 803.6L619.9 796.1L618.4 787.4L598.2 690.1L595 676.1L592 664.9L588.8 654.6L586.1 647.9L584.4 645.1L581.9 642.4L578.9 640L575.7 638.1L573.2 637.1L570.1 636.4L565.6 635.7L559.9 635.1L546.6 634.3L534.4 633.9L521.4 633.8L506.9 634.1L494.1 634.8L483.6 635.7L477.1 636.9L475.1 637.5L473.1 638.3L469.6 640.5L466.6 643.1L464.4 645.6L462.7 648.6L460.6 654L458.4 661L455.3 671.9L452.8 682.1L432 780.9L429.5 794.6L428.2 805.1L427.7 814.1L427.9 817.3L428.2 819.9L428.9 822.6L429.8 824.6L431.6 827.4L433.6 829.6L436.1 831.5L438.9 832.9L442.1 834L446.1 834.9L451.4 835.7L457.4 836.4L466.6 836.9L479.6 837.2L575 837.1Z"/><path fill="#8dff00" d="M572.3 836.6L585.4 836.2L595.6 835.4L603.9 834L607.1 833.2L609.6 832.2L612.2 830.9L614.1 829.6L616 827.9L617.6 825.9L618.7 823.9L619.6 821.6L620.4 818.4L620.7 815.6L620.7 810.4L620.2 803.4L619.3 795.9L617.8 787.1L597.6 690.1L594.5 676.4L591.6 665.6L588.4 655.2L585.6 648.6L583.9 645.9L581.5 643.1L578.6 640.8L575.4 638.9L572.9 637.9L569.6 637L565.1 636.3L559.4 635.7L546.6 634.8L534.6 634.4L521.4 634.3L507.1 634.6L494.9 635.3L484.4 636.3L477.9 637.4L475.9 638L473.9 638.9L470.5 640.9L467.5 643.4L464.9 646.4L463.3 649.1L461.1 654.4L458.9 661.5L455.9 671.9L453.4 681.9L432.6 780.9L430.1 794.4L428.8 804.6L428.4 813.4L428.6 816.4L428.9 818.9L429.7 821.9L430.6 824.1L432.2 826.6L434.4 829L436.6 830.7L439.9 832.3L442.9 833.4L446.9 834.4L451.9 835.2L457.9 835.8L466.9 836.4L479.6 836.7L572.3 836.6Z"/><path fill="#77ff00" d="M569 836.1L583.1 835.8L593.6 835L602.3 833.6L605.2 832.9L608.4 831.8L611.2 830.4L613.2 829.1L615.1 827.5L616.6 825.6L617.8 823.6L618.6 821.4L619.4 818.4L619.9 815.1L620 808.6L619.2 799.9L617.8 790.6L615.4 778.1L595.4 682.6L593 673.1L590.4 663.6L587.9 655.9L585.6 650.4L583.8 647.1L581.6 644.5L578.9 642L575.9 640.1L572.9 638.7L569.9 637.9L565.6 637.1L559.9 636.4L547.6 635.4L535.9 635L522.1 634.8L507.6 635.1L495.6 635.8L484.9 636.9L478.6 638L474.4 639.6L470.9 641.6L467.9 644.1L465.4 647.1L463.6 650.4L461.4 655.9L458.9 663.6L456.1 673.3L453.8 682.9L433.2 780.9L430.8 794.1L429.5 804.1L429.2 812.6L429.3 815.6L429.8 818.4L430.6 821.4L431.4 823.6L433 826.1L435.1 828.4L437.4 830L440.4 831.5L444 832.9L447.6 833.8L452.8 834.6L458.6 835.3L467.4 835.9L479.6 836.1L569 836.1Z"/><path fill="#62ff00" d="M579.2 835.4L590.6 834.7L599.8 833.4L603 832.6L606.1 831.6L609.1 830.4L611.5 829.1L613.3 827.9L614.8 826.4L616.1 824.7L617.1 822.9L618 820.4L618.6 817.6L619.3 811.6L619.2 806.1L618.6 799.9L617.8 793.6L616.2 784.9L596.4 689.4L593.3 676.4L590.4 665.8L587.1 655.9L585.9 652.8L584.4 649.8L582.4 646.6L579.9 643.9L576.9 641.6L573.6 639.9L570.1 638.8L565.6 637.8L560.6 637.1L553.1 636.4L542.1 635.7L528.6 635.4L516.1 635.5L503.1 635.9L491.9 636.8L483.9 637.7L477.6 639.2L473.6 640.9L470.3 643.1L467.5 645.9L465.4 648.9L463.1 653.4L460.9 659.4L458.1 668.4L455.9 676.6L453.4 687.2L433.7 780.9L431.3 794.6L430.1 804.4L429.9 812.4L430.3 815.6L430.9 818.9L431.6 821.6L432.6 823.9L434.2 826.1L436.4 828.3L439 829.9L442.4 831.4L446.2 832.6L450.1 833.5L455.4 834.3L461.4 834.9L468.9 835.4L480.6 835.6L568.6 835.6L579.2 835.4Z"/><path fill="#4cff00" d="M577.5 834.9L588.6 834.3L597.6 833.1L601.6 832.1L605.1 831.1L608.1 829.9L610.9 828.5L612.6 827.2L614 825.9L615.3 824.1L616.2 822.4L617.1 819.9L617.8 816.9L618.5 810.4L618.4 805.4L617.9 799.4L617.1 793.2L615.6 784.6L595.8 689.6L592.8 676.6L589.9 666.3L586.9 657.4L583.8 650.6L581.8 647.4L579.6 644.9L576.6 642.5L573.4 640.7L569.4 639.5L564.4 638.4L559.4 637.6L551.6 636.9L541.1 636.2L527.9 635.9L515.6 636L503.1 636.5L492.4 637.4L484.9 638.4L478.4 639.9L476.1 640.6L474.1 641.6L470.9 643.8L468.1 646.5L465.9 649.6L463.7 654.1L461.4 660.2L458.6 668.8L456.4 677L453.9 687.5L434.3 780.9L431.9 794.4L430.9 803.9L430.8 811.4L431.1 814.9L431.6 818.1L432.4 820.9L433.4 823.4L435 825.6L436.9 827.4L439.6 829.1L442.9 830.6L446.9 831.9L451.4 833L456.4 833.8L462.1 834.4L469.4 834.8L480.6 835.1L568.6 835.1L577.5 834.9Z"/><path fill="#36ff00" d="M575.4 834.4L586.4 833.8L595.4 832.7L599.9 831.7L603.6 830.7L606.9 829.5L609.6 828.1L611.5 826.9L612.9 825.6L614.2 824.1L615.2 822.4L616.1 819.9L616.9 817.1L617.4 813.9L617.6 810.4L617.7 805.1L617.3 799.6L616.6 793.6L615.1 785.1L595.3 689.9L592.4 677.4L589.6 667.7L586.4 658.4L583.4 651.6L581.3 648.1L579.2 645.6L576.5 643.4L573.4 641.7L569.4 640.3L564.4 639.2L557.5 638.1L550.3 637.4L540.6 636.8L527.6 636.5L515.9 636.6L503.6 637L493.8 637.9L485.4 639.1L479.1 640.5L476.6 641.4L474.6 642.3L471.4 644.4L468.8 646.9L466.7 650.1L464.4 654.7L461.9 661L459.1 669.4L456.9 677.4L454.4 687.9L434.9 781.1L432.6 794L431.6 803.4L431.6 811.1L431.9 814.6L432.5 817.6L433.2 820.4L434.3 822.9L435.8 825.1L437.6 826.8L440.4 828.5L443.9 830.1L448.1 831.4L453.1 832.5L457.9 833.3L463.4 833.9L470.9 834.3L480.6 834.5L575.4 834.4Z"/><path fill="#21ff00" d="M572.1 833.9L583.9 833.4L592.6 832.4L597.4 831.4L601.6 830.4L605.1 829.2L608 827.9L610.1 826.6L611.8 825.4L613.1 823.9L614 822.4L615.1 819.9L615.9 817.3L616.4 814.4L616.7 810.9L616.8 805.1L616.5 799.1L615.9 793.3L614.4 784.4L594.7 689.9L591.9 678L589.6 670.1L586 659.6L583 652.9L580.9 649.1L578.9 646.5L576.1 644.2L573.1 642.5L568.9 641.1L563.9 639.9L556.9 638.8L548.9 637.9L540.1 637.4L527.4 637L515.9 637.1L504.1 637.6L495.1 638.5L485.6 639.9L479.6 641.3L475.1 643L472.1 644.9L469.6 647.4L467.2 650.9L465 655.4L462.1 662.6L459.4 670.9L457.4 678L454.9 688.4L435.5 780.9L433.4 793.3L432.4 802.1L432.5 810.9L432.8 814.4L433.4 817.3L434.1 819.9L435.2 822.4L436.5 824.4L438.4 826.1L441.2 827.9L444.6 829.4L448.6 830.7L453.6 831.8L458.9 832.7L464.4 833.3L471.9 833.7L480.9 834L572.1 833.9Z"/><path fill="#0bff00" d="M576 833.1L586.1 832.5L595.4 831L599.6 830L603.1 829L606.1 827.8L608.7 826.4L610.6 825L611.9 823.8L612.9 822.4L613.9 820.1L614.8 817.6L615.4 814.9L616 808.1L616 802.6L615.6 796.9L614.9 791.4L613.6 783.9L593.9 689.1L591.1 677.8L588.7 669.6L584.9 659.1L581.9 652.6L579.6 648.9L577.7 646.6L575.1 644.6L572.1 643.1L567.8 641.6L562.4 640.5L553.9 639.2L545.6 638.4L537.6 637.9L527.4 637.6L516.1 637.8L504.4 638.3L494.9 639.3L485.6 640.7L479.7 642.1L475.2 643.9L472.4 645.9L470.1 648.1L467.7 651.9L465.5 656.4L462.5 663.9L459.7 672.4L457.9 678.8L455.4 689.1L436.1 781.1L434.1 792.9L433.3 802.1L433.3 810.6L433.7 813.9L434.2 816.9L435.1 819.6L436.1 821.9L437.4 823.9L439.4 825.6L442.3 827.4L445.9 828.9L450 830.1L455.1 831.3L460.4 832.1L466.1 832.8L481.1 833.3L568.1 833.3L576 833.1Z"/><path fill="#00ff0b" d="M569.7 832.6L581.9 832.1L590.9 831.1L595.6 830.1L599.9 829.1L603.4 827.9L606.1 826.7L608.3 825.4L610.1 824L611.4 822.7L612.4 821.1L613.4 818.8L614.1 816.1L614.7 813.1L615 809.9L615.2 804.1L614.9 797.9L614.2 792.4L612.8 783.6L593.3 689.9L590.6 678.6L588.3 671.1L584.9 661.4L581.9 654.4L579.9 650.9L577.6 647.9L575.1 645.7L572.3 644.1L568.1 642.6L562.9 641.4L554.9 640.1L546.6 639.2L539.4 638.7L527.6 638.3L516.9 638.4L505.1 639L495.9 639.9L486.4 641.4L480.4 642.9L475.9 644.6L473.1 646.4L470.9 648.6L468.6 652.1L466.2 656.9L463.2 664.4L460.5 672.4L458.6 678.6L456.1 688.9L436.9 780.9L435.1 791.4L434.2 800.4L434.1 808.9L434.4 812.4L434.9 815.4L435.6 818.1L436.6 820.6L438 822.9L439.8 824.6L442.5 826.4L445.8 827.9L449.6 829.2L454.8 830.4L460.1 831.3L465.6 832L473.1 832.4L481.1 832.7L569.7 832.6Z"/><path fill="#00ff21" d="M571.1 831.9L582.6 831.3L591.4 830.2L595.9 829.2L599.9 828.1L603.1 827L605.9 825.7L607.9 824.4L609.6 822.9L610.8 821.4L611.8 819.6L612.7 817.4L613.4 814.9L613.9 811.9L614.2 808.4L614.3 802.9L614 797.1L613.4 791.6L612 783.1L592.6 689.9L589.8 678.6L587.6 671.4L584.4 662.4L581.2 655.1L578.9 651.1L576.6 648.2L574.4 646.3L571.6 644.9L567.5 643.4L562.3 642.1L554.4 640.9L546.1 639.9L538.4 639.4L527.6 639L516.9 639.1L505.1 639.7L495.9 640.7L486.6 642.2L480.9 643.6L476.4 645.5L473.6 647.3L471.4 649.6L469.1 653.1L466.7 657.9L463.7 665.4L461.1 672.9L459.3 679.1L456.8 689.4L437.6 780.9L436 790.6L435 799.6L435 807.9L435.3 811.6L435.7 814.6L436.5 817.4L437.5 819.9L438.9 822.1L440.7 823.9L443.3 825.6L446.5 827.1L450.4 828.4L455.6 829.7L460.9 830.6L466.4 831.3L473.9 831.7L481.4 832L571.1 831.9Z"/><path fill="#00ff36" d="M571.9 831.1L582.6 830.5L591.1 829.4L595.4 828.5L599.4 827.3L602.6 826.1L605.1 824.9L607 823.6L608.6 822.2L610.1 820.3L611.2 818.4L612 816.1L612.7 813.4L613.4 806.9L613.4 801.6L613.1 796.1L612.4 790.1L611.1 782.6L591.8 689.9L589.1 678.9L587 671.9L583.9 663.4L580.6 656L578.4 652.1L575.9 649L573.7 647.1L570.9 645.6L566.8 644.1L561.7 642.9L553.9 641.6L545.9 640.6L537.9 640.1L527.9 639.8L517.1 639.8L505.4 640.4L496.6 641.4L487.4 642.9L481.6 644.4L477.2 646.1L474.6 647.8L472.3 650.1L469.9 653.7L467.6 658.1L464.6 665.3L461.9 672.9L460.1 679.1L457.6 689.1L438.4 780.9L436.9 789.9L435.9 798.9L435.8 807.1L436.1 810.9L436.6 813.9L437.4 816.7L438.4 819L439.9 821.3L441.9 823.4L444.1 824.9L447.2 826.4L451.1 827.7L456.1 829L461.4 829.9L466.9 830.6L481.4 831.2L571.9 831.1Z"/><path fill="#00ff4c" d="M572.3 830.4L582.9 829.7L591.1 828.5L595.1 827.6L599.1 826.4L601.9 825.3L604.4 824L606.3 822.6L607.9 821.1L609.4 819.1L610.4 817.1L611.2 814.9L611.9 812.3L612.5 805.6L612.6 800.6L612.2 795.4L610.3 782.4L591 689.9L588.4 679.2L586.3 672.4L583.4 664.4L580.1 657.1L577.9 653.2L575.6 650.3L573.1 648.1L570.1 646.4L566.1 644.9L561.1 643.7L553.6 642.3L546.1 641.4L538.4 640.8L528.1 640.5L517.4 640.6L505.9 641.1L497.1 642.1L488.2 643.6L482.4 645.1L478.1 646.9L475.4 648.7L472.9 651.1L470.6 654.4L468.4 658.6L465.4 665.7L462.8 672.6L461 678.6L458.5 688.6L439.2 780.9L437.9 788.6L436.8 797.6L436.7 805.6L436.9 809.4L437.4 812.6L438.1 815.4L439.1 817.8L440.8 820.4L442.9 822.6L445 824.1L447.9 825.6L451.6 826.9L456.6 828.2L461.7 829.1L467.1 829.8L474.6 830.3L481.6 830.5L572.3 830.4Z"/><path fill="#00ff62" d="M572.3 829.6L582.4 829L590.4 827.8L594.4 826.8L598.1 825.7L600.7 824.6L603.1 823.4L605.1 821.9L606.8 820.1L608.4 818.1L609.5 816.1L610.3 813.9L610.9 811.4L611.7 804.6L611.7 799.9L611.4 794.9L609.5 782.1L590.2 689.9L587.6 679.5L585.6 672.9L582.9 665.5L579.6 658.3L577.4 654.4L575.1 651.5L572.4 649.1L569.4 647.3L565.6 645.8L560.9 644.6L553.6 643.2L546.4 642.2L538.6 641.6L528.1 641.2L517.6 641.3L506.6 641.8L498.4 642.8L489.9 644.2L484.1 645.7L479.6 647.4L476.6 649.3L473.9 651.8L471.6 654.8L469.4 658.8L466.4 665.5L463.7 672.6L461.9 678.5L459.4 688.1L440 780.9L438.8 787.6L437.7 796.6L437.5 804.4L437.8 808.1L438.3 811.6L439 814.4L439.9 816.6L441.6 819.1L443.6 821.4L445.7 823.1L448.5 824.6L452.5 826.1L457 827.4L462.1 828.4L467.4 829.1L474.9 829.6L481.9 829.8L567.1 829.8L572.3 829.6Z"/><path fill="#00ff77" d="M571.9 828.9L581.9 828.2L589.6 827L593.3 826.1L596.9 825L599.6 823.9L601.8 822.6L604.1 820.9L605.8 819.1L607.3 817.1L608.6 814.8L609.4 812.6L610 810.1L610.7 803.6L610.8 799.1L610.5 794.4L608.6 781.9L589.4 689.9L587.1 680.7L585 673.6L582.4 666.6L579.4 660L577.1 656.1L574.9 653.1L571.8 650.4L568.4 648.2L564.9 646.7L560.4 645.4L553.9 644.1L547.1 643.1L540.1 642.4L528.6 642L518.1 642L507.4 642.6L499.6 643.4L491.6 644.8L485.3 646.4L480.9 648.1L477.6 650.2L474.6 652.9L472.4 655.7L470.2 659.4L467.1 665.9L464.6 672.5L462.7 678.4L460.4 687.4L440.9 780.5L439.8 786.6L438.6 795.6L438.4 803.1L438.7 806.9L439.2 810.1L439.9 812.9L440.7 815.1L442.4 817.8L444.3 820.1L446.6 822.1L449.1 823.7L452.7 825.1L457.1 826.5L462.1 827.5L467.4 828.2L474.9 828.8L481.9 829L571.9 828.9Z"/><path fill="#00ff8d" d="M571 828.1L581.1 827.5L588.4 826.3L592.1 825.4L595.3 824.4L598.2 823.1L600.4 821.9L602.4 820.4L604.4 818.5L606 816.4L607.3 814.1L608.3 811.9L608.9 809.4L609.5 806.4L609.8 802.9L609.8 798.6L609.6 794.1L607.8 781.9L588.6 689.9L586.7 682.1L584.5 674.9L582.3 668.9L579.6 662.9L577.3 658.6L575 655.4L572.1 652.4L568.6 649.9L565.3 648.1L561.4 646.8L555.4 645.3L548.9 644.2L541.1 643.3L529.9 642.8L518.9 642.8L508.6 643.3L501.1 644.1L493.9 645.3L487.5 646.9L482.8 648.6L479.4 650.7L476.3 653.1L473.6 656.1L471.4 659.6L468.4 665.5L465.6 672.1L463.7 678.1L461.4 686.7L441.9 779.7L440.6 786.4L439.6 795.1L439.4 802.4L439.7 805.9L440.2 809.1L440.9 811.6L441.9 814L443.4 816.6L445.4 819.1L447.9 821.2L450.6 823L453.9 824.4L458.1 825.7L462.9 826.7L467.9 827.4L475.1 828L482.1 828.3L571 828.1Z"/><path fill="#00ffa3" d="M569.2 827.4L579.9 826.7L587 825.6L590.4 824.8L593.6 823.8L596.2 822.6L598.6 821.3L600.9 819.7L602.7 817.9L604.4 815.9L605.8 813.6L606.9 811.1L607.8 808.4L608.4 805.6L608.7 802.4L608.8 798.4L608.6 793.9L607.9 787.5L606.9 781.6L587.8 690.1L586.3 683.9L584.1 676.4L582.3 671.4L580.1 666.3L577.6 661.5L575.1 657.8L572.3 654.6L569.1 652L565.7 649.9L561.7 648.1L556.7 646.6L550.6 645.4L542.6 644.3L532.4 643.6L520.6 643.5L511.8 643.9L503.9 644.6L496.4 645.8L489.4 647.5L484.4 649.5L480.6 651.6L477.4 654.2L474.4 657.4L471.9 661.1L469.1 666.3L466.6 672.2L464.6 677.9L462.4 686.2L443.4 776.6L441.6 785.8L440.5 794.6L440.4 801.6L440.7 804.9L441.2 807.9L442 810.4L443 812.9L444.6 815.6L446.7 818.1L449.3 820.4L452.4 822.3L455.3 823.6L459.1 824.9L463.5 825.9L468.4 826.6L475.4 827.2L482.1 827.4L569.2 827.4Z"/><path fill="#00ffb8" d="M572.4 826.4L581.4 825.6L588.4 824.2L593.4 822.4L596.4 820.8L598.8 819.1L600.9 817.4L602.5 815.6L603.9 813.6L605.1 811.4L606.2 808.6L607 805.9L607.5 803.1L607.8 799.9L607.8 796.4L607.5 792.6L606.8 786.6L605.9 781.1L586.9 689.9L585.4 683.9L583.2 676.6L581.4 671.7L579.4 667.3L576.9 662.8L573.9 658.6L571.1 655.6L567.9 653L563.9 650.6L559.1 648.6L554.1 647.1L548.9 646L541.6 645.1L530.6 644.4L519.4 644.4L509.8 644.9L502.7 645.6L496.1 646.9L490.8 648.4L485.1 650.8L481.1 653.1L477.9 655.9L474.9 659.3L471.9 663.6L469.4 668.3L467.1 673.6L465.4 678.6L463.1 686.8L444.1 777.3L442.6 785.4L441.5 794.1L441.5 800.9L441.8 803.9L442.3 806.4L443.3 809.4L444.4 811.9L446 814.6L448.1 817.1L450.6 819.3L453.6 821.2L457 822.9L460.4 824.1L464.6 825.1L469.1 825.8L476.1 826.4L482.4 826.6L566.6 826.6L572.4 826.4Z"/><path fill="#00ffce" d="M569 825.6L579.1 824.9L585.9 823.7L588.6 822.8L591.4 821.7L594.1 820.2L596.6 818.6L598.8 816.9L600.5 815.1L602 813.1L603.4 810.9L604.6 808.1L605.6 805.1L606.2 802.4L606.6 799.4L606.6 794.4L606.1 788.4L605.1 782L603.6 774.6L585.9 689.7L582.6 678.1L579.8 670.9L577.6 666.7L574.4 661.8L571.3 658.1L568 655.1L564.4 652.7L559.9 650.5L554.4 648.5L549.4 647.2L542.4 646.1L532.4 645.4L520.1 645.3L512.9 645.6L505.1 646.3L498.9 647.4L493.4 649L487.4 651.4L483.1 653.8L479.6 656.5L476.4 659.9L473.1 664.3L470.6 668.5L468.4 673.3L466.6 678.1L464.3 685.9L463.1 690.9L444.4 780.7L443.7 784.6L442.6 793.4L442.6 799.4L442.9 802.1L443.5 804.6L444.3 807.4L445.4 809.9L447 812.9L448.9 815.4L451.3 817.6L454.1 819.6L457.4 821.4L460.9 822.9L464.9 824L469.4 824.8L476.1 825.4L482.6 825.7L569 825.6Z"/><path fill="#00ffe4" d="M569.3 824.6L578.6 823.8L584.6 822.6L587.5 821.6L590.3 820.4L592.9 819L595.2 817.4L597.3 815.6L599.1 813.8L600.7 811.6L602.1 809.3L603.4 806.5L604.3 803.6L605 800.6L605.4 797.6L605.4 794.4L605.2 790.6L604.6 785.4L603.9 780.8L584.9 689.9L582.1 680L579.6 673.4L577.1 668.6L574.1 664.1L570.6 659.9L567.4 656.9L563.6 654.2L559.1 651.9L554.2 649.9L548.9 648.3L542.4 647.2L533.4 646.4L520.1 646.2L515.1 646.4L507 647.1L501.4 648.1L495.8 649.6L490.1 651.9L485.6 654.2L481.8 656.9L478.6 659.9L475.1 664.1L472.1 668.6L469.6 673.4L467.8 677.9L465.6 685.1L464.3 690.1L444.9 783.6L443.9 792.4L443.8 797.4L444.1 800.1L444.7 802.9L446.4 807.9L448.2 811.1L450.1 813.8L452.5 816.1L455.4 818.3L458.9 820.4L462.4 821.9L465.9 823L470.1 823.8L476.6 824.4L482.9 824.7L569.3 824.6Z"/><path fill="#00fffa" d="M566.9 823.6L575.4 823L581.9 821.8L584.9 820.9L587.6 819.8L590.3 818.4L592.6 816.9L595.1 814.9L597.1 812.9L598.9 810.7L600.4 808.3L601.7 805.6L602.8 802.6L603.5 799.6L603.9 796.6L604 793.4L603.9 789.9L603.4 785.1L602.7 780.9L583.7 689.9L581.9 683.2L579.4 676.2L577 671.4L574.1 666.9L570.9 662.8L567.1 659.1L563.4 656.3L558.9 653.6L554.1 651.5L549.1 649.8L542.9 648.5L535.1 647.6L529.4 647.3L517.9 647.4L510.9 647.9L504.4 648.8L498.9 650.2L493.5 652.1L488.5 654.6L484.1 657.5L480.6 660.5L476.9 664.6L473.6 669.1L470.9 673.9L469.1 678L466.9 684.8L465.4 690.1L446.1 782.9L445.3 790.1L445.2 795.9L446 800.9L447.5 805.6L449.2 808.9L451.4 812L453.6 814.4L456.6 816.9L459.8 818.9L463.4 820.6L467.4 821.8L471.3 822.6L477.6 823.4L483.1 823.7L566.9 823.6Z"/><path fill="#00efff" d="M563.2 822.4L570.9 822.1L579.4 820.8L582.1 820.1L584.9 819.1L587.4 817.9L589.8 816.4L592.4 814.5L594.6 812.3L596.6 810L598.4 807.4L599.9 804.8L600.9 802.1L601.8 799.1L602.3 796.1L602.4 793.1L602.3 788.9L601.9 784.6L601.4 780.9L582.4 689.9L580.9 684.6L578.7 678.4L576.6 673.9L573.9 669.4L570.7 665.4L567.1 661.7L563.4 658.6L558.8 655.6L554.3 653.4L549.4 651.5L543.4 650L535.4 649L529.9 648.6L519.6 648.6L513.4 649L506.1 650L501.4 651.1L496.9 652.6L491.8 654.9L486.9 657.9L482.6 661.3L478.6 665.3L475.4 669.4L472.6 673.9L470.6 678.3L468.3 684.6L466.8 690.1L447.7 781.6L447 787.6L446.8 794.1L447.4 798.8L448.6 803.1L450.2 806.4L452.4 809.7L454.9 812.6L457.9 815.3L460.9 817.3L464.1 819L467.6 820.2L471.6 821.2L477.9 822L483.4 822.4L563.2 822.4Z"/><path fill="#00d9ff" d="M566 820.9L572.9 820.3L579.9 818.9L582.4 818.1L584.9 817L587.1 815.7L589.1 814.3L591.4 812.3L593.6 809.9L595.8 807.1L597.4 804.6L598.7 802.1L599.6 799.6L600.2 796.9L600.6 794.1L600.5 787.1L599.8 780.9L580.8 689.9L579.3 684.9L577.1 678.9L575.1 674.7L572.6 670.7L569.6 667L566.1 663.5L561.6 659.9L557.1 656.9L552.6 654.6L547.9 652.8L542.6 651.5L534.4 650.4L530.1 650.1L519.1 650.1L513.4 650.5L506.4 651.5L502.1 652.5L497.9 654L493 656.4L488.4 659.3L483.4 663.3L479.4 667.3L476.4 671.1L473.9 675.2L472.1 678.9L469.6 685.7L468.4 690.1L449.3 781.4L448.7 787.1L448.6 793.6L449.2 797.9L450.4 801.7L451.9 804.9L454.1 808.1L457.2 811.6L460.3 814.4L463.3 816.4L466.6 818L470.1 819.1L474.4 820L479.4 820.6L483.6 820.9L566 820.9Z"/><path fill="#00c3ff" d="M567.4 819.1L573.9 818.3L579.6 816.9L583.9 815.1L587.7 812.4L589.9 810.4L592.1 807.9L594.1 805.4L595.7 802.9L596.9 800.6L597.8 798.1L598.4 795.6L598.7 792.9L598.6 786.4L598 780.9L579.1 690.1L577.8 685.6L575.8 680.4L573.9 676.2L571.6 672.6L568.8 669.1L565.4 665.7L560.6 661.8L556.1 658.6L551.6 656.2L547 654.4L542 653.1L533.9 652L530.4 651.7L518.9 651.7L513.4 652.2L506.6 653.3L502.9 654.2L499.1 655.5L494.6 657.7L490.1 660.7L484.6 665L480.6 668.9L477.6 672.6L475.3 676.4L473.1 681.2L471.1 686.6L470.1 690.1L451.1 781.3L450.5 786.6L450.5 792.9L451.1 796.8L452.3 800.4L453.9 803.6L456.5 807.1L459.8 810.9L462.8 813.4L465.6 815.2L468.9 816.7L472.1 817.6L476.9 818.6L480.6 819L484.1 819.3L567.4 819.1Z"/><path fill="#00aeff" d="M565.5 817.4L571.6 816.7L577.9 815.2L581.9 813.5L585.4 811.1L587.6 809.1L589.9 806.7L591.9 804.1L593.5 801.6L594.7 799.4L595.6 797L596.2 794.6L596.5 792.1L596.6 786.1L596.1 780.9L577.1 690.1L576.2 686.9L574.9 683.4L572.7 678.4L570.9 675.2L568.4 671.8L565.4 668.6L560.8 664.6L555.7 660.9L551.4 658.4L546.9 656.4L541.1 654.9L533.9 653.8L530.6 653.6L518.6 653.6L514.1 653.9L509.1 654.7L504.6 655.7L500.9 657L496.4 659.2L491.6 662.2L486.6 666.1L482.3 670.1L479.4 673.6L477.2 677.1L474.9 682.1L473 686.9L472.1 690.1L453.1 781.1L452.6 786.1L452.7 792.1L453.2 795.4L454.2 798.6L455.8 801.9L458.4 805.5L461.4 808.9L464.5 811.6L467.4 813.5L470.4 814.9L473.4 815.8L478.4 816.8L484.4 817.4L565.5 817.4Z"/><path fill="#0098ff" d="M567.1 815.1L572.6 814.1L578.1 812.5L581.9 810.4L585.9 807.1L587.8 805.1L589.5 802.9L591.1 800.5L592.3 798.1L593.1 796.1L593.7 793.9L594.3 788.6L594.3 784.6L593.9 780.9L574.9 690.1L574.1 687.4L572.9 684.1L570.4 678.9L568.6 675.9L566.1 672.6L563 669.4L558.9 665.8L554.4 662.7L550 660.1L545.9 658.4L539.6 656.8L533.6 655.8L531.1 655.6L518.1 655.6L514.1 656L509.6 656.8L504.9 657.9L501.4 659.2L496.9 661.4L492.1 664.5L487.6 668.1L483.8 671.9L481.3 674.9L479.2 678.1L476.6 683.4L474.9 687.9L474.3 690.1L455.3 781.1L454.9 785.6L455.1 790.6L455.5 794.1L456.6 797.5L458.4 800.9L460.8 804.4L463.6 807.4L466.6 809.9L469.3 811.6L472.1 812.9L476.4 814.1L480.4 814.9L484.9 815.4L564.4 815.4L567.1 815.1Z"/><path fill="#0082ff" d="M565.4 812.9L570.9 811.9L576.6 810.1L580.6 808L584.3 804.9L586.1 802.9L587.6 800.9L588.9 798.8L589.9 796.6L591.1 792.6L591.7 786.9L591.7 783.6L591.4 780.9L572.4 690.1L570.8 685.4L568.8 681.1L566.5 677.1L564.1 674L561.2 670.9L557.6 667.7L553.6 664.9L549.4 662.5L545.4 660.8L538.9 659L533.4 658.1L517.6 658L514.1 658.3L510.1 659.1L505.1 660.4L501.9 661.6L497.6 663.7L493.4 666.4L489.6 669.4L486 672.9L483.6 675.9L481.6 678.9L478.9 684.1L477.2 688.6L457.8 781.1L457.5 785.1L457.7 789.4L458.3 793.4L459.4 796.8L461 799.9L463.1 802.9L465.6 805.6L468.4 807.8L470.9 809.3L473.6 810.5L478.1 811.9L481.9 812.7L485.4 813L565.4 812.9Z"/><path fill="#006dff" d="M565.6 810.1L570.6 809.1L576.1 807.2L579.6 805.1L582.9 802.3L585.6 798.7L587.4 794.9L588.3 790.9L588.8 785.4L588.6 781.1L587.1 773.9L569.6 690.1L568 685.6L566.1 681.8L563.7 677.6L561.7 674.9L559.1 672.1L555.9 669.3L552.4 666.9L548.6 664.8L544.9 663.3L538.6 661.6L533.4 660.7L517.1 660.6L513.6 661L509.9 661.8L504.6 663.2L501.6 664.4L497.9 666.3L494.3 668.6L490.9 671.4L488 674.4L485.6 677.5L483.4 681.3L481.2 685.6L479.8 689.4L460.6 781.1L460.4 784.9L460.6 788.9L461.3 793.1L462.4 796.3L463.7 798.9L465.6 801.4L467.9 803.8L470.4 805.7L472.9 807.1L475.6 808.1L479.9 809.4L483.6 810.2L485.9 810.4L548.9 810.4L563.4 810.4L565.6 810.1Z"/><path fill="#0057ff" d="M564.3 807.4L569.1 806.4L574.6 804.5L577.9 802.7L580.6 800.2L582.9 797.1L584.4 793.9L585.4 789.1L585.8 784.4L585.5 780.9L566.6 690.1L565.1 685.9L563.1 682L560.6 677.9L558.4 675.1L555.9 672.6L552.7 670.1L549.4 668.1L546.1 666.6L541.9 665.2L537.1 664L533.1 663.5L516.4 663.5L513.1 663.9L509.6 664.6L504.6 666.1L501.6 667.2L498.4 668.9L495.4 671L492.5 673.4L490.1 675.9L488.1 678.6L485.5 683.1L483.8 686.6L482.7 689.9L463.6 781.1L463.4 784.4L463.7 788.1L464.4 792.6L465.4 795.4L466.6 797.6L468.3 799.9L470.4 801.9L472.5 803.4L474.9 804.6L478.6 806L481.9 806.9L484.9 807.4L497.4 807.5L562.6 807.5L564.3 807.4Z"/><path fill="#0041ff" d="M563.6 804.4L568.2 803.4L573.4 801.4L575.9 799.9L578.1 797.9L580 795.4L581.2 792.6L582.3 787.6L582.5 783.4L582.3 780.9L563.4 690.1L561.9 686.1L559.9 682.4L557.4 678.4L555.5 676.1L553.1 673.9L550.4 671.9L547.4 670.2L543.6 668.8L539.6 667.5L536.4 666.8L533.4 666.5L515.6 666.5L512.6 666.9L509.4 667.6L505.6 668.8L502 670.1L499.4 671.6L496.9 673.3L494.6 675.2L492.6 677.4L490.5 680.4L488.4 684L486.9 687.1L485.9 689.9L466.9 780.9L466.6 783.9L466.9 787.1L467.7 791.4L468.6 794.2L469.7 796.1L471.1 797.9L472.6 799.4L474.6 800.8L477.4 802.1L480.6 803.3L483.4 804L486.1 804.5L562.1 804.5L563.6 804.4Z"/><path fill="#002bff" d="M562.6 801.1L566.1 800.4L569.6 799.1L573.1 797.2L575.1 795.4L576.7 793.1L577.9 789.9L578.8 786.1L579 782.6L578.8 780.9L559.9 690.1L558.6 686.7L556.9 683.5L554.6 680.2L552.7 677.9L550.5 675.9L548.1 674.2L545.4 672.9L541.6 671.4L538.1 670.4L534.1 669.7L514.9 669.8L512.1 670.2L509.1 670.9L505.9 672.1L502.6 673.5L500.6 674.5L498.9 675.8L497.1 677.3L495.6 678.9L493.4 681.9L491.7 684.6L490.3 687.4L489.4 689.9L470.4 780.9L470.2 783.6L470.4 786.4L471.1 789.4L472.2 792.6L473.1 794.1L474.1 795.5L475.4 796.6L476.9 797.6L479.6 799.1L482.4 800.1L484.9 800.8L487.4 801.2L562.6 801.1Z"/><path fill="#0016ff" d="M560.8 797.4L563.9 796.8L566.6 795.7L569.1 794.1L571.3 792.1L572.9 789.9L574.1 787.1L574.7 784.4L574.8 781.6L555.8 690.1L555.1 688.2L553.9 685.9L552.1 683.4L550.2 681.1L548.1 679.3L545.9 677.6L543.4 676.2L540.6 675L538.1 674.2L534.9 673.6L514.4 673.6L510.9 674.2L507.4 675.5L505 676.6L502.6 678.1L500.6 679.7L498.9 681.3L497.1 683.4L495.6 685.5L494.4 687.6L493.5 689.9L474.4 780.9L474.4 782.6L474.5 784.6L475 786.6L475.6 788.4L476.5 790.1L477.6 791.7L478.9 793.1L480.5 794.4L482.4 795.5L484.2 796.4L486.4 797.1L488.4 797.4L560.8 797.4Z"/><path fill="#0000ff" d="M494.8 700L481.6 760L479 781.5L495.7 793.8L552.6 793.8L572.7 780.7L568.4 760L554.3 700L547.1 689.1L541.5 682.7L537.4 679.5L524.6 678.7L512.6 680.3L504.5 683.5L498.9 689.1Z"/></g><path d="M33.60 14.50H264.70V236.00" fill="none" stroke="#000" stroke-width="1.5"/><path d="M33.60 13.75V236.00" stroke="#000" stroke-width="1.4" fill="none"/><path d="M32.90 236.00h-4.0M32.90 221.23h-1.9M32.90 206.47h-4.0M32.90 191.70h-1.9M32.90 176.93h-4.0M32.90 162.17h-1.9M32.90 147.40h-4.0M32.90 132.63h-1.9M32.90 117.87h-4.0M32.90 103.10h-1.9M32.90 88.33h-4.0M32.90 73.57h-1.9M32.90 58.80h-4.0M32.90 44.03h-1.9M32.90 29.27h-4.0M32.90 14.50h-1.9" stroke="#000" stroke-width="1.4" fill="none"/><path d="M29.60 236.00H265.45M33.60 236.00v4.0M49.01 236.00v1.9M64.41 236.00v4.0M79.82 236.00v1.9M95.23 236.00v4.0M110.63 236.00v1.9M126.04 236.00v4.0M141.45 236.00v1.9M156.85 236.00v4.0M172.26 236.00v1.9M187.67 236.00v4.0M203.07 236.00v1.9M218.48 236.00v4.0M233.89 236.00v1.9M249.29 236.00v4.0M264.70 236.00v1.9" stroke="#000" stroke-width="1.5" fill="none"/><g style="font-family:'Liberation Serif',serif;font-size:9.4px" fill="#111"><text x="33.60" y="250.60" text-anchor="middle">0</text><text x="26.00" y="239.10" text-anchor="end">0</text><text x="64.41" y="250.60" text-anchor="middle">2</text><text x="26.00" y="209.57" text-anchor="end">2</text><text x="95.23" y="250.60" text-anchor="middle">4</text><text x="26.00" y="180.04" text-anchor="end">4</text><text x="126.04" y="250.60" text-anchor="middle">6</text><text x="26.00" y="150.50" text-anchor="end">6</text><text x="156.85" y="250.60" text-anchor="middle">8</text><text x="26.00" y="120.97" text-anchor="end">8</text><text x="187.67" y="250.60" text-anchor="middle">10</text><text x="26.00" y="91.44" text-anchor="end">10</text><text x="218.48" y="250.60" text-anchor="middle">12</text><text x="26.00" y="61.90" text-anchor="end">12</text><text x="249.29" y="250.60" text-anchor="middle">14</text><text x="26.00" y="32.37" text-anchor="end">14</text></g><rect x="269.00" y="14.00" width="18.40" height="221.80" fill="#ff0000"/><rect x="269.00" y="18.60" width="18.40" height="217.20" fill="#ff0000"/><rect x="269.00" y="23.03" width="18.40" height="212.78" fill="#ff1600"/><rect x="269.00" y="27.45" width="18.40" height="208.35" fill="#ff2b00"/><rect x="269.00" y="31.88" width="18.40" height="203.93" fill="#ff4100"/><rect x="269.00" y="36.30" width="18.40" height="199.50" fill="#ff5700"/><rect x="269.00" y="40.72" width="18.40" height="195.08" fill="#ff6d00"/><rect x="269.00" y="45.15" width="18.40" height="190.65" fill="#ff8200"/><rect x="269.00" y="49.58" width="18.40" height="186.22" fill="#ff9800"/><rect x="269.00" y="54.00" width="18.40" height="181.80" fill="#ffae00"/><rect x="269.00" y="58.43" width="18.40" height="177.38" fill="#ffc300"/><rect x="269.00" y="62.85" width="18.40" height="172.95" fill="#ffd900"/><rect x="269.00" y="67.28" width="18.40" height="168.53" fill="#ffef00"/><rect x="269.00" y="71.70" width="18.40" height="164.10" fill="#faff00"/><rect x="269.00" y="76.12" width="18.40" height="159.68" fill="#e4ff00"/><rect x="269.00" y="80.55" width="18.40" height="155.25" fill="#ceff00"/><rect x="269.00" y="84.97" width="18.40" height="150.83" fill="#b8ff00"/><rect x="269.00" y="89.40" width="18.40" height="146.40" fill="#a3ff00"/><rect x="269.00" y="93.83" width="18.40" height="141.97" fill="#8dff00"/><rect x="269.00" y="98.25" width="18.40" height="137.55" fill="#77ff00"/><rect x="269.00" y="102.68" width="18.40" height="133.12" fill="#62ff00"/><rect x="269.00" y="107.10" width="18.40" height="128.70" fill="#4cff00"/><rect x="269.00" y="111.53" width="18.40" height="124.28" fill="#36ff00"/><rect x="269.00" y="115.95" width="18.40" height="119.85" fill="#21ff00"/><rect x="269.00" y="120.38" width="18.40" height="115.43" fill="#0bff00"/><rect x="269.00" y="124.80" width="18.40" height="111.00" fill="#00ff0b"/><rect x="269.00" y="129.23" width="18.40" height="106.57" fill="#00ff21"/><rect x="269.00" y="133.65" width="18.40" height="102.15" fill="#00ff36"/><rect x="269.00" y="138.07" width="18.40" height="97.73" fill="#00ff4c"/><rect x="269.00" y="142.50" width="18.40" height="93.30" fill="#00ff62"/><rect x="269.00" y="146.93" width="18.40" height="88.88" fill="#00ff77"/><rect x="269.00" y="151.35" width="18.40" height="84.45" fill="#00ff8d"/><rect x="269.00" y="155.78" width="18.40" height="80.03" fill="#00ffa3"/><rect x="269.00" y="160.20" width="18.40" height="75.60" fill="#00ffb8"/><rect x="269.00" y="164.62" width="18.40" height="71.18" fill="#00ffce"/><rect x="269.00" y="169.05" width="18.40" height="66.75" fill="#00ffe4"/><rect x="269.00" y="173.47" width="18.40" height="62.33" fill="#00fffa"/><rect x="269.00" y="177.90" width="18.40" height="57.90" fill="#00efff"/><rect x="269.00" y="182.32" width="18.40" height="53.48" fill="#00d9ff"/><rect x="269.00" y="186.75" width="18.40" height="49.05" fill="#00c3ff"/><rect x="269.00" y="191.18" width="18.40" height="44.62" fill="#00aeff"/><rect x="269.00" y="195.60" width="18.40" height="40.20" fill="#0098ff"/><rect x="269.00" y="200.03" width="18.40" height="35.78" fill="#0082ff"/><rect x="269.00" y="204.45" width="18.40" height="31.35" fill="#006dff"/><rect x="269.00" y="208.88" width="18.40" height="26.93" fill="#0057ff"/><rect x="269.00" y="213.30" width="18.40" height="22.50" fill="#0041ff"/><rect x="269.00" y="217.72" width="18.40" height="18.08" fill="#002bff"/><rect x="269.00" y="222.15" width="18.40" height="13.65" fill="#0016ff"/><rect x="269.00" y="226.57" width="18.40" height="9.23" fill="#0000ff"/><path d="M287.40 14.00V235.80M287.40 18.60h3.8M287.40 45.15h3.8M287.40 71.70h3.8M287.40 98.25h3.8M287.40 124.80h3.8M287.40 151.35h3.8M287.40 177.90h3.8M287.40 204.45h3.8M287.40 231.00h3.8" stroke="#000" stroke-width="1.0" fill="none"/><g style="font-family:'Liberation Serif',serif;font-size:9.6px" fill="#111"><text x="295.00" y="21.77">0.80</text><text x="295.00" y="48.32">0.73</text><text x="295.00" y="74.87">0.65</text><text x="295.00" y="101.42">0.58</text><text x="295.00" y="127.97">0.50</text><text x="295.00" y="154.52">0.43</text><text x="295.00" y="181.07">0.35</text><text x="295.00" y="207.62">0.28</text><text x="295.00" y="234.17">0.20</text></g><path d="M392.00 14.50H623.20V236.00" fill="none" stroke="#000" stroke-width="1.5"/><path d="M392.00 13.75V236.00" stroke="#000" stroke-width="1.4" fill="none"/><path d="M391.30 236.00h-4.0M391.30 221.23h-1.9M391.30 206.47h-4.0M391.30 191.70h-1.9M391.30 176.93h-4.0M391.30 162.17h-1.9M391.30 147.40h-4.0M391.30 132.63h-1.9M391.30 117.87h-4.0M391.30 103.10h-1.9M391.30 88.33h-4.0M391.30 73.57h-1.9M391.30 58.80h-4.0M391.30 44.03h-1.9M391.30 29.27h-4.0M391.30 14.50h-1.9" stroke="#000" stroke-width="1.4" fill="none"/><path d="M388.00 236.00H623.95M392.00 236.00v4.0M407.41 236.00v1.9M422.83 236.00v4.0M438.24 236.00v1.9M453.65 236.00v4.0M469.07 236.00v1.9M484.48 236.00v4.0M499.89 236.00v1.9M515.31 236.00v4.0M530.72 236.00v1.9M546.13 236.00v4.0M561.55 236.00v1.9M576.96 236.00v4.0M592.37 236.00v1.9M607.79 236.00v4.0M623.20 236.00v1.9" stroke="#000" stroke-width="1.5" fill="none"/><g style="font-family:'Liberation Serif',serif;font-size:9.4px" fill="#111"><text x="392.00" y="250.60" text-anchor="middle">0</text><text x="384.40" y="239.10" text-anchor="end">0</text><text x="422.83" y="250.60" text-anchor="middle">2</text><text x="384.40" y="209.57" text-anchor="end">2</text><text x="453.65" y="250.60" text-anchor="middle">4</text><text x="384.40" y="180.04" text-anchor="end">4</text><text x="484.48" y="250.60" text-anchor="middle">6</text><text x="384.40" y="150.50" text-anchor="end">6</text><text x="515.31" y="250.60" text-anchor="middle">8</text><text x="384.40" y="120.97" text-anchor="end">8</text><text x="546.13" y="250.60" text-anchor="middle">10</text><text x="384.40" y="91.44" text-anchor="end">10</text><text x="576.96" y="250.60" text-anchor="middle">12</text><text x="384.40" y="61.90" text-anchor="end">12</text><text x="607.79" y="250.60" text-anchor="middle">14</text><text x="384.40" y="32.37" text-anchor="end">14</text></g><rect x="627.40" y="14.00" width="18.60" height="221.80" fill="#ff0000"/><rect x="627.40" y="18.60" width="18.60" height="217.20" fill="#ff0000"/><rect x="627.40" y="23.03" width="18.60" height="212.78" fill="#ff1600"/><rect x="627.40" y="27.45" width="18.60" height="208.35" fill="#ff2b00"/><rect x="627.40" y="31.88" width="18.60" height="203.93" fill="#ff4100"/><rect x="627.40" y="36.30" width="18.60" height="199.50" fill="#ff5700"/><rect x="627.40" y="40.72" width="18.60" height="195.08" fill="#ff6d00"/><rect x="627.40" y="45.15" width="18.60" height="190.65" fill="#ff8200"/><rect x="627.40" y="49.58" width="18.60" height="186.22" fill="#ff9800"/><rect x="627.40" y="54.00" width="18.60" height="181.80" fill="#ffae00"/><rect x="627.40" y="58.43" width="18.60" height="177.38" fill="#ffc300"/><rect x="627.40" y="62.85" width="18.60" height="172.95" fill="#ffd900"/><rect x="627.40" y="67.28" width="18.60" height="168.53" fill="#ffef00"/><rect x="627.40" y="71.70" width="18.60" height="164.10" fill="#faff00"/><rect x="627.40" y="76.12" width="18.60" height="159.68" fill="#e4ff00"/><rect x="627.40" y="80.55" width="18.60" height="155.25" fill="#ceff00"/><rect x="627.40" y="84.97" width="18.60" height="150.83" fill="#b8ff00"/><rect x="627.40" y="89.40" width="18.60" height="146.40" fill="#a3ff00"/><rect x="627.40" y="93.83" width="18.60" height="141.97" fill="#8dff00"/><rect x="627.40" y="98.25" width="18.60" height="137.55" fill="#77ff00"/><rect x="627.40" y="102.68" width="18.60" height="133.12" fill="#62ff00"/><rect x="627.40" y="107.10" width="18.60" height="128.70" fill="#4cff00"/><rect x="627.40" y="111.53" width="18.60" height="124.28" fill="#36ff00"/><rect x="627.40" y="115.95" width="18.60" height="119.85" fill="#21ff00"/><rect x="627.40" y="120.38" width="18.60" height="115.43" fill="#0bff00"/><rect x="627.40" y="124.80" width="18.60" height="111.00" fill="#00ff0b"/><rect x="627.40" y="129.23" width="18.60" height="106.57" fill="#00ff21"/><rect x="627.40" y="133.65" width="18.60" height="102.15" fill="#00ff36"/><rect x="627.40" y="138.07" width="18.60" height="97.73" fill="#00ff4c"/><rect x="627.40" y="142.50" width="18.60" height="93.30" fill="#00ff62"/><rect x="627.40" y="146.93" width="18.60" height="88.88" fill="#00ff77"/><rect x="627.40" y="151.35" width="18.60" height="84.45" fill="#00ff8d"/><rect x="627.40" y="155.78" width="18.60" height="80.03" fill="#00ffa3"/><rect x="627.40" y="160.20" width="18.60" height="75.60" fill="#00ffb8"/><rect x="627.40" y="164.62" width="18.60" height="71.18" fill="#00ffce"/><rect x="627.40" y="169.05" width="18.60" height="66.75" fill="#00ffe4"/><rect x="627.40" y="173.47" width="18.60" height="62.33" fill="#00fffa"/><rect x="627.40" y="177.90" width="18.60" height="57.90" fill="#00efff"/><rect x="627.40" y="182.32" width="18.60" height="53.48" fill="#00d9ff"/><rect x="627.40" y="186.75" width="18.60" height="49.05" fill="#00c3ff"/><rect x="627.40" y="191.18" width="18.60" height="44.62" fill="#00aeff"/><rect x="627.40" y="195.60" width="18.60" height="40.20" fill="#0098ff"/><rect x="627.40" y="200.03" width="18.60" height="35.78" fill="#0082ff"/><rect x="627.40" y="204.45" width="18.60" height="31.35" fill="#006dff"/><rect x="627.40" y="208.88" width="18.60" height="26.93" fill="#0057ff"/><rect x="627.40" y="213.30" width="18.60" height="22.50" fill="#0041ff"/><rect x="627.40" y="217.72" width="18.60" height="18.08" fill="#002bff"/><rect x="627.40" y="222.15" width="18.60" height="13.65" fill="#0016ff"/><rect x="627.40" y="226.57" width="18.60" height="9.23" fill="#0000ff"/><path d="M646.00 14.00V235.80M646.00 18.60h3.8M646.00 45.15h3.8M646.00 71.70h3.8M646.00 98.25h3.8M646.00 124.80h3.8M646.00 151.35h3.8M646.00 177.90h3.8M646.00 204.45h3.8M646.00 231.00h3.8" stroke="#555" stroke-width="1.0" fill="none"/><g style="font-family:'Liberation Serif',serif;font-size:9.6px" fill="#111"><text x="652.80" y="21.77">0.80</text><text x="652.80" y="48.32">0.73</text><text x="652.80" y="74.87">0.65</text><text x="652.80" y="101.42">0.58</text><text x="652.80" y="127.97">0.50</text><text x="652.80" y="154.52">0.43</text><text x="652.80" y="181.07">0.35</text><text x="652.80" y="207.62">0.28</text><text x="652.80" y="234.17">0.20</text></g><path d="M33.60 318.50H265.40V540.00" fill="none" stroke="#444" stroke-width="1.0"/><path d="M33.60 318.00V540.00" stroke="#888" stroke-width="1.0" fill="none"/><path d="M33.10 540.00h-3.5M33.10 525.23h-1.8M33.10 510.47h-3.5M33.10 495.70h-1.8M33.10 480.93h-3.5M33.10 466.17h-1.8M33.10 451.40h-3.5M33.10 436.63h-1.8M33.10 421.87h-3.5M33.10 407.10h-1.8M33.10 392.33h-3.5M33.10 377.57h-1.8M33.10 362.80h-3.5M33.10 348.03h-1.8M33.10 333.27h-3.5M33.10 318.50h-1.8" stroke="#222" stroke-width="1.1" fill="none"/><path d="M30.10 540.00H265.90M33.60 540.00v3.5M49.05 540.00v1.8M64.51 540.00v3.5M79.96 540.00v1.8M95.41 540.00v3.5M110.87 540.00v1.8M126.32 540.00v3.5M141.77 540.00v1.8M157.23 540.00v3.5M172.68 540.00v1.8M188.13 540.00v3.5M203.59 540.00v1.8M219.04 540.00v3.5M234.49 540.00v1.8M249.95 540.00v3.5M265.40 540.00v1.8" stroke="#111" stroke-width="1.3" fill="none"/><g style="font-family:'Liberation Serif',serif;font-size:9px" fill="#111"><text x="33.60" y="554.70" text-anchor="middle">0</text><text x="26.60" y="542.97" text-anchor="end">0</text><text x="64.51" y="554.70" text-anchor="middle">2</text><text x="26.60" y="513.44" text-anchor="end">2</text><text x="95.41" y="554.70" text-anchor="middle">4</text><text x="26.60" y="483.90" text-anchor="end">4</text><text x="126.32" y="554.70" text-anchor="middle">6</text><text x="26.60" y="454.37" text-anchor="end">6</text><text x="157.23" y="554.70" text-anchor="middle">8</text><text x="26.60" y="424.84" text-anchor="end">8</text><text x="188.13" y="554.70" text-anchor="middle">10</text><text x="26.60" y="395.30" text-anchor="end">10</text><text x="219.04" y="554.70" text-anchor="middle">12</text><text x="26.60" y="365.77" text-anchor="end">12</text><text x="249.95" y="554.70" text-anchor="middle">14</text><text x="26.60" y="336.24" text-anchor="end">14</text></g><rect x="272.00" y="320.00" width="19.00" height="223.00" fill="#ff0000"/><rect x="272.00" y="324.60" width="19.00" height="218.40" fill="#ff0000"/><rect x="272.00" y="329.05" width="19.00" height="213.95" fill="#ff1600"/><rect x="272.00" y="333.50" width="19.00" height="209.50" fill="#ff2b00"/><rect x="272.00" y="337.95" width="19.00" height="205.05" fill="#ff4100"/><rect x="272.00" y="342.40" width="19.00" height="200.60" fill="#ff5700"/><rect x="272.00" y="346.85" width="19.00" height="196.15" fill="#ff6d00"/><rect x="272.00" y="351.30" width="19.00" height="191.70" fill="#ff8200"/><rect x="272.00" y="355.75" width="19.00" height="187.25" fill="#ff9800"/><rect x="272.00" y="360.20" width="19.00" height="182.80" fill="#ffae00"/><rect x="272.00" y="364.65" width="19.00" height="178.35" fill="#ffc300"/><rect x="272.00" y="369.10" width="19.00" height="173.90" fill="#ffd900"/><rect x="272.00" y="373.55" width="19.00" height="169.45" fill="#ffef00"/><rect x="272.00" y="378.00" width="19.00" height="165.00" fill="#faff00"/><rect x="272.00" y="382.45" width="19.00" height="160.55" fill="#e4ff00"/><rect x="272.00" y="386.90" width="19.00" height="156.10" fill="#ceff00"/><rect x="272.00" y="391.35" width="19.00" height="151.65" fill="#b8ff00"/><rect x="272.00" y="395.80" width="19.00" height="147.20" fill="#a3ff00"/><rect x="272.00" y="400.25" width="19.00" height="142.75" fill="#8dff00"/><rect x="272.00" y="404.70" width="19.00" height="138.30" fill="#77ff00"/><rect x="272.00" y="409.15" width="19.00" height="133.85" fill="#62ff00"/><rect x="272.00" y="413.60" width="19.00" height="129.40" fill="#4cff00"/><rect x="272.00" y="418.05" width="19.00" height="124.95" fill="#36ff00"/><rect x="272.00" y="422.50" width="19.00" height="120.50" fill="#21ff00"/><rect x="272.00" y="426.95" width="19.00" height="116.05" fill="#0bff00"/><rect x="272.00" y="431.40" width="19.00" height="111.60" fill="#00ff0b"/><rect x="272.00" y="435.85" width="19.00" height="107.15" fill="#00ff21"/><rect x="272.00" y="440.30" width="19.00" height="102.70" fill="#00ff36"/><rect x="272.00" y="444.75" width="19.00" height="98.25" fill="#00ff4c"/><rect x="272.00" y="449.20" width="19.00" height="93.80" fill="#00ff62"/><rect x="272.00" y="453.65" width="19.00" height="89.35" fill="#00ff77"/><rect x="272.00" y="458.10" width="19.00" height="84.90" fill="#00ff8d"/><rect x="272.00" y="462.55" width="19.00" height="80.45" fill="#00ffa3"/><rect x="272.00" y="467.00" width="19.00" height="76.00" fill="#00ffb8"/><rect x="272.00" y="471.45" width="19.00" height="71.55" fill="#00ffce"/><rect x="272.00" y="475.90" width="19.00" height="67.10" fill="#00ffe4"/><rect x="272.00" y="480.35" width="19.00" height="62.65" fill="#00fffa"/><rect x="272.00" y="484.80" width="19.00" height="58.20" fill="#00efff"/><rect x="272.00" y="489.25" width="19.00" height="53.75" fill="#00d9ff"/><rect x="272.00" y="493.70" width="19.00" height="49.30" fill="#00c3ff"/><rect x="272.00" y="498.15" width="19.00" height="44.85" fill="#00aeff"/><rect x="272.00" y="502.60" width="19.00" height="40.40" fill="#0098ff"/><rect x="272.00" y="507.05" width="19.00" height="35.95" fill="#0082ff"/><rect x="272.00" y="511.50" width="19.00" height="31.50" fill="#006dff"/><rect x="272.00" y="515.95" width="19.00" height="27.05" fill="#0057ff"/><rect x="272.00" y="520.40" width="19.00" height="22.60" fill="#0041ff"/><rect x="272.00" y="524.85" width="19.00" height="18.15" fill="#002bff"/><rect x="272.00" y="529.30" width="19.00" height="13.70" fill="#0016ff"/><rect x="272.00" y="533.75" width="19.00" height="9.25" fill="#0000ff"/><rect x="272.00" y="320.00" width="19.00" height="223.00" fill="none" stroke="#555" stroke-width="0.7"/><path d="M291.00 320.00V543.00M291.00 324.60h3.5M291.00 351.30h3.5M291.00 378.00h3.5M291.00 404.70h3.5M291.00 431.40h3.5M291.00 458.10h3.5M291.00 484.80h3.5M291.00 511.50h3.5M291.00 538.20h3.5" stroke="#333" stroke-width="1.0" fill="none"/><g style="font-family:'Liberation Serif',serif;font-size:7.2px" fill="#111"><text x="297.80" y="326.98">0.85</text><text x="297.80" y="353.68">0.77</text><text x="297.80" y="380.38">0.69</text><text x="297.80" y="407.08">0.61</text><text x="297.80" y="433.78">0.53</text><text x="297.80" y="460.48">0.44</text><text x="297.80" y="487.18">0.36</text><text x="297.80" y="513.88">0.28</text><text x="297.80" y="540.58">0.20</text></g><path d="M396.60 320.80H625.40V541.00" fill="none" stroke="#444" stroke-width="1.0"/><path d="M396.60 320.30V541.00" stroke="#444" stroke-width="1.0" fill="none"/><path d="M396.10 541.00h-3.5M396.10 526.32h-1.8M396.10 511.64h-3.5M396.10 496.96h-1.8M396.10 482.28h-3.5M396.10 467.60h-1.8M396.10 452.92h-3.5M396.10 438.24h-1.8M396.10 423.56h-3.5M396.10 408.88h-1.8M396.10 394.20h-3.5M396.10 379.52h-1.8M396.10 364.84h-3.5M396.10 350.16h-1.8M396.10 335.48h-3.5M396.10 320.80h-1.8" stroke="#222" stroke-width="1.1" fill="none"/><path d="M393.10 541.00H625.90M396.60 541.00v3.5M411.85 541.00v1.8M427.11 541.00v3.5M442.36 541.00v1.8M457.61 541.00v3.5M472.87 541.00v1.8M488.12 541.00v3.5M503.37 541.00v1.8M518.63 541.00v3.5M533.88 541.00v1.8M549.13 541.00v3.5M564.39 541.00v1.8M579.64 541.00v3.5M594.89 541.00v1.8M610.15 541.00v3.5M625.40 541.00v1.8" stroke="#222" stroke-width="1.2" fill="none"/><g style="font-family:'Liberation Serif',serif;font-size:9px" fill="#111"><text x="396.60" y="555.70" text-anchor="middle">0</text><text x="389.60" y="543.97" text-anchor="end">0</text><text x="427.11" y="555.70" text-anchor="middle">2</text><text x="389.60" y="514.61" text-anchor="end">2</text><text x="457.61" y="555.70" text-anchor="middle">4</text><text x="389.60" y="485.25" text-anchor="end">4</text><text x="488.12" y="555.70" text-anchor="middle">6</text><text x="389.60" y="455.89" text-anchor="end">6</text><text x="518.63" y="555.70" text-anchor="middle">8</text><text x="389.60" y="426.53" text-anchor="end">8</text><text x="549.13" y="555.70" text-anchor="middle">10</text><text x="389.60" y="397.17" text-anchor="end">10</text><text x="579.64" y="555.70" text-anchor="middle">12</text><text x="389.60" y="367.81" text-anchor="end">12</text><text x="610.15" y="555.70" text-anchor="middle">14</text><text x="389.60" y="338.45" text-anchor="end">14</text></g><rect x="631.20" y="320.00" width="18.80" height="219.60" fill="#ff0000"/><rect x="631.20" y="324.60" width="18.80" height="215.00" fill="#ff0000"/><rect x="631.20" y="329.00" width="18.80" height="210.60" fill="#ff1600"/><rect x="631.20" y="333.39" width="18.80" height="206.21" fill="#ff2b00"/><rect x="631.20" y="337.79" width="18.80" height="201.81" fill="#ff4100"/><rect x="631.20" y="342.18" width="18.80" height="197.42" fill="#ff5700"/><rect x="631.20" y="346.58" width="18.80" height="193.02" fill="#ff6d00"/><rect x="631.20" y="350.98" width="18.80" height="188.62" fill="#ff8200"/><rect x="631.20" y="355.37" width="18.80" height="184.23" fill="#ff9800"/><rect x="631.20" y="359.77" width="18.80" height="179.83" fill="#ffae00"/><rect x="631.20" y="364.16" width="18.80" height="175.44" fill="#ffc300"/><rect x="631.20" y="368.56" width="18.80" height="171.04" fill="#ffd900"/><rect x="631.20" y="372.95" width="18.80" height="166.65" fill="#ffef00"/><rect x="631.20" y="377.35" width="18.80" height="162.25" fill="#faff00"/><rect x="631.20" y="381.75" width="18.80" height="157.85" fill="#e4ff00"/><rect x="631.20" y="386.14" width="18.80" height="153.46" fill="#ceff00"/><rect x="631.20" y="390.54" width="18.80" height="149.06" fill="#b8ff00"/><rect x="631.20" y="394.93" width="18.80" height="144.67" fill="#a3ff00"/><rect x="631.20" y="399.33" width="18.80" height="140.27" fill="#8dff00"/><rect x="631.20" y="403.73" width="18.80" height="135.88" fill="#77ff00"/><rect x="631.20" y="408.12" width="18.80" height="131.48" fill="#62ff00"/><rect x="631.20" y="412.52" width="18.80" height="127.08" fill="#4cff00"/><rect x="631.20" y="416.91" width="18.80" height="122.69" fill="#36ff00"/><rect x="631.20" y="421.31" width="18.80" height="118.29" fill="#21ff00"/><rect x="631.20" y="425.70" width="18.80" height="113.90" fill="#0bff00"/><rect x="631.20" y="430.10" width="18.80" height="109.50" fill="#00ff0b"/><rect x="631.20" y="434.50" width="18.80" height="105.10" fill="#00ff21"/><rect x="631.20" y="438.89" width="18.80" height="100.71" fill="#00ff36"/><rect x="631.20" y="443.29" width="18.80" height="96.31" fill="#00ff4c"/><rect x="631.20" y="447.68" width="18.80" height="91.92" fill="#00ff62"/><rect x="631.20" y="452.08" width="18.80" height="87.52" fill="#00ff77"/><rect x="631.20" y="456.48" width="18.80" height="83.12" fill="#00ff8d"/><rect x="631.20" y="460.87" width="18.80" height="78.73" fill="#00ffa3"/><rect x="631.20" y="465.27" width="18.80" height="74.33" fill="#00ffb8"/><rect x="631.20" y="469.66" width="18.80" height="69.94" fill="#00ffce"/><rect x="631.20" y="474.06" width="18.80" height="65.54" fill="#00ffe4"/><rect x="631.20" y="478.45" width="18.80" height="61.15" fill="#00fffa"/><rect x="631.20" y="482.85" width="18.80" height="56.75" fill="#00efff"/><rect x="631.20" y="487.25" width="18.80" height="52.35" fill="#00d9ff"/><rect x="631.20" y="491.64" width="18.80" height="47.96" fill="#00c3ff"/><rect x="631.20" y="496.04" width="18.80" height="43.56" fill="#00aeff"/><rect x="631.20" y="500.43" width="18.80" height="39.17" fill="#0098ff"/><rect x="631.20" y="504.83" width="18.80" height="34.77" fill="#0082ff"/><rect x="631.20" y="509.23" width="18.80" height="30.38" fill="#006dff"/><rect x="631.20" y="513.62" width="18.80" height="25.98" fill="#0057ff"/><rect x="631.20" y="518.02" width="18.80" height="21.58" fill="#0041ff"/><rect x="631.20" y="522.41" width="18.80" height="17.19" fill="#002bff"/><rect x="631.20" y="526.81" width="18.80" height="12.79" fill="#0016ff"/><rect x="631.20" y="531.20" width="18.80" height="8.40" fill="#0000ff"/><rect x="631.20" y="320.00" width="18.80" height="219.60" fill="none" stroke="#333" stroke-width="0.8"/><path d="M650.00 320.00V539.60M650.00 324.60h3.5M650.00 350.98h3.5M650.00 377.35h3.5M650.00 403.73h3.5M650.00 430.10h3.5M650.00 456.48h3.5M650.00 482.85h3.5M650.00 509.23h3.5M650.00 535.60h3.5" stroke="#333" stroke-width="1.0" fill="none"/><g style="font-family:'Liberation Serif',serif;font-size:7.3px" fill="#111"><text x="656.40" y="327.01">0.86</text><text x="656.40" y="353.38">0.78</text><text x="656.40" y="379.76">0.69</text><text x="656.40" y="406.13">0.61</text><text x="656.40" y="432.51">0.53</text><text x="656.40" y="458.88">0.45</text><text x="656.40" y="485.26">0.36</text><text x="656.40" y="511.63">0.28</text><text x="656.40" y="538.01">0.20</text></g><path d="M44.00 624.60H275.20V845.20" fill="none" stroke="#555" stroke-width="1.0"/><path d="M44.00 624.10V845.20" stroke="#000" stroke-width="1.6" fill="none"/><path d="M43.20 845.20h-3.5M43.20 830.49h-1.8M43.20 815.79h-3.5M43.20 801.08h-1.8M43.20 786.37h-3.5M43.20 771.67h-1.8M43.20 756.96h-3.5M43.20 742.25h-1.8M43.20 727.55h-3.5M43.20 712.84h-1.8M43.20 698.13h-3.5M43.20 683.43h-1.8M43.20 668.72h-3.5M43.20 654.01h-1.8M43.20 639.31h-3.5M43.20 624.60h-1.8" stroke="#000" stroke-width="1.6" fill="none"/><path d="M40.50 845.20H275.70M44.00 845.20v3.5M59.41 845.20v1.8M74.83 845.20v3.5M90.24 845.20v1.8M105.65 845.20v3.5M121.07 845.20v1.8M136.48 845.20v3.5M151.89 845.20v1.8M167.31 845.20v3.5M182.72 845.20v1.8M198.13 845.20v3.5M213.55 845.20v1.8M228.96 845.20v3.5M244.37 845.20v1.8M259.79 845.20v3.5M275.20 845.20v1.8" stroke="#111" stroke-width="1.3" fill="none"/><g style="font-family:'Liberation Serif',serif;font-size:9px" fill="#111"><text x="44.00" y="859.90" text-anchor="middle">0</text><text x="37.00" y="848.17" text-anchor="end">0</text><text x="74.83" y="859.90" text-anchor="middle">2</text><text x="37.00" y="818.76" text-anchor="end">2</text><text x="105.65" y="859.90" text-anchor="middle">4</text><text x="37.00" y="789.34" text-anchor="end">4</text><text x="136.48" y="859.90" text-anchor="middle">6</text><text x="37.00" y="759.93" text-anchor="end">6</text><text x="167.31" y="859.90" text-anchor="middle">8</text><text x="37.00" y="730.52" text-anchor="end">8</text><text x="198.13" y="859.90" text-anchor="middle">10</text><text x="37.00" y="701.10" text-anchor="end">10</text><text x="228.96" y="859.90" text-anchor="middle">12</text><text x="37.00" y="671.69" text-anchor="end">12</text><text x="259.79" y="859.90" text-anchor="middle">14</text><text x="37.00" y="642.28" text-anchor="end">14</text></g><rect x="285.00" y="625.40" width="18.00" height="221.00" fill="#ff0000"/><rect x="285.00" y="630.00" width="18.00" height="216.40" fill="#ff0000"/><rect x="285.00" y="634.42" width="18.00" height="211.98" fill="#ff1600"/><rect x="285.00" y="638.83" width="18.00" height="207.57" fill="#ff2b00"/><rect x="285.00" y="643.25" width="18.00" height="203.15" fill="#ff4100"/><rect x="285.00" y="647.67" width="18.00" height="198.73" fill="#ff5700"/><rect x="285.00" y="652.08" width="18.00" height="194.32" fill="#ff6d00"/><rect x="285.00" y="656.50" width="18.00" height="189.90" fill="#ff8200"/><rect x="285.00" y="660.92" width="18.00" height="185.48" fill="#ff9800"/><rect x="285.00" y="665.33" width="18.00" height="181.07" fill="#ffae00"/><rect x="285.00" y="669.75" width="18.00" height="176.65" fill="#ffc300"/><rect x="285.00" y="674.17" width="18.00" height="172.23" fill="#ffd900"/><rect x="285.00" y="678.58" width="18.00" height="167.82" fill="#ffef00"/><rect x="285.00" y="683.00" width="18.00" height="163.40" fill="#faff00"/><rect x="285.00" y="687.42" width="18.00" height="158.98" fill="#e4ff00"/><rect x="285.00" y="691.83" width="18.00" height="154.57" fill="#ceff00"/><rect x="285.00" y="696.25" width="18.00" height="150.15" fill="#b8ff00"/><rect x="285.00" y="700.67" width="18.00" height="145.73" fill="#a3ff00"/><rect x="285.00" y="705.08" width="18.00" height="141.32" fill="#8dff00"/><rect x="285.00" y="709.50" width="18.00" height="136.90" fill="#77ff00"/><rect x="285.00" y="713.92" width="18.00" height="132.48" fill="#62ff00"/><rect x="285.00" y="718.33" width="18.00" height="128.07" fill="#4cff00"/><rect x="285.00" y="722.75" width="18.00" height="123.65" fill="#36ff00"/><rect x="285.00" y="727.17" width="18.00" height="119.23" fill="#21ff00"/><rect x="285.00" y="731.58" width="18.00" height="114.82" fill="#0bff00"/><rect x="285.00" y="736.00" width="18.00" height="110.40" fill="#00ff0b"/><rect x="285.00" y="740.42" width="18.00" height="105.98" fill="#00ff21"/><rect x="285.00" y="744.83" width="18.00" height="101.57" fill="#00ff36"/><rect x="285.00" y="749.25" width="18.00" height="97.15" fill="#00ff4c"/><rect x="285.00" y="753.67" width="18.00" height="92.73" fill="#00ff62"/><rect x="285.00" y="758.08" width="18.00" height="88.32" fill="#00ff77"/><rect x="285.00" y="762.50" width="18.00" height="83.90" fill="#00ff8d"/><rect x="285.00" y="766.92" width="18.00" height="79.48" fill="#00ffa3"/><rect x="285.00" y="771.33" width="18.00" height="75.07" fill="#00ffb8"/><rect x="285.00" y="775.75" width="18.00" height="70.65" fill="#00ffce"/><rect x="285.00" y="780.17" width="18.00" height="66.23" fill="#00ffe4"/><rect x="285.00" y="784.58" width="18.00" height="61.82" fill="#00fffa"/><rect x="285.00" y="789.00" width="18.00" height="57.40" fill="#00efff"/><rect x="285.00" y="793.42" width="18.00" height="52.98" fill="#00d9ff"/><rect x="285.00" y="797.83" width="18.00" height="48.57" fill="#00c3ff"/><rect x="285.00" y="802.25" width="18.00" height="44.15" fill="#00aeff"/><rect x="285.00" y="806.67" width="18.00" height="39.73" fill="#0098ff"/><rect x="285.00" y="811.08" width="18.00" height="35.32" fill="#0082ff"/><rect x="285.00" y="815.50" width="18.00" height="30.90" fill="#006dff"/><rect x="285.00" y="819.92" width="18.00" height="26.48" fill="#0057ff"/><rect x="285.00" y="824.33" width="18.00" height="22.07" fill="#0041ff"/><rect x="285.00" y="828.75" width="18.00" height="17.65" fill="#002bff"/><rect x="285.00" y="833.17" width="18.00" height="13.23" fill="#0016ff"/><rect x="285.00" y="837.58" width="18.00" height="8.82" fill="#0000ff"/><rect x="285.00" y="625.40" width="18.00" height="221.00" fill="none" stroke="#555" stroke-width="0.7"/><path d="M303.00 625.40V846.40M303.00 630.00h3.5M303.00 656.50h3.5M303.00 683.00h3.5M303.00 709.50h3.5M303.00 736.00h3.5M303.00 762.50h3.5M303.00 789.00h3.5M303.00 815.50h3.5M303.00 842.00h3.5" stroke="#333" stroke-width="1.0" fill="none"/><g style="font-family:'Liberation Serif',serif;font-size:7.8px" fill="#111"><text x="309.40" y="632.57">0.96</text><text x="309.40" y="659.07">0.86</text><text x="309.40" y="685.57">0.77</text><text x="309.40" y="712.07">0.67</text><text x="309.40" y="738.57">0.58</text><text x="309.40" y="765.07">0.48</text><text x="309.40" y="791.57">0.39</text><text x="309.40" y="818.07">0.29</text><text x="309.40" y="844.57">0.20</text></g><path d="M409.60 625.40H639.60V845.60" fill="none" stroke="#333" stroke-width="1.1"/><path d="M409.60 624.85V845.60" stroke="#000" stroke-width="1.6" fill="none"/><path d="M408.80 845.60h-3.5M408.80 830.92h-1.8M408.80 816.24h-3.5M408.80 801.56h-1.8M408.80 786.88h-3.5M408.80 772.20h-1.8M408.80 757.52h-3.5M408.80 742.84h-1.8M408.80 728.16h-3.5M408.80 713.48h-1.8M408.80 698.80h-3.5M408.80 684.12h-1.8M408.80 669.44h-3.5M408.80 654.76h-1.8M408.80 640.08h-3.5M408.80 625.40h-1.8" stroke="#000" stroke-width="1.6" fill="none"/><path d="M406.10 845.60H640.15M409.60 845.60v3.5M424.93 845.60v1.8M440.27 845.60v3.5M455.60 845.60v1.8M470.93 845.60v3.5M486.27 845.60v1.8M501.60 845.60v3.5M516.93 845.60v1.8M532.27 845.60v3.5M547.60 845.60v1.8M562.93 845.60v3.5M578.27 845.60v1.8M593.60 845.60v3.5M608.93 845.60v1.8M624.27 845.60v3.5M639.60 845.60v1.8" stroke="#111" stroke-width="1.3" fill="none"/><g style="font-family:'Liberation Serif',serif;font-size:9px" fill="#111"><text x="409.60" y="860.30" text-anchor="middle">0</text><text x="402.60" y="848.57" text-anchor="end">0</text><text x="440.27" y="860.30" text-anchor="middle">2</text><text x="402.60" y="819.21" text-anchor="end">2</text><text x="470.93" y="860.30" text-anchor="middle">4</text><text x="402.60" y="789.85" text-anchor="end">4</text><text x="501.60" y="860.30" text-anchor="middle">6</text><text x="402.60" y="760.49" text-anchor="end">6</text><text x="532.27" y="860.30" text-anchor="middle">8</text><text x="402.60" y="731.13" text-anchor="end">8</text><text x="562.93" y="860.30" text-anchor="middle">10</text><text x="402.60" y="701.77" text-anchor="end">10</text><text x="593.60" y="860.30" text-anchor="middle">12</text><text x="402.60" y="672.41" text-anchor="end">12</text><text x="624.27" y="860.30" text-anchor="middle">14</text><text x="402.60" y="643.05" text-anchor="end">14</text></g><rect x="645.40" y="625.40" width="18.20" height="220.20" fill="#ff0000"/><rect x="645.40" y="629.60" width="18.20" height="216.00" fill="#ff0000"/><rect x="645.40" y="634.01" width="18.20" height="211.59" fill="#ff1600"/><rect x="645.40" y="638.43" width="18.20" height="207.17" fill="#ff2b00"/><rect x="645.40" y="642.84" width="18.20" height="202.76" fill="#ff4100"/><rect x="645.40" y="647.25" width="18.20" height="198.35" fill="#ff5700"/><rect x="645.40" y="651.66" width="18.20" height="193.94" fill="#ff6d00"/><rect x="645.40" y="656.08" width="18.20" height="189.52" fill="#ff8200"/><rect x="645.40" y="660.49" width="18.20" height="185.11" fill="#ff9800"/><rect x="645.40" y="664.90" width="18.20" height="180.70" fill="#ffae00"/><rect x="645.40" y="669.31" width="18.20" height="176.29" fill="#ffc300"/><rect x="645.40" y="673.73" width="18.20" height="171.88" fill="#ffd900"/><rect x="645.40" y="678.14" width="18.20" height="167.46" fill="#ffef00"/><rect x="645.40" y="682.55" width="18.20" height="163.05" fill="#faff00"/><rect x="645.40" y="686.96" width="18.20" height="158.64" fill="#e4ff00"/><rect x="645.40" y="691.38" width="18.20" height="154.23" fill="#ceff00"/><rect x="645.40" y="695.79" width="18.20" height="149.81" fill="#b8ff00"/><rect x="645.40" y="700.20" width="18.20" height="145.40" fill="#a3ff00"/><rect x="645.40" y="704.61" width="18.20" height="140.99" fill="#8dff00"/><rect x="645.40" y="709.02" width="18.20" height="136.58" fill="#77ff00"/><rect x="645.40" y="713.44" width="18.20" height="132.16" fill="#62ff00"/><rect x="645.40" y="717.85" width="18.20" height="127.75" fill="#4cff00"/><rect x="645.40" y="722.26" width="18.20" height="123.34" fill="#36ff00"/><rect x="645.40" y="726.67" width="18.20" height="118.93" fill="#21ff00"/><rect x="645.40" y="731.09" width="18.20" height="114.51" fill="#0bff00"/><rect x="645.40" y="735.50" width="18.20" height="110.10" fill="#00ff0b"/><rect x="645.40" y="739.91" width="18.20" height="105.69" fill="#00ff21"/><rect x="645.40" y="744.33" width="18.20" height="101.27" fill="#00ff36"/><rect x="645.40" y="748.74" width="18.20" height="96.86" fill="#00ff4c"/><rect x="645.40" y="753.15" width="18.20" height="92.45" fill="#00ff62"/><rect x="645.40" y="757.56" width="18.20" height="88.04" fill="#00ff77"/><rect x="645.40" y="761.98" width="18.20" height="83.62" fill="#00ff8d"/><rect x="645.40" y="766.39" width="18.20" height="79.21" fill="#00ffa3"/><rect x="645.40" y="770.80" width="18.20" height="74.80" fill="#00ffb8"/><rect x="645.40" y="775.21" width="18.20" height="70.39" fill="#00ffce"/><rect x="645.40" y="779.62" width="18.20" height="65.98" fill="#00ffe4"/><rect x="645.40" y="784.04" width="18.20" height="61.56" fill="#00fffa"/><rect x="645.40" y="788.45" width="18.20" height="57.15" fill="#00efff"/><rect x="645.40" y="792.86" width="18.20" height="52.74" fill="#00d9ff"/><rect x="645.40" y="797.27" width="18.20" height="48.33" fill="#00c3ff"/><rect x="645.40" y="801.69" width="18.20" height="43.91" fill="#00aeff"/><rect x="645.40" y="806.10" width="18.20" height="39.50" fill="#0098ff"/><rect x="645.40" y="810.51" width="18.20" height="35.09" fill="#0082ff"/><rect x="645.40" y="814.92" width="18.20" height="30.68" fill="#006dff"/><rect x="645.40" y="819.34" width="18.20" height="26.26" fill="#0057ff"/><rect x="645.40" y="823.75" width="18.20" height="21.85" fill="#0041ff"/><rect x="645.40" y="828.16" width="18.20" height="17.44" fill="#002bff"/><rect x="645.40" y="832.57" width="18.20" height="13.03" fill="#0016ff"/><rect x="645.40" y="836.99" width="18.20" height="8.61" fill="#0000ff"/><rect x="645.40" y="625.40" width="18.20" height="220.20" fill="none" stroke="#333" stroke-width="0.8"/><path d="M663.60 625.40V845.60M663.60 629.60h3.5M663.60 656.08h3.5M663.60 682.55h3.5M663.60 709.02h3.5M663.60 735.50h3.5M663.60 761.98h3.5M663.60 788.45h3.5M663.60 814.92h3.5M663.60 841.40h3.5" stroke="#333" stroke-width="1.0" fill="none"/><g style="font-family:'Liberation Serif',serif;font-size:7.4px" fill="#111"><text x="670.30" y="632.04">0.98</text><text x="670.30" y="658.52">0.88</text><text x="670.30" y="684.99">0.78</text><text x="670.30" y="711.47">0.68</text><text x="670.30" y="737.94">0.59</text><text x="670.30" y="764.42">0.49</text><text x="670.30" y="790.89">0.39</text><text x="670.30" y="817.37">0.30</text><text x="670.30" y="843.84">0.20</text></g><g style="font-family:'Liberation Serif',serif" fill="#111"><text x="268.9" y="8.2" font-size="11" text-anchor="start">cp%</text><text x="627.6" y="8.2" font-size="11" text-anchor="start">cp%</text><text x="271.0" y="312.6" font-size="11" text-anchor="start">cp%</text><text x="630.6" y="312.6" font-size="11" text-anchor="start">cp%</text><text x="284.0" y="617.6" font-size="11" text-anchor="start">cp%</text><text x="644.6" y="617.6" font-size="11" text-anchor="start">cp%</text><text x="135.2" y="269.0" font-size="11.5" text-anchor="start">X/mm</text><text x="493.4" y="269.2" font-size="11.5" text-anchor="start">X/mm</text><text x="135.1" y="573.8" font-size="11.5" text-anchor="start">X/mm</text><text x="496.9" y="574.0" font-size="11.5" text-anchor="start">X/mm</text><text x="146.0" y="878.6" font-size="11.5" text-anchor="start">X/mm</text><text x="510.9" y="878.4" font-size="11.5" text-anchor="start">X/mm</text><text transform="translate(82.6 294.0) scale(1 1.05)" font-size="21.15" fill="#000" stroke="#000" stroke-width="0.25">Square simulation</text><text transform="translate(461.4 294.4) scale(1 1.05)" font-size="21.15" fill="#000" stroke="#000" stroke-width="0.25">Square predict</text><text transform="translate(56.0 320.0) scale(1 1.05)" font-size="21.15" fill="#000" stroke="#000" stroke-width="0.25">(a)</text><text transform="translate(430.8 322.0) scale(1 1.05)" font-size="21.15" fill="#000" stroke="#000" stroke-width="0.25">(b)</text><text transform="translate(46.8 599.3) scale(1 1.05)" font-size="21.15" fill="#000" stroke="#000" stroke-width="0.25">(c)</text><text transform="translate(79.0 599.3) scale(1 1.05)" font-size="21.15" fill="#000" stroke="#000" stroke-width="0.25">Round simulation</text><text transform="translate(426.1 599.3) scale(1 1.05)" font-size="21.15" fill="#000" stroke="#000" stroke-width="0.25">(d)</text><text transform="translate(454.8 599.3) scale(1 1.05)" font-size="21.15" fill="#000" stroke="#000" stroke-width="0.25">Round predict</text><text transform="translate(36.9 903.8) scale(1 1.05)" font-size="21.15" fill="#000" stroke="#000" stroke-width="0.25">(e)</text><text transform="translate(64.8 903.8) scale(1 1.05)" font-size="21.15" fill="#000" stroke="#000" stroke-width="0.25">Trapezoidal simulation</text><text transform="translate(425.0 903.9) scale(1 1.05)" font-size="21.15" fill="#000" stroke="#000" stroke-width="0.25">(f)</text><text transform="translate(454.8 903.9) scale(1 1.05)" font-size="21.15" fill="#000" stroke="#000" stroke-width="0.25">Trapezoidal predict</text><text transform="translate(8.2 124.6) rotate(-90)" font-size="11.5" text-anchor="middle" y="3.80">Y/mm</text><text transform="translate(366.0 124.6) rotate(-90)" font-size="11.5" text-anchor="middle" y="3.80">Y/mm</text><text transform="translate(8.0 430.0) rotate(-90)" font-size="12" text-anchor="middle" y="3.96">Y/mm</text><text transform="translate(370.6 431.6) rotate(-90)" font-size="12" text-anchor="middle" y="3.96">Y/mm</text><text transform="translate(18.8 735.0) rotate(-90)" font-size="12" text-anchor="middle" y="3.96">Y/mm</text><text transform="translate(385.0 735.5) rotate(-90)" font-size="12" text-anchor="middle" y="3.96">Y/mm</text></g></svg></body></html>
